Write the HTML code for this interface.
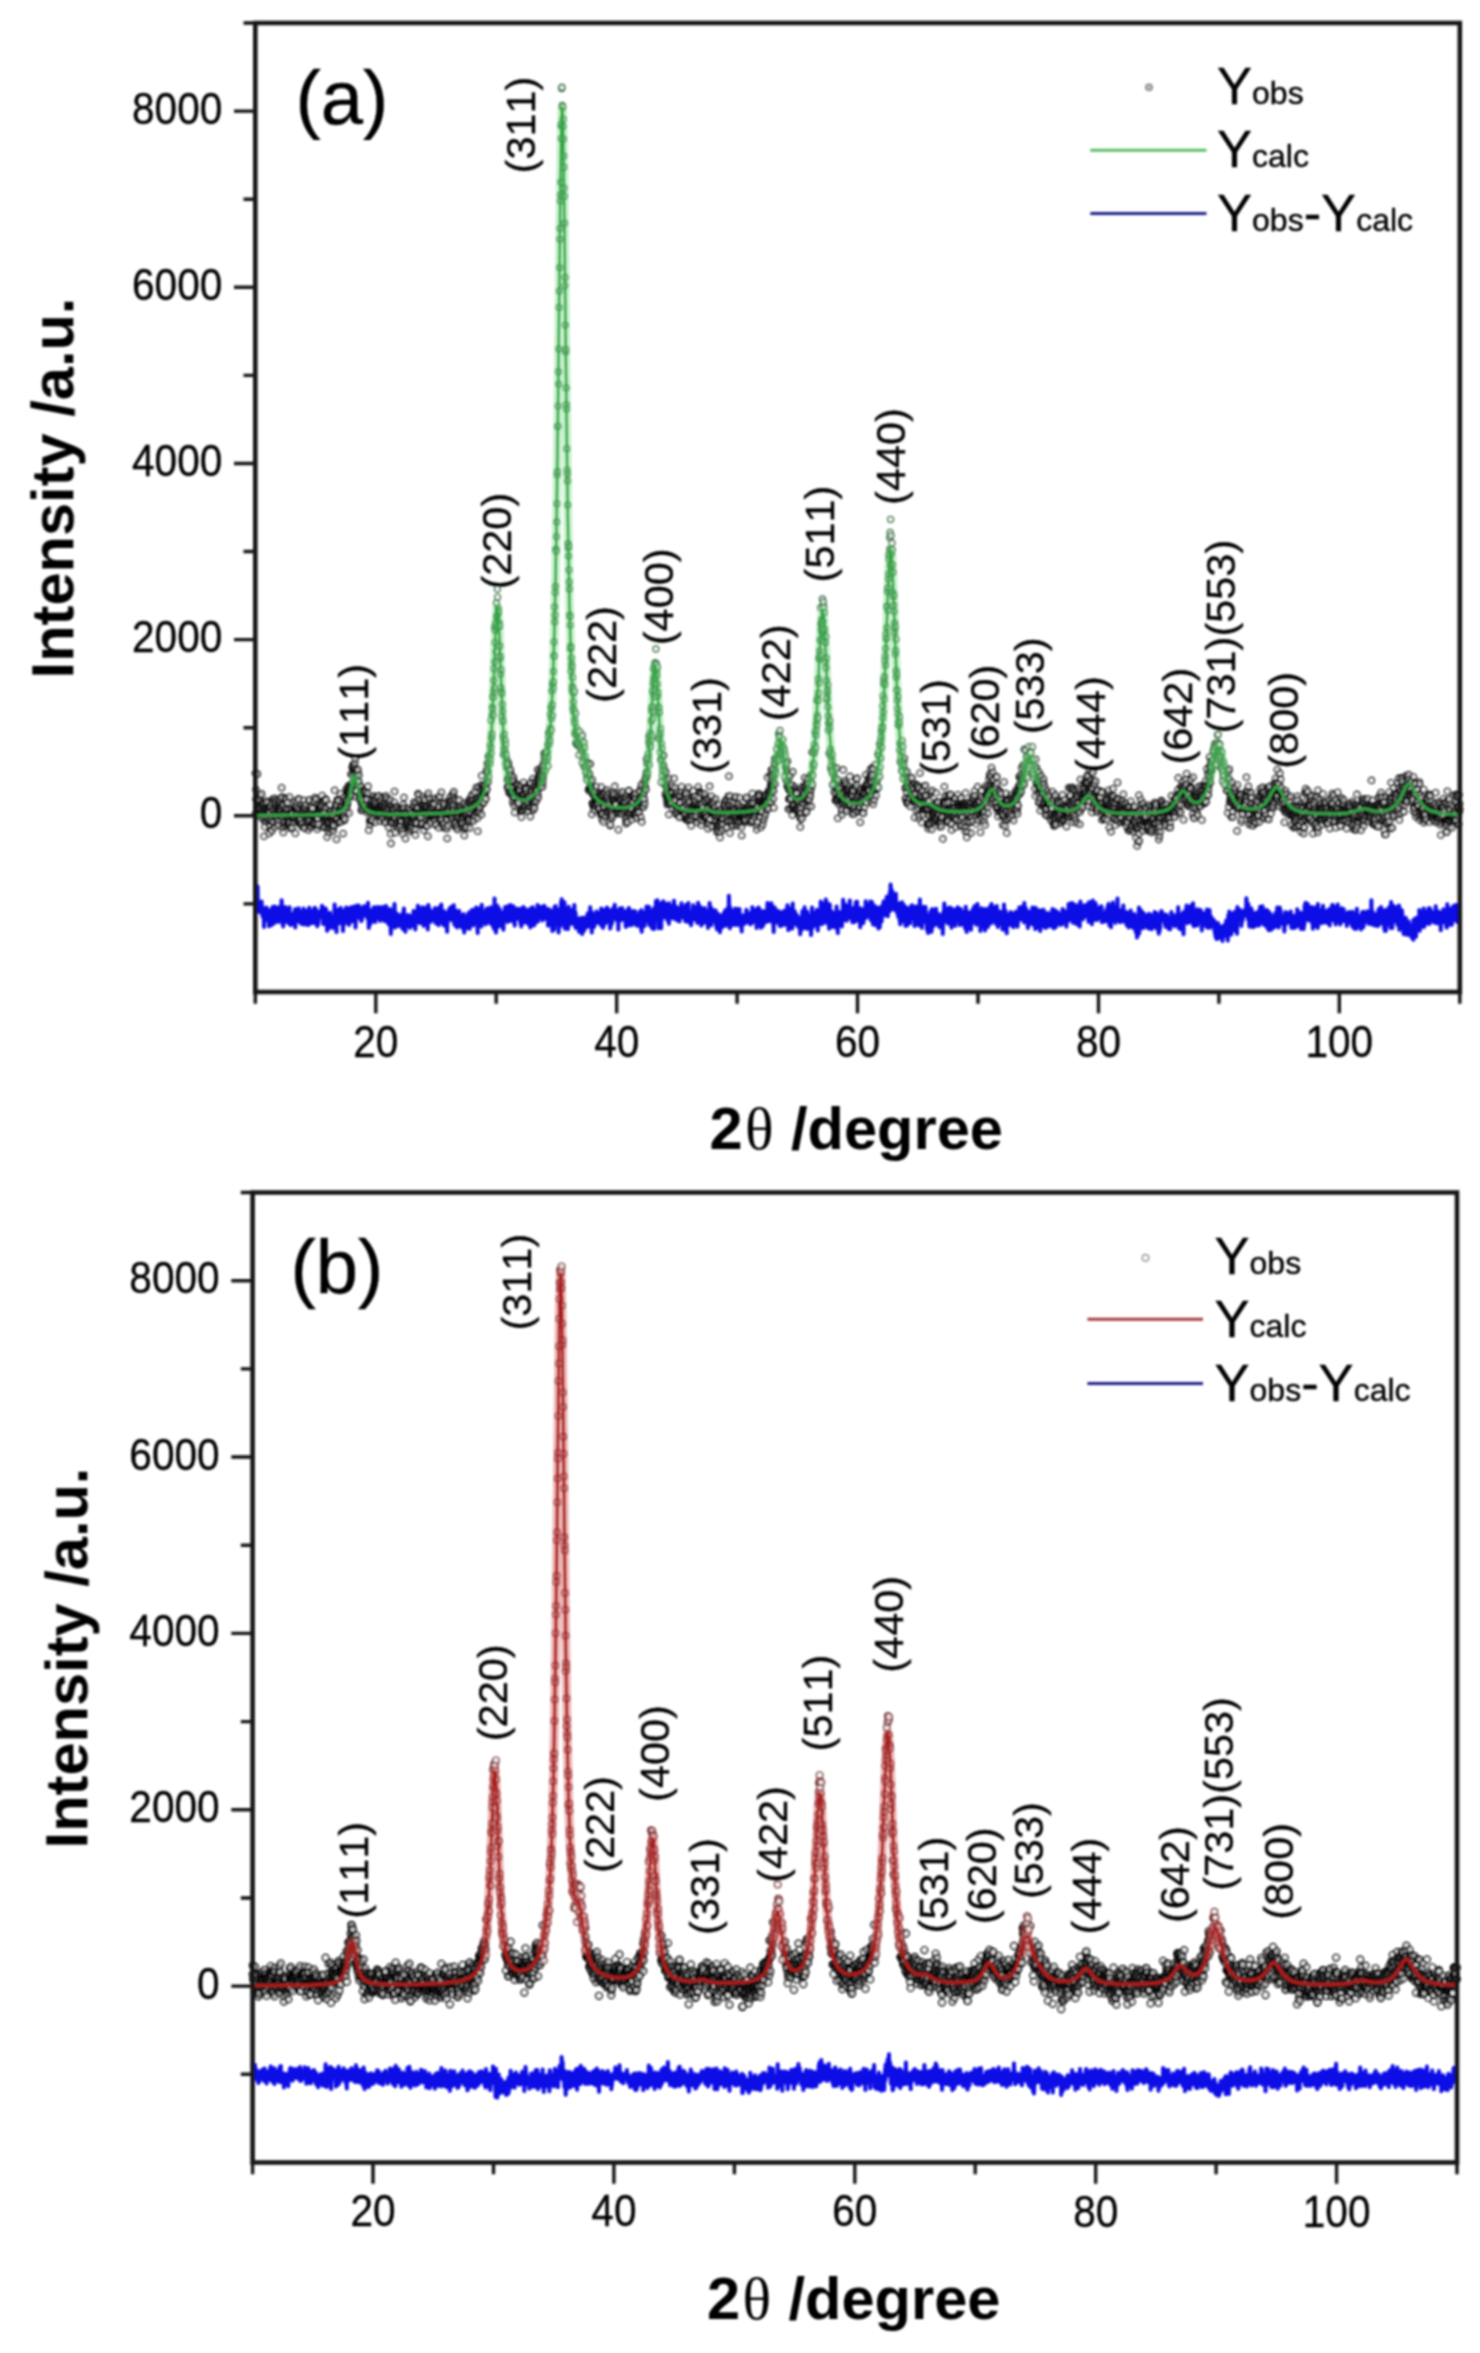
<!DOCTYPE html>
<html><head><meta charset="utf-8"><title>XRD Rietveld refinement</title>
<style>
html,body{margin:0;padding:0;background:#fff}
svg{display:block}
text{font-family:"Liberation Sans",Arial,sans-serif;fill:#000;font-kerning:none}
.tk text{font-size:40.6px;stroke:#000;stroke-width:.3px}
.ti{font-size:59.6px;font-weight:bold;fill:#000}
.th{font-family:"Liberation Serif","DejaVu Serif",serif;font-weight:normal}
.pl{font-size:76px;stroke:#000;stroke-width:.4px}
.pk text{font-size:41px;stroke:#000;stroke-width:.3px}
.lg text{font-size:52.5px;stroke:#000;stroke-width:.35px}
.sb{font-size:32px}
.ob{fill:none;stroke:none}
.oa{marker-start:url(#mk);marker-mid:url(#mk);marker-end:url(#mk)}
.obb{marker-start:url(#mk2);marker-mid:url(#mk2);marker-end:url(#mk2)}
.oap{marker-start:url(#mkp);marker-mid:url(#mkp);marker-end:url(#mkp)}
.obbp{marker-start:url(#mk2p);marker-mid:url(#mk2p);marker-end:url(#mk2p)}
</style></head><body>
<svg width="1480" height="2353" viewBox="0 0 1480 2353">
<defs><filter id="bl" x="0" y="0" width="1480" height="2353" filterUnits="userSpaceOnUse"><feGaussianBlur stdDeviation="0.85"/></filter><marker id="mk" markerUnits="userSpaceOnUse" markerWidth="8" markerHeight="8" refX="4" refY="4" overflow="visible"><circle cx="4" cy="4" r="2.9" fill="#fff" fill-opacity="0.58" stroke="#000" stroke-opacity="0.76" stroke-width="1.8"/></marker><marker id="mk2" markerUnits="userSpaceOnUse" markerWidth="9" markerHeight="9" refX="4.5" refY="4.5" overflow="visible"><circle cx="4.5" cy="4.5" r="3.2" fill="#fff" fill-opacity="0.55" stroke="#000" stroke-opacity="0.8" stroke-width="1.9"/></marker><marker id="mkp" markerUnits="userSpaceOnUse" markerWidth="8" markerHeight="8" refX="4" refY="4" overflow="visible"><circle cx="4" cy="4" r="2.9" fill="#fff" fill-opacity="0.75" stroke="#2c6a36" stroke-opacity="0.85" stroke-width="1.6"/></marker><marker id="mk2p" markerUnits="userSpaceOnUse" markerWidth="9" markerHeight="9" refX="4.5" refY="4.5" overflow="visible"><circle cx="4.5" cy="4.5" r="3.2" fill="#fff" fill-opacity="0.75" stroke="#782828" stroke-opacity="0.85" stroke-width="1.6"/></marker></defs>
<rect width="1480" height="2353" fill="#fff"/>
<g filter="url(#bl)">
<g>
<polyline class="ob oa" points="255.3,773.3 255.5,813.5 255.8,789.5 256,799.2 256.3,799.6 256.5,798.9 256.7,815.5 257,801.7 257.2,808.4 257.5,774.1 257.7,801.4 257.9,807.3 258.2,807.6 258.4,811.6 258.7,815.5 258.9,810.3 259.2,803.4 259.4,809.8 259.6,799.9 259.9,810 260.1,808.4 260.4,795.7 260.6,804.5 260.8,813.7 261.1,811.2 261.3,805.4 261.6,793.9 261.8,812.9 262,812.9 262.3,802.6 262.5,818.9 262.8,814 263,804.3 263.2,807 263.5,811.3 263.7,806.5 264,836.3 264.2,803.8 264.5,820.7 264.7,826.8 264.9,810.5 265.2,807 265.4,816.8 265.7,822.1 265.9,812.8 266.1,813.4 266.4,801 266.6,806.5 266.9,811 267.1,803.1 267.3,814.2 267.6,820.2 267.8,807.3 268.1,807.2 268.3,814 268.5,818.8 268.8,810.3 269,833.4 269.3,806.5 269.5,808.3 269.8,826.4 270,812 270.2,820.8 270.5,806.2 270.7,829.9 271,820.4 271.2,806.6 271.4,802.9 271.7,831 271.9,816.9 272.2,809.9 272.4,817.9 272.6,799.3 272.9,822.9 273.1,809.8 273.4,821.6 273.6,800.8 273.8,812.9 274.1,815.8 274.3,827.2 274.6,798.3 274.8,806.1 275.1,806 275.3,802.6 275.5,809.3 275.8,817.6 276,818.8 276.3,818.8 276.5,800.2 276.7,824.2 277,816.7 277.2,814.3 277.5,809.5 277.7,806.3 277.9,821.6 278.2,825.4 278.4,810.5 278.7,799.8 278.9,803.4 279.1,807.7 279.4,811.9 279.6,806.4 279.9,810.8 280.1,801.6 280.4,815.2 280.6,807.3 280.8,809.5 281.1,804.1 281.3,807.1 281.6,787.7 281.8,797 282,797.6 282.3,828.1 282.5,814.3 282.8,817.1 283,808 283.2,832.5 283.5,803.7 283.7,805.1 284,825.6 284.2,823.2 284.4,821.9 284.7,814.8 284.9,809.7 285.2,797.8 285.4,816.7 285.7,808.4 285.9,813.5 286.1,799.8 286.4,808.4 286.6,803 286.9,823.9 287.1,816.5 287.3,822.1 287.6,802.7 287.8,810.2 288.1,818.8 288.3,820.5 288.5,813 288.8,823.4 289,825.6 289.3,813.8 289.5,797.1 289.7,820.1 290,822.5 290.2,827.5 290.5,828.5 290.7,812.3 291,809.1 291.2,815.8 291.4,812.7 291.7,814.2 291.9,813.8 292.2,827.8 292.4,818.7 292.6,813.8 292.9,821.5 293.1,819.1 293.4,822.1 293.6,818.1 293.8,808.2 294.1,819 294.3,816.9 294.6,808.7 294.8,810.1 295,801.2 295.3,833.3 295.5,808.2 295.8,819.5 296,814.2 296.3,808.2 296.5,806.2 296.7,806.6 297,814.3 297.2,802.1 297.5,818.4 297.7,817.5 297.9,809.8 298.2,821.7 298.4,798.9 298.7,809 298.9,799.5 299.1,818.5 299.4,821.7 299.6,817.2 299.9,812.6 300.1,823.9 300.3,815.7 300.6,819.1 300.8,805.1 301.1,824.4 301.3,809.6 301.6,823.7 301.8,826 302,823.5 302.3,827 302.5,815.1 302.8,807 303,813.9 303.2,809.4 303.5,800.4 303.7,811.6 304,812 304.2,815.8 304.4,827.1 304.7,807 304.9,828.5 305.2,808.1 305.4,813.9 305.6,804.3 305.9,814.5 306.1,821 306.4,810.9 306.6,818.6 306.9,815.2 307.1,813.1 307.3,814.3 307.6,814.5 307.8,819.6 308.1,813.7 308.3,830 308.5,812.7 308.8,821.3 309,801.3 309.3,799.8 309.5,827.1 309.7,809.2 310,811.6 310.2,819.7 310.5,806.5 310.7,815.3 310.9,826.8 311.2,814.5 311.4,814 311.7,812.3 311.9,824.1 312.2,808.8 312.4,808.2 312.6,824.5 312.9,820.7 313.1,816 313.4,820.4 313.6,800.9 313.8,814.2 314.1,824.9 314.3,823.2 314.6,817.3 314.8,797.5 315,819 315.3,816.7 315.5,813.8 315.8,818.9 316,799.4 316.2,823.6 316.5,812.9 316.7,818 317,814 317.2,829.3 317.5,803.9 317.7,819.8 317.9,818.1 318.2,826 318.4,823.8 318.7,812.3 318.9,808.2 319.1,809.8 319.4,805.5 319.6,809.3 319.9,814.8 320.1,807.5 320.3,809.2 320.6,814.7 320.8,807.2 321.1,802.1 321.3,810.7 321.5,815.4 321.8,805.9 322,795.6 322.3,813.5 322.5,812.4 322.8,812.8 323,801.2 323.2,827.4 323.5,808.7 323.7,801.8 324,819.1 324.2,799.6 324.4,808 324.7,817.6 324.9,811.5 325.2,826.8 325.4,819 325.6,799.1 325.9,823 326.1,800.1 326.4,817.2 326.6,808.5 326.8,817.1 327.1,837.1 327.3,823 327.6,816.7 327.8,828.3 328.1,830 328.3,815.3 328.5,823.9 328.8,832.8 329,824 329.3,810.7 329.5,822.2 329.7,810.1 330,805 330.2,817.9 330.5,828 330.7,829.6 330.9,818.7 331.2,810.9 331.4,816.2 331.7,813.8 331.9,822.3 332.1,815.8 332.4,822.4 332.6,821 332.9,829.1 333.1,831.3 333.4,821.6 333.6,826.7 333.8,825 334.1,810.6 334.3,816.8 334.6,790.3 334.8,807 335,820 335.3,807.4 335.5,810.7 335.8,819.4 336,803.6 336.2,819.7 336.5,839.2 336.7,805.8 337,818 337.2,799.8 337.4,818.3 337.7,823 337.9,799.5 338.2,822.4 338.4,811.5 338.7,800.9 338.9,812.7 339.1,814.7 339.4,813.3 339.6,807 339.9,821.5 340.1,809.2 340.3,809.4 340.6,794 340.8,817 341.1,821.8 341.3,807.1 341.5,816.6 341.8,810.3 342,811.3 342.3,801.9 342.5,817.5 342.7,812.3 343,833.6 343.2,818.8 343.5,797.2 343.7,816.4 344,816.3 344.2,820.5 344.4,804.3 344.7,807.3 344.9,818.8 345.2,801.8 345.4,804.8 345.6,799.7 345.9,811.3 346.1,789.4 346.4,800.3 346.6,804.2 346.8,807 347.1,803.8 347.3,793.2 347.6,802.6 347.8,789.8 348,793.5 348.3,785.9 348.5,790 348.8,797.1 349,813 349.3,792.1 349.5,786.7 349.7,791.3 350,786.6 350.2,794.8 350.5,792.7 350.7,796.6 350.9,774.2 351.2,784 351.4,788.8 351.7,795.4 351.9,783.4 352.1,767.6 352.4,775.8 352.6,786.1 352.9,765.3 353.1,764.8 353.3,768.5 353.6,770 353.8,766.4 354.1,772 354.3,769.8 354.6,784.4 354.8,763.1 355,775.2 355.3,758.6 355.5,796.8 355.8,771.4 356,769 356.2,781.6 356.5,774.5 356.7,772.1 357,774.1 357.2,784.8 357.4,781.5 357.7,771.3 357.9,769.6 358.2,781.1 358.4,782 358.6,781.7 358.9,775 359.1,795.1 359.4,798.6 359.6,786.5 359.9,798.8 360.1,795.2 360.3,790.2 360.6,787.6 360.8,802.6 361.1,786.5 361.3,810.4 361.5,790.2 361.8,809.7 362,807.5 362.3,790.8 362.5,800.5 362.7,804.3 363,801.6 363.2,794 363.5,799 363.7,799.4 363.9,790.4 364.2,806.7 364.4,805.1 364.7,806.2 364.9,791.9 365.2,794.1 365.4,792 365.6,804.2 365.9,805.7 366.1,797.3 366.4,808.7 366.6,798.5 366.8,799.9 367.1,812.8 367.3,808 367.6,808.9 367.8,793.3 368,786.4 368.3,810.4 368.5,809.9 368.8,830.3 369,809 369.2,811.1 369.5,820.5 369.7,804.4 370,824.7 370.2,812.8 370.5,809.5 370.7,821.2 370.9,802.6 371.2,800.6 371.4,821.6 371.7,821.6 371.9,804.1 372.1,809.7 372.4,820 372.6,812.3 372.9,811 373.1,811.6 373.3,803.6 373.6,807.7 373.8,796 374.1,799.6 374.3,805.8 374.5,802.4 374.8,800.3 375,805.6 375.3,822.1 375.5,804 375.7,810.7 376,797.2 376.2,810.3 376.5,806.6 376.7,808.3 377,796.8 377.2,810 377.4,814.1 377.7,809.3 377.9,816 378.2,811 378.4,812.6 378.6,810.2 378.9,795.9 379.1,815.8 379.4,811.7 379.6,813.4 379.8,805.5 380.1,821.1 380.3,816.5 380.6,810.6 380.8,805.3 381,810.2 381.3,814.1 381.5,817.2 381.8,805.5 382,797.6 382.3,807.5 382.5,808.8 382.7,806.9 383,819 383.2,813.7 383.5,813.5 383.7,808.7 383.9,811.5 384.2,821.7 384.4,801.5 384.7,796.5 384.9,813.1 385.1,807.2 385.4,808.1 385.6,803.5 385.9,822.7 386.1,796 386.3,813.8 386.6,798.9 386.8,809.1 387.1,813.3 387.3,811.4 387.6,802.9 387.8,818.4 388,814.7 388.3,816.1 388.5,827.2 388.8,801.8 389,808.5 389.2,814 389.5,804.2 389.7,822.6 390,815.2 390.2,799.9 390.4,806.4 390.7,833.9 390.9,843.4 391.2,823.6 391.4,805.5 391.6,818.6 391.9,816.3 392.1,809 392.4,821.7 392.6,812.1 392.9,807 393.1,809.6 393.3,810.1 393.6,818.6 393.8,808.9 394.1,817 394.3,802.2 394.5,791.5 394.8,820.1 395,832.7 395.3,818.1 395.5,811.7 395.7,806.5 396,806.7 396.2,823.2 396.5,823.8 396.7,806.7 396.9,827.3 397.2,809 397.4,820.7 397.7,812.5 397.9,813.2 398.2,812.8 398.4,812.6 398.6,828.3 398.9,817.3 399.1,819.8 399.4,817.2 399.6,809.3 399.8,822.1 400.1,825.7 400.3,825.8 400.6,822.1 400.8,812.8 401,826.1 401.3,809.1 401.5,816.4 401.8,820.8 402,830.2 402.2,816.6 402.5,812.8 402.7,833.8 403,808.4 403.2,804.4 403.5,815.6 403.7,814.2 403.9,797.6 404.2,807.7 404.4,825.9 404.7,818.3 404.9,819.5 405.1,819.5 405.4,838.6 405.6,812 405.9,824.2 406.1,817.6 406.3,820.5 406.6,812.2 406.8,822.5 407.1,827.1 407.3,816 407.5,808.8 407.8,823.9 408,809.6 408.3,819.2 408.5,826.1 408.8,808.5 409,828.5 409.2,812.7 409.5,825.5 409.7,817.1 410,831.2 410.2,827.4 410.4,810.6 410.7,817.6 410.9,818.3 411.2,821.9 411.4,813.8 411.6,829.2 411.9,826.4 412.1,817.9 412.4,823.6 412.6,822.4 412.8,817 413.1,817.6 413.3,818.5 413.6,802.4 413.8,808.2 414.1,806.4 414.3,817.3 414.5,821.5 414.8,829.6 415,820.1 415.3,834.9 415.5,822 415.7,810.3 416,802.8 416.2,808.3 416.5,823.9 416.7,812.2 416.9,823.1 417.2,809.1 417.4,817 417.7,808.5 417.9,793.6 418.1,807.5 418.4,795.2 418.6,813.4 418.9,817.4 419.1,802.7 419.4,799 419.6,818.2 419.8,812.5 420.1,825.1 420.3,814.3 420.6,804.8 420.8,813 421,817.1 421.3,824.2 421.5,809 421.8,805.4 422,807.1 422.2,810.1 422.5,823.2 422.7,797.1 423,812.6 423.2,813.3 423.4,805.6 423.7,830.3 423.9,812.1 424.2,812.5 424.4,807.9 424.7,799.4 424.9,806.7 425.1,826.4 425.4,813.5 425.6,808.8 425.9,809.3 426.1,821.6 426.3,825 426.6,806.1 426.8,808 427.1,811.2 427.3,826 427.5,796 427.8,836.2 428,814.4 428.3,793.2 428.5,812.4 428.7,809 429,821 429.2,799 429.5,821.7 429.7,808.3 430,809.3 430.2,819.5 430.4,802.9 430.7,822.9 430.9,816.8 431.2,811.4 431.4,815 431.6,807.7 431.9,804 432.1,814.7 432.4,817 432.6,816.9 432.8,815.6 433.1,805.4 433.3,814.1 433.6,808.5 433.8,812.6 434,818.9 434.3,804 434.5,820.2 434.8,811 435,798.2 435.3,820.5 435.5,811.6 435.7,825 436,816 436.2,824.7 436.5,815.3 436.7,817.1 436.9,811.6 437.2,799.3 437.4,810.6 437.7,807.4 437.9,813.4 438.1,815 438.4,819.8 438.6,827.8 438.9,811.4 439.1,797.6 439.3,807.1 439.6,815.4 439.8,796.3 440.1,813.9 440.3,815.3 440.6,820.2 440.8,817.9 441,811.7 441.3,792.3 441.5,811.4 441.8,818.7 442,815.2 442.2,812.2 442.5,825.4 442.7,809.9 443,805.3 443.2,809 443.4,807.1 443.7,823.8 443.9,827.8 444.2,802.5 444.4,804.5 444.6,827.5 444.9,812.6 445.1,814.3 445.4,809.9 445.6,812.7 445.9,818.7 446.1,812.4 446.3,812.5 446.6,813.8 446.8,829 447.1,838.5 447.3,819 447.5,825.9 447.8,809.2 448,804.9 448.3,808.6 448.5,813.8 448.7,809.8 449,800.2 449.2,816.4 449.5,801.9 449.7,803.6 449.9,807.2 450.2,796.8 450.4,815.4 450.7,800.9 450.9,817 451.2,815.5 451.4,818 451.6,805 451.9,817.1 452.1,808.6 452.4,819 452.6,800 452.8,793.6 453.1,807.8 453.3,795.7 453.6,805.4 453.8,791.8 454,810.1 454.3,825 454.5,798.8 454.8,813.2 455,821.4 455.2,818.4 455.5,827.1 455.7,814.6 456,822.6 456.2,800.4 456.5,807.5 456.7,827.6 456.9,826.2 457.2,817.9 457.4,829.6 457.7,813.7 457.9,813 458.1,819.4 458.4,817.4 458.6,808.4 458.9,800.5 459.1,800 459.3,812.9 459.6,806.1 459.8,820.2 460.1,810.4 460.3,822.7 460.5,808.2 460.8,825.6 461,823.4 461.3,815.2 461.5,810.3 461.8,827.8 462,820 462.2,814.2 462.5,813.4 462.7,822.8 463,814.6 463.2,817.9 463.4,803.4 463.7,810.9 463.9,827.5 464.2,835.4 464.4,815.4 464.6,806.1 464.9,815 465.1,808.9 465.4,820.8 465.6,828.3 465.8,809.6 466.1,815 466.3,809.5 466.6,827.1 466.8,813 467.1,819.6 467.3,806.7 467.5,818.5 467.8,818.4 468,818 468.3,801.5 468.5,812.2 468.7,819.1 469,821.3 469.2,821.4 469.5,799.3 469.7,828 469.9,819.3 470.2,806 470.4,801 470.7,812.4 470.9,803.9 471.1,803.8 471.4,801.4 471.6,809.4 471.9,794.9 472.1,807.2 472.4,795.2 472.6,818.2 472.8,799.9 473.1,819 473.3,821 473.6,803.1 473.8,814.6 474,803.1 474.3,816.4 474.5,792.5 474.8,806.5 475,816.5 475.2,804.7 475.5,798.3 475.7,812.9 476,801.3 476.2,787.5 476.4,797.9 476.7,805.5 476.9,810.2 477.2,799.7 477.4,818 477.7,831.3 477.9,809.7 478.1,813.1 478.4,787.4 478.6,801.4 478.9,811.2 479.1,812.5 479.3,797.3 479.6,809 479.8,806.6 480.1,802.1 480.3,800.3 480.5,800 480.8,799.6 481,788.6 481.3,784.7 481.5,814.6 481.7,775.8 482,797.4 482.2,786.7 482.5,804 482.7,793.7 483,794 483.2,794.2 483.4,786.7 483.7,788 483.9,802.2 484.2,793.4 484.4,785 484.6,784.6 484.9,793.3 485.1,792.1 485.4,790.1 485.6,798.1 485.8,798.9 486.1,771.5 486.3,788.7 486.6,783 486.8,789.6 487,769.2 487.3,763.5 487.5,780.3 487.8,771.8 488,782 488.3,756.4 488.5,762.4 506.6,759.2 506.8,767.6 507,765.3 507.3,780.1 507.5,786.8 507.8,788.5 508,778 508.2,762.8 508.5,765.3 508.7,786.6 509,792.7 509.2,771.7 509.4,775.5 509.7,793.1 509.9,771.2 510.2,779.9 510.4,769.8 510.7,779.4 510.9,774.9 511.1,780.6 511.4,793 511.6,787.1 511.9,791.9 512.1,778.9 512.3,796.4 512.6,802.1 512.8,782.7 513.1,779.2 513.3,777.1 513.5,781 513.8,805.2 514,798.2 514.3,797.3 514.5,792.9 514.7,812.5 515,793.4 515.2,791.2 515.5,802.6 515.7,793.3 516,783.9 516.2,794.6 516.4,785.8 516.7,786.4 516.9,792.1 517.2,792.5 517.4,799.5 517.6,785 517.9,800.6 518.1,802.7 518.4,790.2 518.6,803.2 518.8,792.9 519.1,787.3 519.3,796.2 519.6,796.1 519.8,788.9 520,790.6 520.3,811.4 520.5,809.5 520.8,785.9 521,794.6 521.3,817.1 521.5,810.7 521.7,798.6 522,807.9 522.2,795.1 522.5,798.8 522.7,795.3 522.9,810.5 523.2,794.4 523.4,782.5 523.7,807.2 523.9,788.1 524.1,790.9 524.4,793.8 524.6,799.9 524.9,809.4 525.1,806.6 525.3,791.4 525.6,789.2 525.8,786.7 526.1,788.9 526.3,789.3 526.6,801.2 526.8,808.1 527,795.4 527.3,792.8 527.5,796.6 527.8,811.2 528,802.3 528.2,811.1 528.5,796.6 528.7,807.4 529,799.4 529.2,794.9 529.4,796.4 529.7,785.1 529.9,807.2 530.2,816.6 530.4,787.9 530.6,783.4 530.9,782.8 531.1,793 531.4,790.5 531.6,794.3 531.9,807.2 532.1,800.7 532.3,791.2 532.6,801.2 532.8,778.8 533.1,810.3 533.3,800.3 533.5,786.3 533.8,801.8 534,806.4 534.3,808.3 534.5,802.2 534.7,781.5 535,791.1 535.2,789.8 535.5,798.8 535.7,785.9 535.9,792.1 536.2,801 536.4,796.2 536.7,789.5 536.9,780 537.2,790.5 537.4,784.5 537.6,769.7 537.9,794.6 538.1,797.7 538.4,776.2 538.6,780.1 538.8,784 539.1,779.5 539.3,783.9 539.6,775 539.8,781.9 540,770.3 540.3,787.6 540.5,783.5 540.8,774.1 541,778.8 541.2,767.4 541.5,773.8 541.7,778 542,770.7 542.2,777.4 542.5,786.8 542.7,782.8 542.9,779.5 543.2,776.3 543.4,770.7 543.7,762.8 543.9,765.7 544.1,753.6 544.4,757.7 544.6,770.7 587,777 587.3,769.5 587.5,762.5 587.7,775.9 588,763.6 588.2,778.1 588.5,789.5 588.7,774.6 588.9,790.6 589.2,779 589.4,773.9 589.7,787.8 589.9,786.7 590.2,764 590.4,785.5 590.6,786.1 590.9,782.2 591.1,791.1 591.4,791.7 591.6,788.1 591.8,814.2 592.1,779.9 592.3,803.2 592.6,803.8 592.8,789.5 593,794.7 593.3,806.7 593.5,793.8 593.8,806.5 594,802.8 594.2,810.6 594.5,804.9 594.7,794.3 595,797.4 595.2,796.3 595.5,791.3 595.7,800.6 595.9,806.7 596.2,803.8 596.4,786.8 596.7,801.6 596.9,799.2 597.1,803.1 597.4,800 597.6,798.3 597.9,802.2 598.1,803.3 598.3,808.8 598.6,809.2 598.8,797.8 599.1,794.6 599.3,792.9 599.5,800.7 599.8,808.6 600,795.6 600.3,795.7 600.5,814.8 600.8,794.4 601,796.5 601.2,787.1 601.5,812.4 601.7,814.1 602,796 602.2,819.5 602.4,810.4 602.7,814 602.9,813.6 603.2,821.9 603.4,807.2 603.6,796.5 603.9,801.2 604.1,800.9 604.4,807.8 604.6,791.3 604.8,799 605.1,793.8 605.3,816.4 605.6,799 605.8,811.7 606.1,798 606.3,798.9 606.5,810.4 606.8,798.7 607,790 607.3,796 607.5,795.5 607.7,808.8 608,807.7 608.2,812.2 608.5,801.9 608.7,793.4 608.9,801 609.2,805.7 609.4,816.5 609.7,803.5 609.9,810.3 610.1,825.6 610.4,824.5 610.6,812.6 610.9,817.7 611.1,795.2 611.4,809.3 611.6,818.4 611.8,813.1 612.1,794.1 612.3,815.8 612.6,800 612.8,802.2 613,792.4 613.3,800.1 613.5,807.9 613.8,799.3 614,803.2 614.2,795.1 614.5,804.3 614.7,786.4 615,805 615.2,800.5 615.4,810.4 615.7,803.9 615.9,805.1 616.2,804.2 616.4,798 616.6,810.9 616.9,813.8 617.1,796.7 617.4,809.1 617.6,812.5 617.9,796.5 618.1,799.8 618.3,829.8 618.6,809.9 618.8,799.7 619.1,799.3 619.3,811.1 619.5,793 619.8,813.7 620,808.9 620.3,805.8 620.5,807 620.7,800 621,798.1 621.2,807.5 621.5,794.8 621.7,813.1 621.9,808.9 622.2,791.9 622.4,806.1 622.7,797.6 622.9,810.8 623.2,809.4 623.4,808.1 623.6,805.8 623.9,810.5 624.1,807.7 624.4,802.2 624.6,797.8 624.8,807.8 625.1,803.4 625.3,801.4 625.6,819.1 625.8,823.7 626,795.8 626.3,798.5 626.5,809.6 626.8,806.9 627,818.1 627.2,821.7 627.5,806.4 627.7,821.9 628,800.5 628.2,814.2 628.5,805.3 628.7,790.6 628.9,790.9 629.2,809.8 629.4,797.9 629.7,816.5 629.9,812.7 630.1,804.5 630.4,795.7 630.6,813.2 630.9,803.6 631.1,807.7 631.3,819.8 631.6,810 631.8,795.6 632.1,809.6 632.3,804.3 632.5,801.3 632.8,815 633,797.5 633.3,795 633.5,794 633.8,796.4 634,812.1 634.2,813.1 634.5,814.7 634.7,815.7 635,814.5 635.2,798.4 635.4,793.9 635.7,812.2 635.9,798.8 636.2,816.8 636.4,807.9 636.6,813.3 636.9,818.4 637.1,802.9 637.4,802.3 637.6,806.3 637.8,807 638.1,811 638.3,803.2 638.6,807.3 638.8,799.7 639.1,812.6 639.3,799.7 639.5,797.1 639.8,790.4 640,792 640.3,799.5 640.5,807.1 640.7,817.2 641,800.4 641.2,787.1 641.5,784.4 641.7,821.9 641.9,805.1 642.2,800.8 642.4,806.3 642.7,794.4 642.9,794.9 643.1,799.1 643.4,793.8 643.6,807.1 643.9,800.5 644.1,798.9 644.4,781.4 644.6,803.7 644.8,789.7 645.1,779.5 645.3,786.1 645.6,777 645.8,789.5 646,778.3 646.3,772.7 646.5,759 646.8,771.7 647,763.6 647.2,775.3 662.9,771.3 663.1,755.6 663.4,755.6 663.6,765.6 663.9,783.7 664.1,772.9 664.3,769.9 664.6,778.3 664.8,779.1 665.1,780.6 665.3,794 665.6,784 665.8,772 666,796.4 666.3,786.9 666.5,780.4 666.8,800.9 667,790.1 667.2,804.8 667.5,795.3 667.7,803.1 668,798.9 668.2,795.7 668.4,794.3 668.7,794.1 668.9,814.5 669.2,778.8 669.4,795.9 669.6,803.7 669.9,799.8 670.1,791.6 670.4,803.7 670.6,798.7 670.9,799.5 671.1,790.8 671.3,802.6 671.6,792.3 671.8,793.6 672.1,798.5 672.3,786.6 672.5,797.9 672.8,809 673,796.2 673.3,798 673.5,799.7 673.7,797.4 674,778.6 674.2,797.5 674.5,795.5 674.7,801.7 674.9,787.8 675.2,799.9 675.4,806.5 675.7,810.3 675.9,795 676.2,793.3 676.4,814.3 676.6,807 676.9,795.4 677.1,792.5 677.4,813.8 677.6,806.3 677.8,795.8 678.1,808.4 678.3,808.1 678.6,809.2 678.8,816.3 679,804.5 679.3,802.4 679.5,817.4 679.8,804.1 680,795.1 680.2,802.8 680.5,796 680.7,808.9 681,791.8 681.2,810.5 681.5,786.8 681.7,807.2 681.9,809.5 682.2,811 682.4,806.9 682.7,807.7 682.9,809.6 683.1,806.7 683.4,798.2 683.6,796.6 683.9,807.6 684.1,794 684.3,813.8 684.6,814.2 684.8,815.2 685.1,800.2 685.3,819 685.5,817.7 685.8,794.3 686,790.5 686.3,793.7 686.5,818.5 686.8,805.3 687,798.2 687.2,804.7 687.5,819.8 687.7,808.8 688,820.8 688.2,816.8 688.4,787.5 688.7,800.5 688.9,819.5 689.2,820 689.4,803.1 689.6,812.7 689.9,802.6 690.1,813.6 690.4,810 690.6,806.5 690.8,817.8 691.1,825.8 691.3,819.6 691.6,815.4 691.8,811.1 692.1,809.8 692.3,809.8 692.5,804.6 692.8,816.7 693,796.5 693.3,791 693.5,805 693.7,806.3 694,796.8 694.2,801.8 694.5,805.6 694.7,808.5 694.9,813.3 695.2,816.9 695.4,800.7 695.7,795.9 695.9,815.3 696.1,806.6 696.4,803.9 696.6,809.4 696.9,812.2 697.1,808.9 697.4,822.6 697.6,805.9 697.8,808 698.1,787 698.3,797.5 698.6,808.8 698.8,806.1 699,791.3 699.3,792.5 699.5,805.3 699.8,808.3 700,820.2 700.2,810.7 700.5,809.6 700.7,814.7 701,793.3 701.2,825 701.4,809.9 701.7,805.2 701.9,804.9 702.2,794 702.4,821.1 702.7,815.4 702.9,807.9 703.1,807.6 703.4,812.2 703.6,815.5 703.9,799.3 704.1,818 704.3,813.9 704.6,796.2 704.8,793.7 705.1,801.3 705.3,816.6 705.5,816.6 705.8,817.2 706,819.4 706.3,813.3 706.5,798.6 706.7,808 707,816.9 707.2,817.3 707.5,821 707.7,800.3 708,828.7 708.2,808.7 708.4,823.7 708.7,820.3 708.9,823.9 709.2,802.2 709.4,811.1 709.6,786.2 709.9,818.9 710.1,819.1 710.4,804.1 710.6,804.1 710.8,811.3 711.1,826.4 711.3,796.2 711.6,803.9 711.8,805.5 712,814.3 712.3,803.8 712.5,814.6 712.8,809.7 713,812.2 713.3,800.1 713.5,815.6 713.7,815.1 714,803.1 714.2,811.3 714.5,814.1 714.7,816.6 714.9,806.8 715.2,821.3 715.4,812.1 715.7,799 715.9,813.6 716.1,824.3 716.4,828.3 716.6,816.9 716.9,829 717.1,832.4 717.3,825.3 717.6,828.3 717.8,811.3 718.1,831.4 718.3,805.1 718.6,825.2 718.8,817.6 719,812.6 719.3,816.4 719.5,811.9 719.8,826.5 720,837.5 720.2,819.4 720.5,832.1 720.7,822.4 721,809 721.2,818.7 721.4,821.9 721.7,826.3 721.9,818.8 722.2,817.5 722.4,829.4 722.6,812.8 722.9,824.4 723.1,813 723.4,818.5 723.6,805.8 723.9,806.8 724.1,814.1 724.3,815 724.6,810.2 724.8,802 725.1,804.6 725.3,812.4 725.5,811 725.8,799.9 726,827.6 726.3,808.6 726.5,820.8 726.7,801 727,816.8 727.2,813.1 727.5,821.2 727.7,811.3 727.9,804.3 728.2,796.3 728.4,821.5 728.7,814.1 728.9,776.2 729.2,801.7 729.4,809.9 729.6,805.3 729.9,833 730.1,796.1 730.4,808.9 730.6,823 730.8,800.8 731.1,816.8 731.3,820.6 731.6,807.6 731.8,809 732,816.8 732.3,813.7 732.5,824.9 732.8,825.9 733,805.7 733.2,802.1 733.5,809.8 733.7,810.2 734,816.9 734.2,814.6 734.5,821.5 734.7,798.2 734.9,818.4 735.2,809.9 735.4,813.5 735.7,825.7 735.9,796.8 736.1,816.9 736.4,820.3 736.6,812.7 736.9,821.5 737.1,813.4 737.3,822 737.6,808.8 737.8,813.2 738.1,825.5 738.3,804.7 738.5,812 738.8,823.2 739,810.6 739.3,810 739.5,797.7 739.7,821.6 740,806.9 740.2,815.5 740.5,809.8 740.7,817.8 741,816.5 741.2,812.2 741.4,827.2 741.7,835.5 741.9,817.6 742.2,821.6 742.4,817.1 742.6,812.2 742.9,819.6 743.1,807.2 743.4,817.7 743.6,816 743.8,809.5 744.1,811.3 744.3,816.9 744.6,814.8 744.8,822.3 745,820.9 745.3,814.6 745.5,808.4 745.8,819.3 746,808.3 746.3,798.9 746.5,797.2 746.7,815.9 747,807.1 747.2,811.1 747.5,809.6 747.7,809.2 747.9,812 748.2,809.3 748.4,814.8 748.7,818.6 748.9,814 749.1,811.8 749.4,805.2 749.6,812.5 749.9,808.9 750.1,802.6 750.3,822.8 750.6,816.5 750.8,809 751.1,812.9 751.3,821.4 751.6,803.2 751.8,811.8 752,819.4 752.3,793.5 752.5,820.8 752.8,809.4 753,814.8 753.2,807.8 753.5,803.7 753.7,815.8 754,809.6 754.2,809.9 754.4,817.6 754.7,798.6 754.9,807.3 755.2,811.3 755.4,814.6 755.6,811.5 755.9,807.1 756.1,812.1 756.4,796.7 756.6,829.6 756.9,825.7 757.1,808.7 757.3,822.3 757.6,806.3 757.8,811.2 758.1,800.2 758.3,801.5 758.5,793.7 758.8,797.2 759,794.4 759.3,801 759.5,796.5 759.7,801.7 760,811.5 760.2,817.4 760.5,817.1 760.7,802.1 760.9,827.3 761.2,804.5 761.4,812.5 761.7,799 761.9,803.4 762.2,811.5 762.4,804.5 762.6,824.5 762.9,801.7 763.1,799.8 763.4,820.2 763.6,796.3 763.8,805.1 764.1,802.6 764.3,817 764.6,799.2 764.8,799.6 765,805.1 765.3,813.9 765.5,798.5 765.8,794.2 766,801.7 766.2,796.1 766.5,810 766.7,803 767,800.6 767.2,802 767.5,777.4 767.7,798.1 767.9,806 768.2,792.6 768.4,808.7 768.7,794.6 768.9,789.8 769.1,800.1 769.4,797.5 769.6,802.1 769.9,791.4 770.1,797.8 770.3,775.2 770.6,784.3 770.8,791.6 771.1,802 771.3,770 771.5,776.3 771.8,783.6 772,785.7 772.3,785.7 772.5,791.2 772.8,769.1 773,784.1 773.2,798.7 773.5,790.7 773.7,807.7 774,776.4 774.2,774.2 774.4,763.3 774.7,758.6 774.9,783.9 775.2,770.4 775.4,763.2 785.8,766.5 786,767.6 786.2,780.4 786.5,773.1 786.7,771.2 787,781.4 787.2,786.2 787.4,761.3 787.7,774.5 787.9,784.5 788.2,787.6 788.4,809 788.7,799.2 788.9,789.8 789.1,777.1 789.4,809.3 789.6,798.1 789.9,775.4 790.1,787.9 790.3,791.3 790.6,785 790.8,797.7 791.1,798.9 791.3,791.3 791.5,790.5 791.8,808.3 792,785 792.3,815.1 792.5,805.8 792.7,771.9 793,804.7 793.2,794.4 793.5,809.8 793.7,804 794,808 794.2,805.5 794.4,796.4 794.7,787 794.9,795.3 795.2,789.6 795.4,808.7 795.6,791.3 795.9,799.9 796.1,792.9 796.4,809.4 796.6,807.9 796.8,793.7 797.1,800.8 797.3,805.4 797.6,812.7 797.8,807.5 798,802.3 798.3,800.2 798.5,811.7 798.8,809.7 799,802.6 799.3,816.3 799.5,797.7 799.7,805.9 800,806.7 800.2,826.9 800.5,819.1 800.7,813.5 800.9,808.9 801.2,812.8 801.4,798.8 801.7,800.3 801.9,803.1 802.1,818.3 802.4,786.5 802.6,801 802.9,792.5 803.1,803.4 803.3,796.9 803.6,790.3 803.8,794.2 804.1,787.4 804.3,797.7 804.6,777.8 804.8,813.1 805,800.8 805.3,786.7 805.5,797.8 805.8,799.4 806,811.3 806.2,783.8 806.5,811.9 806.7,789.5 807,792 807.2,785.3 807.4,779.5 807.7,798.9 807.9,799.4 808.2,794.4 808.4,806.8 808.6,782.9 808.9,793.6 809.1,787.8 809.4,799.2 809.6,788 809.9,793.1 810.1,787.3 810.3,795.9 810.6,775.1 810.8,789.7 811.1,806.4 811.3,775 811.5,782.3 811.8,786.2 812,752.3 833.2,770.4 833.5,766.5 833.7,785.2 833.9,773.6 834.2,791.8 834.4,782.1 834.7,778.2 834.9,786.8 835.1,784.6 835.4,800.4 835.6,794.3 835.9,787.6 836.1,800.7 836.4,798 836.6,768.1 836.8,788.7 837.1,799.1 837.3,801.4 837.6,779.5 837.8,818.3 838,796.3 838.3,787.9 838.5,799.2 838.8,789.7 839,804.5 839.2,795.4 839.5,795.3 839.7,796 840,795.2 840.2,796.5 840.4,787 840.7,799.8 840.9,802.9 841.2,800.2 841.4,800.3 841.7,811.3 841.9,814.7 842.1,809.4 842.4,794.3 842.6,802.6 842.9,799.9 843.1,769.9 843.3,785.3 843.6,797 843.8,800.4 844.1,781.9 844.3,801 844.5,782.4 844.8,788 845,780.7 845.3,799.6 845.5,784.9 845.7,809.5 846,794.9 846.2,784 846.5,787.8 846.7,810.9 847,788.6 847.2,791 847.4,796 847.7,802.1 847.9,798.3 848.2,801 848.4,787.4 848.6,791.6 848.9,786.1 849.1,789.4 849.4,807 849.6,794.3 849.8,776.4 850.1,805.7 850.3,793.4 850.6,803.3 850.8,804.6 851,795.2 851.3,789.4 851.5,791.2 851.8,794.5 852,790.5 852.3,814.1 852.5,792.5 852.7,796.5 853,802.1 853.2,800.7 853.5,808.4 853.7,790.4 853.9,807.5 854.2,813.9 854.4,800.6 854.7,805.6 854.9,800.8 855.1,786.4 855.4,800.9 855.6,798.3 855.9,778.9 856.1,811.5 856.3,795.5 856.6,788.2 856.8,785 857.1,778.4 857.3,804.3 857.5,792.9 857.8,799.2 858,802.3 858.3,804.7 858.5,811.3 858.8,795.2 859,791.4 859.2,807.7 859.5,791.4 859.7,803.3 860,807.6 860.2,822.2 860.4,788.9 860.7,792.6 860.9,802.1 861.2,802.9 861.4,811.3 861.6,795 861.9,800.3 862.1,794.8 862.4,797.9 862.6,812 862.8,813.1 863.1,794.8 863.3,813.3 863.6,794.9 863.8,788.5 864.1,807.6 864.3,789.1 864.5,794 864.8,788.9 865,798.8 865.3,792.6 865.5,788.1 865.7,774.9 866,784.5 866.2,786.5 866.5,802.7 866.7,787.8 866.9,796.9 867.2,791.3 867.4,788.2 867.7,781.7 867.9,785.1 868.1,788.6 868.4,790.7 868.6,777.7 868.9,797.9 869.1,789.2 869.4,776.7 869.6,790.7 869.8,781 870.1,780 870.3,769.6 870.6,777 870.8,802.1 871,786.5 871.3,783.4 871.5,778.1 871.8,781.9 872,767.8 872.2,774.9 872.5,796 872.7,791 873,804.3 873.2,769.2 873.4,786.5 873.7,786.6 873.9,800 874.2,789.2 874.4,780.9 874.7,788.4 874.9,787.9 875.1,789.5 875.4,764.6 875.6,787.7 875.9,795.6 876.1,786.1 876.3,783.9 876.6,780.7 876.8,781.3 877.1,788.7 877.3,778.9 877.5,772.2 877.8,788 903.3,761.8 903.6,761.7 903.8,766.9 904,774.9 904.3,758.2 904.5,778.4 904.8,771.2 905,772.4 905.2,788.3 905.5,798.5 905.7,798.4 906,786.7 906.2,780.5 906.5,801.3 906.7,792.1 906.9,771.7 907.2,803.5 907.4,783 907.7,784.7 907.9,781.2 908.1,802.8 908.4,786.5 908.6,803 908.9,778.1 909.1,798.9 909.3,787.7 909.6,798.8 909.8,790.4 910.1,806.2 910.3,789.6 910.5,787 910.8,793 911,778.4 911.3,790.3 911.5,786.9 911.8,789.9 912,777.7 912.2,801.4 912.5,798.2 912.7,798 913,790.6 913.2,794.1 913.4,788.9 913.7,793.9 913.9,801.4 914.2,797.3 914.4,792.7 914.6,817.6 914.9,784 915.1,802 915.4,800.1 915.6,794.6 915.8,799.4 916.1,810.6 916.3,799.6 916.6,785.1 916.8,788.4 917.1,786.9 917.3,803.5 917.5,800.7 917.8,789.5 918,785.9 918.3,799.6 918.5,809.1 918.7,818.4 919,788.3 919.2,815.5 919.5,798.2 919.7,794.4 919.9,773.1 920.2,801.4 920.4,804.4 920.7,799.3 920.9,799 921.1,791.4 921.4,797.4 921.6,810.6 921.9,822.8 922.1,800.6 922.4,809.3 922.6,789.9 922.8,814.6 923.1,800.4 923.3,808.7 923.6,809.9 923.8,786.4 924,800.2 924.3,803.5 924.5,795.2 924.8,809.5 925,806.1 925.2,809.1 925.5,785.6 925.7,801.5 926,799.5 926.2,795.9 926.4,808.7 926.7,809.3 926.9,823.8 927.2,805.1 927.4,807.9 927.7,814.9 927.9,800.6 928.1,828.8 928.4,808.8 928.6,825.8 928.9,823.8 929.1,815.3 929.3,801 929.6,824.2 929.8,822.2 930.1,823.8 930.3,793.7 930.5,807 930.8,807.6 931,791.9 931.3,808.2 931.5,829.4 931.7,814.4 932,820.5 932.2,790.6 932.5,822.2 932.7,806.3 933,813.8 933.2,813.2 933.4,809 933.7,810.6 933.9,815.8 934.2,820.9 934.4,815.7 934.6,819.4 934.9,818.2 935.1,808.9 935.4,811.5 935.6,805.9 935.8,812.6 936.1,793 936.3,817.5 936.6,820.1 936.8,801.8 937,817.8 937.3,810.4 937.5,802.7 937.8,812.5 938,814.9 938.3,802.8 938.5,808.6 938.7,816.4 939,822.5 939.2,815.1 939.5,826.8 939.7,819.8 939.9,822.1 940.2,809.7 940.4,805.8 940.7,819 940.9,817.4 941.1,823.8 941.4,826.6 941.6,818.2 941.9,809.3 942.1,810.3 942.3,809.1 942.6,816.8 942.8,838.9 943.1,805.4 943.3,801.4 943.6,804.6 943.8,804.1 944,801.7 944.3,786.7 944.5,807.5 944.8,795.7 945,802 945.2,802.8 945.5,809.9 945.7,811.6 946,818.7 946.2,803.3 946.4,811.6 946.7,820 946.9,816.3 947.2,820.6 947.4,795.8 947.6,813 947.9,810.2 948.1,822.5 948.4,821.3 948.6,802.8 948.9,814.7 949.1,810.8 949.3,796.4 949.6,794.3 949.8,807 950.1,808.8 950.3,811.1 950.5,815.7 950.8,794.7 951,823.8 951.3,813.5 951.5,829.9 951.7,823.8 952,808.6 952.2,808 952.5,809 952.7,815 952.9,818.4 953.2,816.9 953.4,815.4 953.7,802 953.9,798.6 954.2,807.7 954.4,816.4 954.6,819.8 954.9,808.5 955.1,813.1 955.4,827.3 955.6,798.3 955.8,810.7 956.1,813.5 956.3,818.5 956.6,818.6 956.8,802.7 957,819.5 957.3,810.2 957.5,805.5 957.8,794.7 958,806.1 958.2,811.9 958.5,815.6 958.7,804 959,802.6 959.2,815.5 959.5,806.3 959.7,812.8 959.9,826.1 960.2,820.4 960.4,803.8 960.7,798 960.9,804.7 961.1,812.5 961.4,817.1 961.6,805.7 961.9,807.5 962.1,825.2 962.3,804.8 962.6,817.3 962.8,805.1 963.1,806.7 963.3,805.3 963.5,802.5 963.8,806.2 964,822.3 964.3,822.3 964.5,803.8 964.8,809 965,827.5 965.2,831.4 965.5,805.1 965.7,793 966,805.5 966.2,815 966.4,810.4 966.7,837.4 966.9,821.7 967.2,803.6 967.4,805 967.6,832.1 967.9,802.2 968.1,808.2 968.4,804.7 968.6,815.1 968.8,813.3 969.1,823.1 969.3,810.4 969.6,805.1 969.8,821.6 970.1,809.6 970.3,817.5 970.5,802.9 970.8,803.2 971,833.1 971.3,807.4 971.5,802 971.7,816.1 972,812.8 972.2,812.1 972.5,821.1 972.7,811.8 972.9,796.6 973.2,806.4 973.4,796.9 973.7,801.6 973.9,799.5 974.1,809 974.4,802.8 974.6,791.1 974.9,795.6 975.1,805.6 975.4,814.4 975.6,816.1 975.8,805.3 976.1,803.3 976.3,824 976.6,805.3 976.8,804.3 977,804.9 977.3,812.8 977.5,786.9 977.8,800 978,820.5 978.2,814.4 978.5,800.4 978.7,802.8 979,806.1 979.2,807.3 979.4,808.8 979.7,810.8 979.9,816 980.2,801.4 980.4,832.3 980.6,813.7 980.9,795.8 981.1,814.6 981.4,818.6 981.6,790.4 981.9,798.3 982.1,809.3 982.3,813.2 982.6,809.8 982.8,810.6 983.1,809.3 983.3,813.5 983.5,801.1 983.8,810.7 984,821.7 984.3,816.2 984.5,803.5 984.7,812.2 985,825 985.2,787.3 985.5,796 985.7,804.4 985.9,804.2 986.2,794 986.4,785.5 986.7,803.8 986.9,793.7 987.2,803.1 987.4,793.8 987.6,807.1 987.9,813.1 988.1,794.5 988.4,795.2 988.6,787 988.8,799.3 989.1,779 989.3,790.1 989.6,775.4 989.8,792.3 990,773.9 990.3,788 990.5,785.4 990.8,777 991,802.6 991.2,795.6 991.5,767.8 991.7,799.6 992,790.1 992.2,780.4 992.5,772.1 992.7,791.2 992.9,785.7 993.2,798.3 993.4,791.8 993.7,779.1 993.9,786.5 994.1,790.6 994.4,787 994.6,790.4 994.9,790.9 995.1,796.7 995.3,803.4 995.6,788.6 995.8,806.6 996.1,787 996.3,777.3 996.5,783.8 996.8,776.9 997,808.9 997.3,797.3 997.5,807.7 997.8,807.1 998,816.5 998.2,812 998.5,793 998.7,794.7 999,790.4 999.2,791.5 999.4,795.3 999.7,810.6 999.9,805 1000.2,797.9 1000.4,793.9 1000.6,809.7 1000.9,811.5 1001.1,811.7 1001.4,793.5 1001.6,803.5 1001.8,812 1002.1,816.4 1002.3,805.5 1002.6,825 1002.8,811.7 1003.1,814.9 1003.3,815 1003.5,807.9 1003.8,806 1004,782.1 1004.3,809.2 1004.5,804 1004.7,818 1005,825.9 1005.2,800.6 1005.5,793.2 1005.7,820.4 1005.9,812 1006.2,801.1 1006.4,810.3 1006.7,832.9 1006.9,801.6 1007.1,812 1007.4,803.8 1007.6,819 1007.9,801.9 1008.1,800.3 1008.4,816.1 1008.6,804.9 1008.8,815 1009.1,813.6 1009.3,817.1 1009.6,812.6 1009.8,814.7 1010,797.6 1010.3,810.1 1010.5,818.1 1010.8,795.1 1011,802.5 1011.2,798.2 1011.5,807.6 1011.7,800.4 1012,807.4 1012.2,815 1012.4,804.9 1012.7,804.3 1012.9,804 1013.2,797.1 1013.4,820.4 1013.7,801.4 1013.9,811.1 1014.1,806 1014.4,799.1 1014.6,802.3 1014.9,808.9 1015.1,795.5 1015.3,802.8 1015.6,793.5 1015.8,790.4 1016.1,804.8 1016.3,811.3 1016.5,799.9 1016.8,792.6 1017,796.6 1017.3,809.7 1017.5,813.8 1017.7,806 1018,805.3 1018.2,789.8 1018.5,794.2 1018.7,785.8 1019,793.9 1019.2,776.7 1019.4,791.5 1019.7,785.6 1019.9,793.8 1020.2,785 1020.4,778.1 1020.6,780.2 1020.9,774.7 1021.1,791.5 1021.4,780.6 1021.6,767.9 1021.8,780.8 1022.1,783.8 1022.3,783.5 1022.6,785.4 1022.8,778 1023,765.1 1023.3,772.8 1023.5,776.2 1023.8,782.3 1024,784.4 1024.3,749.4 1024.5,775.5 1024.7,768.8 1025,773.2 1034.1,773.6 1034.4,772 1034.6,768.2 1034.9,788.6 1035.1,768.6 1035.3,795.9 1035.6,759.2 1035.8,767.3 1036.1,782.5 1036.3,767.9 1036.5,779.7 1036.8,775 1037,772.8 1037.3,777.5 1037.5,781.6 1037.7,776.7 1038,785.2 1038.2,787.8 1038.5,794 1038.7,802.9 1038.9,772.1 1039.2,780.4 1039.4,801.4 1039.7,785.3 1039.9,787.7 1040.2,810.6 1040.4,798.5 1040.6,792.3 1040.9,775.9 1041.1,782.2 1041.4,781.2 1041.6,790.4 1041.8,784.6 1042.1,805.1 1042.3,789.1 1042.6,788.5 1042.8,807.3 1043,793.8 1043.3,782.6 1043.5,779.3 1043.8,784.4 1044,804.2 1044.2,798.9 1044.5,803.2 1044.7,787.6 1045,806.9 1045.2,809.1 1045.5,814.7 1045.7,798.6 1045.9,796.9 1046.2,806.7 1046.4,808.7 1046.7,804.1 1046.9,790.8 1047.1,815.7 1047.4,804.6 1047.6,802.9 1047.9,802.1 1048.1,794.6 1048.3,798.9 1048.6,804.3 1048.8,793.8 1049.1,796.8 1049.3,804.4 1049.5,804.7 1049.8,817.2 1050,805.1 1050.3,812.9 1050.5,815.8 1050.8,807.8 1051,820.5 1051.2,813 1051.5,809.6 1051.7,802.1 1052,808.1 1052.2,802.1 1052.4,791.8 1052.7,799 1052.9,817 1053.2,823 1053.4,815.8 1053.6,816.1 1053.9,826.1 1054.1,824.2 1054.4,824.5 1054.6,814.9 1054.8,797.2 1055.1,794.9 1055.3,819.2 1055.6,814.3 1055.8,822.4 1056.1,824.8 1056.3,811 1056.5,809.9 1056.8,815.8 1057,804.5 1057.3,812.8 1057.5,800.1 1057.7,813.9 1058,801.7 1058.2,810.8 1058.5,807.8 1058.7,803.4 1058.9,820.6 1059.2,815.6 1059.4,810 1059.7,812.3 1059.9,808.1 1060.1,818 1060.4,823.1 1060.6,813 1060.9,810 1061.1,820.1 1061.4,802.7 1061.6,807.5 1061.8,806.3 1062.1,806.9 1062.3,821.2 1062.6,794.9 1062.8,819.5 1063,809.7 1063.3,806.3 1063.5,809.5 1063.8,810.4 1064,818.9 1064.2,815.1 1064.5,811.1 1064.7,799.9 1065,817 1065.2,805.2 1065.4,807.4 1065.7,810.5 1065.9,816.2 1066.2,812.7 1066.4,826.6 1066.7,810.6 1066.9,808.6 1067.1,815.8 1067.4,806.5 1067.6,808 1067.9,816.7 1068.1,802.5 1068.3,814 1068.6,787.7 1068.8,817.1 1069.1,814.6 1069.3,812.6 1069.5,804.4 1069.8,795.9 1070,804.7 1070.3,808.6 1070.5,788 1070.7,795.3 1071,806.3 1071.2,804.4 1071.5,816.4 1071.7,802.3 1072,787.2 1072.2,812.1 1072.4,814 1072.7,800.2 1072.9,822.1 1073.2,788.8 1073.4,814.2 1073.6,807.3 1073.9,802.4 1074.1,790.6 1074.4,797.7 1074.6,817.9 1074.8,816.1 1075.1,799.5 1075.3,819.7 1075.6,803.8 1075.8,808.4 1076,794 1076.3,790.3 1076.5,823 1076.8,797 1077,795.1 1077.3,807.6 1077.5,806.1 1077.7,811.4 1078,803.9 1078.2,797.2 1078.5,788.9 1078.7,787.8 1078.9,802.9 1079.2,807.6 1079.4,791.1 1079.7,824.3 1079.9,812.1 1080.1,793.8 1080.4,779.5 1080.6,806.2 1080.9,798.2 1081.1,808.9 1081.3,799.5 1081.6,799.3 1081.8,805.2 1082.1,794.6 1082.3,799.3 1082.6,792.8 1082.8,798.6 1083,807.1 1083.3,794.4 1083.5,787.4 1083.8,801.6 1084,781.9 1084.2,789.4 1084.5,796.3 1084.7,792.3 1085,796 1085.2,800 1085.4,783.2 1085.7,783 1085.9,794.9 1086.2,792.2 1086.4,792.1 1086.6,783.6 1086.9,776.3 1087.1,795.3 1087.4,786.2 1087.6,788.8 1087.9,783.2 1088.1,774.9 1088.3,795.6 1088.6,806.2 1088.8,788.7 1089.1,801.6 1089.3,771.7 1089.5,793.3 1089.8,789.6 1090,785.1 1090.3,785.7 1090.5,791.8 1090.7,788.5 1091,780.4 1091.2,792.3 1091.5,773.3 1091.7,787.4 1091.9,812.4 1092.2,783.5 1092.4,807.9 1092.7,789.4 1092.9,772.4 1093.2,783.3 1093.4,803.5 1093.6,800.8 1093.9,793.5 1094.1,780.8 1094.4,800.7 1094.6,784.5 1094.8,792 1095.1,796.1 1095.3,797.2 1095.6,781.3 1095.8,810.5 1096,807.9 1096.3,790.5 1096.5,790.5 1096.8,811.7 1097,809 1097.2,811.8 1097.5,797.2 1097.7,808.4 1098,790.4 1098.2,796.5 1098.4,801.3 1098.7,802.1 1098.9,799.4 1099.2,797 1099.4,804.6 1099.7,802.7 1099.9,798.3 1100.1,806 1100.4,796.8 1100.6,806.9 1100.9,812.6 1101.1,804.2 1101.3,791.3 1101.6,792.7 1101.8,819.9 1102.1,803.2 1102.3,810.3 1102.5,808.9 1102.8,809.3 1103,808.5 1103.3,811.4 1103.5,809.6 1103.7,805.7 1104,818.6 1104.2,819.2 1104.5,818.6 1104.7,818.9 1105,804 1105.2,819 1105.4,810 1105.7,808.7 1105.9,802.8 1106.2,808.6 1106.4,799.4 1106.6,808.8 1106.9,805.8 1107.1,801 1107.4,820 1107.6,803.7 1107.8,793.8 1108.1,805.9 1108.3,808.9 1108.6,790.3 1108.8,806 1109,796.3 1109.3,827.8 1109.5,806.4 1109.8,811.8 1110,804.2 1110.3,797.3 1110.5,808.8 1110.7,809.4 1111,831.8 1111.2,800.4 1111.5,795.5 1111.7,805.6 1111.9,811 1112.2,803.6 1112.4,797.8 1112.7,801.2 1112.9,788.8 1113.1,811.8 1113.4,818.8 1113.6,802.9 1113.9,796.2 1114.1,811.2 1114.3,807.2 1114.6,812.8 1114.8,818.1 1115.1,813.5 1115.3,825 1115.6,804.7 1115.8,802.9 1116,799.2 1116.3,813.9 1116.5,812.2 1116.8,821.1 1117,819.2 1117.2,799.1 1117.5,782.5 1117.7,816.3 1118,810.9 1118.2,799.9 1118.4,814.4 1118.7,803.9 1118.9,812.2 1119.2,812.8 1119.4,802.9 1119.6,813.5 1119.9,822.6 1120.1,804.8 1120.4,811.9 1120.6,816.9 1120.9,818.9 1121.1,806.8 1121.3,817.7 1121.6,810.1 1121.8,802.1 1122.1,811.4 1122.3,800.8 1122.5,821.9 1122.8,804.7 1123,805.5 1123.3,794.2 1123.5,810.5 1123.7,803.5 1124,813.1 1124.2,821.5 1124.5,820.6 1124.7,819.7 1124.9,807.6 1125.2,821.6 1125.4,815 1125.7,808 1125.9,805.4 1126.2,808.2 1126.4,803.6 1126.6,826.4 1126.9,820.8 1127.1,813.8 1127.4,806.9 1127.6,812 1127.8,822.8 1128.1,817.6 1128.3,830 1128.6,808.7 1128.8,830.9 1129,813.5 1129.3,806 1129.5,807.5 1129.8,829.1 1130,813.4 1130.2,818.3 1130.5,817.9 1130.7,801.2 1131,812.9 1131.2,827.8 1131.5,824.8 1131.7,809.5 1131.9,813.7 1132.2,825.5 1132.4,830.3 1132.7,820.8 1132.9,820.1 1133.1,809.5 1133.4,822.2 1133.6,811.6 1133.9,807.4 1134.1,832.2 1134.3,824 1134.6,806.3 1134.8,824.2 1135.1,821.1 1135.3,813.3 1135.5,828.8 1135.8,826.4 1136,837.6 1136.3,818.9 1136.5,828.1 1136.8,827 1137,845.9 1137.2,815 1137.5,816.9 1137.7,829.1 1138,810.9 1138.2,841.9 1138.4,820.6 1138.7,833.8 1138.9,795.2 1139.2,840.8 1139.4,828.4 1139.6,824.3 1139.9,810.7 1140.1,810.5 1140.4,814.5 1140.6,820.1 1140.8,799.7 1141.1,824.5 1141.3,815.8 1141.6,803.6 1141.8,829.5 1142.1,826 1142.3,809.7 1142.5,815.5 1142.8,831 1143,819.7 1143.3,803.6 1143.5,822.7 1143.7,813.7 1144,819.7 1144.2,826.9 1144.5,806.9 1144.7,812.4 1144.9,810.3 1145.2,821.8 1145.4,819.4 1145.7,818.1 1145.9,816 1146.1,822.7 1146.4,823.9 1146.6,808.1 1146.9,829 1147.1,823.3 1147.4,822.8 1147.6,824 1147.8,830.1 1148.1,826.4 1148.3,812.9 1148.6,823 1148.8,826.3 1149,805.4 1149.3,831.3 1149.5,810.6 1149.8,816.4 1150,831 1150.2,822.5 1150.5,822.2 1150.7,807.4 1151,810.5 1151.2,820.7 1151.4,828.3 1151.7,832.6 1151.9,819.3 1152.2,829.9 1152.4,819.1 1152.7,819.2 1152.9,814 1153.1,808.5 1153.4,816.1 1153.6,812.8 1153.9,818.2 1154.1,807.6 1154.3,809.5 1154.6,802.6 1154.8,804.5 1155.1,822.9 1155.3,829.3 1155.5,811.1 1155.8,806.8 1156,822.8 1156.3,804 1156.5,816.4 1156.7,818.2 1157,814.5 1157.2,830 1157.5,832.1 1157.7,820.9 1158,828 1158.2,817.8 1158.4,817.5 1158.7,839.6 1158.9,823.9 1159.2,811.9 1159.4,836.3 1159.6,818.5 1159.9,826.9 1160.1,831.7 1160.4,804.4 1160.6,804.3 1160.8,817 1161.1,817.3 1161.3,800.5 1161.6,801.9 1161.8,812.2 1162,804.3 1162.3,810.8 1162.5,814.3 1162.8,806.1 1163,815.3 1163.3,806.5 1163.5,814 1163.7,816.2 1164,817.6 1164.2,809.1 1164.5,805.4 1164.7,810.4 1164.9,822.3 1165.2,809.8 1165.4,823.5 1165.7,825.8 1165.9,818 1166.1,809.4 1166.4,810.5 1166.6,811.6 1166.9,804.4 1167.1,808.8 1167.3,819.3 1167.6,809.1 1167.8,818.1 1168.1,812 1168.3,810 1168.6,815.5 1168.8,827.6 1169,815.5 1169.3,816.7 1169.5,814.7 1169.8,817.2 1170,823.3 1170.2,827.4 1170.5,807.4 1170.7,806.2 1171,809.9 1171.2,813.5 1171.4,795.9 1171.7,807.2 1171.9,812.8 1172.2,805.4 1172.4,813.1 1172.6,805.9 1172.9,809.3 1173.1,806.5 1173.4,810.2 1173.6,814.2 1173.9,805 1174.1,799 1174.3,816.5 1174.6,812.5 1174.8,816.9 1175.1,798.9 1175.3,808.1 1175.5,797.7 1175.8,812.2 1176,797.2 1176.3,809.3 1176.5,807.8 1176.7,798.4 1177,806.2 1177.2,807.6 1177.5,793.8 1177.7,802 1177.9,789.9 1178.2,777.9 1178.4,805.3 1178.7,803 1178.9,813.3 1179.2,810 1179.4,793.5 1179.6,795.9 1179.9,795.7 1180.1,793.7 1180.4,805.1 1180.6,812.4 1180.8,786.9 1181.1,794.1 1181.3,785.7 1181.6,795.9 1181.8,788.4 1182,799.8 1182.3,794.7 1182.5,795.9 1182.8,790.8 1183,781.3 1183.2,787.9 1183.5,819.8 1183.7,794.3 1184,793.1 1184.2,785.6 1184.5,791.5 1184.7,799 1184.9,799.6 1185.2,795.4 1185.4,798.7 1185.7,779.5 1185.9,787 1186.1,792.1 1186.4,784.1 1186.6,773.8 1186.9,795.4 1187.1,794.2 1187.3,797.1 1187.6,805.9 1187.8,801 1188.1,804.2 1188.3,792 1188.5,792.6 1188.8,789.2 1189,804.2 1189.3,788.7 1189.5,806.5 1189.8,799.5 1190,786.5 1190.2,787.1 1190.5,788.5 1190.7,779.5 1191,789 1191.2,800.6 1191.4,800.5 1191.7,805.5 1191.9,796.7 1192.2,805.6 1192.4,804.5 1192.6,807.8 1192.9,814.2 1193.1,777.2 1193.4,791.3 1193.6,817.6 1193.8,795.3 1194.1,804.2 1194.3,818.2 1194.6,801.2 1194.8,797.5 1195.1,794.4 1195.3,790 1195.5,807.5 1195.8,800.8 1196,794.7 1196.3,796.1 1196.5,797.8 1196.7,800.7 1197,790.9 1197.2,813.2 1197.5,815.5 1197.7,787 1197.9,798.8 1198.2,792.7 1198.4,800.5 1198.7,805.7 1198.9,806.4 1199.1,800.9 1199.4,806 1199.6,802.2 1199.9,801.9 1200.1,793.5 1200.4,793.4 1200.6,785.8 1200.8,805.9 1201.1,799.6 1201.3,790.3 1201.6,795.5 1201.8,820 1202,794.9 1202.3,798 1202.5,801.9 1202.8,801.1 1203,803.5 1203.2,786.3 1203.5,790.2 1203.7,794 1204,785.4 1204.2,786.5 1204.4,801.7 1204.7,803.3 1204.9,802.4 1205.2,786.1 1205.4,792.5 1205.7,780.9 1205.9,786.6 1206.1,792.6 1206.4,801.6 1206.6,792 1206.9,768.9 1207.1,794.7 1207.3,795.2 1207.6,789 1207.8,774 1208.1,785.9 1208.3,794.7 1208.5,789.4 1208.8,784.2 1209,781.3 1209.3,771.7 1209.5,757.1 1209.7,766.3 1210,771.8 1210.2,776.7 1210.5,782.6 1210.7,768.6 1211,760.8 1211.2,763.7 1211.4,771.1 1211.7,762.4 1211.9,769.3 1224.7,773.1 1224.9,767.6 1225.2,780.2 1225.4,773.1 1225.6,784.2 1225.9,782 1226.1,768.7 1226.4,781.2 1226.6,790.6 1226.8,778.2 1227.1,783.7 1227.3,789.8 1227.6,779.8 1227.8,812.9 1228.1,782.6 1228.3,771.5 1228.5,786.7 1228.8,807 1229,778.8 1229.3,769.3 1229.5,787.3 1229.7,802.6 1230,799.8 1230.2,795.7 1230.5,793.6 1230.7,785.6 1230.9,791.7 1231.2,817.1 1231.4,800.5 1231.7,799.7 1231.9,782.6 1232.1,804.4 1232.4,811.9 1232.6,802.8 1232.9,798.1 1233.1,816.9 1233.4,791.6 1233.6,802.5 1233.8,794.3 1234.1,795.7 1234.3,797.2 1234.6,789.8 1234.8,787.5 1235,805.5 1235.3,802.6 1235.5,792.9 1235.8,800.5 1236,806.9 1236.2,800.7 1236.5,808.8 1236.7,805.7 1237,830.9 1237.2,799.9 1237.4,785.1 1237.7,794.7 1237.9,795 1238.2,799.5 1238.4,807.7 1238.7,797 1238.9,800.9 1239.1,802.7 1239.4,799.6 1239.6,806.8 1239.9,800.9 1240.1,796.6 1240.3,793.7 1240.6,801.1 1240.8,795.4 1241.1,800.9 1241.3,822.1 1241.5,819.4 1241.8,804.6 1242,812.5 1242.3,798.1 1242.5,814.4 1242.7,806.6 1243,807.8 1243.2,809.3 1243.5,807.8 1243.7,802.8 1244,801.5 1244.2,806.5 1244.4,800.1 1244.7,796.7 1244.9,802.6 1245.2,806.5 1245.4,806.2 1245.6,804.4 1245.9,804.7 1246.1,799.5 1246.4,777.3 1246.6,791 1246.8,800.7 1247.1,796.4 1247.3,797.1 1247.6,792 1247.8,791.5 1248,812.8 1248.3,786.4 1248.5,813.7 1248.8,806.5 1249,815.2 1249.3,823.4 1249.5,824.7 1249.7,793 1250,797.5 1250.2,818.8 1250.5,820.1 1250.7,797.8 1250.9,818.8 1251.2,806.5 1251.4,792.9 1251.7,803.7 1251.9,797.4 1252.1,808.3 1252.4,824.8 1252.6,817.3 1252.9,825.8 1253.1,807.8 1253.3,822 1253.6,809.9 1253.8,815.4 1254.1,817.2 1254.3,806.8 1254.6,815.3 1254.8,818.3 1255,802.4 1255.3,811.2 1255.5,823.3 1255.8,800.1 1256,822.3 1256.2,807.9 1256.5,805.1 1256.7,811.7 1257,816.5 1257.2,812 1257.4,812.2 1257.7,818.7 1257.9,801.7 1258.2,814.3 1258.4,815.3 1258.6,797 1258.9,815.2 1259.1,821.9 1259.4,808.9 1259.6,807.8 1259.9,807.2 1260.1,788.9 1260.3,811.2 1260.6,794.1 1260.8,797.5 1261.1,791.9 1261.3,804.7 1261.5,806.1 1261.8,804.6 1262,799.7 1262.3,793.7 1262.5,787.4 1262.7,817.2 1263,792.4 1263.2,798.5 1263.5,801.5 1263.7,811.2 1263.9,799.3 1264.2,818.5 1264.4,791.8 1264.7,811.1 1264.9,804.1 1265.2,804.6 1265.4,798 1265.6,814.7 1265.9,795.5 1266.1,799 1266.4,788.7 1266.6,799.6 1266.8,803.3 1267.1,818.9 1267.3,805.4 1267.6,787.6 1267.8,806.5 1268,807.1 1268.3,804.3 1268.5,795.8 1268.8,819.4 1269,787.7 1269.2,798.8 1269.5,797.6 1269.7,804.1 1270,786.2 1270.2,807.5 1270.5,795.9 1270.7,801.8 1270.9,813.6 1271.2,803 1271.4,794.7 1271.7,803.1 1271.9,803.7 1272.1,799.7 1272.4,806.8 1272.6,808.5 1272.9,797.2 1273.1,805.8 1273.3,791.5 1273.6,789.6 1273.8,783.8 1274.1,786 1274.3,796.6 1274.5,789.7 1274.8,803.2 1275,788.2 1275.3,795.9 1275.5,778.4 1275.8,796.4 1276,787.9 1276.2,795.9 1276.5,782.8 1276.7,782.3 1277,796.9 1277.2,769.7 1277.4,782.9 1277.7,800.2 1277.9,795.5 1278.2,803.8 1278.4,805.5 1278.6,788.6 1278.9,806.4 1279.1,784.2 1279.4,802.7 1279.6,791.7 1279.8,773.2 1280.1,792.5 1280.3,790.2 1280.6,779.4 1280.8,794.3 1281.1,787.5 1281.3,800.6 1281.5,797.7 1281.8,794.1 1282,796.1 1282.3,804 1282.5,796 1282.7,793.3 1283,793.7 1283.2,799.7 1283.5,809 1283.7,794.8 1283.9,793.7 1284.2,810.4 1284.4,822.3 1284.7,803.6 1284.9,793 1285.1,794.5 1285.4,812.8 1285.6,790.7 1285.9,810.6 1286.1,794.6 1286.4,806.8 1286.6,794.7 1286.8,799.2 1287.1,806 1287.3,798.1 1287.6,810.5 1287.8,808.4 1288,808.2 1288.3,813.2 1288.5,797.7 1288.8,797.9 1289,806.3 1289.2,815 1289.5,802.6 1289.7,804.5 1290,801.7 1290.2,807.7 1290.4,809.9 1290.7,796.3 1290.9,814.2 1291.2,811 1291.4,825.4 1291.7,813.5 1291.9,814.8 1292.1,813.9 1292.4,806 1292.6,816.6 1292.9,807.7 1293.1,814.7 1293.3,815.3 1293.6,827.6 1293.8,808 1294.1,806.2 1294.3,820.2 1294.5,816.9 1294.8,827.5 1295,815.1 1295.3,821.6 1295.5,808.8 1295.7,813.2 1296,807 1296.2,819.4 1296.5,826.8 1296.7,812.9 1297,817.3 1297.2,796.4 1297.4,810.2 1297.7,799.9 1297.9,807.8 1298.2,815.2 1298.4,825.7 1298.6,814.8 1298.9,807.7 1299.1,812.5 1299.4,810.6 1299.6,811.1 1299.8,825.4 1300.1,811.6 1300.3,821.4 1300.6,815.1 1300.8,803.3 1301,832 1301.3,817.4 1301.5,812.2 1301.8,805.8 1302,814.2 1302.3,821.5 1302.5,807.4 1302.7,808.6 1303,828.1 1303.2,811.8 1303.5,826.4 1303.7,833.6 1303.9,819 1304.2,817.9 1304.4,827.5 1304.7,792.8 1304.9,819.6 1305.1,804.8 1305.4,801.6 1305.6,788.9 1305.9,810.4 1306.1,793.7 1306.3,817.4 1306.6,808.1 1306.8,811.5 1307.1,816.8 1307.3,805.7 1307.6,792.5 1307.8,791 1308,803.7 1308.3,819.5 1308.5,817 1308.8,805.2 1309,805.7 1309.2,806.1 1309.5,813.5 1309.7,819.1 1310,807.7 1310.2,811.9 1310.4,799.7 1310.7,818 1310.9,804.9 1311.2,800.7 1311.4,795.6 1311.6,795.9 1311.9,821.7 1312.1,823.1 1312.4,811.8 1312.6,820.6 1312.9,833.6 1313.1,800.6 1313.3,808.9 1313.6,804.3 1313.8,811.5 1314.1,803 1314.3,810.7 1314.5,811.7 1314.8,796.5 1315,823 1315.3,808.6 1315.5,827 1315.7,800.7 1316,815.7 1316.2,824.4 1316.5,829.8 1316.7,816.3 1316.9,797.6 1317.2,810.4 1317.4,828.1 1317.7,832.2 1317.9,790.2 1318.2,819.4 1318.4,826.9 1318.6,812.8 1318.9,808.7 1319.1,799.8 1319.4,814.8 1319.6,819 1319.8,806.6 1320.1,819.1 1320.3,808.8 1320.6,810.1 1320.8,803 1321,817.5 1321.3,817.3 1321.5,809.1 1321.8,807.8 1322,824.8 1322.2,819.5 1322.5,811.4 1322.7,816.6 1323,794 1323.2,807.9 1323.5,803.6 1323.7,815.4 1323.9,814.3 1324.2,814.2 1324.4,806.2 1324.7,818.4 1324.9,802 1325.1,822.1 1325.4,807.2 1325.6,813.6 1325.9,819.2 1326.1,802.3 1326.3,807.6 1326.6,817.7 1326.8,822.8 1327.1,808.9 1327.3,823 1327.5,811.2 1327.8,823.7 1328,814.9 1328.3,823.1 1328.5,817.1 1328.8,800.9 1329,800 1329.2,818.9 1329.5,816.8 1329.7,828.6 1330,811.1 1330.2,803.5 1330.4,820.2 1330.7,820.3 1330.9,808.9 1331.2,816.4 1331.4,809.4 1331.6,797.3 1331.9,806.3 1332.1,804.2 1332.4,793.5 1332.6,807.5 1332.8,803.5 1333.1,808.8 1333.3,815.9 1333.6,795.6 1333.8,821.6 1334.1,809 1334.3,819.9 1334.5,817.3 1334.8,821.5 1335,812.9 1335.3,806.9 1335.5,799.9 1335.7,827.6 1336,809.5 1336.2,814.9 1336.5,816.8 1336.7,812.4 1336.9,809.6 1337.2,812.2 1337.4,811.1 1337.7,792.2 1337.9,810.1 1338.1,808.2 1338.4,821.2 1338.6,802.1 1338.9,816.3 1339.1,813 1339.3,819.3 1339.6,813.9 1339.8,821.5 1340.1,825 1340.3,826.2 1340.6,817.6 1340.8,814.3 1341,808.2 1341.3,800 1341.5,798 1341.8,819.2 1342,819.6 1342.2,806.7 1342.5,820.5 1342.7,803 1343,803.5 1343.2,820.6 1343.4,805.8 1343.7,799.9 1343.9,808.4 1344.2,814.9 1344.4,814 1344.6,808.6 1344.9,819.1 1345.1,809.9 1345.4,814.9 1345.6,819.2 1345.9,821.2 1346.1,808 1346.3,820.6 1346.6,810.9 1346.8,828.6 1347.1,814.4 1347.3,811.8 1347.5,809.7 1347.8,804.6 1348,808.2 1348.3,807.8 1348.5,814.9 1348.7,821.4 1349,822.4 1349.2,818.9 1349.5,810.2 1349.7,803.6 1349.9,809.3 1350.2,810.7 1350.4,806.1 1350.7,815.7 1350.9,811.7 1351.2,814.6 1351.4,812.2 1351.6,816.4 1351.9,826.1 1352.1,818.7 1352.4,822.8 1352.6,801.2 1352.8,804 1353.1,821.9 1353.3,824 1353.6,816.4 1353.8,829.5 1354,805.8 1354.3,816.9 1354.5,820.4 1354.8,807.2 1355,805 1355.2,814.6 1355.5,807.1 1355.7,830 1356,822.1 1356.2,822.7 1356.5,829.3 1356.7,807.7 1356.9,794.4 1357.2,826.5 1357.4,820 1357.7,805.8 1357.9,817.5 1358.1,814.9 1358.4,821.6 1358.6,811.6 1358.9,822.6 1359.1,807.3 1359.3,808.9 1359.6,809.7 1359.8,819.1 1360.1,813.8 1360.3,807.4 1360.5,818.8 1360.8,819.2 1361,830.1 1361.3,814.9 1361.5,811.4 1361.8,801.8 1362,820.5 1362.2,822.6 1362.5,799.5 1362.7,800.5 1363,819.9 1363.2,814.4 1363.4,825.9 1363.7,810.6 1363.9,798.8 1364.2,803.2 1364.4,819.4 1364.6,807.9 1364.9,816.8 1365.1,808 1365.4,815.7 1365.6,805.6 1365.8,800.3 1366.1,808.5 1366.3,808.2 1366.6,807.9 1366.8,803.6 1367.1,814.6 1367.3,812.2 1367.5,811.8 1367.8,798.8 1368,808.6 1368.3,804.8 1368.5,812.8 1368.7,821.3 1369,812.2 1369.2,805.5 1369.5,812.5 1369.7,814.9 1369.9,813.5 1370.2,806 1370.4,807 1370.7,811 1370.9,819.4 1371.1,817.3 1371.4,780.4 1371.6,813.1 1371.9,806.4 1372.1,809.1 1372.4,823.7 1372.6,800.4 1372.8,811.1 1373.1,819.6 1373.3,805.4 1373.6,816.9 1373.8,809.4 1374,823.6 1374.3,813.9 1374.5,806.7 1374.8,816.7 1375,824.6 1375.2,819.5 1375.5,806.6 1375.7,825.9 1376,824 1376.2,805.3 1376.4,810.9 1376.7,812.1 1376.9,815.4 1377.2,808.1 1377.4,804.3 1377.7,807.6 1377.9,826.6 1378.1,806.3 1378.4,826 1378.6,797.3 1378.9,816.1 1379.1,807.3 1379.3,810 1379.6,818.5 1379.8,803 1380.1,811.6 1380.3,795.5 1380.5,808.2 1380.8,811.1 1381,792.5 1381.3,802.2 1381.5,814 1381.7,820.9 1382,797.4 1382.2,803.2 1382.5,803 1382.7,816.1 1383,818.3 1383.2,820.4 1383.4,802.6 1383.7,813.4 1383.9,806.1 1384.2,830.3 1384.4,802.5 1384.6,817.4 1384.9,834.5 1385.1,822 1385.4,807.2 1385.6,797.4 1385.8,834.3 1386.1,822.1 1386.3,808.9 1386.6,823.4 1386.8,813.4 1387,818.4 1387.3,808.4 1387.5,821.9 1387.8,811.9 1388,816 1388.3,807.3 1388.5,808.9 1388.7,799.3 1389,805.8 1389.2,792.1 1389.5,821.2 1389.7,809.1 1389.9,799.7 1390.2,805.1 1390.4,828.7 1390.7,802.3 1390.9,809.1 1391.1,782.8 1391.4,805 1391.6,797.9 1391.9,812 1392.1,797.3 1392.3,827.8 1392.6,812.1 1392.8,806.3 1393.1,817 1393.3,794 1393.6,802.5 1393.8,787.8 1394,815 1394.3,809.9 1394.5,796.7 1394.8,807.1 1395,795.3 1395.2,797.1 1395.5,809.6 1395.7,802 1396,798.3 1396.2,801 1396.4,805 1396.7,807.4 1396.9,804.9 1397.2,793.9 1397.4,783.8 1397.6,814.8 1397.9,810.7 1398.1,802.7 1398.4,787.5 1398.6,807.8 1398.9,778.4 1399.1,778.2 1399.3,819.9 1399.6,791.6 1399.8,791.7 1400.1,800.7 1400.3,813.4 1400.5,793.7 1400.8,799.7 1401,785.2 1401.3,790.7 1401.5,804.4 1401.7,777.8 1402,778.9 1402.2,781.8 1402.5,794.9 1402.7,786.7 1402.9,794 1403.2,799.7 1403.4,811.6 1403.7,791.3 1403.9,811.8 1404.2,786.5 1404.4,805.2 1404.6,790.1 1404.9,794.3 1405.1,801.8 1405.4,800.3 1405.6,795.5 1405.8,775.7 1406.1,785.6 1406.3,791.2 1406.6,780.5 1406.8,798.7 1407,801.6 1407.3,795.4 1407.5,777 1407.8,789.2 1408,785.2 1408.2,785 1408.5,790.1 1408.7,774.5 1409,779.6 1409.2,794.7 1409.5,796.7 1409.7,787.9 1409.9,796.7 1410.2,788.7 1410.4,782.4 1410.7,789.4 1410.9,788.9 1411.1,796 1411.4,799.6 1411.6,802.3 1411.9,781.1 1412.1,801.1 1412.3,793.6 1412.6,793.9 1412.8,791.2 1413.1,799 1413.3,811.3 1413.5,777.1 1413.8,807 1414,791.7 1414.3,807.7 1414.5,791.7 1414.8,808.2 1415,782.7 1415.2,794.4 1415.5,813.8 1415.7,783.6 1416,817.1 1416.2,803 1416.4,789.8 1416.7,804 1416.9,788.7 1417.2,800.5 1417.4,806.8 1417.6,790 1417.9,801.6 1418.1,806.8 1418.4,794.1 1418.6,805.7 1418.8,816.5 1419.1,811.1 1419.3,782 1419.6,784.2 1419.8,820.1 1420.1,798.7 1420.3,795 1420.5,809.2 1420.8,800.6 1421,816.3 1421.3,810.2 1421.5,797.5 1421.7,807.7 1422,808.6 1422.2,809.4 1422.5,819.3 1422.7,816.2 1422.9,811.7 1423.2,808 1423.4,814.6 1423.7,789.5 1423.9,822.7 1424.1,816.5 1424.4,812.6 1424.6,802 1424.9,820.1 1425.1,804.8 1425.4,815.1 1425.6,814.7 1425.8,803.8 1426.1,800.4 1426.3,798.8 1426.6,819 1426.8,799.2 1427,799.3 1427.3,805.9 1427.5,804.9 1427.8,808.8 1428,810.6 1428.2,801.5 1428.5,794.3 1428.7,811.7 1429,806.2 1429.2,801 1429.4,821.9 1429.7,794.6 1429.9,806.1 1430.2,796.3 1430.4,812 1430.7,817.3 1430.9,810.7 1431.1,806.7 1431.4,817.8 1431.6,801.3 1431.9,807 1432.1,818.9 1432.3,805.1 1432.6,810.7 1432.8,809 1433.1,812.8 1433.3,815.7 1433.5,820.3 1433.8,808.5 1434,809.3 1434.3,805.7 1434.5,816.7 1434.7,806.8 1435,803.6 1435.2,822 1435.5,810.3 1435.7,792.8 1436,817.5 1436.2,816.2 1436.4,814.3 1436.7,818.9 1436.9,806.9 1437.2,815.6 1437.4,816.1 1437.6,822.3 1437.9,810.7 1438.1,816.5 1438.4,819.4 1438.6,818.7 1438.8,801.8 1439.1,816 1439.3,813.6 1439.6,804 1439.8,816.9 1440,807.5 1440.3,825 1440.5,810.3 1440.8,835 1441,815 1441.3,820.3 1441.5,822.9 1441.7,807.1 1442,810.2 1442.2,809.1 1442.5,803.3 1442.7,811.7 1442.9,811.1 1443.2,816.3 1443.4,798.8 1443.7,807.2 1443.9,821.5 1444.1,821.9 1444.4,820.5 1444.6,820.2 1444.9,802.1 1445.1,810.7 1445.3,803.9 1445.6,819.9 1445.8,820 1446.1,802.6 1446.3,831 1446.6,824 1446.8,832.2 1447,819.7 1447.3,791.3 1447.5,820.7 1447.8,804.9 1448,799.7 1448.2,819.9 1448.5,820.2 1448.7,811 1449,807.9 1449.2,827.4 1449.4,820.6 1449.7,799 1449.9,820.4 1450.2,810 1450.4,804.3 1450.6,816.2 1450.9,814.9 1451.1,818.3 1451.4,819.2 1451.6,818.9 1451.9,827.8 1452.1,817.8 1452.3,815.2 1452.6,806.8 1452.8,816.4 1453.1,818.1 1453.3,795.4 1453.5,811.6 1453.8,813 1454,815.2 1454.3,810.3 1454.5,817.4 1454.7,814.1 1455,817 1455.2,820 1455.5,813.4 1455.7,821.5 1455.9,794.6 1456.2,819.8 1456.4,794.6 1456.7,807.2 1456.9,802.5 1457.2,797.5 1457.4,824.5 1457.6,796 1457.9,805.9 1458.1,814.4 1458.4,816.7 1458.6,807.1 1458.8,824.1 1459.1,794.8 1459.3,811.8 1459.6,803.8 1459.8,809.6"/>
<polyline class="ob oap" points="488.7,777 489,755.1 489.2,761.3 489.5,758.3 489.7,756.3 489.9,763.4 490.2,759.2 490.4,744.9 490.7,748 490.9,753.2 491.1,720.2 491.4,738 491.6,737.1 491.9,733.9 492.1,715.2 492.3,707.1 492.6,709 492.8,697 493.1,714.9 493.3,697.3 493.6,691.9 493.8,680.5 494,668.7 494.3,687.9 494.5,627.5 494.8,662 495,642.4 495.2,630.6 495.5,623.8 495.7,624 496,651.6 496.2,627.2 496.4,603.1 496.7,617.3 496.9,615.9 497.2,628 497.4,589.1 497.6,597.1 497.9,613.6 498.1,608.1 498.4,611.3 498.6,626.6 498.8,622.9 499.1,623.3 499.3,626.6 499.6,625.9 499.8,646 500.1,658.3 500.3,656.5 500.5,674.3 500.8,687.6 501,669.7 501.3,691.8 501.5,692.8 501.7,693.4 502,716.7 502.2,704.4 502.5,711.3 502.7,721.5 502.9,721 503.2,736.5 503.4,754.5 503.7,739.2 503.9,748.6 504.1,734.3 504.4,743 504.6,753.4 504.9,750.3 505.1,740.1 505.4,744.4 505.6,753.8 505.8,755.2 506.1,763.9 506.3,764.3 544.9,752.5 545.1,756 545.3,770.4 545.6,762.1 545.8,753.6 546.1,760.5 546.3,751.9 546.5,756.4 546.8,752.1 547,760.3 547.3,752 547.5,757.3 547.8,745.3 548,766.1 548.2,744.3 548.5,733 548.7,737.1 549,740.5 549.2,732.4 549.4,743.3 549.7,740.5 549.9,733.1 550.2,728.2 550.4,714.3 550.6,729.7 550.9,707.6 551.1,729.9 551.4,718.5 551.6,707.2 551.8,691.1 552.1,704.5 552.3,715.4 552.6,684.3 552.8,683.4 553.1,688.4 553.3,681.7 553.5,671.4 553.8,655.8 554,642 554.3,656 554.5,607 554.7,621.8 555,614.9 555.2,592.4 555.5,586.5 555.7,549.6 555.9,549.5 556.2,551.3 556.4,536.6 556.7,522 556.9,503.7 557.1,474.8 557.4,471.5 557.6,426.5 557.9,426.1 558.1,406.1 558.4,371.8 558.6,384.1 558.8,349 559.1,307.5 559.3,290.9 559.6,267.6 559.8,239.2 560,228.5 560.3,201.1 560.5,195 560.8,182.3 561,125.8 561.2,138.6 561.5,124 561.7,88.5 562,87.3 562.2,105.4 562.4,107.2 562.7,106.8 562.9,126.4 563.2,119.3 563.4,138.9 563.7,156 563.9,167.2 564.1,188.3 564.4,196.3 564.6,223.1 564.9,285.6 565.1,277.5 565.3,325.1 565.6,351.9 565.8,349.2 566.1,387.9 566.3,404.6 566.5,409.1 566.8,448.7 567,470.1 567.3,474 567.5,480.9 567.7,504.9 568,543.4 568.2,547.8 568.5,556.1 568.7,546.3 569,569.9 569.2,581.9 569.4,589 569.7,615.3 569.9,616.4 570.2,625.1 570.4,648.8 570.6,646.4 570.9,647.5 571.1,671.2 571.4,657.9 571.6,664.3 571.8,667 572.1,690.6 572.3,686.5 572.6,677.4 572.8,688.4 573,708.3 573.3,701.9 573.5,693.4 573.8,711.7 574,710.1 574.3,691.2 574.5,719.8 574.7,722.9 575,734 575.2,732.7 575.5,713.5 575.7,731.3 575.9,743.3 576.2,742.3 576.4,734.5 576.7,728.4 576.9,744.4 577.1,731.2 577.4,743.9 577.6,736.5 577.9,735.7 578.1,735.4 578.3,746 578.6,743.7 578.8,737.3 579.1,754.9 579.3,740.6 579.6,737.1 579.8,731.7 580,742 580.3,743.1 580.5,739.6 580.8,747.9 581,742.7 581.2,736.7 581.5,738 581.7,751.2 582,744.7 582.2,762.8 582.4,735.3 582.7,749.3 582.9,743.1 583.2,757.4 583.4,749.2 583.6,745.7 583.9,742.4 584.1,766.8 584.4,747.5 584.6,759 584.9,766.7 585.1,756.5 585.3,765.6 585.6,767.2 585.8,772.5 586.1,765.1 586.3,768.2 586.5,771.4 586.8,780 647.5,772.8 647.7,756.9 648,764.2 648.2,754 648.4,758.3 648.7,742.1 648.9,736.7 649.2,764.8 649.4,735.6 649.7,746.2 649.9,742.4 650.1,744.7 650.4,732.9 650.6,747.1 650.9,739.4 651.1,735.7 651.3,721 651.6,710.2 651.8,707.5 652.1,706.6 652.3,711.6 652.5,718.8 652.8,692.2 653,690.3 653.3,683.8 653.5,668.7 653.7,681.4 654,678.1 654.2,696.9 654.5,664.8 654.7,669.1 655,675 655.2,662.8 655.4,677.7 655.7,673.3 655.9,649 656.2,663.8 656.4,664.8 656.6,670.1 656.9,675.1 657.1,683.9 657.4,667.2 657.6,695.9 657.8,692.5 658.1,707 658.3,713.1 658.6,738.6 658.8,737.9 659,707.7 659.3,712.5 659.5,735.6 659.8,735.5 660,732.9 660.3,752.2 660.5,728.7 660.7,759.4 661,759.5 661.2,782.3 661.5,744 661.7,760.8 661.9,748.5 662.2,776.1 662.4,765.7 662.7,770.4 775.6,763.1 775.9,773.3 776.1,758.7 776.4,759.5 776.6,749.1 776.8,760.3 777.1,760.4 777.3,761.1 777.6,758 777.8,760 778.1,754.2 778.3,744.5 778.5,743.4 778.8,733.7 779,734.6 779.3,738.1 779.5,754.5 779.7,736.9 780,730.5 780.2,754.2 780.5,752.3 780.7,750.8 780.9,752 781.2,745.2 781.4,752.2 781.7,740.1 781.9,756.7 782.1,747.3 782.4,752 782.6,757.8 782.9,739.6 783.1,750.7 783.4,747.1 783.6,756.8 783.8,748.3 784.1,750.6 784.3,759.4 784.6,776.5 784.8,753.3 785,756.2 785.3,762.7 785.5,763.8 812.3,774.5 812.5,784.6 812.7,775.5 813,763.7 813.2,767 813.5,750.3 813.7,749.2 813.9,764.2 814.2,753.3 814.4,744.4 814.7,751.5 814.9,748.8 815.2,732.3 815.4,733 815.6,747.6 815.9,735.6 816.1,730.5 816.4,723.6 816.6,725.4 816.8,700.6 817.1,719.3 817.3,715.8 817.6,698 817.8,718.1 818,700.6 818.3,678.6 818.5,693.3 818.8,683.1 819,657.8 819.2,658.9 819.5,657.8 819.7,650.6 820,655.2 820.2,639.9 820.5,640.6 820.7,607.7 820.9,624.3 821.2,629.8 821.4,623.5 821.7,619.6 821.9,632.6 822.1,625.1 822.4,599 822.6,630 822.9,621.5 823.1,605.5 823.3,601.9 823.6,631.2 823.8,607.6 824.1,630.3 824.3,612.7 824.5,629.1 824.8,641.9 825,636 825.3,642.7 825.5,661.8 825.8,636.7 826,668 826.2,657.9 826.5,680.4 826.7,699.7 827,697.9 827.2,693 827.4,690.5 827.7,684.9 827.9,707.1 828.2,715.9 828.4,730.2 828.6,723.1 828.9,724.1 829.1,753.3 829.4,722.6 829.6,728.1 829.8,720.5 830.1,755.2 830.3,749.1 830.6,752.4 830.8,768.2 831.1,766.3 831.3,770.1 831.5,758 831.8,761.1 832,754.6 832.3,773.4 832.5,784.8 832.7,769.1 833,771.6 878,754.2 878.3,755.2 878.5,787.3 878.7,771.4 879,756.1 879.2,750.6 879.5,744 879.7,776.8 880,767.1 880.2,758.6 880.4,745.3 880.7,758.4 880.9,740.4 881.2,737 881.4,731 881.6,747.5 881.9,729.1 882.1,726.5 882.4,727.6 882.6,706.1 882.8,718 883.1,695.9 883.3,712.1 883.6,683.8 883.8,679.3 884,699.5 884.3,682.1 884.5,676.8 884.8,684.5 885,660.2 885.3,656.1 885.5,665.3 885.7,648.8 886,634 886.2,638.7 886.5,638.1 886.7,606.2 886.9,627.7 887.2,606.7 887.4,591.5 887.7,588.4 887.9,610.5 888.1,587.5 888.4,579.1 888.6,574 888.9,559.1 889.1,554.9 889.3,554.8 889.6,549.3 889.8,537.7 890.1,532.5 890.3,565.8 890.6,519.4 890.8,549.8 891,535.6 891.3,564.1 891.5,554 891.8,565.3 892,543 892.2,549.8 892.5,564.6 892.7,572.2 893,572.2 893.2,593.2 893.4,596.4 893.7,605.3 893.9,595.4 894.2,611.4 894.4,632.9 894.6,622.9 894.9,628.3 895.1,626.3 895.4,653.9 895.6,650.4 895.9,639.2 896.1,670.8 896.3,677.2 896.6,673.9 896.8,690 897.1,690.2 897.3,700.6 897.5,708.6 897.8,696.5 898,714.1 898.3,725 898.5,722.1 898.7,724.9 899,724.4 899.2,721.8 899.5,717 899.7,750.2 899.9,743.4 900.2,761.7 900.4,744.1 900.7,743.4 900.9,757 901.2,761.5 901.4,764 901.6,770.5 901.9,751.4 902.1,740.6 902.4,771.6 902.6,746.5 902.8,764.9 903.1,778.8 1025.2,765.8 1025.5,770.5 1025.7,764.4 1025.9,750.5 1026.2,770.9 1026.4,757.9 1026.7,763 1026.9,754.7 1027.1,767.8 1027.4,756.6 1027.6,769.6 1027.9,777.3 1028.1,771.9 1028.3,767.9 1028.6,769.2 1028.8,761 1029.1,746.7 1029.3,768.2 1029.6,752.5 1029.8,755.2 1030,763.5 1030.3,765.8 1030.5,752.8 1030.8,752.7 1031,761.3 1031.2,760.1 1031.5,759.5 1031.7,773.1 1032,760.4 1032.2,759.6 1032.4,746.7 1032.7,777.1 1032.9,774.3 1033.2,766.2 1033.4,773.6 1033.6,772.9 1033.9,769.9 1212.2,767.4 1212.4,766.7 1212.6,762.7 1212.9,763 1213.1,751.7 1213.4,760.1 1213.6,760.2 1213.8,748.7 1214.1,751.2 1214.3,746.5 1214.6,763.6 1214.8,743.6 1215,755.5 1215.3,764.9 1215.5,756 1215.8,765.6 1216,762.9 1216.3,756.8 1216.5,743.3 1216.7,764.4 1217,748.3 1217.2,752.8 1217.5,734.9 1217.7,747.1 1217.9,742.6 1218.2,734.5 1218.4,757.7 1218.7,750.3 1218.9,761.1 1219.1,755 1219.4,744.3 1219.6,749.3 1219.9,744.5 1220.1,752.8 1220.3,756.3 1220.6,752 1220.8,759.9 1221.1,763 1221.3,768.5 1221.5,755.9 1221.8,751.8 1222,768.6 1222.3,762.8 1222.5,781.2 1222.8,772.3 1223,762.1 1223.2,776.3 1223.5,761.8 1223.7,771 1224,765.4 1224.2,775.3 1224.4,784.6"/>
<polyline fill="none" stroke="#7fdc8a" stroke-width="9" stroke-opacity="0.42" stroke-linejoin="round" stroke-linecap="round" points="353.3,779.6 354.1,777.8 354.6,777.3 355,777.5 355.8,778.8"/>
<polyline fill="none" stroke="#7fdc8a" stroke-width="9" stroke-opacity="0.42" stroke-linejoin="round" stroke-linecap="round" points="487,780.7 487.8,776.1 488.5,770.5 489.2,763.8 489.7,758.5 490.2,752.6 490.7,745.8 491.1,738.2 491.6,729.7 492.1,720.3 492.6,709.9 493.1,698.5 493.6,686.3 494.3,666.7 495,646.8 495.5,634.3 495.7,628.5 496,623.2 496.2,618.5 496.4,614.5 496.7,611.2 496.9,608.8 497.2,607.3 497.4,606.8 497.6,607.3 497.9,608.7 498.1,611 498.4,614.3 498.6,618.2 498.8,622.9 499.1,628.2 499.3,633.9 499.8,646.3 501,679.1 501.5,691.6 502,703.3 502.5,714.1 502.9,724 503.4,732.8 503.9,740.7 504.4,747.8 504.9,754 505.4,759.5 505.8,764.3 506.6,770.5 507.3,775.5 508,779.6"/>
<polyline fill="none" stroke="#7fdc8a" stroke-width="9" stroke-opacity="0.42" stroke-linejoin="round" stroke-linecap="round" points="542.2,779.9 543.7,775 544.9,770 546.1,763.9 547,758 547.8,752.8 548.5,746.9 549.2,740 549.9,731.9 550.4,725.8 550.9,718.8 551.4,711 551.8,702.1 552.1,697.2 552.3,692 552.6,686.5 552.8,680.6 553.1,674.3 553.3,667.6 553.5,660.4 553.8,652.8 554,644.6 554.3,635.9 554.5,626.7 554.7,616.8 555,606.3 555.2,595.1 555.5,583.3 555.7,570.7 555.9,557.3 556.2,543.2 556.4,528.3 556.7,512.5 556.9,496 557.1,478.6 557.4,460.3 557.6,441.2 557.9,421.4 558.1,400.8 558.4,379.5 558.6,357.6 558.8,335.2 559.6,266.9 559.8,244.3 560,222.4 560.3,201.4 560.5,181.6 560.8,163.4 561,147.3 561.2,133.4 561.5,122.3 561.7,114.1 562,109.1 562.2,107.4 562.4,109 562.7,113.9 562.9,122 563.2,133.1 563.4,146.8 563.7,162.9 563.9,181 564.1,200.7 564.4,221.6 564.6,243.4 565.1,288.6 565.6,334 565.8,356.2 566.1,378 566.3,399.2 566.5,419.7 566.8,439.4 567,458.4 567.3,476.5 567.5,493.8 567.7,510.3 568,525.9 568.2,540.6 568.5,554.6 568.7,567.8 569,580.2 569.2,591.9 569.4,602.9 569.7,613.3 569.9,622.9 570.2,632 570.4,640.5 570.6,648.4 570.9,655.8 571.1,662.8 571.4,669.2 571.6,675.3 571.8,680.9 572.1,686.1 572.3,691 572.6,695.5 573,703.6 573.5,710.6 574,716.7 574.5,721.8 575,726.2 575.5,729.9 576.2,734.3 576.9,737.5 577.6,739.7 578.3,741 579.3,741.8 581,742.4 581.7,743.3 582.4,745.2 583.2,748.1 583.9,751.9 585.3,760.9 586.8,769.9 588,776.4 589.2,781.9"/>
<polyline fill="none" stroke="#7fdc8a" stroke-width="9" stroke-opacity="0.42" stroke-linejoin="round" stroke-linecap="round" points="646,780.5 646.8,775.7 647.5,769.9 648.2,763 648.9,754.8 649.4,748.6 649.9,741.8 650.6,730.5 651.3,717.9 652.8,691.2 653.3,682.9 653.5,679.2 653.7,675.7 654,672.7 654.2,670.1 654.5,668 654.7,666.5 655,665.6 655.2,665.3 655.4,665.6 655.7,666.5 655.9,668.1 656.2,670.2 656.4,672.8 656.6,675.8 656.9,679.3 657.4,687.1 658.1,700.2 659,718.1 659.8,730.8 660.5,742.2 661,749 661.5,755.2 662.2,763.4 662.9,770.4 663.6,776.2 664.3,781.1"/>
<polyline fill="none" stroke="#7fdc8a" stroke-width="9" stroke-opacity="0.42" stroke-linejoin="round" stroke-linecap="round" points="774.2,779.4 775.2,773 776.4,763.6 778.1,749.9 778.8,744.9 779.3,742.2 779.7,740.3 780.2,739.2 780.7,739.2 781.2,740 781.7,741.8 782.1,744.3 782.9,749.2 785.3,767.9 786.2,774.5 787.2,780.2"/>
<polyline fill="none" stroke="#7fdc8a" stroke-width="9" stroke-opacity="0.42" stroke-linejoin="round" stroke-linecap="round" points="809.9,782 810.8,777.5 811.5,773.4 812.3,768.6 813,762.9 813.7,756.2 814.4,748.3 814.9,742.4 815.4,735.8 815.9,728.6 816.4,720.7 816.8,712.1 817.3,702.8 818,687.8 818.8,671.7 819.7,649.7 820.2,639.2 820.7,629.6 820.9,625.3 821.2,621.4 821.4,618 821.7,615.1 821.9,612.8 822.1,611.1 822.4,610.1 822.6,609.8 822.9,610.1 823.1,611.1 823.3,612.8 823.6,615.1 823.8,618 824.1,621.4 824.3,625.3 824.5,629.6 825,639.2 825.8,655.2 827,682.6 827.7,698 828.2,707.6 828.6,716.5 829.1,724.8 829.6,732.3 830.1,739.2 830.6,745.5 831.3,753.8 832,760.9 832.7,766.9 833.5,772 834.2,776.4 835.1,781.2"/>
<polyline fill="none" stroke="#7fdc8a" stroke-width="9" stroke-opacity="0.42" stroke-linejoin="round" stroke-linecap="round" points="875.6,781.5 876.6,777.5 877.5,772.6 878.3,768.3 879,763.2 879.7,757.2 880.4,750.2 881.2,742.1 881.6,735.9 882.1,729.1 882.6,721.7 883.1,713.5 883.6,704.5 884,694.7 884.5,684.2 885,672.8 885.5,660.7 886.2,641.3 887.7,600.6 888.1,587.6 888.4,581.5 888.6,575.7 888.9,570.4 889.1,565.5 889.3,561.1 889.6,557.4 889.8,554.3 890.1,551.9 890.3,550.4 890.6,549.6 890.8,549.6 891,550.4 891.3,552 891.5,554.3 891.8,557.4 892,561.2 892.2,565.5 892.5,570.5 892.7,575.8 893,581.6 893.4,594.2 894.2,614.3 895.1,641.6 895.9,661 896.3,673.1 896.8,684.5 897.3,695.1 897.8,704.9 898.3,713.9 898.7,722.1 899.2,729.6 899.7,736.5 900.2,742.6 900.9,750.8 901.6,757.8 902.4,763.8 903.1,769 904,774.7 905,779.4"/>
<polyline fill="none" stroke="#7fdc8a" stroke-width="9" stroke-opacity="0.42" stroke-linejoin="round" stroke-linecap="round" points="1022.1,783.5 1023.8,776.1 1026.2,764.7 1027.1,760.8 1027.9,758.6 1028.6,757.2 1029.3,756.6 1030,757 1030.8,758.2 1031.7,760.9 1033.2,766.4 1035.3,774.8 1036.8,779.6"/>
<polyline fill="none" stroke="#7fdc8a" stroke-width="9" stroke-opacity="0.42" stroke-linejoin="round" stroke-linecap="round" points="1210,779.6 1211.7,772 1214.8,756.4 1215.8,752.3 1216.7,749.1 1217.5,747.7 1218.2,747.1 1218.9,747.4 1219.6,748.6 1220.3,750.7 1221.3,754.4 1222.8,761.3 1225.4,774.7 1227.1,782.1"/>
<polyline fill="none" stroke="#30a544" stroke-width="2.4" stroke-linejoin="round" points="255.3,815.4 314.3,814.8 330,814 337.2,812.7 341.1,811.2 343.5,809.5 345.4,807.1 346.8,804.4 348,801.4 349.3,797.4 350.5,792.4 352.6,782.3 353.3,779.6 354.1,777.8 354.6,777.3 355,777.5 355.8,778.8 356.5,781.3 357.9,787.9 359.4,794.5 360.6,799 361.8,802.6 363.2,805.8 364.9,808.3 367.1,810.3 370.5,812 376.2,813.3 387.6,814.1 414.3,814.2 441.8,813.2 456.7,811.8 465.6,810 471.4,808 475.5,805.5 478.6,802.7 481,799.4 482.7,796.2 484.2,792.6 485.4,788.6 486.3,784.5 487,780.7 487.8,776.1 488.5,770.5 489.2,763.8 489.7,758.5 490.2,752.6 490.7,745.8 491.1,738.2 491.6,729.7 492.1,720.3 492.6,709.9 493.1,698.5 493.6,686.3 494.3,666.7 495,646.8 495.5,634.3 495.7,628.5 496,623.2 496.2,618.5 496.4,614.5 496.7,611.2 496.9,608.8 497.2,607.3 497.4,606.8 497.6,607.3 497.9,608.7 498.1,611 498.4,614.3 498.6,618.2 498.8,622.9 499.1,628.2 499.3,633.9 499.8,646.3 501,679.1 501.5,691.6 502,703.3 502.5,714.1 502.9,724 503.4,732.8 503.9,740.7 504.4,747.8 504.9,754 505.4,759.5 505.8,764.3 506.6,770.5 507.3,775.5 508,779.6 509,784 509.9,787.5 511.1,790.7 512.6,793.7 514.5,796.4 516.9,798.5 519.8,799.8 523.2,800.3 527,799.6 530.6,797.8 533.8,795.2 536.4,792.1 538.6,788.6 540.5,784.5 542.2,779.9 543.7,775 544.9,770 546.1,763.9 547,758 547.8,752.8 548.5,746.9 549.2,740 549.9,731.9 550.4,725.8 550.9,718.8 551.4,711 551.8,702.1 552.1,697.2 552.3,692 552.6,686.5 552.8,680.6 553.1,674.3 553.3,667.6 553.5,660.4 553.8,652.8 554,644.6 554.3,635.9 554.5,626.7 554.7,616.8 555,606.3 555.2,595.1 555.5,583.3 555.7,570.7 555.9,557.3 556.2,543.2 556.4,528.3 556.7,512.5 556.9,496 557.1,478.6 557.4,460.3 557.6,441.2 557.9,421.4 558.1,400.8 558.4,379.5 558.6,357.6 558.8,335.2 559.6,266.9 559.8,244.3 560,222.4 560.3,201.4 560.5,181.6 560.8,163.4 561,147.3 561.2,133.4 561.5,122.3 561.7,114.1 562,109.1 562.2,107.4 562.4,109 562.7,113.9 562.9,122 563.2,133.1 563.4,146.8 563.7,162.9 563.9,181 564.1,200.7 564.4,221.6 564.6,243.4 565.1,288.6 565.6,334 565.8,356.2 566.1,378 566.3,399.2 566.5,419.7 566.8,439.4 567,458.4 567.3,476.5 567.5,493.8 567.7,510.3 568,525.9 568.2,540.6 568.5,554.6 568.7,567.8 569,580.2 569.2,591.9 569.4,602.9 569.7,613.3 569.9,622.9 570.2,632 570.4,640.5 570.6,648.4 570.9,655.8 571.1,662.8 571.4,669.2 571.6,675.3 571.8,680.9 572.1,686.1 572.3,691 572.6,695.5 573,703.6 573.5,710.6 574,716.7 574.5,721.8 575,726.2 575.5,729.9 576.2,734.3 576.9,737.5 577.6,739.7 578.3,741 579.3,741.8 581,742.4 581.7,743.3 582.4,745.2 583.2,748.1 583.9,751.9 585.3,760.9 586.8,769.9 588,776.4 589.2,781.9 590.4,786.3 591.8,790.4 593.5,794.1 595.7,797.5 598.3,800.4 602,803 606.8,805.3 613,807 620.3,807.8 627,807.4 632.1,806.1 635.7,804.1 638.3,801.8 640.5,798.9 642.2,795.6 643.4,792.3 644.4,788.9 645.3,784.6 646,780.5 646.8,775.7 647.5,769.9 648.2,763 648.9,754.8 649.4,748.6 649.9,741.8 650.6,730.5 651.3,717.9 652.8,691.2 653.3,682.9 653.5,679.2 653.7,675.7 654,672.7 654.2,670.1 654.5,668 654.7,666.5 655,665.6 655.2,665.3 655.4,665.6 655.7,666.5 655.9,668.1 656.2,670.2 656.4,672.8 656.6,675.8 656.9,679.3 657.4,687.1 658.1,700.2 659,718.1 659.8,730.8 660.5,742.2 661,749 661.5,755.2 662.2,763.4 662.9,770.4 663.6,776.2 664.3,781.1 665.1,785.2 666,789.6 667.2,793.9 668.7,797.6 670.4,800.7 672.5,803.6 675.4,806.1 679.5,808.4 685.3,810.1 692.3,811 697.6,810.6 704.1,809 706.7,809.5 712.8,811.6 719.5,812.5 734.5,812.5 747.7,811.5 755.6,810.1 760.7,808.2 764.1,806.1 766.5,803.7 768.4,800.8 769.9,797.6 771.1,794.1 772.3,789.5 773.2,784.9 774.2,779.4 775.2,773 776.4,763.6 778.1,749.9 778.8,744.9 779.3,742.2 779.7,740.3 780.2,739.2 780.7,739.2 781.2,740 781.7,741.8 782.1,744.3 782.9,749.2 785.3,767.9 786.2,774.5 787.2,780.2 788.2,784.8 789.1,788.6 790.3,792.3 791.5,794.9 793,797.1 794.9,798.8 797.1,799.5 799.5,799.2 801.9,797.9 804.1,795.7 806,792.8 807.4,789.7 808.6,786.4 809.9,782 810.8,777.5 811.5,773.4 812.3,768.6 813,762.9 813.7,756.2 814.4,748.3 814.9,742.4 815.4,735.8 815.9,728.6 816.4,720.7 816.8,712.1 817.3,702.8 818,687.8 818.8,671.7 819.7,649.7 820.2,639.2 820.7,629.6 820.9,625.3 821.2,621.4 821.4,618 821.7,615.1 821.9,612.8 822.1,611.1 822.4,610.1 822.6,609.8 822.9,610.1 823.1,611.1 823.3,612.8 823.6,615.1 823.8,618 824.1,621.4 824.3,625.3 824.5,629.6 825,639.2 825.8,655.2 827,682.6 827.7,698 828.2,707.6 828.6,716.5 829.1,724.8 829.6,732.3 830.1,739.2 830.6,745.5 831.3,753.8 832,760.9 832.7,766.9 833.5,772 834.2,776.4 835.1,781.2 836.4,785.9 837.6,789.5 839,792.8 840.9,796.1 843.3,799 846.2,801.2 849.8,802.8 854.2,803.5 858.8,803 862.8,801.5 866.2,799.2 868.9,796.5 871,793.3 873,789.4 874.4,785.6 875.6,781.5 876.6,777.5 877.5,772.6 878.3,768.3 879,763.2 879.7,757.2 880.4,750.2 881.2,742.1 881.6,735.9 882.1,729.1 882.6,721.7 883.1,713.5 883.6,704.5 884,694.7 884.5,684.2 885,672.8 885.5,660.7 886.2,641.3 887.7,600.6 888.1,587.6 888.4,581.5 888.6,575.7 888.9,570.4 889.1,565.5 889.3,561.1 889.6,557.4 889.8,554.3 890.1,551.9 890.3,550.4 890.6,549.6 890.8,549.6 891,550.4 891.3,552 891.5,554.3 891.8,557.4 892,561.2 892.2,565.5 892.5,570.5 892.7,575.8 893,581.6 893.4,594.2 894.2,614.3 895.1,641.6 895.9,661 896.3,673.1 896.8,684.5 897.3,695.1 897.8,704.9 898.3,713.9 898.7,722.1 899.2,729.6 899.7,736.5 900.2,742.6 900.9,750.8 901.6,757.8 902.4,763.8 903.1,769 904,774.7 905,779.4 906.2,784.2 907.7,788.6 909.3,792.6 911.3,796 913.7,799.2 916.6,801.7 919.7,803.3 923.1,803.8 927.9,803.4 930.3,804.3 936.3,808.3 940.9,810 948.1,811.3 959.9,811.8 969.8,811.3 975.6,810.1 979.2,808.4 981.9,806.2 984,803.4 986.2,799.4 989.6,791.9 990.8,790.1 991.7,789.4 992.7,789.7 993.9,791.1 996.3,795.9 998.5,800.1 1000.4,802.8 1002.6,804.8 1005.2,805.9 1008.1,806 1011,805 1013.7,803.1 1015.8,800.4 1017.5,797.4 1019.2,793.4 1020.6,788.9 1022.1,783.5 1023.8,776.1 1026.2,764.7 1027.1,760.8 1027.9,758.6 1028.6,757.2 1029.3,756.6 1030,757 1030.8,758.2 1031.7,760.9 1033.2,766.4 1035.3,774.8 1036.8,779.6 1038.5,783.9 1040.9,788.6 1047.1,799.7 1049.8,803.4 1052.7,806.2 1056.1,808.3 1060.6,809.8 1066.4,810.5 1071.7,810.1 1075.6,808.8 1078.7,806.7 1081.3,803.9 1086.4,796.9 1087.9,795.6 1089.3,795.5 1090.7,796.5 1092.9,799.4 1096.5,804.7 1099.4,807.8 1102.5,810 1106.9,811.7 1114.1,812.9 1128.3,813.6 1147.1,813.2 1158.7,812.1 1164.9,810.6 1168.8,808.8 1171.7,806.5 1174.3,803.3 1177,799 1180.4,793 1181.8,791.3 1183,790.9 1184.2,791.3 1185.9,793.1 1190,799 1192.4,801.3 1194.8,802.5 1197.2,802.7 1199.6,801.7 1201.8,799.9 1203.7,797.2 1205.4,794 1207.1,789.8 1208.5,785.1 1210,779.6 1211.7,772 1214.8,756.4 1215.8,752.3 1216.7,749.1 1217.5,747.7 1218.2,747.1 1218.9,747.4 1219.6,748.6 1220.3,750.7 1221.3,754.4 1222.8,761.3 1225.4,774.7 1227.1,782.1 1228.5,787.5 1230.2,792.6 1231.9,796.6 1233.8,800.1 1236.2,803.2 1239.1,805.7 1243,807.6 1248,808.8 1253.6,809 1258.2,808.1 1261.5,806.5 1264.4,804.1 1267.1,800.9 1269.7,796.5 1273.6,789.5 1275,787.6 1276.2,786.9 1277.4,787 1278.9,788.3 1280.8,791.4 1285.1,799.7 1287.8,803.7 1290.7,806.9 1294.1,809.3 1298.6,811.2 1305.9,812.6 1318.9,813.7 1337.2,813.8 1347.5,813 1354.3,811.5 1362,808.9 1365.4,808.9 1375,811.2 1380.8,811.4 1386.3,810.5 1390.7,808.8 1394,806.4 1396.9,803.3 1399.6,799.3 1402.5,793.7 1405.8,786.8 1407.3,784.7 1408.5,783.7 1409.7,783.6 1410.9,784.5 1412.3,786.5 1415,791.8 1418.4,798.6 1421,802.9 1423.9,806.3 1427.3,809 1431.6,811.1 1438.1,812.8 1449.7,814.1 1459.8,814.6"/>
<polyline fill="none" stroke="#30a544" stroke-width="2.7" stroke-linejoin="round" stroke-linecap="round" points="255.3,815.4 314.3,814.8 330,814 337.2,812.7 341.1,811.2 343.5,809.5 345.4,807.1 346.8,804.4 348,801.4 349.3,797.4 350.5,792.4 352.6,782.3 353.3,779.6 354.1,777.8"/>
<polyline fill="none" stroke="#30a544" stroke-width="2.7" stroke-linejoin="round" stroke-linecap="round" points="355,777.5 355.8,778.8 356.5,781.3 357.9,787.9 359.4,794.5 360.6,799 361.8,802.6 363.2,805.8 364.9,808.3 367.1,810.3 370.5,812 376.2,813.3 387.6,814.1 414.3,814.2 441.8,813.2 456.7,811.8 465.6,810 471.4,808 475.5,805.5 478.6,802.7 481,799.4 482.7,796.2 484.2,792.6 485.4,788.6 486.3,784.5 487,780.7 487.8,776.1"/>
<polyline fill="none" stroke="#30a544" stroke-width="2.7" stroke-linejoin="round" stroke-linecap="round" points="507.3,775.5 508,779.6 509,784 509.9,787.5 511.1,790.7 512.6,793.7 514.5,796.4 516.9,798.5 519.8,799.8 523.2,800.3 527,799.6 530.6,797.8 533.8,795.2 536.4,792.1 538.6,788.6 540.5,784.5 542.2,779.9 543.7,775"/>
<polyline fill="none" stroke="#30a544" stroke-width="2.7" stroke-linejoin="round" stroke-linecap="round" points="588,776.4 589.2,781.9 590.4,786.3 591.8,790.4 593.5,794.1 595.7,797.5 598.3,800.4 602,803 606.8,805.3 613,807 620.3,807.8 627,807.4 632.1,806.1 635.7,804.1 638.3,801.8 640.5,798.9 642.2,795.6 643.4,792.3 644.4,788.9 645.3,784.6 646,780.5 646.8,775.7"/>
<polyline fill="none" stroke="#30a544" stroke-width="2.7" stroke-linejoin="round" stroke-linecap="round" points="663.6,776.2 664.3,781.1 665.1,785.2 666,789.6 667.2,793.9 668.7,797.6 670.4,800.7 672.5,803.6 675.4,806.1 679.5,808.4 685.3,810.1 692.3,811 697.6,810.6 704.1,809 706.7,809.5 712.8,811.6 719.5,812.5 734.5,812.5 747.7,811.5 755.6,810.1 760.7,808.2 764.1,806.1 766.5,803.7 768.4,800.8 769.9,797.6 771.1,794.1 772.3,789.5 773.2,784.9 774.2,779.4 775.2,773"/>
<polyline fill="none" stroke="#30a544" stroke-width="2.7" stroke-linejoin="round" stroke-linecap="round" points="786.2,774.5 787.2,780.2 788.2,784.8 789.1,788.6 790.3,792.3 791.5,794.9 793,797.1 794.9,798.8 797.1,799.5 799.5,799.2 801.9,797.9 804.1,795.7 806,792.8 807.4,789.7 808.6,786.4 809.9,782 810.8,777.5"/>
<polyline fill="none" stroke="#30a544" stroke-width="2.7" stroke-linejoin="round" stroke-linecap="round" points="834.2,776.4 835.1,781.2 836.4,785.9 837.6,789.5 839,792.8 840.9,796.1 843.3,799 846.2,801.2 849.8,802.8 854.2,803.5 858.8,803 862.8,801.5 866.2,799.2 868.9,796.5 871,793.3 873,789.4 874.4,785.6 875.6,781.5 876.6,777.5"/>
<polyline fill="none" stroke="#30a544" stroke-width="2.7" stroke-linejoin="round" stroke-linecap="round" points="904,774.7 905,779.4 906.2,784.2 907.7,788.6 909.3,792.6 911.3,796 913.7,799.2 916.6,801.7 919.7,803.3 923.1,803.8 927.9,803.4 930.3,804.3 936.3,808.3 940.9,810 948.1,811.3 959.9,811.8 969.8,811.3 975.6,810.1 979.2,808.4 981.9,806.2 984,803.4 986.2,799.4 989.6,791.9 990.8,790.1 991.7,789.4 992.7,789.7 993.9,791.1 996.3,795.9 998.5,800.1 1000.4,802.8 1002.6,804.8 1005.2,805.9 1008.1,806 1011,805 1013.7,803.1 1015.8,800.4 1017.5,797.4 1019.2,793.4 1020.6,788.9 1022.1,783.5 1023.8,776.1"/>
<polyline fill="none" stroke="#30a544" stroke-width="2.7" stroke-linejoin="round" stroke-linecap="round" points="1035.3,774.8 1036.8,779.6 1038.5,783.9 1040.9,788.6 1047.1,799.7 1049.8,803.4 1052.7,806.2 1056.1,808.3 1060.6,809.8 1066.4,810.5 1071.7,810.1 1075.6,808.8 1078.7,806.7 1081.3,803.9 1086.4,796.9 1087.9,795.6 1089.3,795.5 1090.7,796.5 1092.9,799.4 1096.5,804.7 1099.4,807.8 1102.5,810 1106.9,811.7 1114.1,812.9 1128.3,813.6 1147.1,813.2 1158.7,812.1 1164.9,810.6 1168.8,808.8 1171.7,806.5 1174.3,803.3 1177,799 1180.4,793 1181.8,791.3 1183,790.9 1184.2,791.3 1185.9,793.1 1190,799 1192.4,801.3 1194.8,802.5 1197.2,802.7 1199.6,801.7 1201.8,799.9 1203.7,797.2 1205.4,794 1207.1,789.8 1208.5,785.1 1210,779.6 1211.7,772"/>
<polyline fill="none" stroke="#30a544" stroke-width="2.7" stroke-linejoin="round" stroke-linecap="round" points="1225.4,774.7 1227.1,782.1 1228.5,787.5 1230.2,792.6 1231.9,796.6 1233.8,800.1 1236.2,803.2 1239.1,805.7 1243,807.6 1248,808.8 1253.6,809 1258.2,808.1 1261.5,806.5 1264.4,804.1 1267.1,800.9 1269.7,796.5 1273.6,789.5 1275,787.6 1276.2,786.9 1277.4,787 1278.9,788.3 1280.8,791.4 1285.1,799.7 1287.8,803.7 1290.7,806.9 1294.1,809.3 1298.6,811.2 1305.9,812.6 1318.9,813.7 1337.2,813.8 1347.5,813 1354.3,811.5 1362,808.9 1365.4,808.9 1375,811.2 1380.8,811.4 1386.3,810.5 1390.7,808.8 1394,806.4 1396.9,803.3 1399.6,799.3 1402.5,793.7 1405.8,786.8 1407.3,784.7 1408.5,783.7 1409.7,783.6 1410.9,784.5 1412.3,786.5 1415,791.8 1418.4,798.6 1421,802.9 1423.9,806.3 1427.3,809 1431.6,811.1 1438.1,812.8 1449.7,814.1 1459.8,814.6"/>
<polyline fill="none" stroke="#0a0ae6" stroke-width="4.0" stroke-linejoin="round" points="255.3,882.1 255.5,905.4 255.8,892.3 256,898.2 256.3,898.9 256.5,899 256.7,908.9 257,901.5 257.2,905.7 257.5,886.6 257.7,902.6 257.9,906.3 258.2,906.7 258.4,909.3 258.7,911.8 258.9,909.1 259.2,905.3 259.4,909.2 259.6,903.8 259.9,909.7 260.1,908.9 260.4,901.9 260.6,907 260.8,912.4 261.1,911.2 261.3,908 261.6,901.6 261.8,912.6 262,912.8 262.3,907 262.5,916.4 262.8,913.8 263,908.3 263.2,910 263.5,912.5 263.7,909.9 264,926.9 264.2,908.5 264.5,918.2 264.7,921.8 264.9,912.5 265.2,910.6 265.4,916.2 265.7,919.4 265.9,914.1 266.1,914.5 266.4,907.4 266.6,910.6 266.9,913.2 267.1,908.7 267.3,915 267.6,918.4 267.8,911.1 268.1,911.1 268.3,915 268.5,917.8 268.8,912.9 269,926.2 269.3,910.9 269.5,911.9 269.8,922.3 270,914.1 270.2,919.2 270.5,910.9 270.7,924.4 271,919 271.2,911.2 271.4,909.1 271.7,925.1 271.9,917.1 272.2,913.2 272.4,917.7 272.6,907.1 272.9,920.6 273.1,913.1 273.4,919.9 273.6,908.1 273.8,914.9 274.1,916.6 274.3,923.1 274.6,906.6 274.8,911.1 275.1,911 275.3,909.1 275.5,912.9 275.8,917.6 276,918.3 276.3,918.3 276.5,907.7 276.7,921.3 277,917.1 277.2,915.7 277.5,912.9 277.7,911.1 277.9,919.8 278.2,921.9 278.4,913.4 278.7,907.2 278.9,909.2 279.1,911.6 279.4,913.9 279.6,910.8 279.9,913.2 280.1,908 280.4,915.7 280.6,911.3 280.8,912.5 281.1,909.5 281.3,911.2 281.6,900.3 281.8,905.6 282,906 282.3,923.5 282.5,915.8 282.8,917.5 283,912.4 283.2,926.5 283.5,910.2 283.7,911.1 284,922.8 284.2,921.5 284.4,920.8 284.7,916.8 284.9,913.9 285.2,907.1 285.4,917.9 285.7,913.1 285.9,916 286.1,908.1 286.4,913 286.6,910 286.9,921.9 287.1,917.8 287.3,921 287.6,910 287.8,914.3 288.1,919.3 288.3,920.3 288.5,916.1 288.8,922.1 289,923.5 289.3,916.8 289.5,907.3 289.7,920.3 290,921.7 290.2,924.5 290.5,925 290.7,915.7 291,913.8 291.2,917.6 291.4,915.7 291.7,916.6 291.9,916.3 292.2,924.2 292.4,919 292.6,916.3 292.9,920.7 293.1,919.3 293.4,921 293.6,918.8 293.8,913.2 294.1,919.3 294.3,918.2 294.6,913.5 294.8,914.3 295,909.2 295.3,927.5 295.5,913.2 295.8,919.6 296,916.6 296.3,913.2 296.5,912 296.7,912.3 297,916.7 297.2,909.8 297.5,919.2 297.7,918.7 297.9,914.4 298.2,921.2 298.4,908.3 298.7,914 298.9,908.7 299.1,919.6 299.4,921.5 299.6,919 299.9,916.3 300.1,922.8 300.3,918.2 300.6,920.1 300.8,912.1 301.1,923.1 301.3,914.6 301.6,922.6 301.8,923.8 302,922.3 302.3,924.3 302.5,917.4 302.8,912.7 303,916.5 303.2,913.8 303.5,908.6 303.7,915 304,915.1 304.2,917.3 304.4,923.7 304.7,912.2 304.9,924.5 305.2,912.9 305.4,916.2 305.6,910.8 305.9,916.6 306.1,920.3 306.4,914.6 306.6,918.9 306.9,917 307.1,915.7 307.3,916.4 307.6,916.4 307.8,919.3 308.1,915.9 308.3,925.1 308.5,915.2 308.8,920 309,908.6 309.3,907.7 309.5,923.2 309.7,913.1 310,914.4 310.2,919 310.5,911.6 310.7,916.7 310.9,923.3 311.2,916.4 311.4,916.2 311.7,915.3 311.9,922.2 312.2,913.5 312.4,913.2 312.6,922.6 312.9,920.4 313.1,917.8 313.4,920.4 313.6,909.3 313.8,917 314.1,923.1 314.3,922.2 314.6,918.9 314.8,907.7 315,920 315.3,918.8 315.5,917.1 315.8,920.1 316,909.1 316.2,922.9 316.5,916.9 316.7,919.8 317,917.5 317.2,926.2 317.5,911.7 317.7,920.7 317.9,919.7 318.2,924.1 318.4,922.8 318.7,916.2 318.9,913.8 319.1,914.6 319.4,912.1 319.6,914.2 319.9,917.3 320.1,913.1 320.3,913.9 320.6,917 320.8,912.7 321.1,909.7 321.3,914.6 321.5,917.2 321.8,911.7 322,905.8 322.3,916 322.5,915.4 322.8,915.6 323,909 323.2,924 323.5,913.4 323.7,909.4 324,919.4 324.2,908.3 324.4,913.2 324.7,918.7 324.9,915.3 325.2,924.1 325.4,919.8 325.6,908.5 325.9,922.2 326.1,909.3 326.4,919.2 326.6,914.3 326.8,919.3 327.1,930.8 327.3,922.9 327.6,919.3 327.8,925.9 328.1,926.9 328.3,918.5 328.5,923.5 328.8,928.5 329,923.5 329.3,916 329.5,922.5 329.7,915.6 330,912.8 330.2,920.2 330.5,925.9 330.7,926.9 330.9,920.7 331.2,916.3 331.4,919.3 331.7,918 331.9,922.9 332.1,919.2 332.4,922.9 332.6,922.1 332.9,926.8 333.1,928 333.4,922.5 333.6,925.3 333.8,924.3 334.1,916 334.3,919.6 334.6,904.4 334.8,913.9 335,921.2 335.3,914 335.5,915.9 335.8,920.8 336,911.8 336.2,921 336.5,932.1 336.7,913.1 337,920.1 337.2,909.7 337.4,920.4 337.7,923.1 337.9,909.8 338.2,922.9 338.4,916.8 338.7,910.9 338.9,917.7 339.1,918.9 339.4,918.2 339.6,914.8 339.9,923.1 340.1,916.2 340.3,916.4 340.6,907.7 340.8,920.9 341.1,923.6 341.3,915.3 341.5,920.8 341.8,917.2 342,917.8 342.3,912.5 342.5,921.5 342.7,918.6 343,930.9 343.2,922.5 343.5,910.4 343.7,921.4 344,921.5 344.2,924 344.4,914.9 344.7,916.8 344.9,923.5 345.2,914 345.4,915.8 345.6,913 345.9,919.8 346.1,907.5 346.4,914 346.6,916.4 346.8,918.2 347.1,916.7 347.3,910.9 347.6,916.6 347.8,909.6 348,912.2 348.3,908.2 348.5,911 348.8,915.5 349,925 349.3,913.6 349.5,911.1 349.7,914.2 350,912.1 350.2,917.3 350.5,916.7 350.7,919.5 350.9,907.4 351.2,913.6 351.4,917 351.7,921.4 351.9,915.2 352.1,906.9 352.4,912.2 352.6,918.7 352.9,907.5 353.1,907.8 353.3,910.5 353.6,911.8 353.8,910.2 354.1,913.7 354.3,912.7 354.6,921.1 354.8,909 355,915.8 355.3,906.1 355.5,927.6 355.8,912.7 356,910.9 356.2,917.5 356.5,912.8 356.7,910.7 357,911.1 357.2,916.5 357.4,913.9 357.7,907.3 357.9,905.5 358.2,911.3 358.4,911.1 358.6,910.3 358.9,905.8 359.1,916.6 359.4,918.1 359.6,910.6 359.9,917.1 360.1,914.6 360.3,911.2 360.6,909.3 360.8,917.4 361.1,907.9 361.3,921.1 361.5,909.2 361.8,919.9 362,918.3 362.3,908.4 362.5,913.6 362.7,915.4 363,913.6 363.2,909 363.5,911.7 363.7,911.6 363.9,906.3 364.2,915.5 364.4,914.5 364.7,915 364.9,906.7 365.2,907.8 365.4,906.6 365.6,913.4 365.9,914.2 366.1,909.3 366.4,915.8 366.6,909.8 366.8,910.6 367.1,917.9 367.3,915.2 367.6,915.6 367.8,906.8 368,902.8 368.3,916.5 368.5,916.2 368.8,927.9 369,915.7 369.2,916.8 369.5,922.1 369.7,912.9 370,924.4 370.2,917.5 370.5,915.5 370.7,922 370.9,911.3 371.2,910.1 371.4,922 371.7,921.9 371.9,911.9 372.1,915 372.4,920.9 372.6,916.5 372.9,915.7 373.1,916.1 373.3,911.5 373.6,913.9 373.8,907.2 374.1,909.3 374.3,912.8 374.5,910.9 374.8,909.6 375,912.6 375.3,922 375.5,911.6 375.7,915.3 376,907.6 376.2,915 376.5,912.9 376.7,913.9 377,907.3 377.2,914.8 377.4,917.2 377.7,914.5 377.9,918.3 378.2,915.5 378.4,916.4 378.6,915 378.9,906.9 379.1,918.1 379.4,915.8 379.6,916.7 379.8,912.1 380.1,920.9 380.3,918.2 380.6,914.7 380.8,911.6 381,914.4 381.3,916.6 381.5,918.4 381.8,911.7 382,907.2 382.3,912.8 382.5,913.7 382.7,912.6 383,919.5 383.2,916.5 383.5,916.4 383.7,913.7 383.9,915.3 384.2,921 384.4,909.5 384.7,906.6 384.9,916 385.1,912.6 385.4,913.1 385.6,910.4 385.9,921.3 386.1,906.1 386.3,916.2 386.6,907.7 386.8,913.5 387.1,915.9 387.3,914.9 387.6,910.1 387.8,919 388,917 388.3,917.9 388.5,924.3 388.8,909.9 389,913.8 389.2,917 389.5,911.4 389.7,922 390,917.8 390.2,909.1 390.4,912.8 390.7,928.5 390.9,933.9 391.2,922.6 391.4,912.3 391.6,919.7 391.9,918.3 392.1,914.2 392.4,921.4 392.6,915.9 392.9,912.9 393.1,914.4 393.3,914.6 393.6,919.4 393.8,913.9 394.1,918.6 394.3,910.1 394.5,904.1 394.8,920.4 395,927.6 395.3,919.4 395.5,915.8 395.7,912.9 396,913.1 396.2,922.7 396.5,923.1 396.7,913.4 396.9,925.3 397.2,914.9 397.4,921.6 397.7,917 397.9,917.4 398.2,917.2 398.4,917.2 398.6,926.1 398.9,919.8 399.1,921.3 399.4,919.8 399.6,915.3 399.8,922.6 400.1,924.6 400.3,924.6 400.6,922.5 400.8,917.2 401,924.7 401.3,915 401.5,919.2 401.8,921.7 402,927 402.2,919.3 402.5,917.1 402.7,929 403,914.5 403.2,912.3 403.5,918.6 403.7,917.8 403.9,908.4 404.2,914.1 404.4,924.4 404.7,920.1 404.9,920.8 405.1,920.8 405.4,931.7 405.6,916.6 405.9,923.6 406.1,919.9 406.3,921.6 406.6,916.9 406.8,922.9 407.1,925.5 407.3,919.3 407.5,915.2 407.8,923.8 408,915.8 408.3,921.3 408.5,925.2 408.8,915.2 409,926.6 409.2,917.6 409.5,924.8 409.7,920 410,927.9 410.2,925.7 410.4,916 410.7,919.9 410.9,920.3 411.2,922.2 411.4,917.5 411.6,926.2 411.9,924.6 412.1,919.7 412.4,922.9 412.6,922.2 412.8,919.1 413.1,919.5 413.3,920 413.6,910.9 413.8,914.2 414.1,913.2 414.3,919.4 414.5,921.8 414.8,926.5 415,921 415.3,929.5 415.5,922.1 415.7,915.4 416,911.2 416.2,914.3 416.5,923.1 416.7,916.4 416.9,922.6 417.2,914.6 417.4,919.1 417.7,914.2 417.9,905.7 418.1,913.6 418.4,906.5 418.6,916.9 418.9,919.1 419.1,910.7 419.4,908.5 419.6,919.4 419.8,916 420.1,923.2 420.3,917 420.6,911.5 420.8,916.2 421,918.5 421.3,922.6 421.5,913.9 421.8,911.9 422,912.9 422.2,914.6 422.5,922.1 422.7,907.2 423,916 423.2,916.4 423.4,912 423.7,926 423.9,915.6 424.2,915.8 424.4,913.2 424.7,908.3 424.9,912.4 425.1,923.7 425.4,916.3 425.6,913.6 425.9,913.9 426.1,920.9 426.3,922.9 426.6,912.1 426.8,913.2 427.1,915.1 427.3,923.5 427.5,906.5 427.8,929.4 428,917 428.3,904.9 428.5,915.9 428.7,913.9 429,920.7 429.2,908.2 429.5,921.1 429.7,913.4 430,914 430.2,919.8 430.4,910.4 430.7,921.8 430.9,918.3 431.2,915.3 431.4,917.4 431.6,913.3 431.9,911.3 432.1,917.4 432.4,918.8 432.6,918.7 432.8,918 433.1,912.2 433.3,917.1 433.6,914 433.8,916.2 434,919.8 434.3,911.2 434.5,920.4 434.8,915.2 435,907.9 435.3,920.6 435.5,915.6 435.7,923.3 436,918.2 436.2,923.2 436.5,917.9 436.7,919 436.9,915.9 437.2,908.9 437.4,915.4 437.7,913.6 437.9,917.1 438.1,917.9 438.4,920.6 438.6,925.2 438.9,915.7 439.1,907.8 439.3,913.2 439.6,917.9 439.8,906.9 440.1,916.9 440.3,917.7 440.6,920.5 440.8,919.1 441,915.6 441.3,904.6 441.5,915.5 441.8,919.6 442,917.7 442.2,916.1 442.5,923.6 442.7,914.9 443,912.4 443.2,914.6 443.4,913.5 443.7,923.2 443.9,925.5 444.2,911.2 444.4,912.4 444.6,925.6 444.9,917.2 445.1,918.2 445.4,915.7 445.6,917.3 445.9,920.7 446.1,917.1 446.3,917 446.6,917.8 446.8,926.4 447.1,931.7 447.3,920.5 447.5,924.4 447.8,914.9 448,912.4 448.3,914.4 448.5,917.4 448.7,915.1 449,909.6 449.2,918.8 449.5,910.5 449.7,911.5 449.9,913.5 450.2,907.5 450.4,918.1 450.7,909.9 450.9,919 451.2,918.2 451.4,919.7 451.6,912.3 451.9,919.2 452.1,914.4 452.4,920.3 452.6,909.6 452.8,906 453.1,914.1 453.3,907.3 453.6,912.9 453.8,905.2 454,915.8 454.3,924.3 454.5,909.5 454.8,917.8 455,922.6 455.2,920.9 455.5,925.9 455.7,918.9 456,923.4 456.2,910.8 456.5,914.9 456.7,926.4 456.9,925.6 457.2,920.9 457.4,927.5 457.7,918.5 457.9,918.1 458.1,921.7 458.4,920.7 458.6,915.6 458.9,911.1 459.1,910.9 459.3,918.3 459.6,914.5 459.8,922.6 460.1,917.2 460.3,924.2 460.5,916 460.8,926 461,924.8 461.3,920.2 461.5,917.5 461.8,927.5 462,923.1 462.2,919.8 462.5,919.4 462.7,924.8 463,920.2 463.2,922.1 463.4,913.9 463.7,918.3 463.9,927.8 464.2,932.4 464.4,921.1 464.6,915.8 464.9,921 465.1,917.5 465.4,924.4 465.6,928.7 465.8,918 466.1,921.1 466.3,917.9 466.6,928 466.8,919.9 467.1,923.6 467.3,916.2 467.5,922.9 467.8,922.9 468,922.7 468.3,913.3 468.5,919.5 468.7,923.4 469,924.8 469.2,924.9 469.5,912.3 469.7,928.7 469.9,923.8 470.2,916.3 470.4,913.4 470.7,920 470.9,915.1 471.1,915.1 471.4,913.8 471.6,918.3 471.9,910.1 472.1,917.2 472.4,910.3 472.6,923.5 472.8,913.1 473.1,924.1 473.3,925.3 473.6,915.1 473.8,921.8 474,915.3 474.3,923 474.5,909.4 474.8,917.5 475,923.3 475.2,916.7 475.5,913.2 475.7,921.6 476,915.1 476.2,907.4 476.4,913.4 476.7,917.8 476.9,920.7 477.2,914.8 477.4,925.3 477.7,933 477.9,920.9 478.1,922.9 478.4,908.4 478.6,916.5 478.9,922.2 479.1,923.1 479.3,914.7 479.6,921.5 479.8,920.4 480.1,918 480.3,917.2 480.5,917.3 480.8,917.3 481,911.3 481.3,909.3 481.5,926.5 481.7,904.7 482,917.2 482.2,911.4 482.5,921.5 482.7,915.9 483,916.3 483.2,916.7 483.4,912.8 483.7,913.8 483.9,922.3 484.2,917.7 484.4,913.3 484.6,913.5 484.9,918.9 485.1,918.7 485.4,918.2 485.6,923.2 485.8,924.3 486.1,909.3 486.3,919.7 486.6,917.2 486.8,921.7 487,910.8 487.3,908.4 487.5,918.8 487.8,914.9 488,921.7 488.3,908.2 488.5,912.7 488.7,922.3 489,911.1 489.2,916 489.5,915.8 489.7,916.2 489.9,921.9 490.2,921.3 490.4,915 490.7,918.8 490.9,923.8 491.1,907.3 491.4,919.8 491.6,921.7 491.9,922.5 492.1,914.6 492.3,912.9 492.6,916.9 492.8,913.2 493.1,926.7 493.3,920 493.6,920.4 493.8,917.5 494,914.5 494.3,929.1 494.5,898.4 494.8,921.8 495,914.3 495.2,911.1 495.5,910.6 495.7,913.9 496,932.5 496.2,921.1 496.4,909.6 496.7,919.4 496.9,919.9 497.2,927.6 497.4,905.7 497.6,910 497.9,918.6 498.1,914.2 498.4,914.3 498.6,920.9 498.8,916.3 499.1,913.7 499.3,912.5 499.6,908.9 499.8,916.9 500.1,920.4 500.3,915.7 500.5,922.2 500.8,926.2 501,912.4 501.3,921.4 501.5,918.5 501.7,915.5 502,925.5 502.2,915.3 502.5,916.1 502.7,919 502.9,915.9 503.2,922 503.4,929.7 503.7,918.6 503.9,921.6 504.1,911.3 504.4,914.2 504.6,918.2 504.9,914.6 505.1,907.1 505.4,907.9 505.6,911.8 505.8,911.2 506.1,914.8 506.3,913.8 506.6,909.8 506.8,913.5 507,911.2 507.3,918.8 507.5,921.8 507.8,921.9 508,915.2 508.2,905.9 508.5,906.6 508.7,918.2 509,921.1 509.2,908.6 509.4,910.2 509.7,919.7 509.9,906.8 510.2,911.2 510.4,905.1 510.7,910.1 510.9,907.2 511.1,910.1 511.4,916.9 511.6,913.2 511.9,915.7 512.1,908.1 512.3,917.9 512.6,921 512.8,909.8 513.1,907.6 513.3,906.3 513.5,908.3 513.8,922 514,917.9 514.3,917.2 514.5,914.5 514.7,925.6 515,914.6 515.2,913.2 515.5,919.6 515.7,914.2 516,908.7 516.2,914.7 516.4,909.6 516.7,909.9 516.9,913 517.2,913.2 517.4,917.1 517.6,908.8 517.9,917.6 518.1,918.7 518.4,911.5 518.6,918.8 518.8,912.9 519.1,909.6 519.3,914.7 519.6,914.6 519.8,910.5 520,911.4 520.3,923.3 520.5,922.2 520.8,908.7 521,913.7 521.3,926.5 521.5,922.9 521.7,916 522,921.3 522.2,914.1 522.5,916.2 522.7,914.3 522.9,922.9 523.2,913.8 523.4,907 523.7,921.1 523.9,910.2 524.1,911.8 524.4,913.4 524.6,916.9 524.9,922.3 525.1,920.6 525.3,912 525.6,910.7 525.8,909.3 526.1,910.5 526.3,910.8 526.6,917.6 526.8,921.6 527,914.4 527.3,913 527.5,915.3 527.8,923.7 528,918.7 528.2,923.8 528.5,915.6 528.7,921.9 529,917.4 529.2,914.9 529.4,915.9 529.7,909.5 529.9,922.1 530.2,927.5 530.4,911.2 530.6,908.7 530.9,908.4 531.1,914.3 531.4,913 531.6,915.3 531.9,922.8 532.1,919.3 532.3,914 532.6,919.9 532.8,907.3 533.1,925.5 533.3,919.9 533.5,912.1 533.8,921.1 534,923.9 534.3,925.1 534.5,921.8 534.7,910.1 535,915.8 535.2,915.1 535.5,920.4 535.7,913.2 535.9,916.9 536.2,922.2 536.4,919.5 536.7,915.9 536.9,910.6 537.2,916.7 537.4,913.5 537.6,905.1 537.9,919.5 538.1,921.4 538.4,909.3 538.6,911.6 538.8,914 539.1,911.6 539.3,914.3 539.6,909.4 539.8,913.5 540,907.1 540.3,917.2 540.5,915.2 540.8,910.1 541,913.1 541.2,907 541.5,911 541.7,913.9 542,910.2 542.2,914.5 542.5,920.4 542.7,918.6 542.9,917.4 543.2,916.1 543.4,913.5 543.7,909.6 543.9,911.9 544.1,905.7 544.4,908.6 544.6,916.7 544.9,907 545.1,909.6 545.3,918.6 545.6,914.6 545.8,910.4 546.1,915.1 546.3,911 546.5,914.5 546.8,912.9 547,918.5 547.3,914.6 547.5,918.6 547.8,912.8 548,925.6 548.2,914.3 548.5,909 548.7,912.5 549,915.7 549.2,912.5 549.4,920.1 549.7,920.1 549.9,917.5 550.2,916.4 550.4,910.4 550.6,921.1 550.9,910.7 551.1,925.6 551.4,921.5 551.6,917.6 551.8,911.1 552.1,921.6 552.3,930.9 552.6,916.4 552.8,919.3 553.1,925.8 553.3,925.9 553.5,924.1 553.8,919.7 554,916.5 554.3,929.4 554.5,906.9 554.7,920.9 555,922.9 555.2,916.5 555.5,919.9 555.7,905.9 555.9,913.5 556.2,922.5 556.4,922.6 556.7,923.2 556.9,922.2 557.1,915.6 557.4,924.1 557.6,909.3 557.9,920.3 558.1,920.6 558.4,913.1 558.6,932.4 558.8,925 559.1,914.1 559.3,917.5 559.6,917 559.8,913.3 560,919.4 560.3,915.5 560.5,923 560.8,925.7 561,902.4 561.2,917.3 561.5,915.1 561.7,899.3 562,901.4 562.2,912.7 562.4,912.9 562.7,910 562.9,916.9 563.2,906.8 563.4,910.5 563.7,911.5 563.9,908 564.1,909.2 564.4,902.3 564.6,905.5 564.9,928.8 565.1,911.5 565.3,926 565.6,928.6 565.8,914.7 566.1,924.5 566.3,922.1 566.5,913.1 566.8,924.5 567,925.9 567.3,917.8 567.5,911.9 567.7,916.2 568,929.1 568.2,923.2 568.5,919.9 568.7,906.8 569,913.2 569.2,913.3 569.4,911.1 569.7,920.2 569.9,915.3 570.2,915.2 570.4,923.8 570.6,918 570.9,914.4 571.1,924 571.4,912.8 571.6,913.1 571.8,911.5 572.1,922.1 572.3,917.1 572.6,909.5 572.8,913.5 573,922.8 573.3,917.2 573.5,910.6 573.8,919.4 574,917 574.3,904.9 574.5,919.9 574.7,920.6 575,925.9 575.2,924.2 575.5,912.4 575.7,921.9 575.9,928.1 576.2,926.9 576.4,922 576.7,918.1 576.9,926.8 577.1,919 577.4,926 577.6,921.7 577.9,921 578.1,920.7 578.3,926.7 578.6,925.4 578.8,921.7 579.1,931.7 579.3,923.5 579.6,921.4 579.8,918.3 580,924.1 580.3,924.7 580.5,922.6 580.8,927.2 581,924 581.2,920.4 581.5,920.9 581.7,928.1 582,924 582.2,933.9 582.4,917.8 582.7,925.2 582.9,921 583.2,928.6 583.4,923.1 583.6,920.4 583.9,917.7 584.1,930.7 584.4,918.8 584.6,924.4 584.9,927.9 585.1,921 585.3,925.2 585.6,925.1 585.8,927.1 586.1,921.8 586.3,922.5 586.5,923.3 586.8,927.2 587,924.5 587.3,919.3 587.5,914.3 587.7,921.1 588,913.2 588.2,920.7 588.5,926.4 588.7,917.2 588.9,925.6 589.2,918.3 589.4,914.8 589.7,922 589.9,920.8 590.2,907.3 590.4,919 590.6,918.8 590.9,916 591.1,920.6 591.4,920.5 591.6,918 591.8,932.5 592.1,912.5 592.3,925.4 592.6,925.4 592.8,916.8 593,919.4 593.3,925.9 593.5,918.2 593.8,925.1 594,922.8 594.2,926.9 594.5,923.4 594.7,917.1 595,918.7 595.2,917.9 595.5,914.8 595.7,920 595.9,923.3 596.2,921.4 596.4,911.6 596.7,919.9 596.9,918.3 597.1,920.3 597.4,918.4 597.6,917.2 597.9,919.2 598.1,919.6 598.3,922.5 598.6,922.5 598.8,915.8 599.1,913.8 599.3,912.7 599.5,917 599.8,921.3 600,913.7 600.3,913.7 600.5,924.5 600.8,912.7 601,913.8 601.2,908.4 601.5,922.7 601.7,923.6 602,913.3 602.2,926.6 602.4,921.4 602.7,923.4 602.9,923.2 603.2,927.8 603.4,919.4 603.6,913.2 603.9,915.8 604.1,915.5 604.4,919.3 604.6,909.7 604.8,913.9 605.1,910.8 605.3,923.5 605.6,913.4 605.8,920.4 606.1,912.5 606.3,912.9 606.5,919.3 606.8,912.6 607,907.5 607.3,910.9 607.5,910.6 607.7,918.2 608,917.6 608.2,920.2 608.5,914.5 608.7,909.7 608.9,914.1 609.2,916.9 609.4,923.2 609.7,915.9 609.9,919.8 610.1,928.6 610.4,928 610.6,921.3 610.9,924.1 611.1,911.3 611.4,919.2 611.6,924.3 611.8,921.1 612.1,910.2 612.3,922.4 612.6,913.2 612.8,914.3 613,908.6 613.3,912.8 613.5,917.1 613.8,912.2 614,914.3 614.2,909.6 614.5,914.8 614.7,904.7 615,915.3 615.2,912.7 615.4,918.4 615.7,914.7 615.9,915.4 616.2,915 616.4,911.5 616.6,918.8 616.9,920.5 617.1,910.8 617.4,917.8 617.6,919.7 617.9,910.6 618.1,912.5 618.3,929.6 618.6,918.2 618.8,912.4 619.1,912.2 619.3,918.9 619.5,908.6 619.8,920.4 620,917.7 620.3,915.9 620.5,916.6 620.7,912.6 621,911.5 621.2,916.9 621.5,909.6 621.7,920 621.9,917.7 622.2,908 622.4,916.1 622.7,911.2 622.9,918.8 623.2,918 623.4,917.3 623.6,916 623.9,918.7 624.1,917.2 624.4,914.1 624.6,911.7 624.8,917.4 625.1,915 625.3,913.9 625.6,924.1 625.8,926.8 626,910.9 626.3,912.5 626.5,918.8 626.8,917.3 627,923.7 627.2,925.7 627.5,917 627.7,925.8 628,913.6 628.2,921.3 628.5,916.3 628.7,907.9 628.9,908 629.2,918.8 629.4,912.1 629.7,922.7 629.9,920.6 630.1,916 630.4,911.1 630.6,921.2 630.9,915.8 631.1,918.2 631.3,925.3 631.6,919.7 631.8,911.6 632.1,919.6 632.3,916.6 632.5,915 632.8,922.9 633,912.9 633.3,911.6 633.5,911.1 633.8,912.5 634,921.5 634.2,922.2 634.5,923.2 634.7,923.8 635,923.2 635.2,914.1 635.4,911.6 635.7,922.1 635.9,914.5 636.2,924.8 636.4,919.7 636.6,922.9 636.9,925.8 637.1,917.1 637.4,916.8 637.6,919.1 637.8,919.7 638.1,922.1 638.3,917.8 638.6,920.4 638.8,916.2 639.1,923.8 639.3,916.6 639.5,915.4 639.8,911.8 640,912.9 640.3,917.4 640.5,922 640.7,928 641,918.7 641.2,911.4 641.5,910.1 641.7,931.7 641.9,922.4 642.2,920.2 642.4,923.7 642.7,917.2 642.9,917.8 643.1,920.6 643.4,917.9 643.6,926 643.9,922.6 644.1,922.2 644.4,912.7 644.6,926 644.8,918.5 645.1,913.4 645.3,917.8 645.6,913.4 645.8,921.3 646,915.7 646.3,913.4 646.5,906.6 646.8,914.8 647,911.3 647.2,919.1 647.5,918.8 647.7,911 648,916.5 648.2,912 648.4,915.9 648.7,908.2 648.9,906.7 649.2,924.4 649.4,909.5 649.7,917.4 649.9,917.1 650.1,920.4 650.4,915.8 650.6,926.1 650.9,923.9 651.1,924.1 651.3,918 651.6,914.3 651.8,915.1 652.1,917 652.3,922.2 652.5,928.7 652.8,915.8 653,916.9 653.3,915.2 653.5,908.5 653.7,917.4 654,917 654.2,928.9 654.5,911.5 654.7,914.5 655,918.2 655.2,911.1 655.4,919.2 655.7,916 655.9,901.1 656.2,908.2 656.4,907.2 656.6,908.4 656.9,909.3 657.1,912.1 657.4,900.2 657.6,914.2 657.8,909.7 658.1,915.4 658.3,916.2 658.6,928.2 658.8,925.2 659,905.3 659.3,905.5 659.5,916.2 659.8,913.8 660,910 660.3,918.8 660.5,903.3 660.7,918.9 661,917 661.2,928.3 661.5,904.8 661.7,912.8 661.9,904.3 662.2,918.7 662.4,911.5 662.7,913 662.9,912.3 663.1,902.3 663.4,901.4 663.6,906.1 663.9,915.6 664.1,908.7 664.3,906.2 664.6,910.2 664.8,910 665.1,910.3 665.3,917.3 665.6,911 665.8,903.7 666,917 666.3,911.2 666.5,907 666.8,918.4 667,911.9 667.2,919.9 667.5,914.2 667.7,918.4 668,915.7 668.2,913.7 668.4,912.7 668.7,912.4 668.9,923.7 669.2,903.2 669.4,912.8 669.6,917.1 669.9,914.7 670.1,909.8 670.4,916.6 670.6,913.6 670.9,913.9 671.1,908.8 671.3,915.4 671.6,909.4 671.8,910.1 672.1,912.8 672.3,905.9 672.5,912.3 672.8,918.5 673,911.1 673.3,912.1 673.5,912.9 673.7,911.5 674,900.7 674.2,911.3 674.5,910 674.7,913.4 674.9,905.4 675.2,912.2 675.4,915.8 675.7,917.9 675.9,909.1 676.2,908 676.4,920 676.6,915.8 676.9,909.2 677.1,907.5 677.4,919.7 677.6,915.4 677.8,909.4 678.1,916.6 678.3,916.4 678.6,917 678.8,921 679,914.3 679.3,913 679.5,921.5 679.8,913.8 680,908.6 680.2,912.9 680.5,908.9 680.7,916.1 681,906.3 681.2,916.9 681.5,903.3 681.7,914.8 681.9,916.1 682.2,916.9 682.4,914.5 682.7,914.9 682.9,916 683.1,914.3 683.4,909.5 683.6,908.6 683.9,914.8 684.1,907.1 684.3,918.4 684.6,918.6 684.8,919.2 685.1,910.5 685.3,921.3 685.5,920.5 685.8,907.1 686,904.9 686.3,906.7 686.5,920.8 686.8,913.2 687,909.2 687.2,912.9 687.5,921.4 687.7,915.2 688,922 688.2,919.8 688.4,903 688.7,910.5 688.9,921.3 689.2,921.6 689.4,912 689.6,917.5 689.9,911.8 690.1,918.1 690.4,916.1 690.6,914.1 690.8,920.6 691.1,925.2 691.3,921.7 691.6,919.3 691.8,916.9 692.1,916.1 692.3,916.1 692.5,913.1 692.8,919.9 693,908.4 693.3,905.2 693.5,913.1 693.7,913.8 694,908.4 694.2,911.2 694.5,913.3 694.7,914.9 694.9,917.6 695.2,919.6 695.4,910.4 695.7,907.7 695.9,918.7 696.1,913.7 696.4,912.2 696.6,915.3 696.9,916.9 697.1,915.1 697.4,922.9 697.6,913.4 697.8,914.6 698.1,902.7 698.3,908.8 698.6,915.3 698.8,913.8 699,905.5 699.3,906.3 699.5,913.7 699.8,915.5 700,922.4 700.2,917.1 700.5,916.5 700.7,919.6 701,907.4 701.2,925.6 701.4,917 701.7,914.4 701.9,914.4 702.2,908.2 702.4,923.7 702.7,920.5 702.9,916.3 703.1,916.1 703.4,918.7 703.6,920.6 703.9,911.5 704.1,922.1 704.3,919.8 704.6,909.7 704.8,908.2 705.1,912.6 705.3,921.3 705.5,921.3 705.8,921.6 706,922.8 706.3,919.3 706.5,911 706.7,916.3 707,921.3 707.2,921.5 707.5,923.6 707.7,911.8 708,927.9 708.2,916.4 708.4,924.9 708.7,922.9 708.9,924.8 709.2,912.4 709.4,917.3 709.6,903 709.9,921.5 710.1,921.5 710.4,912.9 710.6,912.8 710.8,916.8 711.1,925.3 711.3,908 711.6,912.3 711.8,913.2 712,918.3 712.3,912.3 712.5,918.4 712.8,915.7 713,917.1 713.3,910.2 713.5,919.2 713.7,918.9 714,912.1 714.2,916.9 714.5,918.6 714.7,920.1 714.9,914.6 715.2,922.9 715.4,917.7 715.7,910.4 715.9,918.7 716.1,924.9 716.4,927.2 716.6,920.7 716.9,927.7 717.1,929.6 717.3,925.6 717.6,927.3 717.8,917.6 718.1,929 718.3,914 718.6,925.4 718.8,921 719,918.2 719.3,920.3 719.5,917.7 719.8,926 720,932.2 720.2,921.9 720.5,929 720.7,923.5 721,915.8 721.2,921.3 721.4,923.1 721.7,925.5 721.9,921.2 722.2,920.4 722.4,927.1 722.6,917.6 722.9,924.2 723.1,917.6 723.4,920.7 723.6,913.4 723.9,914 724.1,918.1 724.3,918.6 724.6,915.8 724.8,911.1 725.1,912.7 725.3,917.1 725.5,916.2 725.8,909.9 726,925.7 726.3,914.8 726.5,921.8 726.7,910.4 727,919.4 727.2,917.2 727.5,921.8 727.7,916.1 727.9,912 728.2,907.4 728.4,921.7 728.7,917.5 728.9,895.8 729.2,910.4 729.4,915 729.6,912.4 729.9,928.2 730.1,907.2 730.4,914.6 730.6,922.7 730.8,910.1 731.1,919.3 731.3,921.5 731.6,914.1 731.8,915 732,919.5 732.3,917.8 732.5,924.2 732.8,924.9 733,913.3 733.2,911.3 733.5,915.7 733.7,916 734,919.8 734.2,918.4 734.5,922.4 734.7,909.1 734.9,920.6 735.2,915.8 735.4,917.9 735.7,924.9 735.9,908.4 736.1,919.9 736.4,921.8 736.6,917.5 736.9,922.5 737.1,917.9 737.3,922.8 737.6,915.3 737.8,917.8 738.1,924.9 738.3,913 738.5,917.1 738.8,923.6 739,916.4 739.3,916.1 739.5,909.1 739.7,922.7 740,914.5 740.2,919.4 740.5,916.2 740.7,920.9 741,920.3 741.2,917.9 741.4,926.6 741.7,931.4 741.9,921.2 742.2,923.6 742.4,921 742.6,918.3 742.9,922.5 743.1,915.4 743.4,921.3 743.6,920.3 743.8,916.6 744.1,917.6 744.3,920.7 744.6,919.5 744.8,923.8 745,923 745.3,919.4 745.5,915.9 745.8,922.1 746,915.9 746.3,910.6 746.5,909.7 746.7,920.4 747,915.4 747.2,917.7 747.5,916.9 747.7,916.8 747.9,918.4 748.2,916.8 748.4,920 748.7,922.2 748.9,919.6 749.1,918.3 749.4,914.5 749.6,918.6 749.9,916.6 750.1,913 750.3,924.4 750.6,920.8 750.8,916.4 751.1,918.6 751.3,923.4 751.6,912.9 751.8,917.8 752,922 752.3,907.2 752.5,922.7 752.8,916.1 753,919.2 753.2,915.3 753.5,912.9 753.7,919.8 754,916.3 754.2,916.6 754.4,921 754.7,910.2 754.9,915.3 755.2,917.6 755.4,919.4 755.6,917.7 755.9,915.2 756.1,918 756.4,909.3 756.6,928 756.9,925.8 757.1,916.1 757.3,923.8 757.6,914.7 757.8,917.5 758.1,911.2 758.3,912 758.5,907.6 758.8,909.7 759,908.2 759.3,912.1 759.5,909.6 759.7,912.7 760,918.4 760.2,921.9 760.5,921.8 760.7,913.4 760.9,927.8 761.2,914.9 761.4,919.4 761.7,911.8 761.9,914.4 762.2,919 762.4,915.1 762.6,926.5 762.9,913.6 763.1,912.7 763.4,924.4 763.6,910.9 763.8,916 764.1,914.8 764.3,923.2 764.6,913.2 764.8,913.7 765,917 765.3,922.3 765.5,913.7 765.8,911.4 766,915.9 766.2,912.9 766.5,921 766.7,917.2 767,915.9 767.2,916.9 767.5,903 767.7,915 767.9,919.6 768.2,912.1 768.4,921.4 768.7,913.5 768.9,911 769.1,917 769.4,915.8 769.6,918.6 769.9,912.8 770.1,916.8 770.3,904.2 770.6,909.8 770.8,914.5 771.1,920.9 771.3,903.2 771.5,907.4 771.8,912.1 772,914 772.3,914.7 772.5,918.5 772.8,906.7 773,916.1 773.2,925.2 773.5,921.5 773.7,932 774,915 774.2,914.6 774.4,909.3 774.7,907.5 774.9,922.8 775.2,916.1 775.4,913 775.6,913.9 775.9,920.8 776.1,913.5 776.4,915 776.6,910.2 776.8,917.7 777.1,918.9 777.3,920.4 777.6,919.8 777.8,922.1 778.1,919.9 778.3,915.4 778.5,915.8 778.8,911.2 779,912.5 779.3,915.3 779.5,925.2 779.7,915.7 780,912.4 780.2,926.2 780.5,925.2 780.7,924.3 780.9,924.7 781.2,920.5 781.4,924.1 781.7,916.6 781.9,925.4 782.1,919.2 782.4,921 782.6,923.3 782.9,911.8 783.1,917 783.4,913.8 783.6,918.2 783.8,912.1 784.1,912.2 784.3,916.1 784.6,924.7 784.8,910.4 785,910.9 785.3,913.6 785.5,913.2 785.8,913.8 786,913.5 786.2,919.9 786.5,914.9 786.7,913 787,918.1 787.2,920.1 787.4,905.2 787.7,912.1 787.9,917.2 788.2,918.4 788.4,930.1 788.7,924.1 788.9,918.3 789.1,910.7 789.4,928.6 789.6,921.9 789.9,908.6 790.1,915.5 790.3,917.1 790.6,913.2 790.8,920.2 791.1,920.5 791.3,915.9 791.5,915.2 791.8,925.1 792,911.6 792.3,928.5 792.5,923 792.7,903.5 793,922 793.2,916 793.5,924.6 793.7,921.2 794,923.4 794.2,921.9 794.4,916.7 794.7,911.2 794.9,916 795.2,912.7 795.4,923.6 795.6,913.7 795.9,918.5 796.1,914.6 796.4,924 796.6,923.2 796.8,915.1 797.1,919.1 797.3,921.8 797.6,925.9 797.8,923 798,920 798.3,918.8 798.5,925.4 798.8,924.3 799,920.3 799.3,928.1 799.5,917.5 799.7,922.2 800,922.7 800.2,934.2 800.5,929.7 800.7,926.5 800.9,923.8 801.2,926.1 801.4,918.1 801.7,918.9 801.9,920.5 802.1,929.2 802.4,911.1 802.6,919.4 802.9,914.6 803.1,920.9 803.3,917.3 803.6,913.6 803.8,916 804.1,912.3 804.3,918.4 804.6,907.3 804.8,927.6 805,920.9 805.3,913.1 805.5,919.7 805.8,920.8 806,927.9 806.2,912.5 806.5,928.8 806.7,916.4 807,918.1 807.2,914.6 807.4,911.7 807.7,923.1 807.9,923.8 808.2,921.3 808.4,928.8 808.6,915.6 808.9,922.2 809.1,919.5 809.4,926.5 809.6,920.6 809.9,924.2 810.1,921.5 810.3,927 810.6,915.9 810.8,924.9 811.1,935.1 811.3,918 811.5,923 811.8,926 812,907.5 812.3,921.1 812.5,927.8 812.7,923.6 813,917.9 813.2,920.9 813.5,912.6 813.7,913.3 813.9,923.1 814.2,918.3 814.4,914.7 814.7,920.3 814.9,920.5 815.2,912.9 815.4,915.1 815.6,925.4 815.9,920.6 816.1,919.8 816.4,918.1 816.6,921.5 816.8,909.8 817.1,923 817.3,923.6 817.6,916.2 817.8,930.4 818,923.2 818.3,913.5 818.5,924.9 818.8,922 819,910.6 819.2,914.3 819.5,916.6 819.7,915.5 820,920.9 820.2,915 820.5,918 820.7,901.6 820.9,913.3 821.2,918.5 821.4,916.6 821.7,915.7 821.9,924.2 822.1,920.6 822.4,906 822.6,923.6 822.9,918.4 823.1,908.4 823.3,905.2 823.6,920.4 823.8,905.1 824.1,915.9 824.3,903.5 824.5,910.2 824.8,914.6 825,908.3 825.3,909.1 825.5,916.9 825.8,899.4 826,914 826.2,905.2 826.5,914.9 826.7,922.9 827,918.9 827.2,913.3 827.4,909.1 827.7,903.3 827.9,913.4 828.2,916 828.4,921.8 828.6,915.6 828.9,914 829.1,928.7 829.4,909.2 829.6,910.5 829.8,904.5 830.1,922.5 830.3,917.5 830.6,917.9 830.8,925.5 831.1,923 831.3,923.9 831.5,915.9 831.8,916.5 832,911.7 832.3,921.4 832.5,926.9 832.7,917.1 833,917.6 833.2,916.1 833.5,913.1 833.7,923.1 833.9,915.7 834.2,925.4 834.4,919.3 834.7,916.4 834.9,920.7 835.1,918.9 835.4,927.4 835.6,923.4 835.9,919.1 836.1,926.1 836.4,924.1 836.6,906.6 836.8,917.8 837.1,923.3 837.3,924.2 837.6,911.3 837.8,933.1 838,920.2 838.3,915 838.5,921.2 838.8,915.4 839,923.6 839.2,918.1 839.5,917.8 839.7,918 840,917.3 840.2,917.8 840.4,912.1 840.7,919.2 840.9,920.7 841.2,918.9 841.4,918.8 841.7,924.8 841.9,926.5 842.1,923.2 842.4,914.4 842.6,918.9 842.9,917.1 843.1,899.7 843.3,908.2 843.6,914.7 843.8,916.4 844.1,905.6 844.3,916.3 844.5,905.5 844.8,908.5 845,904.2 845.3,914.8 845.5,906.3 845.7,920.2 846,911.8 846.2,905.5 846.5,907.7 846.7,920.8 847,908.1 847.2,909.4 847.4,912.2 847.7,915.7 847.9,913.4 848.2,914.9 848.4,907.1 848.6,909.4 848.9,906.2 849.1,908 849.4,917.9 849.6,910.6 849.8,900.4 850.1,917.1 850.3,910.1 850.6,915.7 850.8,916.5 851,911.2 851.3,907.9 851.5,909 851.8,910.9 852,908.7 852.3,922.2 852.5,910 852.7,912.3 853,915.5 853.2,914.7 853.5,919.1 853.7,908.8 853.9,918.6 854.2,922.2 854.4,914.6 854.7,917.4 854.9,914.6 855.1,906.4 855.4,914.6 855.6,913.1 855.9,902 856.1,920.6 856.3,911.4 856.6,907.3 856.8,905.4 857.1,901.7 857.3,916.5 857.5,910 857.8,913.6 858,915.4 858.3,916.8 858.5,920.6 858.8,911.4 859,909.3 859.2,918.7 859.5,909.4 859.7,916.3 860,918.8 860.2,927.2 860.4,908.3 860.7,910.5 860.9,916 861.2,916.6 861.4,921.5 861.6,912.3 861.9,915.4 862.1,912.3 862.4,914.2 862.6,922.3 862.8,922.9 863.1,912.5 863.3,923.1 863.6,912.6 863.8,908.9 864.1,919.8 864.3,909.2 864.5,912 864.8,909 865,914.7 865.3,911.2 865.5,908.7 865.7,901.2 866,906.8 866.2,908.1 866.5,917.4 866.7,909.1 866.9,914.5 867.2,911.4 867.4,909.8 867.7,906.3 867.9,908.4 868.1,910.6 868.4,912 868.6,904.7 868.9,916.4 869.1,911.6 869.4,904.7 869.6,912.9 869.8,907.5 870.1,907.2 870.3,901.4 870.6,905.8 870.8,920.3 871,911.7 871.3,910.1 871.5,907.4 871.8,909.8 872,902.1 872.2,906.5 872.5,918.8 872.7,916.4 873,924.4 873.2,904.8 873.4,915.1 873.7,915.6 873.9,923.7 874.2,918 874.4,913.8 874.7,918.5 874.9,918.7 875.1,920.1 875.4,906.4 875.6,920.2 875.9,925.2 876.1,920.4 876.3,919.7 876.6,918.5 876.8,919.5 877.1,924.5 877.3,919.6 877.5,916.5 877.8,926.3 878,907.9 878.3,909.3 878.5,928.4 878.7,920.3 879,912.4 879.2,910.3 879.5,907.5 879.7,927.3 880,922.9 880.2,919.2 880.4,912.9 880.7,921.7 880.9,912.9 881.2,912.4 881.4,910.5 881.6,921.5 881.9,912.8 882.1,913.1 882.4,915.6 882.6,905.4 882.8,914.2 883.1,903.8 883.3,915.3 883.6,901.5 883.8,901.5 884,915.5 884.3,908.3 884.5,908 884.8,915.3 885,904.4 885.3,905.1 885.5,913.5 885.7,907.4 886,902.3 886.2,908.3 886.5,911.4 886.7,896.7 886.9,912.5 887.2,904 887.4,898.8 887.7,900.4 887.9,916.2 888.1,906.3 888.4,904.5 888.6,904.3 888.9,898.4 889.1,898.2 889.3,900.2 889.6,898.7 889.8,893.4 890.1,891.3 890.3,910.8 890.6,884.4 890.8,901.4 891,892.7 891.3,907.7 891.5,900.5 891.8,905.1 892,890.2 892.2,891.6 892.5,897.4 892.7,898.7 893,895.6 893.2,904.4 893.4,902.9 893.7,904.5 893.9,895.5 894.2,901.2 894.4,909.9 894.6,900.8 894.9,900.5 895.1,896 895.4,908.4 895.6,903.2 895.9,893.7 896.1,908.7 896.3,909.3 896.6,904.6 896.8,911 897.1,908.5 897.3,911.9 897.5,914.1 897.8,904.9 898,912.7 898.3,916.9 898.5,913.3 898.7,913 899,910.9 899.2,907.7 899.5,903.3 899.7,920.6 899.9,915.2 900.2,924.2 900.4,912.7 900.7,910.9 900.9,917.4 901.2,918.6 901.4,918.8 901.6,921.4 901.9,909.4 902.1,902.2 902.4,918.8 902.6,903.6 902.8,913.2 903.1,920.4 903.3,909.9 903.6,909.2 903.8,911.5 904,915.4 904.3,905.4 904.5,916.3 904.8,911.7 905,911.9 905.2,920.5 905.5,925.8 905.7,925.2 906,918.1 906.2,914.1 906.5,925.5 906.7,919.8 906.9,907.8 907.2,925.5 907.4,913.5 907.7,914.1 907.9,911.7 908.1,923.7 908.4,914.1 908.6,923.2 908.9,908.7 909.1,920.2 909.3,913.5 909.6,919.5 909.8,914.4 910.1,923.1 910.3,913.4 910.5,911.7 910.8,914.9 911,906.3 911.3,912.9 911.5,910.8 911.8,912.3 912,905.2 912.2,918.6 912.5,916.6 912.7,916.3 913,911.9 913.2,913.7 913.4,910.6 913.7,913.3 913.9,917.3 914.2,914.8 914.4,912 914.6,926.1 914.9,906.8 915.1,916.9 915.4,915.7 915.6,912.4 915.8,915 916.1,921.3 916.3,914.9 916.6,906.6 916.8,908.4 917.1,907.5 917.3,916.9 917.5,915.3 917.8,908.8 918,906.8 918.3,914.6 918.5,920 918.7,925.3 919,908.1 919.2,923.7 919.5,913.8 919.7,911.7 919.9,899.6 920.2,915.7 920.4,917.4 920.7,914.5 920.9,914.3 921.1,910 921.4,913.4 921.6,920.9 921.9,927.8 922.1,915.1 922.4,920 922.6,908.9 922.8,922.9 923.1,914.8 923.3,919.5 923.6,920.1 923.8,906.8 924,914.6 924.3,916.5 924.5,911.9 924.8,920.1 925,918.3 925.2,920.1 925.5,906.9 925.7,916.1 926,915.1 926.2,913.2 926.4,920.7 926.7,921.2 926.9,929.6 927.2,919.1 927.4,920.8 927.7,924.9 927.9,916.9 928.1,933 928.4,921.7 928.6,931.4 928.9,930.2 929.1,925.3 929.3,917.1 929.6,930.2 929.8,928.9 930.1,929.7 930.3,912.4 930.5,919.8 930.8,919.9 931,910.7 931.3,919.8 931.5,931.8 931.7,923 932,926.3 932.2,909.1 932.5,926.9 932.7,917.7 933,921.9 933.2,921.4 933.4,919 933.7,919.7 933.9,922.6 934.2,925.4 934.4,922.3 934.6,924.4 934.9,923.6 935.1,918.2 935.4,919.6 935.6,916.3 935.8,920.1 936.1,908.8 936.3,922.7 936.6,924.2 936.8,913.7 937,922.7 937.3,918.4 937.5,914 937.8,919.5 938,920.8 938.3,913.9 938.5,917.1 938.7,921.5 939,924.9 939.2,920.6 939.5,927.2 939.7,923.2 939.9,924.5 940.2,917.4 940.4,915.2 940.7,922.7 940.9,921.9 941.1,925.5 941.4,927.1 941.6,922.3 941.9,917.2 942.1,917.7 942.3,917.1 942.6,921.4 942.8,933.9 943.1,914.7 943.3,912.3 943.6,914 943.8,913.6 944,912.1 944.3,903.4 944.5,915.1 944.8,908.3 945,911.7 945.2,912.1 945.5,916 945.7,917 946,921 946.2,912.2 946.4,917 946.7,921.8 946.9,919.7 947.2,922.2 947.4,908.2 947.6,918 947.9,916.5 948.1,923.6 948.4,922.9 948.6,912.4 948.9,919.2 949.1,917 949.3,908.8 949.6,907.6 949.8,914.9 950.1,915.9 950.3,917.2 950.5,919.8 950.8,907.8 951,924.3 951.3,918.4 951.5,927.7 951.7,924.2 952,915.5 952.2,915.2 952.5,915.7 952.7,919.1 952.9,921 953.2,920.1 953.4,919.3 953.7,911.6 953.9,909.7 954.2,914.8 954.4,919.7 954.6,921.7 954.9,915.1 955.1,917.7 955.4,925.8 955.6,909.3 955.8,916.3 956.1,917.9 956.3,920.7 956.6,920.8 956.8,911.7 957,921.3 957.3,916.1 957.5,913.4 957.8,907.3 958,913.8 958.2,917.1 958.5,919.2 958.7,912.6 959,911.8 959.2,919.2 959.5,913.9 959.7,917.6 959.9,925.1 960.2,921.9 960.4,912.4 960.7,909.1 960.9,912.9 961.1,917.3 961.4,919.9 961.6,913.4 961.9,914.4 962.1,924.5 962.3,912.9 962.6,920.1 962.8,913.2 963.1,914.1 963.3,913.4 963.5,911.9 963.8,914.1 964,923.3 964.3,923.3 964.5,912.9 964.8,915.8 965,926.4 965.2,928.6 965.5,913.7 965.7,906.7 966,913.8 966.2,919.3 966.4,916.6 966.7,932 966.9,923.1 967.2,912.8 967.4,913.6 967.6,929.1 967.9,912.1 968.1,915.5 968.4,913.6 968.6,919.5 968.8,918.5 969.1,924.1 969.3,916.9 969.6,913.9 969.8,923.3 970.1,916.4 970.3,920.9 970.5,912.6 970.8,912.7 971,929.8 971.3,915 971.5,912 971.7,920 972,918.1 972.2,917.8 972.5,922.9 972.7,917.6 972.9,909 973.2,914.6 973.4,909.2 973.7,911.9 973.9,910.8 974.1,916.2 974.4,912.6 974.6,905.9 974.9,908.4 975.1,914.1 975.4,919.1 975.6,920.1 975.8,913.9 976.1,912.9 976.3,924.7 976.6,914.1 976.8,913.6 977,914.1 977.3,918.7 977.5,904 977.8,911.6 978,923.4 978.2,920 978.5,912 978.7,913.5 979,915.4 979.2,916.2 979.4,917.1 979.7,918.4 979.9,921.5 980.2,913.3 980.4,931 980.6,920.6 980.9,910.6 981.1,921.6 981.4,924 981.6,908.2 981.9,912.9 982.1,919.3 982.3,921.8 982.6,920 982.8,920.7 983.1,920.1 983.3,922.6 983.5,915.7 983.8,921.3 984,927.8 984.3,924.8 984.5,917.7 984.7,922.9 985,930.4 985.2,909.1 985.5,914.2 985.7,919.2 985.9,919.4 986.2,913.9 986.4,909.3 986.7,920 986.9,914.6 987.2,920.3 987.4,915.3 987.6,923.3 987.9,927 988.1,916.7 988.4,917.4 988.6,913 988.8,920.2 989.1,908.9 989.3,915.4 989.6,907.2 989.8,917 990,906.7 990.3,914.9 990.5,913.5 990.8,908.8 991,923.5 991.2,919.6 991.5,903.9 991.7,922 992,916.7 992.2,911.2 992.5,906.4 992.7,917.3 992.9,914.1 993.2,921.2 993.4,917.4 993.7,910 993.9,914.1 994.1,916.2 994.4,914 994.6,915.7 994.9,915.8 995.1,918.8 995.3,922.4 995.6,913.8 995.8,923.8 996.1,912.4 996.3,906.6 996.5,910.1 996.8,905.9 997,923.9 997.3,917 997.5,922.6 997.8,922 998,927.1 998.2,924.3 998.5,913.1 998.7,913.9 999,911.2 999.2,911.7 999.4,913.7 999.7,922.3 999.9,918.9 1000.2,914.8 1000.4,912.5 1000.6,921.4 1000.9,922.4 1001.1,922.4 1001.4,912 1001.6,917.6 1001.8,922.4 1002.1,924.8 1002.3,918.5 1002.6,929.5 1002.8,921.8 1003.1,923.5 1003.3,923.5 1003.5,919.4 1003.8,918.2 1004,904.6 1004.3,920 1004.5,917 1004.7,924.9 1005,929.5 1005.2,915 1005.5,910.8 1005.7,926.3 1005.9,921.5 1006.2,915.3 1006.4,920.5 1006.7,933.3 1006.9,915.5 1007.1,921.3 1007.4,916.6 1007.6,925.3 1007.9,915.5 1008.1,914.6 1008.4,923.6 1008.6,917.2 1008.8,923 1009.1,922.2 1009.3,924.2 1009.6,921.7 1009.8,922.9 1010,913.2 1010.3,920.4 1010.5,925 1010.8,911.9 1011,916.1 1011.2,913.7 1011.5,919.2 1011.7,915.1 1012,919.2 1012.2,923.6 1012.4,918 1012.7,917.7 1012.9,917.6 1013.2,913.8 1013.4,927.2 1013.7,916.4 1013.9,922.1 1014.1,919.3 1014.4,915.5 1014.6,917.5 1014.9,921.5 1015.1,914 1015.3,918.4 1015.6,913.3 1015.8,911.8 1016.1,920.2 1016.3,924.1 1016.5,917.9 1016.8,913.9 1017,916.4 1017.3,924.1 1017.5,926.7 1017.7,922.5 1018,922.3 1018.2,913.8 1018.5,916.5 1018.7,912.1 1019,917 1019.2,907.5 1019.4,916.3 1019.7,913.3 1019.9,918.4 1020.2,913.8 1020.4,910.4 1020.6,912 1020.9,909.3 1021.1,919.4 1021.4,913.7 1021.6,907 1021.8,914.9 1022.1,917.2 1022.3,917.6 1022.6,919.2 1022.8,915.6 1023,908.9 1023.3,913.9 1023.5,916.5 1023.8,920.6 1024,922.4 1024.3,903 1024.5,918.6 1024.7,915.4 1025,918.6 1025.2,915 1025.5,918.4 1025.7,915.6 1025.9,908.3 1026.2,920.6 1026.4,913.8 1026.7,917.4 1026.9,913.3 1027.1,921.2 1027.4,915.4 1027.6,923.2 1027.9,928 1028.1,925.3 1028.3,923.3 1028.6,924.2 1028.8,919.7 1029.1,911.6 1029.3,923.8 1029.6,914.8 1029.8,916.2 1030,920.8 1030.3,921.9 1030.5,914.2 1030.8,913.8 1031,918.4 1031.2,917.3 1031.5,916.6 1031.7,923.9 1032,916.3 1032.2,915.4 1032.4,907.6 1032.7,924.4 1032.9,922.3 1033.2,917.1 1033.4,920.9 1033.6,919.9 1033.9,917.6 1034.1,919.2 1034.4,917.7 1034.6,915 1034.9,926 1035.1,914.1 1035.3,929.1 1035.6,907.7 1035.8,911.8 1036.1,920 1036.3,911.2 1036.5,917.5 1036.8,914.5 1037,912.8 1037.3,915.2 1037.5,917.2 1037.7,914.1 1038,918.6 1038.2,919.9 1038.5,923.1 1038.7,928 1038.9,910.2 1039.2,914.6 1039.4,926.4 1039.7,917 1039.9,918.1 1040.2,931 1040.4,923.8 1040.6,920 1040.9,910.5 1041.1,913.8 1041.4,913 1041.6,918 1041.8,914.5 1042.1,926 1042.3,916.6 1042.6,916.1 1042.8,926.5 1043,918.6 1043.3,911.9 1043.5,909.8 1043.8,912.4 1044,923.4 1044.2,920.2 1044.5,922.4 1044.7,913.2 1045,924 1045.2,925 1045.5,927.9 1045.7,918.5 1045.9,917.3 1046.2,922.7 1046.4,923.5 1046.7,920.7 1046.9,913 1047.1,927 1047.4,920.5 1047.6,919.4 1047.9,918.7 1048.1,914.3 1048.3,916.6 1048.6,919.4 1048.8,913.3 1049.1,914.8 1049.3,918.9 1049.5,918.8 1049.8,925.6 1050,918.5 1050.3,922.7 1050.5,924.1 1050.8,919.3 1051,926.3 1051.2,921.8 1051.5,919.7 1051.7,915.3 1052,918.6 1052.2,915 1052.4,909.1 1052.7,913.1 1052.9,923.3 1053.2,926.7 1053.4,922.5 1053.6,922.6 1053.9,928.3 1054.1,927.1 1054.4,927.2 1054.6,921.7 1054.8,911.6 1055.1,910.2 1055.3,923.9 1055.6,921 1055.8,925.6 1056.1,926.8 1056.3,918.9 1056.5,918.2 1056.8,921.4 1057,914.9 1057.3,919.5 1057.5,912.1 1057.7,919.9 1058,912.8 1058.2,917.9 1058.5,916.1 1058.7,913.5 1058.9,923.3 1059.2,920.4 1059.4,917.2 1059.7,918.6 1059.9,916.2 1060.1,921.9 1060.4,924.9 1060.6,919.2 1060.9,917.6 1061.1,923.3 1061.4,913.4 1061.6,916.2 1061.8,915.5 1062.1,915.8 1062.3,923.9 1062.6,908.9 1062.8,922.9 1063,917.2 1063.3,915.3 1063.5,917 1063.8,917.5 1064,922.3 1064.2,920 1064.5,917.7 1064.7,911.3 1065,921 1065.2,914.3 1065.4,915.6 1065.7,917.4 1065.9,920.6 1066.2,918.6 1066.4,926.6 1066.7,917.5 1066.9,916.3 1067.1,920.4 1067.4,915.1 1067.6,915.9 1067.9,920.8 1068.1,912.6 1068.3,919.1 1068.6,904 1068.8,920.7 1069.1,919.2 1069.3,917.9 1069.5,913.2 1069.8,908.2 1070,913.2 1070.3,915.4 1070.5,903.6 1070.7,907.7 1071,913.9 1071.2,912.8 1071.5,919.6 1071.7,911.5 1072,902.9 1072.2,917 1072.4,918.1 1072.7,910.2 1072.9,922.7 1073.2,903.8 1073.4,918.3 1073.6,914.4 1073.9,911.7 1074.1,905 1074.4,909.2 1074.6,920.7 1074.8,919.8 1075.1,910.4 1075.3,922 1075.6,913 1075.8,915.6 1076,907.5 1076.3,905.5 1076.5,924.2 1076.8,909.5 1077,908.5 1077.3,915.7 1077.5,915 1077.7,918.2 1078,914 1078.2,910.3 1078.5,905.7 1078.7,905.2 1078.9,914 1079.2,916.8 1079.4,907.5 1079.7,926.6 1079.9,919.7 1080.1,909.5 1080.4,901.5 1080.6,916.9 1080.9,912.5 1081.1,918.9 1081.3,913.7 1081.6,913.8 1081.8,917.3 1082.1,911.5 1082.3,914.3 1082.6,910.8 1082.8,914.3 1083,919.2 1083.3,912.2 1083.5,908.3 1083.8,916.6 1084,905.6 1084.2,910 1084.5,914.1 1084.7,912 1085,914.3 1085.2,916.8 1085.4,907.4 1085.7,907.5 1085.9,914.5 1086.2,913.1 1086.4,913.2 1086.6,908.5 1086.9,904.5 1087.1,915.4 1087.4,910.3 1087.6,911.9 1087.9,908.7 1088.1,904 1088.3,915.8 1088.6,921.8 1088.8,911.9 1089.1,919.1 1089.3,902.1 1089.5,914.3 1089.8,912.1 1090,909.5 1090.3,909.8 1090.5,913.2 1090.7,911.2 1091,906.4 1091.2,913.1 1091.5,902.2 1091.7,910.1 1091.9,924.2 1092.2,907.6 1092.4,921.3 1092.7,910.5 1092.9,900.6 1093.2,906.6 1093.4,917.8 1093.6,916.1 1093.9,911.7 1094.1,904.2 1094.4,915.3 1094.6,905.8 1094.8,909.9 1095.1,912.1 1095.3,912.5 1095.6,903.3 1095.8,919.8 1096,918.2 1096.3,908.2 1096.5,908.1 1096.8,920.1 1097,918.5 1097.2,920 1097.5,911.6 1097.7,917.8 1098,907.4 1098.2,910.8 1098.4,913.4 1098.7,913.8 1098.9,912.1 1099.2,910.6 1099.4,914.8 1099.7,913.6 1099.9,911 1100.1,915.3 1100.4,909.9 1100.6,915.6 1100.9,918.7 1101.1,913.8 1101.3,906.3 1101.6,907 1101.8,922.3 1102.1,912.7 1102.3,916.7 1102.5,915.8 1102.8,916 1103,915.5 1103.3,917.1 1103.5,916.1 1103.7,913.8 1104,921.2 1104.2,921.5 1104.5,921.1 1104.7,921.3 1105,912.8 1105.2,921.3 1105.4,916.1 1105.7,915.3 1105.9,911.9 1106.2,915 1106.4,909.7 1106.6,914.9 1106.9,913.1 1107.1,910.3 1107.4,921 1107.6,911.7 1107.8,905.9 1108.1,912.7 1108.3,914.4 1108.6,903.8 1108.8,912.7 1109,907.2 1109.3,925.1 1109.5,912.9 1109.8,916 1110,911.6 1110.3,907.7 1110.5,914.2 1110.7,914.5 1111,927.2 1111.2,909.3 1111.5,906.5 1111.7,912.2 1111.9,915.2 1112.2,910.9 1112.4,907.6 1112.7,909.5 1112.9,902.5 1113.1,915.5 1113.4,919.5 1113.6,910.4 1113.9,906.6 1114.1,915.2 1114.3,912.9 1114.6,916.1 1114.8,919.1 1115.1,916.4 1115.3,922.9 1115.6,911.3 1115.8,910.3 1116,908.1 1116.3,916.5 1116.5,915.5 1116.8,920.6 1117,919.5 1117.2,908 1117.5,898.6 1117.7,917.8 1118,914.8 1118.2,908.6 1118.4,917 1118.7,911.1 1118.9,915.9 1119.2,916.3 1119.4,910.8 1119.6,916.9 1119.9,922.2 1120.1,912.1 1120.4,916.1 1120.6,919 1120.9,920.1 1121.1,913.1 1121.3,919.3 1121.6,914.9 1121.8,910.3 1122.1,915.5 1122.3,909.4 1122.5,921.4 1122.8,911.6 1123,912 1123.3,905.6 1123.5,915 1123.7,911 1124,916.6 1124.2,921.5 1124.5,921.1 1124.7,920.8 1124.9,913.9 1125.2,922 1125.4,918.3 1125.7,914.4 1125.9,913 1126.2,914.7 1126.4,912.1 1126.6,925 1126.9,921.9 1127.1,917.9 1127.4,913.9 1127.6,916.8 1127.8,922.9 1128.1,919.9 1128.3,927 1128.6,914.8 1128.8,927.4 1129,917.5 1129.3,913.2 1129.5,914 1129.8,926.3 1130,917.4 1130.2,920.1 1130.5,919.9 1130.7,910.4 1131,917.1 1131.2,925.6 1131.5,923.9 1131.7,915.2 1131.9,917.6 1132.2,924.4 1132.4,927.1 1132.7,921.7 1132.9,921.3 1133.1,915.4 1133.4,922.7 1133.6,916.7 1133.9,914.4 1134.1,928.6 1134.3,924.1 1134.6,914.1 1134.8,924.4 1135.1,922.8 1135.3,918.5 1135.5,927.4 1135.8,926.2 1136,932.6 1136.3,922 1136.5,927.3 1136.8,926.7 1137,937.4 1137.2,919.7 1137.5,920.7 1137.7,927.5 1138,917.1 1138.2,934.6 1138.4,922.3 1138.7,929.7 1138.9,907.6 1139.2,933.5 1139.4,926.4 1139.6,924 1139.9,916.3 1140.1,916.2 1140.4,918.4 1140.6,921.7 1140.8,910.1 1141.1,924.3 1141.3,919.3 1141.6,912.4 1141.8,927.2 1142.1,925.3 1142.3,916 1142.5,919.4 1142.8,928.3 1143,921.8 1143.3,912.7 1143.5,923.7 1143.7,918.6 1144,922 1144.2,926.1 1144.5,914.8 1144.7,917.9 1144.9,916.6 1145.2,923.2 1145.4,921.8 1145.7,921 1145.9,919.8 1146.1,923.6 1146.4,924.2 1146.6,915.2 1146.9,927.1 1147.1,923.9 1147.4,923.6 1147.6,924.4 1147.8,927.9 1148.1,925.8 1148.3,918.1 1148.6,923.9 1148.8,925.8 1149,913.8 1149.3,928.6 1149.5,916.8 1149.8,920.1 1150,928.4 1150.2,923.5 1150.5,923.3 1150.7,914.9 1151,916.6 1151.2,922.4 1151.4,926.8 1151.7,929.2 1151.9,921.6 1152.2,927.6 1152.4,921.5 1152.7,921.5 1152.9,918.5 1153.1,915.4 1153.4,919.7 1153.6,917.8 1153.9,920.9 1154.1,914.9 1154.3,915.9 1154.6,912.1 1154.8,913.1 1155.1,923.6 1155.3,927.3 1155.5,917 1155.8,914.6 1156,923.7 1156.3,913.1 1156.5,920.2 1156.7,921.3 1157,919.2 1157.2,928.1 1157.5,929.4 1157.7,923 1158,927.1 1158.2,921.3 1158.4,921.1 1158.7,933.6 1158.9,924.7 1159.2,917.8 1159.4,931.6 1159.6,921.4 1159.9,926.2 1160.1,928.8 1160.4,913.2 1160.6,913.1 1160.8,920.3 1161.1,920.5 1161.3,910.9 1161.6,911.6 1161.8,917.5 1162,913 1162.3,916.7 1162.5,918.7 1162.8,914.1 1163,919.4 1163.3,914.5 1163.5,918.8 1163.7,920.2 1164,921.1 1164.2,916.4 1164.5,914.5 1164.7,917.5 1164.9,924.4 1165.2,917.4 1165.4,925.4 1165.7,926.9 1165.9,922.5 1166.1,917.7 1166.4,918.5 1166.6,919.2 1166.9,915.1 1167.1,917.7 1167.3,923.8 1167.6,918 1167.8,923.2 1168.1,919.8 1168.3,918.7 1168.6,921.9 1168.8,928.9 1169,922.1 1169.3,922.8 1169.5,921.7 1169.8,923.3 1170,926.8 1170.2,929.3 1170.5,918 1170.7,917.6 1171,919.8 1171.2,922 1171.4,912.1 1171.7,918.7 1171.9,922.1 1172.2,918.1 1172.4,922.6 1172.6,918.7 1172.9,920.7 1173.1,919.3 1173.4,921.5 1173.6,923.9 1173.9,918.8 1174.1,915.5 1174.3,925.6 1174.6,923.5 1174.8,926.2 1175.1,916.1 1175.3,921.6 1175.5,915.8 1175.8,924.3 1176,916 1176.3,923.1 1176.5,922.5 1176.7,917.3 1177,922 1177.2,923.1 1177.5,915.5 1177.7,920.4 1177.9,913.8 1178.2,907.2 1178.4,923.1 1178.7,922.1 1178.9,928.2 1179.2,926.6 1179.4,917.5 1179.6,919.1 1179.9,919.2 1180.1,918.3 1180.4,925 1180.6,929.3 1180.8,915 1181.1,919.3 1181.3,914.6 1181.6,920.5 1181.8,916.3 1182,922.9 1182.3,920.1 1182.5,920.8 1182.8,917.9 1183,912.5 1183.2,916.2 1183.5,934.3 1183.7,919.7 1184,918.8 1184.2,914.4 1184.5,917.6 1184.7,921.7 1184.9,921.8 1185.2,919.2 1185.4,920.9 1185.7,909.7 1185.9,913.8 1186.1,916.5 1186.4,911.7 1186.6,905.6 1186.9,917.8 1187.1,916.9 1187.3,918.3 1187.6,923.2 1187.8,920.2 1188.1,921.9 1188.3,914.7 1188.5,914.9 1188.8,912.7 1189,921.1 1189.3,912.1 1189.5,922 1189.8,917.9 1190,910.2 1190.2,910.4 1190.5,911 1190.7,905.7 1191,910.9 1191.2,917.4 1191.4,917.2 1191.7,919.9 1191.9,914.8 1192.2,919.7 1192.4,919 1192.6,920.8 1192.9,924.3 1193.1,903.2 1193.4,911.1 1193.6,926 1193.8,913.2 1194.1,918.2 1194.3,926.2 1194.6,916.5 1194.8,914.4 1195.1,912.6 1195.3,910.1 1195.5,920.1 1195.8,916.3 1196,912.9 1196.3,913.8 1196.5,914.9 1196.7,916.6 1197,911.1 1197.2,924 1197.5,925.4 1197.7,909.2 1197.9,916 1198.2,912.7 1198.4,917.2 1198.7,920.3 1198.9,920.8 1199.1,917.8 1199.4,920.8 1199.6,918.7 1199.9,918.7 1200.1,914 1200.4,914.1 1200.6,909.9 1200.8,921.5 1201.1,918.1 1201.3,913 1201.6,916.2 1201.8,930.4 1202,916.3 1202.3,918.3 1202.5,920.9 1202.8,920.7 1203,922.4 1203.2,912.9 1203.5,915.4 1203.7,917.9 1204,913.4 1204.2,914.3 1204.4,923.4 1204.7,924.7 1204.9,924.6 1205.2,915.7 1205.4,919.8 1205.7,913.7 1205.9,917.4 1206.1,921.3 1206.4,927 1206.6,922.1 1206.9,909.4 1207.1,924.7 1207.3,925.6 1207.6,922.7 1207.8,914.7 1208.1,922.1 1208.3,927.8 1208.5,925.5 1208.8,923.2 1209,922.2 1209.3,917.5 1209.5,909.9 1209.7,915.9 1210,919.8 1210.2,923.3 1210.5,927.5 1210.7,920.3 1211,916.6 1211.2,919.1 1211.4,924.1 1211.7,920 1211.9,924.8 1212.2,924.6 1212.4,925.1 1212.6,923.7 1212.9,924.8 1213.1,919.3 1213.4,925.1 1213.6,926.1 1213.8,920.5 1214.1,922.9 1214.3,921.2 1214.6,931.9 1214.8,921.4 1215,929.1 1215.3,935.3 1215.5,931.1 1215.8,937.4 1216,936.5 1216.3,933.7 1216.5,926.6 1216.7,939.1 1217,930.3 1217.2,933.2 1217.5,923.3 1217.7,930.4 1217.9,927.9 1218.2,923.3 1218.4,936.5 1218.7,932.2 1218.9,938.1 1219.1,934.5 1219.4,928 1219.6,930.6 1219.9,927.4 1220.1,931.7 1220.3,933.2 1220.6,930.2 1220.8,934.1 1221.1,935.2 1221.3,937.6 1221.5,929.7 1221.8,926.6 1222,935.4 1222.3,931.3 1222.5,940.9 1222.8,935 1223,928.4 1223.2,935.6 1223.5,926.5 1223.7,930.8 1224,926.8 1224.2,931.6 1224.4,936 1224.7,928.5 1224.9,924.5 1225.2,930.8 1225.4,925.9 1225.6,931.4 1225.9,929.3 1226.1,920.8 1226.4,927.2 1226.6,931.7 1226.8,923.8 1227.1,926.2 1227.3,928.9 1227.6,922.4 1227.8,940.6 1228.1,922.6 1228.3,915.6 1228.5,923.5 1228.8,934.4 1229,917.7 1229.3,911.6 1229.5,921.3 1229.7,929.4 1230,927.3 1230.2,924.4 1230.5,922.7 1230.7,917.6 1230.9,920.5 1231.2,934.6 1231.4,924.6 1231.7,923.7 1231.9,913.5 1232.1,925.5 1232.4,929.3 1232.6,923.7 1232.9,920.6 1233.1,930.9 1233.4,916.1 1233.6,922 1233.8,916.9 1234.1,917.4 1234.3,917.9 1234.6,913.3 1234.8,911.7 1235,921.6 1235.3,919.6 1235.5,913.7 1235.8,917.8 1236,921.1 1236.2,917.3 1236.5,921.6 1236.7,919.5 1237,933.7 1237.2,915.8 1237.4,907.1 1237.7,912.3 1237.9,912.3 1238.2,914.6 1238.4,919.2 1238.7,912.9 1238.9,915 1239.1,915.9 1239.4,914 1239.6,917.9 1239.9,914.5 1240.1,911.9 1240.3,910.1 1240.6,914.2 1240.8,910.8 1241.1,913.9 1241.3,925.9 1241.5,924.2 1241.8,915.7 1242,920.1 1242.3,911.8 1242.5,921 1242.7,916.5 1243,917.1 1243.2,917.8 1243.5,916.9 1243.7,913.9 1244,913 1244.2,915.7 1244.4,912 1244.7,909.9 1244.9,913.2 1245.2,915.3 1245.4,915 1245.6,913.9 1245.9,914 1246.1,911 1246.4,898.3 1246.6,906.1 1246.8,911.7 1247.1,909.3 1247.3,909.7 1247.6,907 1247.8,906.8 1248,919.1 1248.3,904.1 1248.5,919.9 1248.8,915.9 1249,920.9 1249.3,925.7 1249.5,926.6 1249.7,908.5 1250,911.2 1250.2,923.4 1250.5,924.1 1250.7,911.3 1250.9,923.3 1251.2,916.3 1251.4,908.5 1251.7,914.7 1251.9,911 1252.1,917.2 1252.4,926.7 1252.6,922.4 1252.9,927.2 1253.1,917.1 1253.3,925.2 1253.6,918.3 1253.8,921.5 1254.1,922.5 1254.3,916.7 1254.6,921.5 1254.8,923.2 1255,914.2 1255.3,919.1 1255.5,926 1255.8,912.8 1256,925.4 1256.2,917.2 1256.5,915.6 1256.7,919.4 1257,922.1 1257.2,919.6 1257.4,919.7 1257.7,923.4 1257.9,913.8 1258.2,921.1 1258.4,921.7 1258.6,911.3 1258.9,921.7 1259.1,925.5 1259.4,918.1 1259.6,917.6 1259.9,917.2 1260.1,906.7 1260.3,919.5 1260.6,909.7 1260.8,911.6 1261.1,908.4 1261.3,915.7 1261.5,916.5 1261.8,915.7 1262,913 1262.3,909.6 1262.5,906.2 1262.7,923.2 1263,909.2 1263.2,912.9 1263.5,914.8 1263.7,920.5 1263.9,913.9 1264.2,925.1 1264.4,910.1 1264.7,921.3 1264.9,917.5 1265.2,918 1265.4,914.4 1265.6,924.2 1265.9,913.4 1266.1,915.6 1266.4,909.9 1266.6,916.4 1266.8,918.7 1267.1,927.8 1267.3,920.4 1267.6,910.5 1267.8,921.6 1268,922.3 1268.3,921 1268.5,916.5 1268.8,930.3 1269,912.6 1269.2,919.3 1269.5,919 1269.7,923 1270,913.1 1270.2,925.5 1270.5,919.1 1270.7,922.8 1270.9,929.8 1271.2,923.9 1271.4,919.5 1271.7,924.5 1271.9,925.1 1272.1,923 1272.4,927.3 1272.6,928.5 1272.9,922.3 1273.1,927.4 1273.3,919.5 1273.6,918.6 1273.8,915.4 1274.1,916.8 1274.3,923 1274.5,919.1 1274.8,926.9 1275,918.4 1275.3,922.9 1275.5,912.9 1275.8,923.2 1276,918.3 1276.2,922.8 1276.5,915.3 1276.7,915 1277,923.2 1277.2,907.6 1277.4,915 1277.7,924.8 1277.9,921.9 1278.2,926.5 1278.4,927.3 1278.6,917.5 1278.9,927.4 1279.1,914.6 1279.4,924.9 1279.6,918.4 1279.8,907.6 1280.1,918.4 1280.3,916.9 1280.6,910.6 1280.8,918.9 1281.1,914.8 1281.3,922.1 1281.5,920.3 1281.8,918.1 1282,919 1282.3,923.3 1282.5,918.5 1282.7,916.8 1283,916.8 1283.2,919.9 1283.5,925 1283.7,916.6 1283.9,915.7 1284.2,924.9 1284.4,931.4 1284.7,920.5 1284.9,914.1 1285.1,914.7 1285.4,924.8 1285.6,911.9 1285.9,923 1286.1,913.7 1286.4,920.4 1286.6,913.3 1286.8,915.6 1287.1,919.3 1287.3,914.6 1287.6,921.5 1287.8,920.1 1288,919.8 1288.3,922.5 1288.5,913.5 1288.8,913.4 1289,918 1289.2,922.8 1289.5,915.6 1289.7,916.5 1290,914.8 1290.2,918.1 1290.4,919.3 1290.7,911.4 1290.9,921.5 1291.2,919.7 1291.4,927.8 1291.7,920.9 1291.9,921.6 1292.1,921 1292.4,916.4 1292.6,922.3 1292.9,917.2 1293.1,921 1293.3,921.3 1293.6,928.1 1293.8,916.9 1294.1,915.7 1294.3,923.6 1294.5,921.7 1294.8,927.6 1295,920.5 1295.3,924.1 1295.5,916.8 1295.7,919.2 1296,915.6 1296.2,922.6 1296.5,926.7 1296.7,918.7 1297,921.1 1297.2,909.2 1297.4,916.9 1297.7,911 1297.9,915.5 1298.2,919.7 1298.4,925.6 1298.6,919.4 1298.9,915.3 1299.1,918 1299.4,916.9 1299.6,917.2 1299.8,925.4 1300.1,917.5 1300.3,923.1 1300.6,919.5 1300.8,912.8 1301,929.1 1301.3,920.8 1301.5,917.8 1301.8,914.1 1302,918.8 1302.3,922.9 1302.5,914.7 1302.7,915.3 1303,926.2 1303.2,916.8 1303.5,925 1303.7,929 1303.9,920.5 1304.2,919.7 1304.4,925.1 1304.7,905.2 1304.9,920.4 1305.1,911.9 1305.4,909.9 1305.6,902.7 1305.9,914.9 1306.1,905.4 1306.3,918.8 1306.6,913.6 1306.8,915.5 1307.1,918.6 1307.3,912.3 1307.6,904.8 1307.8,904 1308,911.3 1308.3,920.3 1308.5,919 1308.8,912.2 1309,912.6 1309.2,912.8 1309.5,917.1 1309.7,920.3 1310,913.8 1310.2,916.2 1310.4,909.3 1310.7,919.7 1310.9,912.3 1311.2,909.9 1311.4,907 1311.6,907.2 1311.9,921.9 1312.1,922.7 1312.4,916.3 1312.6,921.3 1312.9,928.7 1313.1,909.9 1313.3,914.6 1313.6,912 1313.8,916 1314.1,911.1 1314.3,915.5 1314.5,916.1 1314.8,907.4 1315,922.5 1315.3,914.3 1315.5,924.8 1315.7,909.9 1316,918.5 1316.2,923.4 1316.5,926.6 1316.7,918.9 1316.9,908.2 1317.2,915.5 1317.4,925.6 1317.7,928 1317.9,904 1318.2,920.6 1318.4,924.9 1318.6,916.7 1318.9,914.4 1319.1,909.2 1319.4,917.7 1319.6,920 1319.8,912.9 1320.1,920 1320.3,914 1320.6,914.7 1320.8,910.6 1321,918.9 1321.3,918.8 1321.5,914.1 1321.8,913.4 1322,923.1 1322.2,920.1 1322.5,915.6 1322.7,918.6 1323,905.8 1323.2,913.8 1323.5,911.5 1323.7,918.2 1323.9,917.6 1324.2,917.6 1324.4,913.1 1324.7,920 1324.9,910.7 1325.1,922.2 1325.4,913.7 1325.6,917.4 1325.9,920.5 1326.1,911 1326.3,914 1326.6,919.7 1326.8,922.6 1327.1,914.7 1327.3,922.7 1327.5,916 1327.8,923.1 1328,918 1328.3,922.7 1328.5,919.3 1328.8,910 1329,909.4 1329.2,920.1 1329.5,918.9 1329.7,925.5 1330,915.5 1330.2,911.1 1330.4,920.5 1330.7,920.5 1330.9,913.9 1331.2,918.2 1331.4,914.1 1331.6,907.1 1331.9,912.2 1332.1,910.9 1332.4,904.8 1332.6,912.7 1332.8,910.4 1333.1,913.5 1333.3,917.5 1333.6,905.9 1333.8,920.8 1334.1,913.6 1334.3,919.9 1334.5,918.4 1334.8,920.9 1335,916 1335.3,912.7 1335.5,908.7 1335.7,924.5 1336,914.2 1336.2,917.4 1336.5,918.5 1336.7,915.9 1336.9,914.3 1337.2,915.8 1337.4,915.2 1337.7,904.4 1337.9,914.6 1338.1,913.5 1338.4,920.9 1338.6,910.1 1338.9,918.3 1339.1,916.5 1339.3,920.2 1339.6,917.2 1339.8,921.6 1340.1,923.6 1340.3,924.4 1340.6,919.5 1340.8,917.7 1341,914.2 1341.3,909.5 1341.5,908.3 1341.8,920.4 1342,920.6 1342.2,913.2 1342.5,921 1342.7,911 1343,911.3 1343.2,921 1343.4,912.6 1343.7,909.3 1343.9,914.2 1344.2,917.9 1344.4,917.4 1344.6,914.3 1344.9,920.4 1345.1,915.2 1345.4,918 1345.6,920.5 1345.9,921.7 1346.1,914.2 1346.3,921.4 1346.6,915.8 1346.8,926 1347.1,917.9 1347.3,916.4 1347.5,915.3 1347.8,912.4 1348,914.5 1348.3,914.3 1348.5,918.3 1348.7,922.1 1349,922.6 1349.2,920.7 1349.5,915.7 1349.7,912 1349.9,915.3 1350.2,916.1 1350.4,913.6 1350.7,919.2 1350.9,917 1351.2,918.7 1351.4,917.5 1351.6,920 1351.9,925.7 1352.1,921.6 1352.4,924 1352.6,911.8 1352.8,913.5 1353.1,923.8 1353.3,925.1 1353.6,920.8 1353.8,928.3 1354,914.8 1354.3,921.2 1354.5,923.2 1354.8,915.7 1355,914.5 1355.2,920 1355.5,915.8 1355.7,928.9 1356,924.4 1356.2,924.8 1356.5,928.6 1356.7,916.4 1356.9,908.8 1357.2,927.2 1357.4,923.5 1357.7,915.5 1357.9,922.2 1358.1,920.8 1358.4,924.6 1358.6,918.9 1358.9,925.2 1359.1,916.5 1359.3,917.4 1359.6,917.8 1359.8,923.2 1360.1,920.1 1360.3,916.5 1360.5,922.9 1360.8,923.1 1361,929.4 1361.3,920.7 1361.5,918.7 1361.8,913.2 1362,923.9 1362.2,925.2 1362.5,912.1 1362.7,912.6 1363,923.7 1363.2,920.6 1363.4,927.2 1363.7,918.5 1363.9,911.7 1364.2,914.3 1364.4,923.5 1364.6,916.9 1364.9,922 1365.1,917 1365.4,921.4 1365.6,915.7 1365.8,912.7 1366.1,917.3 1366.3,917.1 1366.6,916.9 1366.8,914.4 1367.1,920.6 1367.3,919.1 1367.5,918.8 1367.8,911.3 1368,916.8 1368.3,914.6 1368.5,919 1368.7,923.8 1369,918.6 1369.2,914.7 1369.5,918.7 1369.7,920 1369.9,919.2 1370.2,914.9 1370.4,915.5 1370.7,917.8 1370.9,922.5 1371.1,921.3 1371.4,900.3 1371.6,918.9 1371.9,915.1 1372.1,916.6 1372.4,924.8 1372.6,911.5 1372.8,917.6 1373.1,922.4 1373.3,914.3 1373.6,920.8 1373.8,916.5 1374,924.6 1374.3,919.1 1374.5,915 1374.8,920.6 1375,925.1 1375.2,922.2 1375.5,914.8 1375.7,925.8 1376,924.6 1376.2,913.9 1376.4,917 1376.7,917.7 1376.9,919.5 1377.2,915.4 1377.4,913.2 1377.7,915.1 1377.9,925.9 1378.1,914.3 1378.4,925.6 1378.6,909.3 1378.9,920 1379.1,915.1 1379.3,916.6 1379.6,921.5 1379.8,912.8 1380.1,917.7 1380.3,908.6 1380.5,915.9 1380.8,917.6 1381,907 1381.3,912.6 1381.5,919.3 1381.7,923.3 1382,909.9 1382.2,913.2 1382.5,913.1 1382.7,920.5 1383,921.7 1383.2,922.9 1383.4,912.7 1383.7,918.9 1383.9,914.7 1384.2,928.5 1384.4,912.6 1384.6,921.1 1384.9,930.9 1385.1,923.7 1385.4,915.3 1385.6,909.8 1385.8,930.8 1386.1,923.9 1386.3,916.3 1386.6,924.6 1386.8,918.9 1387,921.8 1387.3,916.1 1387.5,923.8 1387.8,918.1 1388,920.5 1388.3,915.6 1388.5,916.5 1388.7,911.1 1389,914.8 1389.2,907.1 1389.5,923.7 1389.7,916.8 1389.9,911.4 1390.2,914.5 1390.4,928 1390.7,913 1390.9,916.9 1391.1,902 1391.4,914.7 1391.6,910.7 1391.9,918.9 1392.1,910.6 1392.3,928.1 1392.6,919.2 1392.8,916 1393.1,922.2 1393.3,909.3 1393.6,914.2 1393.8,906.1 1394,921.7 1394.3,919 1394.5,911.7 1394.8,917.8 1395,911.3 1395.2,912.5 1395.5,919.9 1395.7,915.8 1396,914 1396.2,915.7 1396.4,918.3 1396.7,919.9 1396.9,918.7 1397.2,912.7 1397.4,907.2 1397.6,925.1 1397.9,923 1398.1,918.6 1398.4,910.2 1398.6,922.1 1398.9,905.6 1399.1,905.7 1399.3,929.7 1399.6,913.9 1399.8,914.3 1400.1,919.8 1400.3,927.4 1400.5,916.6 1400.8,920.5 1401,912.7 1401.3,916.3 1401.5,924.6 1401.7,910 1402,911.1 1402.2,913.3 1402.5,921.3 1402.7,917.2 1402.9,921.9 1403.2,925.7 1403.4,933 1403.7,922 1403.9,934.2 1404.2,920.3 1404.4,931.5 1404.6,923.4 1404.9,926.3 1405.1,931.1 1405.4,930.8 1405.6,928.6 1405.8,917.8 1406.1,923.9 1406.3,927.6 1406.6,921.9 1406.8,932.7 1407,934.8 1407.3,931.6 1407.5,921.5 1407.8,928.8 1408,926.8 1408.2,927 1408.5,930.2 1408.7,921.6 1409,924.7 1409.2,933.5 1409.5,934.8 1409.7,929.9 1409.9,934.9 1410.2,930.4 1410.4,926.8 1410.7,930.8 1410.9,930.4 1411.1,934.3 1411.4,936.2 1411.6,937.5 1411.9,925.1 1412.1,936.2 1412.3,931.6 1412.6,931.3 1412.8,929.4 1413.1,933.3 1413.3,939.8 1413.5,919.8 1413.8,936.3 1414,927 1414.3,935.6 1414.5,925.8 1414.8,934.6 1415,919.5 1415.2,925.6 1415.5,936 1415.7,918.2 1416,936.8 1416.2,928.1 1416.4,920 1416.7,927.5 1416.9,918.3 1417.2,924.5 1417.4,927.5 1417.6,917.4 1417.9,923.6 1418.1,926.1 1418.4,918.4 1418.6,924.6 1418.8,930.3 1419.1,926.8 1419.3,909.9 1419.6,910.8 1419.8,930.8 1420.1,918.3 1420.3,915.8 1420.5,923.6 1420.8,918.3 1421,927 1421.3,923.1 1421.5,915.6 1421.7,921.1 1422,921.3 1422.2,921.4 1422.5,926.8 1422.7,924.7 1422.9,921.9 1423.2,919.5 1423.4,923 1423.7,908.4 1423.9,927.1 1424.1,923.4 1424.4,921 1424.6,914.8 1424.9,924.9 1425.1,916 1425.4,921.7 1425.6,921.4 1425.8,915.1 1426.1,913 1426.3,912 1426.6,923.4 1426.8,912 1427,911.9 1427.3,915.6 1427.5,915 1427.8,917.1 1428,918 1428.2,912.8 1428.5,908.5 1428.7,918.4 1429,915.1 1429.2,912.1 1429.4,923.9 1429.7,908.3 1429.9,914.7 1430.2,909.1 1430.4,917.9 1430.7,920.9 1430.9,917.1 1431.1,914.7 1431.4,921 1431.6,911.5 1431.9,914.7 1432.1,921.4 1432.3,913.4 1432.6,916.6 1432.8,915.5 1433.1,917.7 1433.3,919.3 1433.5,921.8 1433.8,915.1 1434,915.6 1434.3,913.4 1434.5,919.8 1434.7,914.1 1435,912.4 1435.2,922.9 1435.5,916.2 1435.7,906.3 1436,920.4 1436.2,919.7 1436.4,918.6 1436.7,921.3 1436.9,914.4 1437.2,919.4 1437.4,919.7 1437.6,923.3 1437.9,916.6 1438.1,920 1438.4,921.6 1438.6,921.1 1438.8,911.5 1439.1,919.6 1439.3,918.2 1439.6,912.7 1439.8,920 1440,914.6 1440.3,924.6 1440.5,916.2 1440.8,930.2 1441,918.9 1441.3,921.8 1441.5,923.3 1441.7,914.3 1442,916.1 1442.2,915.4 1442.5,912.1 1442.7,916.8 1442.9,916.4 1443.2,919.3 1443.4,909.2 1443.7,913.9 1443.9,922 1444.1,922.1 1444.4,921.2 1444.6,921 1444.9,910.6 1445.1,915.4 1445.3,911.6 1445.6,920.6 1445.8,920.7 1446.1,910.8 1446.3,927 1446.6,923 1446.8,927.6 1447,920.5 1447.3,904.3 1447.5,921.1 1447.8,912.1 1448,909.1 1448.2,920.6 1448.5,920.8 1448.7,915.5 1449,913.7 1449.2,924.7 1449.4,920.8 1449.7,908.5 1449.9,920.7 1450.2,914.7 1450.4,911.4 1450.6,918.2 1450.9,917.5 1451.1,919.4 1451.4,919.9 1451.6,919.7 1451.9,924.8 1452.1,919.1 1452.3,917.6 1452.6,912.7 1452.8,918.1 1453.1,919 1453.3,906 1453.5,915.1 1453.8,915.8 1454,917 1454.3,914.1 1454.5,918.1 1454.7,916.2 1455,917.8 1455.2,919.5 1455.5,915.7 1455.7,920.3 1455.9,905 1456.2,919.4 1456.4,905 1456.7,912.2 1456.9,909.5 1457.2,906.7 1457.4,922.1 1457.6,905.8 1457.9,911.5 1458.1,916.3 1458.4,917.6 1458.6,912.2 1458.8,921.9 1459.1,905.2 1459.3,914.9 1459.6,910.3 1459.8,913.7"/>
<g stroke="#161616" stroke-width="4.6" fill="none" stroke-linecap="butt">
<rect x="255.3" y="23" width="1204.5" height="969"/>
<path stroke-width="3.4" d="M255.3 903.9H243.5M255.3 815.8H234M255.3 727.7H243.5M255.3 639.6H234M255.3 551.5H243.5M255.3 463.5H234M255.3 375.4H243.5M255.3 287.3H234M255.3 199.2H243.5M255.3 111.1H234M255.3 23H243.5M255.3 992V1003.8M375.8 992V1013.3M496.2 992V1003.8M616.7 992V1013.3M737.1 992V1003.8M857.5 992V1013.3M978 992V1003.8M1098.5 992V1013.3M1218.9 992V1003.8M1339.3 992V1013.3M1459.8 992V1003.8"/>
</g>
<g class="tk">
<text transform="translate(222.3 828.4) scale(1 1.11)" text-anchor="end">0</text>
<text transform="translate(222.3 652.2) scale(1 1.11)" text-anchor="end">2000</text>
<text transform="translate(222.3 476.1) scale(1 1.11)" text-anchor="end">4000</text>
<text transform="translate(222.3 299.9) scale(1 1.11)" text-anchor="end">6000</text>
<text transform="translate(222.3 123.7) scale(1 1.11)" text-anchor="end">8000</text>
<text transform="translate(375.8 1056.5) scale(1 1.11)" text-anchor="middle">20</text>
<text transform="translate(616.7 1056.5) scale(1 1.11)" text-anchor="middle">40</text>
<text transform="translate(857.5 1056.5) scale(1 1.11)" text-anchor="middle">60</text>
<text transform="translate(1098.5 1056.5) scale(1 1.11)" text-anchor="middle">80</text>
<text transform="translate(1339.3 1056.5) scale(1 1.11)" text-anchor="middle">100</text>
</g>
<text class="ti" y="1148.5"><tspan x="709.5">2</tspan><tspan class="th" x="745">θ </tspan><tspan x="791">/degree</tspan></text>
<text class="ti" transform="translate(73.3 488) rotate(-90)" text-anchor="middle">Intensity /a.u.</text>
<text class="pl" x="295.5" y="123.5">(a)</text>
<g class="pk">
<text transform="translate(368.4 712.4) rotate(-90) scale(1.012 1)" text-anchor="middle">(111)</text>
<text transform="translate(510.7 541.2) rotate(-90) scale(1.012 1)" text-anchor="middle">(220)</text>
<text transform="translate(535.1 125) rotate(-90) scale(1.012 1)" text-anchor="middle">(311)</text>
<text transform="translate(615.7 654.5) rotate(-90) scale(1.012 1)" text-anchor="middle">(222)</text>
<text transform="translate(672.5 596.8) rotate(-90) scale(1.012 1)" text-anchor="middle">(400)</text>
<text transform="translate(721.1 725.5) rotate(-90) scale(1.012 1)" text-anchor="middle">(331)</text>
<text transform="translate(790 672.8) rotate(-90) scale(1.012 1)" text-anchor="middle">(422)</text>
<text transform="translate(833.6 534) rotate(-90) scale(1.012 1)" text-anchor="middle">(511)</text>
<text transform="translate(905.3 456.5) rotate(-90) scale(1.012 1)" text-anchor="middle">(440)</text>
<text transform="translate(950.3 727.7) rotate(-90) scale(1.012 1)" text-anchor="middle">(531)</text>
<text transform="translate(998.5 713) rotate(-90) scale(1.012 1)" text-anchor="middle">(620)</text>
<text transform="translate(1043.6 685.9) rotate(-90) scale(1.012 1)" text-anchor="middle">(533)</text>
<text transform="translate(1105.3 724.6) rotate(-90) scale(1.012 1)" text-anchor="middle">(444)</text>
<text transform="translate(1192.2 716.2) rotate(-90) scale(1.012 1)" text-anchor="middle">(642)</text>
<text transform="translate(1235.2 636.6) rotate(-90) scale(1.012 1)" text-anchor="middle">(731)(553)</text>
<text transform="translate(1298 720.3) rotate(-90) scale(1.012 1)" text-anchor="middle">(800)</text>
</g>
<circle cx="1149" cy="87.3" r="3.2" fill="#bbb" stroke="#777" stroke-width="1.3"/>
<path d="M1090.3 150.3H1206.5" stroke="#5cbc66" stroke-width="2.9"/>
<path d="M1090.3 213.5H1206.5" stroke="#22228c" stroke-width="2.9"/>
<g class="lg">
<text x="1217" y="104">Y<tspan class="sb">obs</tspan></text>
<text x="1217" y="167">Y<tspan class="sb">calc</tspan></text>
<text x="1217" y="231.4">Y<tspan class="sb">obs</tspan>-Y<tspan class="sb">calc</tspan></text>
</g>
</g>
<g>
<polyline class="ob obb" points="252.6,1974.5 252.8,1965.1 253.1,1966.5 253.3,1979.7 253.6,1978.5 253.8,1980.6 254,1972.8 254.3,1977.8 254.5,1972.2 254.8,1991.7 255,1966.8 255.2,1979.4 255.5,1974 255.7,1980.3 256,1982.5 256.2,1976.5 256.5,1974.2 256.7,1982.1 256.9,1982.1 257.2,1976.1 257.4,1988 257.7,1993 257.9,1979.1 258.1,1987.1 258.4,1996.5 258.6,1988.4 258.9,1985.9 259.1,1991.3 259.3,1993.5 259.6,1982.1 259.8,1975.6 260.1,1983.9 260.3,1987.5 260.5,1979 260.8,1976.4 261,1983.7 261.3,1977.3 261.5,1973.4 261.8,1982.4 262,1986.7 262.2,1977.8 262.5,1978.3 262.7,1971.8 263,1989.3 263.2,1984.5 263.4,1985.7 263.7,1992.3 263.9,1978.6 264.2,1975.7 264.4,1985.3 264.6,1969.8 264.9,1974.3 265.1,1976.1 265.4,1978.1 265.6,1974.3 265.8,1991.7 266.1,1977.5 266.3,1977.9 266.6,1995.7 266.8,1980.2 267.1,1984.7 267.3,1977 267.5,1986 267.8,1982.7 268,1979.8 268.3,1988.6 268.5,1977.3 268.7,1982.2 269,1977.3 269.2,1984.5 269.5,1972.2 269.7,1975.4 269.9,1981 270.2,1974.8 270.4,1970 270.7,1966.1 270.9,1991.1 271.1,1973 271.4,1976.3 271.6,1980.6 271.9,1987.7 272.1,1971.1 272.4,1990.1 272.6,1976.8 272.8,1971.6 273.1,1993.5 273.3,1984.1 273.6,1991.8 273.8,1980.6 274,1971.4 274.3,1967.8 274.5,1996.2 274.8,1987.4 275,1978 275.2,1971.6 275.5,1980.2 275.7,1988.8 276,1980.9 276.2,1983.1 276.4,1984.3 276.7,1988 276.9,1979.4 277.2,1979.8 277.4,1982.5 277.7,1983.3 277.9,1991 278.1,1985 278.4,1972.4 278.6,1982.8 278.9,1992.2 279.1,1971.7 279.3,1977.8 279.6,1966.3 279.8,1981.6 280.1,1985.6 280.3,1993.1 280.5,1972.6 280.8,1963.4 281,1988.7 281.3,1987.5 281.5,1978.4 281.7,1989.2 282,1985.3 282.2,1986.2 282.5,1982.5 282.7,1976.1 283,1984.4 283.2,1978.1 283.4,1988.3 283.7,1983 283.9,2001.5 284.2,1996.6 284.4,1980 284.6,1990.4 284.9,1981.7 285.1,1982.1 285.4,1976.3 285.6,1980.1 285.8,1978.6 286.1,1987.1 286.3,1991.4 286.6,1991.7 286.8,1989.8 287,1994.5 287.3,1990 287.5,1986.5 287.8,1983.7 288,1987.8 288.3,1999.2 288.5,1985.2 288.7,1982.7 289,1976 289.2,1979.5 289.5,1988.4 289.7,1988.8 289.9,1968.3 290.2,1977.5 290.4,1969.3 290.7,1966.9 290.9,1988.6 291.1,1979.3 291.4,1978.5 291.6,1977.4 291.9,1977.1 292.1,1979.2 292.3,1978.9 292.6,1990.9 292.8,1980.4 293.1,1984.2 293.3,1977.3 293.5,1981.2 293.8,1972.8 294,1971 294.3,1974.5 294.5,1974.3 294.8,1975.8 295,1979.8 295.2,1977.7 295.5,1980.3 295.7,1973.9 296,1976.8 296.2,1972.8 296.4,1987.2 296.7,1970.9 296.9,1983.4 297.2,1983.4 297.4,1979.6 297.6,1982.5 297.9,1976.3 298.1,1982.9 298.4,1986.7 298.6,1985.1 298.8,1969.2 299.1,1978.7 299.3,1987.8 299.6,1979.2 299.8,1990.9 300.1,1966.2 300.3,1991 300.5,1976.3 300.8,1975.9 301,1990.9 301.3,1978.1 301.5,1973 301.7,1977 302,1978.5 302.2,1973.4 302.5,1979.1 302.7,1977.7 302.9,1981 303.2,1975.3 303.4,1986.8 303.7,1973.8 303.9,1983.3 304.1,1987.5 304.4,1976.5 304.6,1966.6 304.9,1971.9 305.1,1982.9 305.4,1973.8 305.6,1982.3 305.8,1979.9 306.1,1978.3 306.3,1996.4 306.6,1977.8 306.8,1987 307,1984.6 307.3,1990.5 307.5,1990.9 307.8,1986.8 308,1973.6 308.2,1967.4 308.5,1980.2 308.7,1972 309,1982.2 309.2,1994.7 309.4,1979.6 309.7,1977.7 309.9,1984.6 310.2,1979.5 310.4,1977.9 310.7,1989 310.9,1994 311.1,1985 311.4,1985.2 311.6,1986.5 311.9,1976.7 312.1,1971.3 312.3,1987.4 312.6,1979.2 312.8,1977.4 313.1,1979.1 313.3,1976.7 313.5,1987.4 313.8,1979 314,1969.4 314.3,1978.6 314.5,1989.2 314.7,1980.1 315,1975.3 315.2,1982.1 315.5,1989.1 315.7,1973.5 316,1994.5 316.2,1981.5 316.4,1985.6 316.7,1994.5 316.9,1976.5 317.2,1983.1 317.4,1994.5 317.6,1981.3 317.9,1989 318.1,2000 318.4,1990.9 318.6,1983.8 318.8,1981 319.1,1984.6 319.3,1985.5 319.6,1982.4 319.8,1987.7 320,1977.3 320.3,1985.1 320.5,1984.1 320.8,1982.3 321,1994.3 321.3,1991.7 321.5,1974.9 321.7,1983.7 322,1988.2 322.2,1983.4 322.5,1989.4 322.7,1983.6 322.9,1990.5 323.2,1983.3 323.4,1997.1 323.7,1975.1 323.9,1988.8 324.1,1996.8 324.4,1986.5 324.6,1987.6 324.9,1983.6 325.1,1993.4 325.3,1981.8 325.6,1957.7 325.8,1994.6 326.1,1982.5 326.3,1987.5 326.6,1983.8 326.8,1999 327,1994.1 327.3,1982.1 327.5,1985.9 327.8,1973.4 328,1991 328.2,1984.4 328.5,1963.7 328.7,1991.2 329,1992.1 329.2,1985.3 329.4,1985 329.7,1978 329.9,1982.9 330.2,1989.2 330.4,1981.4 330.6,1962.7 330.9,1972.5 331.1,2002.7 331.4,1982.4 331.6,1987.6 331.8,1976 332.1,1981.7 332.3,1965.5 332.6,1972.9 332.8,1973 333.1,1978 333.3,1979.5 333.5,1976.4 333.8,1968.9 334,1974.4 334.3,1980.9 334.5,1968.3 334.7,1976.3 335,1978.1 335.2,1983.3 335.5,1981.4 335.7,1981.8 335.9,1998.1 336.2,1969 336.4,1972.3 336.7,1978.2 336.9,1968.5 337.1,1973 337.4,1973.3 337.6,1994.8 337.9,1977.5 338.1,1971.4 338.4,1962.9 338.6,1960.9 338.8,1963.7 339.1,1983.3 339.3,1991 339.6,1969.5 339.8,1973.5 340,1966.1 340.3,1974.3 340.5,1971.6 340.8,1984.7 341,1969.5 341.2,1976.3 341.5,1969.9 341.7,1968.9 342,1973.2 342.2,1969.6 342.4,1971.9 342.7,1965.6 342.9,1967.3 343.2,1975.2 343.4,1975.2 343.7,1956.7 343.9,1970.7 344.1,1961.8 344.4,1966.1 344.6,1973.3 344.9,1974.3 345.1,1967.1 345.3,1965.5 345.6,1962.1 345.8,1976.4 346.1,1970.4 346.3,1965.6 346.5,1951.2 346.8,1981.8 347,1958.4 347.3,1965 347.5,1955.9 347.7,1962 348,1953.6 348.2,1942.4 348.5,1950.6 348.7,1948.4 349,1947.2 349.2,1954.7 349.4,1942.6 349.7,1947.1 349.9,1950.5 350.2,1942.6 350.4,1942.8 350.6,1933.4 350.9,1938.9 351.1,1941.9 351.4,1924.8 351.6,1928.1 351.8,1925.4 352.1,1930.7 352.3,1936.6 352.6,1939.4 352.8,1938.7 353,1929.2 353.3,1936.9 353.5,1950.9 353.8,1940.1 354,1952.5 354.3,1940.9 354.5,1953.5 354.7,1955.4 355,1945.6 355.2,1948.8 355.5,1963.1 355.7,1945.1 355.9,1935.2 356.2,1966 356.4,1940.7 356.7,1962.1 356.9,1961.6 357.1,1960.1 357.4,1971.2 357.6,1950.3 357.9,1957.6 358.1,1968.3 358.3,1965.4 358.6,1976.1 358.8,1967.7 359.1,1958.5 359.3,1980.3 359.6,1971.1 359.8,1967.5 360,1961.3 360.3,1959.9 360.5,1974.8 360.8,1977.8 361,1969.3 361.2,1976.3 361.5,1976.5 361.7,1966.3 362,1962.1 362.2,1973.6 362.4,1977.5 362.7,1972 362.9,1991.3 363.2,1977.2 363.4,1985.6 363.6,1959.4 363.9,1972.7 364.1,1977.6 364.4,1980.7 364.6,1999 364.9,1974.8 365.1,1968.3 365.3,1986.9 365.6,1976.5 365.8,1976.6 366.1,1994.3 366.3,1975.5 366.5,1972.5 366.8,1981.1 367,1983.3 367.3,1976.7 367.5,1994.3 367.7,1981.7 368,1974.2 368.2,1991.5 368.5,1974.4 368.7,1985 368.9,1997.5 369.2,1982.4 369.4,1989 369.7,1979.2 369.9,1990.6 370.1,1973.9 370.4,1987.6 370.6,1979.4 370.9,1986.8 371.1,1984.9 371.4,1973.7 371.6,1981.3 371.8,1986.1 372.1,1992.7 372.3,1974.6 372.6,1978 372.8,1986.1 373,1981.9 373.3,1991.6 373.5,1991.5 373.8,1990 374,1981.1 374.2,1981.4 374.5,1989.1 374.7,1977.7 375,1977.2 375.2,1981.5 375.4,1974.7 375.7,1984.4 375.9,1982.7 376.2,1978 376.4,1981.4 376.7,1974.8 376.9,1990 377.1,1969.5 377.4,1986 377.6,1981.3 377.9,1990.4 378.1,1975.6 378.3,1970.7 378.6,1972.5 378.8,1974.7 379.1,1993.1 379.3,1987.7 379.5,1985.8 379.8,1989.8 380,1974.8 380.3,1982.3 380.5,1984.3 380.7,1980.8 381,1992 381.2,1991.9 381.5,1991.8 381.7,1981.6 382,1982.8 382.2,1980.9 382.4,1977 382.7,1995 382.9,1988.6 383.2,1982.8 383.4,1993.5 383.6,1986.8 383.9,1974.6 384.1,1973.4 384.4,1973.2 384.6,1980.6 384.8,1982.3 385.1,1972.5 385.3,1983.4 385.6,1978.2 385.8,1971 386,1984 386.3,1986.2 386.5,1982 386.8,1977.6 387,1978.6 387.3,1981.1 387.5,1978 387.7,1994.1 388,1988.3 388.2,1980.3 388.5,1988.2 388.7,1990.9 388.9,1989.7 389.2,1987.2 389.4,1981.5 389.7,1987.6 389.9,1978.2 390.1,1967.2 390.4,1981.1 390.6,1970.5 390.9,1978 391.1,1988.6 391.3,1982.3 391.6,1987.8 391.8,1974.7 392.1,1989.1 392.3,1970.5 392.6,1976.1 392.8,1995.5 393,1974.4 393.3,1968.5 393.5,1986 393.8,1972.7 394,1993.5 394.2,1978.1 394.5,1992.4 394.7,1976.3 395,1993.4 395.2,1999.7 395.4,1977 395.7,1962.7 395.9,1984.3 396.2,1973.6 396.4,1979 396.6,1982.3 396.9,1975.3 397.1,1967.8 397.4,1989.5 397.6,1976.3 397.9,1978.3 398.1,1991.9 398.3,1969.6 398.6,1967.6 398.8,1989.9 399.1,1970.3 399.3,1983.5 399.5,1985.7 399.8,1973.7 400,1983.7 400.3,1983.3 400.5,1974.7 400.7,1976.6 401,1979.7 401.2,1996.9 401.5,1998.2 401.7,1977.8 401.9,1993.1 402.2,1984.8 402.4,1993.7 402.7,1986.8 402.9,1994.8 403.1,1972.8 403.4,1992.5 403.6,1985.6 403.9,1986 404.1,1975.5 404.4,1995.2 404.6,1984.7 404.8,1986.1 405.1,1980.5 405.3,1980.9 405.6,1987.9 405.8,1982.5 406,1987 406.3,1980.5 406.5,1984.5 406.8,1988.5 407,1983.5 407.2,1980.3 407.5,1965.7 407.7,1986.1 408,1979.9 408.2,1971 408.4,1997.4 408.7,1994.9 408.9,1990.7 409.2,1982.7 409.4,1963.7 409.7,1979.3 409.9,1973.4 410.1,1984.3 410.4,2001.4 410.6,2000.5 410.9,1975.8 411.1,1982.2 411.3,1993.5 411.6,1975.5 411.8,1995.4 412.1,1975.4 412.3,1972.9 412.5,1989.5 412.8,1991.9 413,1977.2 413.3,1991.6 413.5,1976.7 413.7,1992 414,1976.8 414.2,1982.1 414.5,1985.9 414.7,1989.4 415,1981 415.2,1997.1 415.4,1985.1 415.7,1986.3 415.9,1978.6 416.2,1993.5 416.4,1971.6 416.6,1987.3 416.9,1994 417.1,1975.5 417.4,1973.8 417.6,1988.1 417.8,1993.7 418.1,1987.1 418.3,1992.6 418.6,1989.9 418.8,1975.9 419,1984.6 419.3,1986.4 419.5,1984.7 419.8,1987.6 420,1980.6 420.3,1980 420.5,1989.1 420.7,1985.1 421,1967.3 421.2,1981.9 421.5,1985.9 421.7,1968.6 421.9,1983.5 422.2,1991.3 422.4,1977.6 422.7,1989.1 422.9,1985.9 423.1,1979.6 423.4,1983 423.6,1988 423.9,1986.7 424.1,1987.4 424.3,1974.7 424.6,1989.4 424.8,1988.9 425.1,1969.9 425.3,1990 425.6,1975.3 425.8,1977.1 426,1988.6 426.3,1998.5 426.5,1984.7 426.8,1983.2 427,1981.1 427.2,1988 427.5,1979.5 427.7,1978 428,1996.3 428.2,1977.5 428.4,1986.8 428.7,1992.1 428.9,1990 429.2,1973.2 429.4,1979.6 429.6,2000.2 429.9,1985.8 430.1,1987.2 430.4,1987.2 430.6,1989.5 430.9,1996.5 431.1,1978.9 431.3,1992.4 431.6,1988.1 431.8,1989.9 432.1,1990.9 432.3,1980 432.5,1982.9 432.8,1991 433,1993.2 433.3,1989.8 433.5,1979.1 433.7,1985.6 434,1984.9 434.2,1989.2 434.5,1988.7 434.7,1985.1 434.9,2000.5 435.2,1974.4 435.4,1992.3 435.7,1990.5 435.9,1975.8 436.2,1983.9 436.4,1984.9 436.6,1989.2 436.9,1996.2 437.1,1982.6 437.4,1974.6 437.6,1990 437.8,1972.7 438.1,1991.2 438.3,1988.1 438.6,1978.6 438.8,1982.4 439,1977.1 439.3,1987.9 439.5,1990 439.8,1996.3 440,1991.3 440.2,1990.4 440.5,1993 440.7,1980 441,1987.4 441.2,1997.5 441.4,1963.9 441.7,1989.2 441.9,1992.6 442.2,1974 442.4,1974.8 442.7,1992.5 442.9,1995.2 443.1,1991.8 443.4,1975.8 443.6,1986.8 443.9,1990.6 444.1,1984.7 444.3,1975.4 444.6,1994.9 444.8,1987.2 445.1,1994.6 445.3,1967.5 445.5,1969.9 445.8,1976.2 446,1984.1 446.3,1977.8 446.5,1998.4 446.7,1980.1 447,1992.1 447.2,1991.9 447.5,1987.1 447.7,1984.4 448,1977.4 448.2,1976.6 448.4,1980.1 448.7,1989.5 448.9,1977.4 449.2,1983.6 449.4,1974 449.6,1990.1 449.9,2004.3 450.1,1987.1 450.4,1967.4 450.6,1980.3 450.8,1985.5 451.1,1977.5 451.3,1980.6 451.6,1981.1 451.8,1988.7 452,1984.4 452.3,1983.6 452.5,1990.2 452.8,1994 453,1984.6 453.3,1978.5 453.5,1981.1 453.7,1982.3 454,1982.4 454.2,1966.7 454.5,1984.5 454.7,1978.5 454.9,1971.6 455.2,1986 455.4,1984.3 455.7,1978.2 455.9,1973.2 456.1,1983.4 456.4,1982.8 456.6,1984.6 456.9,1994.1 457.1,1976.1 457.3,1986.2 457.6,1997.1 457.8,1984.8 458.1,1996.5 458.3,1990.8 458.6,1982.7 458.8,1989.6 459,1974.2 459.3,1993.5 459.5,1980.1 459.8,1977.8 460,1970.8 460.2,1974.8 460.5,1980 460.7,1981.1 461,1982.1 461.2,1972.9 461.4,1986.5 461.7,1977.5 461.9,1982.1 462.2,1979.5 462.4,1983.3 462.6,1964.9 462.9,1986.2 463.1,1979.2 463.4,1978.8 463.6,1976.1 463.9,1977.1 464.1,1977.1 464.3,1972.6 464.6,1991.5 464.8,1979.7 465.1,1989.1 465.3,1977.7 465.5,1988.6 465.8,1987 466,1980.4 466.3,1969.4 466.5,1976.1 466.7,1978.6 467,1970.5 467.2,1989 467.5,1998.2 467.7,1985.7 467.9,1984.8 468.2,1973.2 468.4,1966.3 468.7,1993 468.9,1963.4 469.2,1970.2 469.4,1975.5 469.6,1978.8 469.9,1962.4 470.1,1980.1 470.4,1983.8 470.6,1978.5 470.8,1989.5 471.1,1974.6 471.3,1978.5 471.6,1974.4 471.8,1973.6 472,1984.1 472.3,1965.1 472.5,1982.8 472.8,1967.7 473,1986.7 473.2,1971.2 473.5,1980.3 473.7,1973.4 474,1978.7 474.2,1990.5 474.5,1982.1 474.7,1972.7 474.9,1968.2 475.2,1984.3 475.4,1989.3 475.7,1979.2 475.9,1973.8 476.1,1976.8 476.4,1978 476.6,1964.7 476.9,1963.6 477.1,1965.1 477.3,1978.1 477.6,1969.8 477.8,1971.6 478.1,1980.9 478.3,1962.2 478.5,1967.9 478.8,1971.8 479,1955.9 479.3,1960.3 479.5,1958.7 479.7,1955.1 480,1958.1 480.2,1973.1 480.5,1965.4 480.7,1953.7 481,1967.3 481.2,1960.4 481.4,1957 481.7,1948.2 481.9,1948.9 482.2,1951.6 482.4,1959.7 482.6,1950.2 482.9,1952.6 483.1,1957.3 483.4,1944 483.6,1949.8 483.8,1958.8 484.1,1941 484.3,1952 484.6,1943.6 484.8,1959.3 485,1945.2 485.3,1951 485.5,1949.3 504.1,1942.2 504.3,1945.4 504.6,1940.4 504.8,1945.8 505,1946.4 505.3,1955.3 505.5,1947.7 505.8,1953.2 506,1970.6 506.2,1950.7 506.5,1957.9 506.7,1949.3 507,1959.1 507.2,1959.5 507.5,1958 507.7,1960.6 507.9,1964.9 508.2,1976.4 508.4,1947.8 508.7,1975.8 508.9,1966.3 509.1,1958.6 509.4,1961.1 509.6,1959.8 509.9,1958.3 510.1,1954.5 510.3,1962.3 510.6,1941.7 510.8,1973 511.1,1963.4 511.3,1968.3 511.5,1970.1 511.8,1963.9 512,1955 512.3,1972.6 512.5,1973.1 512.8,1962.2 513,1964 513.2,1953.2 513.5,1960.8 513.7,1967.3 514,1971.8 514.2,1967.5 514.4,1970.5 514.7,1979.8 514.9,1968.7 515.2,1969.9 515.4,1970.1 515.6,1971.4 515.9,1954.4 516.1,1962.1 516.4,1960.1 516.6,1972.3 516.8,1975.6 517.1,1969.9 517.3,1966 517.6,1971 517.8,1970.1 518,1961.4 518.3,1967 518.5,1977.5 518.8,1973.4 519,1975.4 519.3,1968.9 519.5,1979.5 519.7,1971.7 520,1964.7 520.2,1969.8 520.5,1977 520.7,1974.4 520.9,1968.4 521.2,1965.4 521.4,1962.4 521.7,1970 521.9,1979.1 522.1,1957.4 522.4,1966.2 522.6,1965.3 522.9,1966.1 523.1,1976.6 523.3,1970.8 523.6,1966.2 523.8,1960.1 524.1,1967.6 524.3,1992.6 524.6,1969.8 524.8,1965.1 525,1957.6 525.3,1962.2 525.5,1948.3 525.8,1956.8 526,1957.6 526.2,1961.1 526.5,1979.7 526.7,1962.4 527,1964.7 527.2,1973.8 527.4,1965.3 527.7,1966.8 527.9,1973.9 528.2,1971.2 528.4,1972.2 528.6,1968.2 528.9,1973.3 529.1,1965.5 529.4,1984.9 529.6,1971.8 529.9,1982.7 530.1,1973.1 530.3,1965 530.6,1968.8 530.8,1969.7 531.1,1968 531.3,1955.8 531.5,1976.6 531.8,1960.4 532,1979 532.3,1970.2 532.5,1964.6 532.7,1972.1 533,1963.2 533.2,1958.5 533.5,1973.3 533.7,1964 533.9,1965.9 534.2,1978.1 534.4,1963.7 534.7,1968.3 534.9,1950.9 535.2,1968.3 535.4,1947.4 535.6,1964.9 535.9,1944.6 536.1,1955.4 536.4,1955.6 536.6,1952.2 536.8,1950.8 537.1,1946.1 537.3,1942.8 537.6,1958.8 537.8,1965.5 538,1976.3 538.3,1957.3 538.5,1947.4 538.8,1950 539,1951.6 539.2,1955 539.5,1956.9 539.7,1953.6 540,1947.8 540.2,1965 540.5,1944.3 540.7,1961.8 540.9,1950.9 541.2,1954.4 541.4,1951.8 541.7,1956.9 541.9,1957.2 542.1,1949 542.4,1955.3 542.6,1925.3 542.9,1948.1 543.1,1949.1 585.3,1928.1 585.5,1936.8 585.7,1941.9 586,1951.1 586.2,1956.6 586.5,1954 586.7,1946.5 586.9,1957.3 587.2,1955.8 587.4,1955.5 587.7,1946.5 587.9,1955.6 588.1,1955.6 588.4,1944.8 588.6,1959.1 588.9,1952.5 589.1,1966.7 589.4,1956.1 589.6,1958.4 589.8,1958.5 590.1,1964.1 590.3,1969 590.6,1963.4 590.8,1965.1 591,1953.3 591.3,1954.5 591.5,1971.6 591.8,1957.1 592,1966.1 592.2,1958.7 592.5,1966.3 592.7,1974.3 593,1954.6 593.2,1959.3 593.4,1972.9 593.7,1978.5 593.9,1968.1 594.2,1973.7 594.4,1967.7 594.6,1960.5 594.9,1954.3 595.1,1969.4 595.4,1956.3 595.6,1958.6 595.9,1971.9 596.1,1982.2 596.3,1962.8 596.6,1965.2 596.8,1951.9 597.1,1959.5 597.3,1964.9 597.5,1958 597.8,1979.6 598,1970 598.3,1973.7 598.5,1958 598.7,1967.3 599,1995.8 599.2,1961.2 599.5,1979.2 599.7,1966.3 599.9,1976.3 600.2,1971 600.4,1968.2 600.7,1972 600.9,1981.3 601.2,1963.1 601.4,1971.2 601.6,1974.7 601.9,1969.2 602.1,1979 602.4,1960.1 602.6,1973.1 602.8,1971.9 603.1,1972 603.3,1981.7 603.6,1983.7 603.8,1972.8 604,1971.7 604.3,1963.9 604.5,1971 604.8,1983 605,1970.5 605.2,1968.3 605.5,1967 605.7,1972.3 606,1984.5 606.2,1966 606.5,1980.8 606.7,1970.7 606.9,1987.5 607.2,1969.4 607.4,1981.6 607.7,1967.3 607.9,1962.4 608.1,1967.4 608.4,1986 608.6,1984.8 608.9,1984.9 609.1,1973.6 609.3,1976.7 609.6,1978.7 609.8,1978 610.1,1976.3 610.3,1976 610.5,1968.1 610.8,1981.6 611,1979.4 611.3,1995 611.5,1990.4 611.8,1984.9 612,1988.1 612.2,1976.5 612.5,1969.4 612.7,1980.1 613,1979.7 613.2,1979.2 613.4,1973.6 613.7,1978.3 613.9,1970.3 614.2,1970.9 614.4,1970.3 614.6,1966.8 614.9,1972.4 615.1,1971.4 615.4,1958.9 615.6,1972.9 615.8,1966.4 616.1,1972.3 616.3,1976.4 616.6,1976.5 616.8,1979.5 617.1,1973.3 617.3,1978.3 617.5,1977.2 617.8,1964.7 618,1975.4 618.3,1965.7 618.5,1972.6 618.7,1968.1 619,1979.5 619.2,1973.7 619.5,1954.5 619.7,1968.5 619.9,1967.1 620.2,1973.1 620.4,1968.3 620.7,1984 620.9,1981.7 621.1,1971.8 621.4,1968.9 621.6,1978.4 621.9,1976.7 622.1,1977.9 622.4,1976.4 622.6,1984.1 622.8,1985.6 623.1,1974.9 623.3,1987.4 623.6,1981.2 623.8,1978.5 624,1981.2 624.3,1971 624.5,1976.2 624.8,1973.3 625,1980.5 625.2,1978.6 625.5,1969 625.7,1970.4 626,1977 626.2,1970.9 626.4,1972.5 626.7,1973 626.9,1962.1 627.2,1977.8 627.4,1971.7 627.7,1971.8 627.9,1977.1 628.1,1984.4 628.4,1970.2 628.6,1973.7 628.9,1975.5 629.1,1975.9 629.3,1976.1 629.6,1983.4 629.8,1974.4 630.1,1990.9 630.3,1977.3 630.5,1989 630.8,1980.3 631,1972.2 631.3,1979.9 631.5,1981.8 631.7,1974.1 632,1980.3 632.2,1981.4 632.5,1981.2 632.7,1966.3 632.9,1972.8 633.2,1974.1 633.4,1987 633.7,1972.8 633.9,1987.6 634.2,1973.7 634.4,1986.2 634.6,1962.1 634.9,1990.6 635.1,1967.8 635.4,1971.1 635.6,1991.2 635.8,1979 636.1,1965.6 636.3,1967.7 636.6,1989.3 636.8,1979.8 637,1984.3 637.3,1982.5 637.5,1978.6 637.8,1958.2 638,1970.8 638.2,1972.8 638.5,1972.8 638.7,1964.1 639,1963.2 639.2,1975.4 639.5,1955.9 639.7,1975.9 639.9,1969.2 640.2,1963.1 640.4,1952.8 640.7,1968.9 640.9,1963.5 641.1,1955 641.4,1959.8 641.6,1955 641.9,1954.9 642.1,1960.1 642.3,1955.9 642.6,1952.2 642.8,1958.4 643.1,1943.5 643.3,1971 643.5,1960.5 643.8,1939.3 644,1945.6 644.3,1952.4 644.5,1941.9 644.8,1933.8 660.2,1937.4 660.4,1953.5 660.7,1934.9 660.9,1947.1 661.1,1960.5 661.4,1951.3 661.6,1936.1 661.9,1958.8 662.1,1963.5 662.3,1949.9 662.6,1944.7 662.8,1948.1 663.1,1960 663.3,1956.8 663.5,1956.6 663.8,1950.7 664,1943.7 664.3,1962.4 664.5,1951.7 664.7,1965.3 665,1958.3 665.2,1970.7 665.5,1969.7 665.7,1960.6 666,1971.2 666.2,1957.4 666.4,1969.1 666.7,1964.5 666.9,1966.1 667.2,1968.5 667.4,1965.4 667.6,1958.4 667.9,1943.1 668.1,1977.3 668.4,1966.1 668.6,1970.3 668.8,1976.6 669.1,1967.6 669.3,1977.1 669.6,1971.2 669.8,1961.3 670,1987.1 670.3,1969.9 670.5,1968.8 670.8,1980.3 671,1969.4 671.2,1971.4 671.5,1977.5 671.7,1966.1 672,1986.4 672.2,1972 672.5,1979.4 672.7,1986.3 672.9,1979.9 673.2,1981.5 673.4,1972.7 673.7,1990.7 673.9,1980.7 674.1,1982.7 674.4,1966.9 674.6,1987.6 674.9,1970.6 675.1,1992.2 675.3,1975.8 675.6,1979.3 675.8,1975.2 676.1,1983.3 676.3,1992.7 676.5,1989.3 676.8,1967.1 677,1975.3 677.3,1983.4 677.5,1969.6 677.8,1982.1 678,1981.8 678.2,1985.3 678.5,1966.9 678.7,1960.7 679,1983.2 679.2,1973.6 679.4,1968.3 679.7,1959.7 679.9,1994.5 680.2,1975.2 680.4,1971.6 680.6,1988.1 680.9,1973.9 681.1,1975.8 681.4,1972.1 681.6,1982.3 681.8,1974.9 682.1,1983 682.3,1973.9 682.6,1977.6 682.8,1981.9 683.1,1990.1 683.3,1966.9 683.5,1971.3 683.8,1973.3 684,1985.3 684.3,1983.2 684.5,1968 684.7,1975.3 685,1987.7 685.2,1981.1 685.5,1980.6 685.7,1983.4 685.9,1989.2 686.2,1972.6 686.4,1977.9 686.7,1984 686.9,1994.6 687.1,1987.2 687.4,1982.9 687.6,1976.3 687.9,1985.8 688.1,1974.5 688.4,1981.9 688.6,1988.6 688.8,2004.2 689.1,1991.8 689.3,1994.2 689.6,1983.9 689.8,1980.2 690,1972 690.3,1982.7 690.5,1991.4 690.8,1964.5 691,1980.1 691.2,1984.4 691.5,1984.4 691.7,1992.7 692,1977.6 692.2,1979.7 692.4,1970.5 692.7,1974.3 692.9,1976.2 693.2,1973.4 693.4,1985.3 693.7,1986.6 693.9,1983.7 694.1,1992.9 694.4,1984.6 694.6,1986 694.9,1978.4 695.1,1983.5 695.3,1997.9 695.6,1983 695.8,1972.3 696.1,1997 696.3,1988.7 696.5,1982.6 696.8,1992.7 697,1986.7 697.3,1981.9 697.5,1992.2 697.7,1979.7 698,1978.6 698.2,1991.2 698.5,1981.1 698.7,1972.7 699,1982 699.2,1977 699.4,1975.1 699.7,1981.5 699.9,1971.7 700.2,1976 700.4,1986.2 700.6,1974.2 700.9,1971.2 701.1,1971.4 701.4,1982.3 701.6,1973.6 701.8,1966.5 702.1,1975.2 702.3,1967.8 702.6,1967 702.8,1977.3 703,1972.1 703.3,1979.5 703.5,1969.4 703.8,1978.5 704,1982.4 704.2,1978.8 704.5,1979.6 704.7,1976.6 705,1976.5 705.2,1989.5 705.5,1986.1 705.7,1978.8 705.9,1978.3 706.2,1981.7 706.4,1962.5 706.7,1974.2 706.9,1983.4 707.1,1977.2 707.4,1972.3 707.6,1979.4 707.9,1995.1 708.1,1980.6 708.3,1980.4 708.6,1964 708.8,1993.7 709.1,1967.4 709.3,1979.8 709.5,1971.1 709.8,1980 710,1976.1 710.3,1968.6 710.5,1976.4 710.8,1968.9 711,1977.5 711.2,1980.1 711.5,1978.8 711.7,1981.2 712,1978.5 712.2,1967.6 712.4,1987.1 712.7,1991.2 712.9,1979.1 713.2,1966.6 713.4,1971.8 713.6,1970.1 713.9,1971.1 714.1,1986.4 714.4,1980.4 714.6,2001.8 714.8,1986.6 715.1,1977.7 715.3,1994.4 715.6,1998.5 715.8,1993 716.1,1981.7 716.3,1974.7 716.5,1964.1 716.8,1973 717,1995.3 717.3,2001.4 717.5,1982.7 717.7,1975.7 718,1996 718.2,1987.6 718.5,1987 718.7,1983.2 718.9,1984.8 719.2,1979.6 719.4,1975.5 719.7,1983.1 719.9,1978.1 720.1,1968.8 720.4,1991.8 720.6,1992.2 720.9,1980.6 721.1,1970.6 721.4,1983.5 721.6,1976.6 721.8,1987.3 722.1,1978.1 722.3,1989.8 722.6,1980 722.8,1982 723,1981.9 723.3,1974.4 723.5,1976.6 723.8,1989.1 724,1977.7 724.2,1997.2 724.5,1976.7 724.7,1963.3 725,1980 725.2,1980.1 725.4,1983.4 725.7,1977.6 725.9,1987.2 726.2,1978.6 726.4,1985.5 726.7,1986.5 726.9,1982.1 727.1,1983.3 727.4,1995.7 727.6,1966.7 727.9,1981.1 728.1,1994.9 728.3,1973.8 728.6,1982.2 728.8,1980.4 729.1,1976.7 729.3,1989 729.5,2004.7 729.8,1983.4 730,1981 730.3,1975.4 730.5,1988.8 730.7,1985.1 731,1980.1 731.2,1985.5 731.5,1985 731.7,1981.2 732,1990.6 732.2,1971.1 732.4,1990.1 732.7,1982.9 732.9,1985.8 733.2,1988.8 733.4,1979.5 733.6,1975.9 733.9,1972.6 734.1,1979.2 734.4,1986.9 734.6,1976.8 734.8,1994.1 735.1,1982.5 735.3,1978.7 735.6,1978.1 735.8,1991 736,1993.5 736.3,1969.5 736.5,1986.1 736.8,1994.8 737,1992 737.3,1982.8 737.5,1974.3 737.7,1983.7 738,1975 738.2,1982.7 738.5,1981.3 738.7,1977.7 738.9,1988.3 739.2,1983.4 739.4,1988.7 739.7,1990.6 739.9,1980.7 740.1,1991.7 740.4,1984.7 740.6,1991.1 740.9,1985.5 741.1,1988.6 741.3,1976.2 741.6,1983.9 741.8,1983.9 742.1,1972.2 742.3,2007 742.5,1993.8 742.8,2006.5 743,1986.2 743.3,1983.2 743.5,1982.1 743.8,1985.3 744,1994.3 744.2,1974.6 744.5,1985.8 744.7,1990.4 745,1997.1 745.2,1985.6 745.4,1992.7 745.7,1992.5 745.9,1987.7 746.2,1987.8 746.4,1995.9 746.6,1980.3 746.9,1997.6 747.1,1998.7 747.4,1988 747.6,1989.5 747.8,1990.1 748.1,1993.8 748.3,1990.4 748.6,1995.1 748.8,2003.3 749.1,1984.9 749.3,1998 749.5,1991.8 749.8,1984.1 750,1989 750.3,1967.7 750.5,1998.7 750.7,1993.1 751,1986.1 751.2,1975.7 751.5,1987.4 751.7,1996 751.9,1975.9 752.2,1991.3 752.4,1985.6 752.7,1977.2 752.9,1989 753.1,1987.4 753.4,1980.3 753.6,1985.7 753.9,1982.2 754.1,1991.8 754.4,1985.6 754.6,1993.2 754.8,1996.9 755.1,1971.6 755.3,1981.7 755.6,1978.2 755.8,1992.7 756,1985.4 756.3,1986.7 756.5,1995.9 756.8,1980.7 757,1990.3 757.2,1986.1 757.5,1996.1 757.7,1976.6 758,1978.2 758.2,1980.8 758.4,1990.7 758.7,1987.7 758.9,1973.9 759.2,1985.3 759.4,1980.8 759.7,1981.5 759.9,1991 760.1,1970.2 760.4,1996.9 760.6,1979.5 760.9,1981.5 761.1,1992.9 761.3,1977.4 761.6,1975.6 761.8,1978.8 762.1,1985.3 762.3,1975 762.5,1969.4 762.8,1976 763,1963.9 763.3,1970.3 763.5,1970.6 763.7,1965.3 764,1980.9 764.2,1979.4 764.5,1970.9 764.7,1970.4 765,1962.2 765.2,1964.6 765.4,1971.7 765.7,1970.9 765.9,1974.2 766.2,1974.2 766.4,1974.2 766.6,1962.8 766.9,1972.9 767.1,1971.2 767.4,1966.2 767.6,1970.7 767.8,1967.6 768.1,1982.2 768.3,1961 768.6,1965.6 768.8,1960.8 769,1958.5 769.3,1975.5 769.5,1940.5 769.8,1957.6 770,1956.5 770.3,1971.3 770.5,1950.9 770.7,1951.5 771,1956.6 771.2,1950.5 771.5,1940.7 771.7,1952.5 771.9,1955.7 772.2,1935.8 772.4,1942.8 772.7,1944.7 772.9,1922.3 782.8,1945.4 783,1943.6 783.3,1947.8 783.5,1948 783.7,1946.4 784,1949.9 784.2,1957.8 784.5,1943.1 784.7,1955.9 784.9,1941.5 785.2,1954.7 785.4,1960.3 785.7,1952.2 785.9,1949.7 786.1,1965.3 786.4,1961.2 786.6,1948.4 786.9,1968.7 787.1,1968.3 787.4,1960.9 787.6,1972.6 787.8,1983.2 788.1,1977.3 788.3,1961.4 788.6,1959.6 788.8,1960.4 789,1962.2 789.3,1975.2 789.5,1960.1 789.8,1956.4 790,1971.1 790.2,1958.1 790.5,1968.5 790.7,1964.1 791,1962.8 791.2,1977.5 791.4,1954.3 791.7,1972.7 791.9,1966.9 792.2,1970.1 792.4,1962.8 792.7,1963.1 792.9,1966.5 793.1,1955.6 793.4,1964.6 793.6,1970.1 793.9,1989.8 794.1,1969.4 794.3,1969.6 794.6,1974.4 794.8,1974.5 795.1,1963.2 795.3,1959.9 795.5,1953.4 795.8,1959.5 796,1974.3 796.3,1966.8 796.5,1979.6 796.7,1963.2 797,1966.1 797.2,1973.6 797.5,1969.5 797.7,1970.5 798,1973.4 798.2,1957.7 798.4,1943.4 798.7,1961.2 798.9,1959.1 799.2,1966 799.4,1969.9 799.6,1949.7 799.9,1969.9 800.1,1963.9 800.4,1968 800.6,1962.5 800.8,1967.6 801.1,1962.6 801.3,1977.4 801.6,1968.2 801.8,1956.6 802,1975.6 802.3,1972.6 802.5,1956.3 802.8,1963.7 803,1958.1 803.3,1984.1 803.5,1964.7 803.7,1975.6 804,1976.1 804.2,1961.2 804.5,1954.4 804.7,1975.4 804.9,1971.7 805.2,1967 805.4,1962.8 805.7,1972 805.9,1942.4 806.1,1955.3 806.4,1962.4 806.6,1963 806.9,1939.2 807.1,1939.1 807.3,1960.4 807.6,1952.6 807.8,1944.1 808.1,1962.9 808.3,1956.8 808.6,1939.5 808.8,1954.8 809,1951 809.3,1956.8 809.5,1950.1 830,1930.4 830.2,1933.7 830.5,1947.3 830.7,1931.7 831,1941 831.2,1952.9 831.4,1938.1 831.7,1949 831.9,1942.1 832.2,1954.1 832.4,1947.4 832.6,1964.4 832.9,1948.6 833.1,1964.6 833.4,1951.4 833.6,1973.9 833.8,1954.2 834.1,1948.3 834.3,1950.8 834.6,1945.6 834.8,1964.6 835,1943.9 835.3,1944.3 835.5,1967.7 835.8,1965 836,1963.8 836.3,1960 836.5,1958.9 836.7,1980.7 837,1956.6 837.2,1963.9 837.5,1970.5 837.7,1955.2 837.9,1966.1 838.2,1954.7 838.4,1960.1 838.7,1967.4 838.9,1956 839.1,1959.4 839.4,1970.4 839.6,1979.6 839.9,1971.5 840.1,1962.7 840.3,1969.9 840.6,1954.3 840.8,1966.6 841.1,1967.5 841.3,1966.2 841.6,1976.7 841.8,1971 842,1975.5 842.3,1989.1 842.5,1984.9 842.8,1965.1 843,1974.6 843.2,1972.2 843.5,1983 843.7,1976 844,1965.2 844.2,1970.7 844.4,1975.6 844.7,1959.5 844.9,1972.2 845.2,1974.6 845.4,1963 845.6,1985.9 845.9,1968.1 846.1,1981.5 846.4,1979.2 846.6,1978.7 846.9,1972.5 847.1,1972.9 847.3,1971.6 847.6,1972.5 847.8,1963.3 848.1,1961.1 848.3,1969 848.5,1968.7 848.8,1977.8 849,1983.7 849.3,1970.7 849.5,1975.3 849.7,1969.2 850,1990.6 850.2,1955.6 850.5,1987 850.7,1977 850.9,1969.8 851.2,1988.6 851.4,1982.2 851.7,1993.7 851.9,1989 852.2,1992.9 852.4,1976.7 852.6,1974.9 852.9,1979.5 853.1,1966.8 853.4,1965.6 853.6,1976.4 853.8,1977.9 854.1,1978.1 854.3,1979.4 854.6,1965.4 854.8,1973.7 855,1978 855.3,1977.1 855.5,1970.8 855.8,1978 856,1972.2 856.2,1974.8 856.5,1963.6 856.7,1964.9 857,1985 857.2,1974.9 857.4,1967.9 857.7,1976.9 857.9,1966.9 858.2,1970.6 858.4,1968.6 858.7,1973.8 858.9,1971 859.1,1969.3 859.4,1985 859.6,1980.7 859.9,1981.5 860.1,1960.2 860.3,1971 860.6,1970.4 860.8,1971.8 861.1,1977.1 861.3,1978.7 861.5,1965.9 861.8,1975.4 862,1959.7 862.3,1970.4 862.5,1971 862.7,1973.2 863,1971.8 863.2,1970.7 863.5,1958.7 863.7,1952 864,1979.5 864.2,1968.2 864.4,1964.4 864.7,1977.1 864.9,1974.8 865.2,1973.3 865.4,1988.7 865.6,1964.3 865.9,1969.7 866.1,1969.9 866.4,1968.3 866.6,1966.7 866.8,1949.9 867.1,1966.6 867.3,1961 867.6,1971.3 867.8,1963.8 868,1968.5 868.3,1966.5 868.5,1971.9 868.8,1970.4 869,1959.5 869.3,1956.4 869.5,1957.8 869.7,1966.1 870,1957.3 870.2,1979.4 870.5,1950.6 870.7,1957.7 870.9,1954.4 871.2,1946.4 871.4,1958.4 871.7,1946.5 871.9,1957.1 872.1,1948.4 872.4,1955.5 872.6,1949 872.9,1939 873.1,1955.4 873.3,1954.4 873.6,1951.4 873.8,1945.6 874.1,1924.7 874.3,1951.3 874.6,1962.5 874.8,1950.2 875,1957 875.3,1947.6 875.5,1941.8 900.3,1957.2 900.6,1948.1 900.8,1940.1 901,1946.7 901.3,1955.8 901.5,1932.2 901.8,1947.2 902,1956 902.3,1959.9 902.5,1958 902.7,1945.5 903,1963.5 903.2,1957.7 903.5,1965.3 903.7,1949.1 903.9,1961.2 904.2,1953.4 904.4,1956.2 904.7,1965.9 904.9,1955.8 905.1,1954.1 905.4,1971.1 905.6,1956.3 905.9,1933.5 906.1,1964.6 906.3,1957.2 906.6,1973.2 906.8,1959.1 907.1,1967.9 907.3,1957.5 907.6,1964.7 907.8,1974.4 908,1956.9 908.3,1968.3 908.5,1975.5 908.8,1967.8 909,1976.8 909.2,1966.7 909.5,1971.1 909.7,1974.1 910,1966.3 910.2,1982 910.4,1964.3 910.7,1987.9 910.9,1959.1 911.2,1970.1 911.4,1973.3 911.6,1976.6 911.9,1965.9 912.1,1970.9 912.4,1970.5 912.6,1960.5 912.9,1971.6 913.1,1969.7 913.3,1964.2 913.6,1958.9 913.8,1968.6 914.1,1966.3 914.3,1967.5 914.5,1962.4 914.8,1957 915,1976.8 915.3,1971.1 915.5,1971 915.7,1966.6 916,1960 916.2,1972.5 916.5,1971.2 916.7,1964.4 916.9,1983.5 917.2,1980.1 917.4,1977.8 917.7,1974.5 917.9,1972.8 918.2,1978.8 918.4,1960.9 918.6,1980.3 918.9,1976.3 919.1,1966 919.4,1968.3 919.6,1974.3 919.8,1970.9 920.1,1967.1 920.3,1973.3 920.6,1967.8 920.8,1979.9 921,1971.9 921.3,1985.2 921.5,1979.2 921.8,1981.1 922,1962.2 922.2,1975.7 922.5,1969.8 922.7,1979.5 923,1973.7 923.2,1974.3 923.5,1978.8 923.7,1965 923.9,1984.8 924.2,1966.4 924.4,1950.1 924.7,1977.3 924.9,1970.3 925.1,1982.7 925.4,1970.3 925.6,1983.6 925.9,1964.8 926.1,1973.6 926.3,1984.2 926.6,1979.9 926.8,1982.2 927.1,1972 927.3,1963.2 927.5,1973.3 927.8,1979.8 928,1977.4 928.3,1970.2 928.5,1990.7 928.8,1967.2 929,1969 929.2,1991.9 929.5,1963.3 929.7,1985.8 930,1974.7 930.2,1963.7 930.4,1985.9 930.7,1987.6 930.9,1981.8 931.2,1981.5 931.4,1974.1 931.6,1977.3 931.9,1977.2 932.1,1977.3 932.4,1975.2 932.6,1980.8 932.8,1971.9 933.1,1974.8 933.3,1983.1 933.6,1961 933.8,1985.5 934,1969.9 934.3,1981.7 934.5,1973.1 934.8,1971.9 935,1969.2 935.3,1964.8 935.5,1982.6 935.7,1953.6 936,1972.9 936.2,1982.4 936.5,1986.7 936.7,1957.8 936.9,1963.2 937.2,1976.2 937.4,1970.1 937.7,1965.7 937.9,1975.2 938.1,1979.2 938.4,1976.1 938.6,1969.3 938.9,1975.7 939.1,1985.6 939.3,1970.2 939.6,1989.7 939.8,1982.4 940.1,1967.1 940.3,1975.2 940.6,1975.5 940.8,1976.8 941,1969.9 941.3,1978.5 941.5,1993.5 941.8,1976.6 942,2002.5 942.2,1994.7 942.5,1966.6 942.7,1971.1 943,1983 943.2,1980.3 943.4,1979.4 943.7,1972.7 943.9,1986.9 944.2,1988.2 944.4,1986.6 944.6,1981 944.9,1980.3 945.1,1985.7 945.4,1977 945.6,1991 945.9,1983.7 946.1,1988.5 946.3,1991 946.6,1973.6 946.8,1985.5 947.1,1990.8 947.3,1982.6 947.5,1990.7 947.8,1978.2 948,1976.1 948.3,1974.7 948.5,1990.8 948.7,1983.7 949,1968.2 949.2,1984.2 949.5,1972.8 949.7,1970.9 949.9,1993.6 950.2,1973.7 950.4,1977.6 950.7,1976.9 950.9,1971 951.2,1980.9 951.4,1984.2 951.6,1980.4 951.9,1988.1 952.1,1981.9 952.4,2001.6 952.6,1972.7 952.8,1990.3 953.1,1981.9 953.3,1983.7 953.6,1985.1 953.8,1984.9 954,1985.1 954.3,1998.1 954.5,1989.4 954.8,1975.8 955,1992.8 955.2,1992.8 955.5,1968 955.7,1974.7 956,1971.6 956.2,1983.5 956.5,1980.8 956.7,1976.5 956.9,1977.5 957.2,1982 957.4,1992.1 957.7,1985.9 957.9,1991.4 958.1,1967.2 958.4,1982.2 958.6,1980.3 958.9,1976.7 959.1,1978.8 959.3,1975 959.6,1984.2 959.8,1991.5 960.1,1966.5 960.3,1985.9 960.5,1984.5 960.8,1987.4 961,1985.8 961.3,1981.8 961.5,1976.5 961.8,1990.7 962,1980.6 962.2,1988.3 962.5,1974.1 962.7,1993.2 963,1983.2 963.2,1978.7 963.4,1995 963.7,1983.9 963.9,1983.8 964.2,1991.2 964.4,1986.7 964.6,1977.4 964.9,1983 965.1,1987.9 965.4,1986.1 965.6,1980.8 965.8,1974.3 966.1,1977.7 966.3,1978 966.6,1971.4 966.8,1995.2 967.1,1994.3 967.3,2000.7 967.5,1976.9 967.8,2000.9 968,1983.6 968.3,1977.3 968.5,1993.7 968.7,1987.8 969,1984.5 969.2,1976.6 969.5,1993.6 969.7,1979.1 969.9,1975.9 970.2,1980 970.4,1979.6 970.7,1971 970.9,1978.8 971.1,1980.5 971.4,1982.8 971.6,1975.1 971.9,1982.2 972.1,1974.8 972.3,1978.9 972.6,1970.8 972.8,1985.4 973.1,1978.5 973.3,1976.3 973.6,1975.6 973.8,1970 974,1975.6 974.3,1971.6 974.5,1963.5 974.8,1972 975,1986.6 975.2,1989.5 975.5,1973.3 975.7,1981.4 976,1976.3 976.2,1979.9 976.4,1968.5 976.7,1969.4 976.9,1987.4 977.2,1976.7 977.4,1981.2 977.6,1989 977.9,1973.9 978.1,1980.1 978.4,1975.5 978.6,1959.6 978.9,1968.3 979.1,1969.8 979.3,1981.2 979.6,1986.9 979.8,1967.6 980.1,1979.2 980.3,1976 980.5,1978.8 980.8,1974.6 981,1956.1 981.3,1976.7 981.5,1976 981.7,1971.7 982,1970.5 982.2,1981.7 982.5,1985.7 982.7,1976 982.9,1972.6 983.2,1976.6 983.4,1977.8 983.7,1976.8 983.9,1972 984.2,1969.2 984.4,1980.4 984.6,1971.2 984.9,1963.3 985.1,1966.3 985.4,1975.2 985.6,1966.5 985.8,1963 986.1,1955.9 986.3,1974.2 986.6,1955.2 986.8,1963.7 987,1957.9 987.3,1953.7 987.5,1965.7 987.8,1965 988,1959.4 988.2,1952.7 988.5,1963 988.7,1970.1 989,1964.5 989.2,1956 989.5,1950 989.7,1963.4 989.9,1962.1 990.2,1961 990.4,1960.8 990.7,1967.4 990.9,1963.5 991.1,1958.5 991.4,1959.7 991.6,1960.6 991.9,1969.2 992.1,1966 992.3,1967.8 992.6,1954.4 992.8,1951.8 993.1,1961.2 993.3,1952 993.5,1967.5 993.8,1968.1 994,1976.6 994.3,1965.2 994.5,1971.2 994.8,1967.5 995,1965 995.2,1971.3 995.5,1978.6 995.7,1970.7 996,1971.3 996.2,1970.8 996.4,1966.1 996.7,1973.3 996.9,1974 997.2,1958.8 997.4,1964.1 997.6,1973.4 997.9,1980.2 998.1,1976.8 998.4,1970.7 998.6,1967.5 998.8,1955.8 999.1,1976.5 999.3,1973.8 999.6,1977.9 999.8,1974.7 1000.1,1978.4 1000.3,1983.7 1000.5,1967.7 1000.8,1974.6 1001,1965.7 1001.3,1979.4 1001.5,1973.4 1001.7,1970.3 1002,1989.7 1002.2,1985.3 1002.5,1969.4 1002.7,1974.4 1002.9,1989.2 1003.2,1980.9 1003.4,1983.3 1003.7,1979.2 1003.9,1963.9 1004.1,1980.4 1004.4,1960.9 1004.6,1978.7 1004.9,1982.7 1005.1,1965.6 1005.3,1970.7 1005.6,1967.7 1005.8,1963.6 1006.1,1970.4 1006.3,1969.2 1006.6,1991.5 1006.8,1984.4 1007,1974.4 1007.3,1975.8 1007.5,1971.3 1007.8,1980 1008,1967.4 1008.2,1960 1008.5,1970.6 1008.7,1968.4 1009,1970.8 1009.2,1967.4 1009.4,1972.9 1009.7,1978.4 1009.9,1973 1010.2,1973.7 1010.4,1986.3 1010.6,1972.6 1010.9,1974 1011.1,1972.4 1011.4,1977.8 1011.6,1969.4 1011.9,1967.7 1012.1,1977.2 1012.3,1968.5 1012.6,1964.1 1012.8,1963.6 1013.1,1975.6 1013.3,1975.5 1013.5,1966.6 1013.8,1974.2 1014,1946 1014.3,1971.2 1014.5,1970.6 1014.7,1959.1 1015,1967.5 1015.2,1982 1015.5,1964.7 1015.7,1971.1 1015.9,1967.4 1016.2,1975.8 1016.4,1970.1 1016.7,1964 1016.9,1963 1017.2,1970.8 1017.4,1967.2 1017.6,1967.8 1017.9,1959.4 1018.1,1961.1 1018.4,1969.1 1018.6,1953.5 1018.8,1963.4 1019.1,1954 1019.3,1963.6 1019.6,1953.1 1019.8,1955.6 1020,1953.3 1020.3,1948.7 1020.5,1948.2 1020.8,1949.2 1021,1948.1 1021.2,1958.4 1021.5,1947.4 1021.7,1963.3 1022,1962.4 1022.2,1945.5 1022.5,1943.5 1022.7,1928.3 1022.9,1933.8 1023.2,1929.1 1023.4,1939.5 1023.7,1932.3 1023.9,1925.5 1024.1,1929.8 1029.2,1944.2 1029.4,1943.8 1029.7,1946 1029.9,1953.6 1030.2,1926 1030.4,1949.8 1030.6,1944.4 1030.9,1948.2 1031.1,1962.3 1031.4,1954.6 1031.6,1949.2 1031.8,1944.1 1032.1,1955.2 1032.3,1950.2 1032.6,1956.7 1032.8,1950 1033.1,1975.4 1033.3,1951.5 1033.5,1962.1 1033.8,1962.5 1034,1981.4 1034.3,1967.7 1034.5,1954.8 1034.7,1941.7 1035,1966.2 1035.2,1966.2 1035.5,1957.2 1035.7,1959 1035.9,1966.1 1036.2,1962.8 1036.4,1964.6 1036.7,1956.7 1036.9,1955.3 1037.1,1947.7 1037.4,1954.4 1037.6,1956.5 1037.9,1960.7 1038.1,1954.7 1038.4,1970.1 1038.6,1945.4 1038.8,1960.5 1039.1,1951.9 1039.3,1969.8 1039.6,1955.8 1039.8,1961.3 1040,1966.6 1040.3,1971.2 1040.5,1973.7 1040.8,1953.4 1041,1958.8 1041.2,1968.4 1041.5,1968.7 1041.7,1976.7 1042,1986.2 1042.2,1986.5 1042.4,1977.7 1042.7,1974.7 1042.9,1983 1043.2,1967.9 1043.4,1970.4 1043.6,1973.4 1043.9,1988.6 1044.1,1976.7 1044.4,1975.3 1044.6,1985 1044.9,1992.2 1045.1,1960.2 1045.3,1970.4 1045.6,1978.3 1045.8,1962.9 1046.1,1966.9 1046.3,1972.2 1046.5,1974.2 1046.8,1970.2 1047,1965.4 1047.3,1976.7 1047.5,1979.5 1047.7,1973.8 1048,2000.7 1048.2,1978.7 1048.5,1983.1 1048.7,1980.5 1048.9,1982.1 1049.2,1978.4 1049.4,1980.4 1049.7,1980.8 1049.9,1982.3 1050.2,1977.7 1050.4,1985 1050.6,1973.3 1050.9,1993.6 1051.1,1978.9 1051.4,1976.8 1051.6,1989.9 1051.8,1983.4 1052.1,1970 1052.3,1981.3 1052.6,1987.4 1052.8,2003.8 1053,1978.7 1053.3,1981 1053.5,1977.6 1053.8,1967 1054,1983.1 1054.2,1982.5 1054.5,1989.1 1054.7,1984.6 1055,1984.5 1055.2,1978.7 1055.5,1980.3 1055.7,1990.4 1055.9,1988.2 1056.2,1974 1056.4,1991.9 1056.7,1978.8 1056.9,1972 1057.1,1979.3 1057.4,1982.3 1057.6,1973.8 1057.9,1981.4 1058.1,1984.2 1058.3,1985.7 1058.6,1975.5 1058.8,1979.1 1059.1,1972.8 1059.3,1987.3 1059.5,1987.4 1059.8,1988.6 1060,1983.4 1060.3,1991 1060.5,1978.9 1060.8,1983.6 1061,1993.8 1061.2,2009 1061.5,2000.4 1061.7,1975.5 1062,1986.9 1062.2,1985.2 1062.4,1989.4 1062.7,1983.1 1062.9,2000.7 1063.2,2001.2 1063.4,1998.5 1063.6,1985.5 1063.9,1980.7 1064.1,1982.5 1064.4,1987.2 1064.6,1996 1064.8,1980.2 1065.1,1988.3 1065.3,1986.2 1065.6,1986.4 1065.8,1989.1 1066.1,1990.7 1066.3,1989.4 1066.5,1994.4 1066.8,1982.3 1067,1985.2 1067.3,1975.9 1067.5,1997.3 1067.7,1974.4 1068,1983.8 1068.2,1984.4 1068.5,1989.3 1068.7,1989.3 1068.9,1994.3 1069.2,1976 1069.4,1984.3 1069.7,1977 1069.9,1975.9 1070.1,1985.8 1070.4,1983.6 1070.6,1984.2 1070.9,1973.5 1071.1,1980.2 1071.4,1979.8 1071.6,1975.4 1071.8,1981.3 1072.1,1965 1072.3,1987.7 1072.6,1970.8 1072.8,1969.6 1073,1989.1 1073.3,1973.6 1073.5,1978.1 1073.8,1973.5 1074,1989.5 1074.2,1978.4 1074.5,1987.9 1074.7,1983 1075,1969.6 1075.2,1981.7 1075.4,1998 1075.7,1991.5 1075.9,1989.6 1076.2,1972.9 1076.4,1986 1076.7,1992.5 1076.9,1971.6 1077.1,1977.9 1077.4,1976.8 1077.6,1985.2 1077.9,1967.4 1078.1,1978.9 1078.3,1992.7 1078.6,1985.6 1078.8,1982.8 1079.1,1976.9 1079.3,1969.2 1079.5,1980.4 1079.8,1979 1080,1956.8 1080.3,1973.1 1080.5,1977.6 1080.7,1973 1081,1982.8 1081.2,1968.6 1081.5,1964.9 1081.7,1976.8 1081.9,1964.1 1082.2,1973.9 1082.4,1969 1082.7,1976.7 1082.9,1976.7 1083.2,1981.8 1083.4,1967.7 1083.6,1971.2 1083.9,1970.5 1084.1,1977 1084.4,1977 1084.6,1972.4 1084.8,1963.5 1085.1,1964.6 1085.3,1972.3 1085.6,1964.6 1085.8,1953.1 1086,1966.3 1086.3,1951.3 1086.5,1964 1086.8,1957.1 1087,1972.1 1087.2,1958.8 1087.5,1977.7 1087.7,1966.6 1088,1971.3 1088.2,1984.6 1088.5,1979.7 1088.7,1960.1 1088.9,1965.1 1089.2,1958.8 1089.4,1967.5 1089.7,1991.8 1089.9,1967 1090.1,1973.5 1090.4,1973 1090.6,1972.7 1090.9,1975.3 1091.1,1977 1091.3,1960.1 1091.6,1966.7 1091.8,1975.7 1092.1,1974.4 1092.3,1964.1 1092.5,1969.4 1092.8,1971.4 1093,1983.2 1093.3,1977.7 1093.5,1983.7 1093.8,1990.4 1094,1969.1 1094.2,1979 1094.5,1979.9 1094.7,1984.4 1095,1971.3 1095.2,1961.1 1095.4,1972.8 1095.7,1970.2 1095.9,1987 1096.2,1976 1096.4,1975.7 1096.6,1966 1096.9,1977.4 1097.1,1984.9 1097.4,1978.2 1097.6,1981.2 1097.8,1966.9 1098.1,1973 1098.3,1975.5 1098.6,1976.9 1098.8,1971.9 1099.1,1982.2 1099.3,1985.6 1099.5,1993 1099.8,1969.6 1100,1974.9 1100.3,1973.9 1100.5,1978.4 1100.7,1966.1 1101,1986.2 1101.2,1969.5 1101.5,1985 1101.7,1981.9 1101.9,1987.7 1102.2,1977.8 1102.4,1980.8 1102.7,1975.4 1102.9,1983.3 1103.1,1989.7 1103.4,1975.1 1103.6,1969.9 1103.9,1974.3 1104.1,1980.6 1104.4,1977.3 1104.6,1993.4 1104.8,1983.2 1105.1,1971.9 1105.3,1977.1 1105.6,1987 1105.8,1974 1106,1981.4 1106.3,1974.8 1106.5,1990.9 1106.8,1984.2 1107,1977.8 1107.2,1978 1107.5,1976.1 1107.7,1980.4 1108,1981.9 1108.2,1976.9 1108.4,1974 1108.7,1992 1108.9,1983.1 1109.2,1982.3 1109.4,1979.8 1109.7,1973.5 1109.9,1991.5 1110.1,1977.8 1110.4,1995.3 1110.6,1988.4 1110.9,1987.2 1111.1,1985.8 1111.3,1989 1111.6,1988.9 1111.8,1988.3 1112.1,1988.4 1112.3,2000.8 1112.5,1998 1112.8,1991.3 1113,1984.5 1113.3,1981.3 1113.5,1967.7 1113.7,1988.5 1114,1995.3 1114.2,1988.1 1114.5,1984.2 1114.7,1988.2 1115,1997 1115.2,1989.6 1115.4,1989 1115.7,1999 1115.9,1997.3 1116.2,1979.1 1116.4,2004.6 1116.6,1986.6 1116.9,1989.7 1117.1,1977.3 1117.4,1983 1117.6,1994 1117.8,1977.9 1118.1,1991.4 1118.3,1972 1118.6,1974.3 1118.8,1987 1119,1980.3 1119.3,1984.4 1119.5,1992.3 1119.8,1977.3 1120,1981.8 1120.2,1978.4 1120.5,1976.5 1120.7,1973.8 1121,1976.4 1121.2,1984.7 1121.5,1983.2 1121.7,1980.6 1121.9,1984.4 1122.2,1985 1122.4,1969.3 1122.7,1979.4 1122.9,1968.8 1123.1,1988.7 1123.4,1983.3 1123.6,1986.4 1123.9,1986.3 1124.1,1985.9 1124.3,1985 1124.6,1987.8 1124.8,1971.6 1125.1,1980.4 1125.3,1991.4 1125.5,1990.3 1125.8,1981 1126,1982.6 1126.3,1991.2 1126.5,1979.7 1126.8,1997 1127,1989.4 1127.2,1972.6 1127.5,2004.3 1127.7,1985.9 1128,1976.5 1128.2,1984.5 1128.4,1988.8 1128.7,1989.3 1128.9,1998 1129.2,1992.3 1129.4,1981.9 1129.6,1986.8 1129.9,1982.8 1130.1,1984.1 1130.4,1981.2 1130.6,1996 1130.8,1986.3 1131.1,1986.9 1131.3,1987.1 1131.6,1991.7 1131.8,2001.7 1132.1,1980.9 1132.3,1979.7 1132.5,1968.2 1132.8,1980.4 1133,1973.5 1133.3,1981.2 1133.5,1988.2 1133.7,1981.5 1134,1993.6 1134.2,1982.9 1134.5,1985.2 1134.7,1992 1134.9,1974.9 1135.2,1975.5 1135.4,1980.2 1135.7,1977.4 1135.9,1971.1 1136.1,1984.2 1136.4,1993.1 1136.6,1990 1136.9,1977.5 1137.1,1980.7 1137.4,1993.2 1137.6,1972 1137.8,1980 1138.1,1969.3 1138.3,1972.8 1138.6,1984.3 1138.8,1980.2 1139,1986.4 1139.3,1987.2 1139.5,1983.3 1139.8,1977.5 1140,1971.2 1140.2,1988.2 1140.5,1976.4 1140.7,1981.4 1141,1983.3 1141.2,1973.2 1141.4,1984 1141.7,1970.8 1141.9,1983.3 1142.2,1987.4 1142.4,1974.4 1142.7,1990.7 1142.9,1988.4 1143.1,1980.7 1143.4,1979.1 1143.6,1981 1143.9,1993.6 1144.1,1988.8 1144.3,1975 1144.6,1974.8 1144.8,1986.4 1145.1,1976.9 1145.3,1977.4 1145.5,1971.3 1145.8,1984.4 1146,1968.1 1146.3,1981.3 1146.5,1968.4 1146.7,1972.4 1147,1987 1147.2,1982 1147.5,1977.8 1147.7,1972.6 1148,1990.9 1148.2,1984.6 1148.4,1976.6 1148.7,1978 1148.9,1989.9 1149.2,1989 1149.4,1979.3 1149.6,1990.5 1149.9,1981.2 1150.1,1976.2 1150.4,1983.1 1150.6,2003.4 1150.8,1974.5 1151.1,1974.8 1151.3,1972.9 1151.6,1977.2 1151.8,1996.5 1152,1973.4 1152.3,1981.7 1152.5,1977.4 1152.8,1985.9 1153,1986.7 1153.3,1986.8 1153.5,1973.2 1153.7,1983.2 1154,1986.8 1154.2,1995 1154.5,1981.8 1154.7,1985.2 1154.9,1984 1155.2,1977.6 1155.4,1979.4 1155.7,1984.7 1155.9,1982.9 1156.1,1983.8 1156.4,1978.9 1156.6,1979.1 1156.9,1983.3 1157.1,1990.9 1157.3,1978.2 1157.6,1978 1157.8,1993.2 1158.1,1982.5 1158.3,1988.8 1158.5,2002.7 1158.8,1986.9 1159,1979.6 1159.3,1992.5 1159.5,1992.4 1159.8,1979.3 1160,1995.2 1160.2,1993.7 1160.5,1988.7 1160.7,1981.1 1161,1980.6 1161.2,1988.9 1161.4,1986.7 1161.7,1983.3 1161.9,1986.5 1162.2,1989.9 1162.4,1991.4 1162.6,1977.5 1162.9,1984.5 1163.1,1961 1163.4,1978 1163.6,1988.4 1163.8,1982.7 1164.1,1980 1164.3,1979.4 1164.6,1978.9 1164.8,1978.6 1165.1,1982.8 1165.3,1976.4 1165.5,1964.3 1165.8,1983.9 1166,1982.9 1166.3,1974.1 1166.5,1969.5 1166.7,1972.3 1167,1968.7 1167.2,1978 1167.5,1979 1167.7,1971.9 1167.9,1971.5 1168.2,1963.6 1168.4,1964.3 1168.7,1990.1 1168.9,1970 1169.1,1981.1 1169.4,1992.2 1169.6,1972.9 1169.9,1977.2 1170.1,1978.5 1170.4,1985.6 1170.6,1983.4 1170.8,1977.1 1171.1,1986.8 1171.3,1975.8 1171.6,1973.8 1171.8,1975.5 1172,1971.6 1172.3,1974 1172.5,1982.1 1172.8,1980.7 1173,1971.2 1173.2,1964.3 1173.5,1970.2 1173.7,1974.9 1174,1969.3 1174.2,1984.4 1174.4,1977.8 1174.7,1972.6 1174.9,1969.8 1175.2,1971.6 1175.4,1970.8 1175.7,1977.7 1175.9,1972.5 1176.1,1965.6 1176.4,1981.7 1176.6,1976.3 1176.9,1969.1 1177.1,1954.3 1177.3,1960.3 1177.6,1952.9 1177.8,1954.3 1178.1,1968.2 1178.3,1965 1178.5,1973.5 1178.8,1954.7 1179,1958.1 1179.3,1959.1 1179.5,1958.4 1179.7,1959.9 1180,1961.8 1180.2,1961.1 1180.5,1953.6 1180.7,1969.3 1181,1971.2 1181.2,1962.8 1181.4,1953.6 1181.7,1960.9 1181.9,1964.5 1182.2,1956.4 1182.4,1962.4 1182.6,1978.6 1182.9,1971.9 1183.1,1981 1183.4,1966.8 1183.6,1969.1 1183.8,1962.7 1184.1,1950.2 1184.3,1972.2 1184.6,1968 1184.8,1971.7 1185,1991.5 1185.3,1976 1185.5,1976.3 1185.8,1969.2 1186,1978.5 1186.3,1982.7 1186.5,1968.7 1186.7,1974.4 1187,1981.6 1187.2,1981.1 1187.5,1978.1 1187.7,1969.9 1187.9,1965.8 1188.2,1987.6 1188.4,1968.8 1188.7,1977.9 1188.9,1975.9 1189.1,1971.5 1189.4,1986.9 1189.6,1972.9 1189.9,1989.9 1190.1,1983.4 1190.3,1986.4 1190.6,1966.6 1190.8,1966.8 1191.1,1973.4 1191.3,1975 1191.6,1982.8 1191.8,1964.8 1192,1967.1 1192.3,1970.6 1192.5,1978.1 1192.8,1979.6 1193,1977.3 1193.2,1966.1 1193.5,1983.5 1193.7,1975.1 1194,1963.3 1194.2,1969.1 1194.4,1962.4 1194.7,1972.8 1194.9,1972.7 1195.2,1965.5 1195.4,1971.3 1195.6,1973.9 1195.9,1980.7 1196.1,1988.4 1196.4,1965.5 1196.6,1980.4 1196.8,1983 1197.1,1970.6 1197.3,1984.1 1197.6,1987.6 1197.8,1981.4 1198.1,1977.3 1198.3,1974.4 1198.5,1972.1 1198.8,1968.2 1199,1976.2 1199.3,1971.9 1199.5,1975.1 1199.7,1978.6 1200,1969.9 1200.2,1969.7 1200.5,1957.3 1200.7,1966.3 1200.9,1975.7 1201.2,1964.9 1201.4,1970.7 1201.7,1955.6 1201.9,1980.4 1202.1,1971.4 1202.4,1970.6 1202.6,1963.6 1202.9,1964.7 1203.1,1975.3 1203.4,1976.7 1203.6,1959.8 1203.8,1948.9 1204.1,1948.2 1204.3,1962.1 1204.6,1954.6 1204.8,1964.4 1205,1968.4 1205.3,1946.7 1205.5,1950.4 1205.8,1957.8 1206,1957.5 1206.2,1946.7 1206.5,1950.8 1206.7,1955.3 1207,1949.6 1207.2,1951.2 1207.4,1953.5 1207.7,1955.1 1207.9,1941.1 1208.2,1951.3 1208.4,1956.1 1208.7,1931.1 1208.9,1934.6 1209.1,1939.4 1209.4,1943.2 1209.6,1940 1209.9,1952.2 1210.1,1939.5 1210.3,1936 1210.6,1938.7 1210.8,1932.3 1220.2,1948.7 1220.5,1945.8 1220.7,1930.6 1220.9,1948.1 1221.2,1938.3 1221.4,1942.8 1221.7,1942.3 1221.9,1943 1222.1,1941.3 1222.4,1956.8 1222.6,1947.8 1222.9,1946.3 1223.1,1954.7 1223.3,1948.1 1223.6,1960 1223.8,1947.1 1224.1,1959.3 1224.3,1956.8 1224.6,1949.2 1224.8,1947.7 1225,1961.5 1225.3,1962.9 1225.5,1950.9 1225.8,1982 1226,1949.8 1226.2,1951 1226.5,1970.3 1226.7,1953.6 1227,1960.9 1227.2,1961.1 1227.4,1983.5 1227.7,1970.2 1227.9,1968.6 1228.2,1971 1228.4,1971.5 1228.6,1971.2 1228.9,1991.6 1229.1,1971.4 1229.4,1975.4 1229.6,1971 1229.9,1974.3 1230.1,1970.7 1230.3,1968.6 1230.6,1957.4 1230.8,1977.5 1231.1,1958.5 1231.3,1973.6 1231.5,1978.9 1231.8,1983.4 1232,1966 1232.3,1984.4 1232.5,1966 1232.7,1970.5 1233,1977.5 1233.2,1978.3 1233.5,1969.5 1233.7,1972 1233.9,1967.5 1234.2,1973.1 1234.4,1976.9 1234.7,1969 1234.9,1982.2 1235.1,1966.9 1235.4,1973.1 1235.6,1982.3 1235.9,1981.9 1236.1,1977.2 1236.4,1989 1236.6,1965.3 1236.8,1969.2 1237.1,1985.4 1237.3,1978.6 1237.6,1965.4 1237.8,1975.6 1238,1986.7 1238.3,1995.5 1238.5,1991.6 1238.8,1970.1 1239,1976.6 1239.2,1988.8 1239.5,1973.3 1239.7,1981.2 1240,1983.4 1240.2,1982.2 1240.4,1981.7 1240.7,1965.6 1240.9,1985.4 1241.2,1981.4 1241.4,1968.3 1241.7,1967.1 1241.9,1986 1242.1,1962.9 1242.4,1970.2 1242.6,1989.9 1242.9,1964.9 1243.1,1989.8 1243.3,1973.5 1243.6,1987.5 1243.8,1992.4 1244.1,1972.7 1244.3,1976.2 1244.5,1980.3 1244.8,1978.5 1245,1981 1245.3,1982.6 1245.5,1989 1245.7,1976.8 1246,1981.3 1246.2,1983.5 1246.5,1986.1 1246.7,1984.1 1247,1993.5 1247.2,1984.3 1247.4,1989.3 1247.7,1972 1247.9,1988.7 1248.2,1984.7 1248.4,1981 1248.6,1974.8 1248.9,1977.2 1249.1,1980.4 1249.4,1964 1249.6,1980.4 1249.8,1977.8 1250.1,1959.5 1250.3,1987 1250.6,1973.1 1250.8,1977.1 1251,1990.6 1251.3,1985.5 1251.5,1974.6 1251.8,1992.1 1252,1982.6 1252.3,1974.2 1252.5,1983.2 1252.7,1979.5 1253,1986.7 1253.2,1986.4 1253.5,1986.4 1253.7,1984.5 1253.9,1977.1 1254.2,1981.4 1254.4,1967.1 1254.7,1978.1 1254.9,1980.3 1255.1,1965.4 1255.4,1983.4 1255.6,1988.8 1255.9,1981.6 1256.1,1991 1256.3,1978.8 1256.6,1972.2 1256.8,1977.7 1257.1,1985.5 1257.3,1983.2 1257.6,1978.1 1257.8,1972.5 1258,1984.2 1258.3,1984 1258.5,1972.1 1258.8,1978.5 1259,1977.2 1259.2,1975.9 1259.5,1985.3 1259.7,1980.3 1260,1970.8 1260.2,1980 1260.4,1980 1260.7,1975.9 1260.9,1974.9 1261.2,1958 1261.4,1983.3 1261.6,1975.6 1261.9,1960.8 1262.1,1975.6 1262.4,1972.6 1262.6,1986.4 1262.9,1967.3 1263.1,1967.9 1263.3,1968.1 1263.6,1975.8 1263.8,1971.4 1264.1,1974.8 1264.3,1967.5 1264.5,1974.1 1264.8,1967.7 1265,1984 1265.3,1975.8 1265.5,1995 1265.7,1973.5 1266,1965.8 1266.2,1973.3 1266.5,1952.4 1266.7,1977.9 1266.9,1972.2 1267.2,1976.3 1267.4,1972.5 1267.7,1971.9 1267.9,1979.4 1268.2,1975.2 1268.4,1951.2 1268.6,1968.9 1268.9,1959.4 1269.1,1976.2 1269.4,1966.8 1269.6,1961.3 1269.8,1966.5 1270.1,1968.8 1270.3,1965.8 1270.6,1963.7 1270.8,1957.1 1271,1953.8 1271.3,1973.6 1271.5,1979.4 1271.8,1964.5 1272,1962.9 1272.2,1957.3 1272.5,1954.6 1272.7,1968.4 1273,1946.9 1273.2,1961.4 1273.4,1977.6 1273.7,1956.1 1273.9,1961.6 1274.2,1961.6 1274.4,1976.6 1274.7,1966.4 1274.9,1962.8 1275.1,1965.3 1275.4,1958.6 1275.6,1954.1 1275.9,1952.1 1276.1,1954.4 1276.3,1965.7 1276.6,1951.1 1276.8,1962.9 1277.1,1958.5 1277.3,1967.4 1277.5,1976.8 1277.8,1984 1278,1964.9 1278.3,1972 1278.5,1967 1278.7,1960.3 1279,1979.7 1279.2,1981.9 1279.5,1966.4 1279.7,1966 1280,1971.4 1280.2,1973.9 1280.4,1982.7 1280.7,1971.4 1280.9,1977 1281.2,1968.3 1281.4,1964.7 1281.6,1976.7 1281.9,1969.5 1282.1,1971.5 1282.4,1967.8 1282.6,1961.5 1282.8,1968.5 1283.1,1968.3 1283.3,1967.8 1283.6,1977.4 1283.8,1974.4 1284,1971.9 1284.3,1965.2 1284.5,1965.1 1284.8,1957.8 1285,1984.1 1285.3,1976.3 1285.5,1989.6 1285.7,1980.8 1286,1989.6 1286.2,1968.3 1286.5,1971.8 1286.7,1986.1 1286.9,1975.5 1287.2,1972.6 1287.4,1965.1 1287.7,1972.1 1287.9,1977.6 1288.1,1979.2 1288.4,1973.7 1288.6,1976.1 1288.9,1982 1289.1,1987.5 1289.3,1970 1289.6,1983.4 1289.8,1979.8 1290.1,1971.5 1290.3,1978 1290.6,1968.9 1290.8,1986.1 1291,1971.8 1291.3,1987.9 1291.5,1989.4 1291.8,1986.2 1292,1977.6 1292.2,1984 1292.5,1989.6 1292.7,1970.3 1293,1987 1293.2,1980.8 1293.4,1978.1 1293.7,1983.8 1293.9,1977.5 1294.2,1975.6 1294.4,1981.1 1294.6,1972.4 1294.9,1984.8 1295.1,1988.4 1295.4,1978.9 1295.6,1987.9 1295.9,1977.9 1296.1,1981.7 1296.3,1984.7 1296.6,1977 1296.8,1977.6 1297.1,2004.2 1297.3,1984.5 1297.5,1981.3 1297.8,1978.8 1298,1986.8 1298.3,1991.4 1298.5,1981.7 1298.7,1977.5 1299,1998 1299.2,1993.6 1299.5,1986.4 1299.7,2001.1 1299.9,1985.8 1300.2,1974.8 1300.4,1988.7 1300.7,1979.4 1300.9,1987 1301.2,1977 1301.4,1975.2 1301.6,1970.3 1301.9,1979.7 1302.1,1972.5 1302.4,1977.6 1302.6,1984.5 1302.8,1970.1 1303.1,1986 1303.3,1980.5 1303.6,1963.7 1303.8,1975.9 1304,1988.9 1304.3,1980.7 1304.5,1987.3 1304.8,1984.5 1305,1994.9 1305.2,1982.1 1305.5,1995.5 1305.7,1981.1 1306,1981.1 1306.2,1977.6 1306.4,1967.3 1306.7,1996.5 1306.9,1993 1307.2,1991.6 1307.4,1988.4 1307.7,1977.7 1307.9,1986.9 1308.1,1988.9 1308.4,1993.2 1308.6,1989.7 1308.9,1988.4 1309.1,1986 1309.3,1996.1 1309.6,1986.1 1309.8,1981.3 1310.1,1983 1310.3,1994.9 1310.5,1979.3 1310.8,1979.3 1311,1983 1311.3,1994.3 1311.5,1996 1311.7,1984.6 1312,1992.5 1312.2,1994.8 1312.5,1978.1 1312.7,1978 1313,1980 1313.2,1975.1 1313.4,1978.3 1313.7,1993.9 1313.9,1976.8 1314.2,1984.6 1314.4,1982.3 1314.6,1974 1314.9,1982.5 1315.1,1974.1 1315.4,1985.5 1315.6,1988.8 1315.8,1991.3 1316.1,1987 1316.3,1998.6 1316.6,1986.4 1316.8,1986.9 1317,1989.9 1317.3,2002.6 1317.5,2002 1317.8,1980.5 1318,1993 1318.3,1975.5 1318.5,1991.1 1318.7,1983 1319,1996.6 1319.2,1990.5 1319.5,1987.4 1319.7,1981.4 1319.9,1973.2 1320.2,1978.5 1320.4,1996.6 1320.7,1985.5 1320.9,1986.7 1321.1,1990 1321.4,1980.5 1321.6,1972.8 1321.9,1987.8 1322.1,1975.8 1322.3,1973.4 1322.6,1991.6 1322.8,1970.2 1323.1,1970.7 1323.3,1981 1323.6,1970.4 1323.8,1981.3 1324,1974.5 1324.3,1978.3 1324.5,1989.6 1324.8,1981.1 1325,1984.1 1325.2,1986.4 1325.5,1991.1 1325.7,1988 1326,1991.1 1326.2,1973.1 1326.4,1996 1326.7,1980.5 1326.9,1985.5 1327.2,1990.2 1327.4,1975.4 1327.6,1986.8 1327.9,1971.9 1328.1,1982.4 1328.4,1978.7 1328.6,1982.3 1328.9,1976.7 1329.1,1974.7 1329.3,1985.3 1329.6,1982.2 1329.8,1969.1 1330.1,1986.7 1330.3,1969 1330.5,1985.7 1330.8,1987 1331,1995.6 1331.3,1989.4 1331.5,1996.1 1331.7,1987.3 1332,1977.8 1332.2,1983.3 1332.5,1987.3 1332.7,1990.3 1332.9,1987.7 1333.2,1993.3 1333.4,1991.9 1333.7,1967.7 1333.9,1980.6 1334.2,1989.3 1334.4,1977.5 1334.6,1971.4 1334.9,1987.6 1335.1,1983.7 1335.4,1992.5 1335.6,1995.1 1335.8,1972.9 1336.1,1957.6 1336.3,1988.9 1336.6,1995.6 1336.8,1972.9 1337,1975.7 1337.3,1980.2 1337.5,1973 1337.8,1986.9 1338,1982.6 1338.2,1979.2 1338.5,1987.9 1338.7,1982.4 1339,1988.1 1339.2,1983.3 1339.5,1985.8 1339.7,2002 1339.9,1986.5 1340.2,1997.8 1340.4,1993.2 1340.7,1998.9 1340.9,1979.8 1341.1,1987.8 1341.4,1987.6 1341.6,1974.7 1341.9,1978.2 1342.1,1984.6 1342.3,1998.2 1342.6,1977.3 1342.8,1984 1343.1,1984.6 1343.3,1976.3 1343.5,1986.7 1343.8,1982.7 1344,1975.7 1344.3,1978.4 1344.5,1987.7 1344.7,1972.5 1345,1975.2 1345.2,1970 1345.5,1985 1345.7,1983.2 1346,1977.2 1346.2,1982 1346.4,1984.5 1346.7,1986.4 1346.9,1988.1 1347.2,1990.8 1347.4,1990.8 1347.6,1982.9 1347.9,1988.3 1348.1,1996.7 1348.4,1985.7 1348.6,1973.6 1348.8,1975.8 1349.1,2001.3 1349.3,1992.4 1349.6,1980 1349.8,1985.1 1350,1985 1350.3,1986.3 1350.5,1984.7 1350.8,1992.6 1351,1975.7 1351.3,1992.3 1351.5,1985.3 1351.7,1972.4 1352,1975.7 1352.2,1983.9 1352.5,1983.9 1352.7,1988.3 1352.9,1987.6 1353.2,1985.6 1353.4,1973.6 1353.7,1987 1353.9,1979.4 1354.1,1980.3 1354.4,1980.3 1354.6,1985.3 1354.9,1977.4 1355.1,1981.5 1355.3,1981.7 1355.6,1985.7 1355.8,1998.2 1356.1,1976 1356.3,1975.5 1356.6,1984.9 1356.8,1982.1 1357,1978.4 1357.3,1987.7 1357.5,1974.8 1357.8,1974.6 1358,1973.4 1358.2,1972.8 1358.5,1994.2 1358.7,1975.8 1359,1983.2 1359.2,1971.5 1359.4,1972.1 1359.7,1974.1 1359.9,1981.1 1360.2,1959.4 1360.4,1981.4 1360.6,1989.1 1360.9,1974 1361.1,1992.6 1361.4,1967.2 1361.6,1974.3 1361.9,1972.1 1362.1,1974.3 1362.3,1979.3 1362.6,1992.4 1362.8,1986.9 1363.1,1978 1363.3,1983.7 1363.5,1979.2 1363.8,1987.1 1364,1987.7 1364.3,1979.3 1364.5,1975.7 1364.7,1981.2 1365,1988.5 1365.2,1993.7 1365.5,1965.7 1365.7,1989.7 1365.9,1987.7 1366.2,1986.6 1366.4,1974.4 1366.7,1987 1366.9,1977.1 1367.2,1979 1367.4,1989.9 1367.6,1980 1367.9,1990.4 1368.1,1982.3 1368.4,1975.4 1368.6,1982.6 1368.8,1987.6 1369.1,1983.7 1369.3,1981.9 1369.6,1977.9 1369.8,1997.8 1370,1994.4 1370.3,1976.9 1370.5,1981.7 1370.8,1980.9 1371,1979.6 1371.2,1982.6 1371.5,1985 1371.7,1981 1372,1977 1372.2,1979.6 1372.5,1982 1372.7,1990 1372.9,1980.4 1373.2,1990.8 1373.4,1987.1 1373.7,1980.7 1373.9,1980.9 1374.1,1973.4 1374.4,1974.9 1374.6,1977.7 1374.9,1983.7 1375.1,1981.3 1375.3,1983.1 1375.6,1968.3 1375.8,1978 1376.1,1986.5 1376.3,1988.2 1376.5,1972.8 1376.8,1989 1377,1980 1377.3,1981.7 1377.5,1975.3 1377.8,1990.1 1378,1980.3 1378.2,1982.4 1378.5,1978.1 1378.7,1974.1 1379,1983.7 1379.2,1986.3 1379.4,1978.2 1379.7,1995.5 1379.9,1983.7 1380.2,1992.6 1380.4,1994.4 1380.6,1997.3 1380.9,1998 1381.1,1979.4 1381.4,1979.1 1381.6,1984.8 1381.8,1977.7 1382.1,1985 1382.3,1988.7 1382.6,1992.8 1382.8,1978.5 1383,1977.6 1383.3,1973.7 1383.5,1988.7 1383.8,1984.2 1384,1991.7 1384.3,1972.4 1384.5,1975.3 1384.7,1976.4 1385,1980.2 1385.2,1981 1385.5,1982.6 1385.7,1971.6 1385.9,1984.7 1386.2,1973.3 1386.4,1977.9 1386.7,1987.6 1386.9,1990.9 1387.1,1985.8 1387.4,1980 1387.6,1989.2 1387.9,1974.4 1388.1,1970.2 1388.3,1974.3 1388.6,1990.9 1388.8,1995.6 1389.1,1970.9 1389.3,1965.9 1389.6,1980 1389.8,1972.8 1390,1978.6 1390.3,1981.3 1390.5,1968.7 1390.8,1980.3 1391,1969.5 1391.2,1962.6 1391.5,1976.5 1391.7,1961.1 1392,1985.2 1392.2,1968 1392.4,1974.7 1392.7,1954.9 1392.9,1974.1 1393.2,1980.3 1393.4,1961.5 1393.6,1985.6 1393.9,1970.3 1394.1,1979.4 1394.4,1962.7 1394.6,1974.1 1394.9,1966.5 1395.1,1973.3 1395.3,1981.3 1395.6,1989.3 1395.8,1958.5 1396.1,1970.2 1396.3,1980.6 1396.5,1973.7 1396.8,1963.1 1397,1981.9 1397.3,1952 1397.5,1971 1397.7,1971.4 1398,1957.8 1398.2,1965.6 1398.5,1974.5 1398.7,1958.9 1398.9,1962 1399.2,1956.2 1399.4,1971.9 1399.7,1973.1 1399.9,1958.8 1400.2,1966.9 1400.4,1980.1 1400.6,1967.4 1400.9,1957.4 1401.1,1967.8 1401.4,1951.6 1401.6,1965.6 1401.8,1962.1 1402.1,1974.1 1402.3,1967.5 1402.6,1962.5 1402.8,1956.4 1403,1959.5 1403.3,1952.5 1403.5,1978.4 1403.8,1960.8 1404,1962.1 1404.2,1969.2 1404.5,1961.1 1404.7,1966.7 1405,1957.1 1405.2,1963.2 1405.5,1956.2 1405.7,1967.5 1405.9,1949.9 1406.2,1956.9 1406.4,1945.7 1406.7,1961.2 1406.9,1964.2 1407.1,1959.3 1407.4,1964.3 1407.6,1969.1 1407.9,1960.8 1408.1,1961.8 1408.3,1966.8 1408.6,1965 1408.8,1970 1409.1,1961.4 1409.3,1973.7 1409.5,1949.6 1409.8,1963.3 1410,1956.2 1410.3,1973.7 1410.5,1961.5 1410.8,1965.5 1411,1956.8 1411.2,1957.9 1411.5,1978.1 1411.7,1956.1 1412,1977.4 1412.2,1955.2 1412.4,1966.6 1412.7,1976.1 1412.9,1961.4 1413.2,1967.2 1413.4,1975.9 1413.6,1974.5 1413.9,1965.4 1414.1,1980.6 1414.4,1977.1 1414.6,1956.2 1414.8,1977.4 1415.1,1968.8 1415.3,1968.5 1415.6,1964.8 1415.8,1965.7 1416.1,1992.7 1416.3,1976.8 1416.5,1963.9 1416.8,1979.6 1417,1959.3 1417.3,1971.8 1417.5,1983.5 1417.7,1969.8 1418,1959.3 1418.2,1980.1 1418.5,1970.9 1418.7,1982.6 1418.9,1980.7 1419.2,1975.8 1419.4,1973.2 1419.7,1975 1419.9,1976.6 1420.1,1960 1420.4,1987.6 1420.6,1994.1 1420.9,1975.7 1421.1,1978.9 1421.3,1991.7 1421.6,1967.4 1421.8,1986.4 1422.1,1992 1422.3,1978 1422.6,1976.4 1422.8,1963.3 1423,1993.5 1423.3,1991.7 1423.5,1984.1 1423.8,1985.4 1424,1982.7 1424.2,1987.6 1424.5,1994.1 1424.7,1985.5 1425,1976.5 1425.2,1975.7 1425.4,1986.6 1425.7,1977.3 1425.9,1978.1 1426.2,1984.9 1426.4,1983.7 1426.6,1980.6 1426.9,1959.5 1427.1,1979.7 1427.4,1987.9 1427.6,1982.3 1427.9,1985.5 1428.1,1972.5 1428.3,1997.9 1428.6,1989.7 1428.8,1975 1429.1,1978.3 1429.3,1981.3 1429.5,1976.2 1429.8,1992.1 1430,1979.4 1430.3,1991.2 1430.5,1992.6 1430.7,1979.3 1431,1989.5 1431.2,1986.4 1431.5,1979.2 1431.7,1992.2 1431.9,1979.7 1432.2,1967.3 1432.4,1986.1 1432.7,1977.3 1432.9,1978.8 1433.2,1994.5 1433.4,1995.3 1433.6,1985 1433.9,2001.4 1434.1,1985 1434.4,1983.5 1434.6,1982.1 1434.8,1982.4 1435.1,1975.8 1435.3,1988.6 1435.6,1975.9 1435.8,1982.1 1436,1982.2 1436.3,1987.3 1436.5,1978.8 1436.8,1991.7 1437,1980.2 1437.2,1977.1 1437.5,1990.5 1437.7,1992.4 1438,1990.7 1438.2,1985.1 1438.5,1981.8 1438.7,1977.8 1438.9,1969.9 1439.2,1972 1439.4,1982.2 1439.7,1987.4 1439.9,1993.7 1440.1,1978.5 1440.4,1981.1 1440.6,1987.5 1440.9,1987 1441.1,1987 1441.3,2006.2 1441.6,1987.5 1441.8,1985 1442.1,1988.9 1442.3,1996.5 1442.5,1988.5 1442.8,1985.6 1443,1976 1443.3,1981.9 1443.5,1985.6 1443.8,1990.7 1444,2000.6 1444.2,1994 1444.5,2000.8 1444.7,1991.1 1445,1982.1 1445.2,1982 1445.4,1982.9 1445.7,1989.3 1445.9,1981.6 1446.2,1990.8 1446.4,2003.1 1446.6,1986.8 1446.9,1987.1 1447.1,2000.1 1447.4,1990.6 1447.6,2004.7 1447.8,1989.5 1448.1,1976.5 1448.3,1990.4 1448.6,1975.5 1448.8,1983.8 1449.1,1991.2 1449.3,1999.2 1449.5,1980.2 1449.8,1981 1450,1997.4 1450.3,1989.4 1450.5,1977.8 1450.7,1991.7 1451,1982.8 1451.2,2000.2 1451.5,1991.9 1451.7,1978.9 1451.9,1992.7 1452.2,1994 1452.4,1993 1452.7,1984.7 1452.9,1993.1 1453.1,1981.5 1453.4,1976 1453.6,1968.3 1453.9,1982.6 1454.1,1967.2 1454.4,1975 1454.6,1980.9 1454.8,1975.3 1455.1,1967.9 1455.3,1968.2 1455.6,1973.9 1455.8,1980.6 1456,1973.8 1456.3,1978.7 1456.5,1979.4 1456.8,1979.1 1457,1967.7"/>
<polyline class="ob obbp" points="485.8,1955 486,1919.2 486.3,1935.9 486.5,1930.1 486.7,1920.1 487,1927.5 487.2,1919 487.5,1931.5 487.7,1914.8 487.9,1916.2 488.2,1904.4 488.4,1902.8 488.7,1911.8 488.9,1911.1 489.1,1898.9 489.4,1878.5 489.6,1875.7 489.9,1870.2 490.1,1885.6 490.3,1885.5 490.6,1860.9 490.8,1851.9 491.1,1847.7 491.3,1832.4 491.6,1830.4 491.8,1832.9 492,1823.4 492.3,1807.5 492.5,1801.7 492.8,1796.9 493,1769.4 493.2,1787.5 493.5,1779.2 493.7,1785.5 494,1776.3 494.2,1765.6 494.4,1763.7 494.7,1770.1 494.9,1765.6 495.2,1770.6 495.4,1791.4 495.6,1808.1 495.9,1760.5 496.1,1779.6 496.4,1793.7 496.6,1815.5 496.9,1817.9 497.1,1800.7 497.3,1845.8 497.6,1830.4 497.8,1826.8 498.1,1840.5 498.3,1842.1 498.5,1856.9 498.8,1841.1 499,1877.9 499.3,1887 499.5,1878.4 499.7,1873.8 500,1892 500.2,1887.3 500.5,1905.5 500.7,1915.2 500.9,1896.9 501.2,1899 501.4,1902.7 501.7,1922.6 501.9,1931.5 502.2,1934.4 502.4,1929 502.6,1924.7 502.9,1927.7 503.1,1946.1 503.4,1934.7 503.6,1938.2 503.8,1939.5 543.3,1947.1 543.6,1950.3 543.8,1960.6 544.1,1941 544.3,1934.9 544.5,1948.6 544.8,1934.5 545,1943 545.3,1931.5 545.5,1926.5 545.8,1923.6 546,1922.2 546.2,1929.9 546.5,1914.6 546.7,1923.8 547,1915 547.2,1909.9 547.4,1916.3 547.7,1922.4 547.9,1903.8 548.2,1916.1 548.4,1911.5 548.6,1910.4 548.9,1890.5 549.1,1895.8 549.4,1910.4 549.6,1880.4 549.8,1864.5 550.1,1862.4 550.3,1878.4 550.6,1867.5 550.8,1858.2 551.1,1848.9 551.3,1850.4 551.5,1854 551.8,1830.4 552,1824.3 552.3,1834.3 552.5,1817.3 552.7,1802.7 553,1796 553.2,1781.3 553.5,1768.3 553.7,1759.6 553.9,1754 554.2,1753.2 554.4,1721.1 554.7,1699.4 554.9,1678.7 555.1,1682.3 555.4,1665.6 555.6,1633.2 555.9,1614.6 556.1,1606.1 556.3,1582 556.6,1575.8 556.8,1540.2 557.1,1532.2 557.3,1502.2 557.6,1478.6 557.8,1458.7 558,1452.7 558.3,1415.9 558.5,1380.9 558.8,1363.4 559,1346.5 559.2,1318.7 559.5,1298.9 559.7,1282.6 560,1289 560.2,1271.1 560.4,1269.5 560.7,1273.5 560.9,1281.9 561.2,1271.4 561.4,1288.3 561.6,1266.5 561.9,1305.5 562.1,1323.7 562.4,1344.4 562.6,1340.3 562.9,1392.6 563.1,1407 563.3,1436.8 563.6,1453.7 563.8,1476.5 564.1,1488.2 564.3,1537.3 564.5,1545.4 564.8,1550.5 565,1593 565.3,1609.7 565.5,1635.8 565.7,1671.1 566,1663.3 566.2,1667 566.5,1698.4 566.7,1726.2 566.9,1719.5 567.2,1734.2 567.4,1737.5 567.7,1749.8 567.9,1771.7 568.2,1775.4 568.4,1805.3 568.6,1787.1 568.9,1804 569.1,1803.5 569.4,1810.9 569.6,1830 569.8,1835 570.1,1847.4 570.3,1863.5 570.6,1851.3 570.8,1853.4 571,1868.8 571.3,1856.8 571.5,1866 571.8,1866.2 572,1880.1 572.2,1891.6 572.5,1871.8 572.7,1875.6 573,1884 573.2,1888.7 573.5,1889.1 573.7,1889.4 573.9,1893.9 574.2,1908.1 574.4,1884.8 574.7,1905.3 574.9,1895.9 575.1,1896.2 575.4,1891.7 575.6,1908.2 575.9,1884.1 576.1,1889 576.3,1888.2 576.6,1884 576.8,1901.9 577.1,1922.1 577.3,1892.3 577.5,1884 577.8,1885.5 578,1900.3 578.3,1896.8 578.5,1894 578.8,1912.6 579,1903.4 579.2,1904 579.5,1885.8 579.7,1906.1 580,1888.3 580.2,1902.9 580.4,1918.8 580.7,1886.9 580.9,1915.6 581.2,1903.6 581.4,1895.9 581.6,1916.6 581.9,1924.2 582.1,1906.7 582.4,1916.8 582.6,1929.5 582.8,1930.2 583.1,1926.3 583.3,1916.8 583.6,1929.2 583.8,1923.2 584.1,1916.7 584.3,1921.6 584.5,1921.8 584.8,1925.1 585,1950.1 645,1945.2 645.2,1931.9 645.5,1936.9 645.7,1934.3 646,1931.4 646.2,1918.8 646.4,1934.7 646.7,1925.4 646.9,1913.5 647.2,1926.1 647.4,1925.7 647.6,1903.6 647.9,1904.5 648.1,1901.6 648.4,1894.7 648.6,1899.8 648.8,1861.3 649.1,1890.5 649.3,1880.9 649.6,1884.8 649.8,1871.2 650.1,1849.3 650.3,1858.1 650.5,1848.7 650.8,1854.4 651,1830.3 651.3,1841.9 651.5,1852 651.7,1831.8 652,1840.6 652.2,1831.1 652.5,1835.2 652.7,1834.6 652.9,1836.9 653.2,1848.2 653.4,1855.9 653.7,1836.4 653.9,1849.7 654.1,1849.6 654.4,1860.2 654.6,1878.2 654.9,1875.9 655.1,1856.7 655.4,1880.5 655.6,1881.5 655.8,1895.6 656.1,1891.9 656.3,1895.1 656.6,1898.3 656.8,1901.3 657,1910.4 657.3,1914 657.5,1913.1 657.8,1914 658,1921.5 658.2,1908.9 658.5,1925 658.7,1928.3 659,1937.8 659.2,1926.2 659.4,1945.5 659.7,1952.4 659.9,1948.9 773.1,1938.1 773.4,1938.9 773.6,1933.3 773.9,1936.9 774.1,1929.8 774.3,1928.5 774.6,1933.4 774.8,1928.3 775.1,1921.8 775.3,1919.5 775.6,1916.3 775.8,1913 776,1916.1 776.3,1912.4 776.5,1918.8 776.8,1916.6 777,1904.5 777.2,1929.4 777.5,1908.8 777.7,1884.6 778,1927.2 778.2,1898.7 778.4,1926.8 778.7,1909.3 778.9,1899.4 779.2,1901.6 779.4,1923.2 779.6,1927.9 779.9,1930.6 780.1,1914 780.4,1925.1 780.6,1923.5 780.8,1923.3 781.1,1923.9 781.3,1924.8 781.6,1930.2 781.8,1946.6 782.1,1923 782.3,1959.7 782.5,1928.5 809.8,1936.2 810,1946.7 810.2,1948.6 810.5,1940.8 810.7,1918.4 811,1929.4 811.2,1933.2 811.4,1924.7 811.7,1919.6 811.9,1919.6 812.2,1933.3 812.4,1912.4 812.6,1913.7 812.9,1901.3 813.1,1916.9 813.4,1892.5 813.6,1902.2 813.9,1908.9 814.1,1878.4 814.3,1890.4 814.6,1878.4 814.8,1878.7 815.1,1863 815.3,1858.2 815.5,1853.3 815.8,1851.9 816,1867.8 816.3,1863.3 816.5,1840.9 816.7,1846 817,1827.7 817.2,1825 817.5,1834.1 817.7,1825.5 817.9,1821.5 818.2,1814.6 818.4,1804 818.7,1792 818.9,1782.7 819.1,1801.7 819.4,1796.1 819.6,1775.2 819.9,1780.9 820.1,1787.4 820.4,1812.5 820.6,1801.7 820.8,1793.2 821.1,1803.1 821.3,1782.6 821.6,1804.3 821.8,1806.9 822,1824.4 822.3,1828.8 822.5,1830.4 822.8,1835.3 823,1837 823.2,1836.8 823.5,1843.4 823.7,1841.7 824,1868.1 824.2,1859 824.4,1863.6 824.7,1856.4 824.9,1877.2 825.2,1876.9 825.4,1891.5 825.7,1884.8 825.9,1889.2 826.1,1902.2 826.4,1904.4 826.6,1904.5 826.9,1902.6 827.1,1920.8 827.3,1906.3 827.6,1919.5 827.8,1903.1 828.1,1909.2 828.3,1927.4 828.5,1931.3 828.8,1907.2 829,1924.6 829.3,1927 829.5,1937.1 829.7,1936.4 875.8,1948.8 876,1945.3 876.2,1954 876.5,1935.5 876.7,1941.7 877,1924.7 877.2,1923.1 877.4,1937.3 877.7,1931 877.9,1925 878.2,1916.5 878.4,1934.5 878.6,1918 878.9,1898.4 879.1,1911.9 879.4,1905.9 879.6,1904.4 879.9,1911.2 880.1,1888.9 880.3,1891 880.6,1887.9 880.8,1878.8 881.1,1873.9 881.3,1893.1 881.5,1867.2 881.8,1871.7 882,1859.8 882.3,1862 882.5,1857.7 882.7,1835.2 883,1837.7 883.2,1833.9 883.5,1827.4 883.7,1817.5 883.9,1811.8 884.2,1826.9 884.4,1806.4 884.7,1794 884.9,1778.3 885.2,1766.1 885.4,1781.3 885.6,1748.2 885.9,1759.8 886.1,1750.5 886.4,1755.1 886.6,1751.2 886.8,1727.7 887.1,1740.1 887.3,1736.3 887.6,1722.4 887.8,1716 888,1746.7 888.3,1734.9 888.5,1734.8 888.8,1719.9 889,1716.9 889.2,1744.8 889.5,1745.3 889.7,1745.7 890,1748.6 890.2,1768.3 890.5,1763.4 890.7,1784.4 890.9,1809.3 891.2,1803.7 891.4,1795.5 891.7,1796.9 891.9,1831.5 892.1,1833.7 892.4,1823.8 892.6,1860.5 892.9,1830.7 893.1,1832.4 893.3,1874.3 893.6,1846.2 893.8,1860.2 894.1,1851.2 894.3,1866.4 894.5,1875.9 894.8,1877.5 895,1874.9 895.3,1885.9 895.5,1891.4 895.7,1908.4 896,1895.5 896.2,1903.2 896.5,1891.2 896.7,1910.5 897,1914.4 897.2,1922.1 897.4,1913.6 897.7,1924.4 897.9,1931.4 898.2,1914.5 898.4,1915.6 898.6,1936.8 898.9,1943.9 899.1,1928 899.4,1946.5 899.6,1917.9 899.8,1944.3 900.1,1936.9 1024.4,1930.5 1024.6,1931.8 1024.9,1939.6 1025.1,1938.9 1025.3,1943 1025.6,1927.6 1025.8,1933.1 1026.1,1936.3 1026.3,1928 1026.5,1935.9 1026.8,1922.9 1027,1916.3 1027.3,1928.8 1027.5,1938.9 1027.8,1946.2 1028,1918.4 1028.2,1932.2 1028.5,1946.6 1028.7,1929.4 1029,1953 1211.1,1940.9 1211.3,1932 1211.5,1945.1 1211.8,1931.4 1212,1935.1 1212.3,1939.9 1212.5,1931.3 1212.7,1927 1213,1931.3 1213.2,1918 1213.5,1930.8 1213.7,1916.8 1214,1918.1 1214.2,1928.7 1214.4,1911.8 1214.7,1934.7 1214.9,1919.1 1215.2,1923.1 1215.4,1917.6 1215.6,1937.2 1215.9,1934.5 1216.1,1932.2 1216.4,1925.8 1216.6,1926.1 1216.8,1927.5 1217.1,1930.7 1217.3,1935.4 1217.6,1941.9 1217.8,1935.3 1218,1928.5 1218.3,1925.7 1218.5,1939.2 1218.8,1927.3 1219,1948 1219.3,1931.5 1219.5,1947.5 1219.7,1937.5 1220,1947.9"/>
<polyline fill="none" stroke="#d05c5c" stroke-width="9" stroke-opacity="0.45" stroke-linejoin="round" stroke-linecap="round" points="348.2,1956.5 349.9,1947.3 350.6,1944 351.1,1942.5 351.6,1941.6 352.1,1941.4 352.6,1942 353,1943.2 353.8,1946.1 355,1952.4"/>
<polyline fill="none" stroke="#d05c5c" stroke-width="9" stroke-opacity="0.45" stroke-linejoin="round" stroke-linecap="round" points="484.1,1951.4 484.8,1947 485.5,1941.6 486.3,1935.1 486.7,1930 487.2,1924.2 487.7,1917.7 488.2,1910.3 488.7,1902 489.1,1892.8 489.6,1882.6 490.1,1871.3 490.6,1859.2 491.1,1846.2 492.3,1812.1 492.8,1799.2 493,1793.2 493.2,1787.7 493.5,1782.9 493.7,1778.7 494,1775.3 494.2,1772.9 494.4,1771.4 494.7,1770.8 494.9,1771.3 495.2,1772.8 495.4,1775.2 495.6,1778.5 495.9,1782.6 496.1,1787.4 496.4,1792.9 496.6,1798.8 497.1,1811.6 498.3,1845.4 498.8,1858.3 499.3,1870.4 499.7,1881.5 500.2,1891.7 500.7,1900.8 501.2,1909 501.7,1916.2 502.2,1922.7 502.6,1928.3 503.1,1933.3 503.8,1939.7 504.6,1944.9 505.3,1949.2"/>
<polyline fill="none" stroke="#d05c5c" stroke-width="9" stroke-opacity="0.45" stroke-linejoin="round" stroke-linecap="round" points="540.5,1950.7 541.9,1945.9 543.1,1941 544.3,1935.1 545.3,1929.5 546,1924.5 546.7,1918.8 547.4,1912.2 548.2,1904.5 548.6,1898.6 549.1,1892 549.6,1884.6 550.1,1876.2 550.6,1866.7 550.8,1861.5 551.1,1856 551.3,1850 551.5,1843.7 551.8,1836.9 552,1829.7 552.3,1822 552.5,1813.8 552.7,1805.1 553,1795.8 553.2,1785.8 553.5,1775.3 553.7,1764.1 553.9,1752.1 554.2,1739.5 554.4,1726.1 554.7,1711.9 554.9,1696.9 555.1,1681 555.4,1664.4 555.6,1646.9 555.9,1628.5 556.1,1609.4 556.3,1589.4 556.6,1568.7 556.8,1547.3 557.1,1525.3 557.3,1502.8 558,1434 558.3,1411.4 558.5,1389.3 558.8,1368.2 559,1348.3 559.2,1330.1 559.5,1313.8 559.7,1299.9 560,1288.7 560.2,1280.4 560.4,1275.3 560.7,1273.6 560.9,1275.2 561.2,1280.2 561.4,1288.3 561.6,1299.4 561.9,1313.2 562.1,1329.3 562.4,1347.4 562.6,1367.2 562.9,1388.2 563.1,1410.1 563.6,1455.4 564.1,1500.9 564.3,1523.3 564.5,1545.1 564.8,1566.3 565,1586.9 565.3,1606.7 565.5,1625.7 565.7,1643.8 566,1661.1 566.2,1677.6 566.5,1693.2 566.7,1708 566.9,1722 567.2,1735.2 567.4,1747.6 567.7,1759.3 567.9,1770.2 568.2,1780.5 568.4,1790.1 568.6,1799.1 568.9,1807.5 569.1,1815.4 569.4,1822.7 569.6,1829.5 569.8,1835.9 570.1,1841.8 570.3,1847.2 570.6,1852.3 570.8,1857 571,1861.4 571.3,1865.4 571.8,1872.6 572.2,1878.6 572.7,1883.7 573.2,1887.9 573.7,1891.3 574.2,1894.1 574.9,1897.1 575.6,1898.9 576.6,1900 578.3,1900.9 579,1902.1 579.7,1904.3 580.4,1907.8 581.2,1912.2 582.4,1921.1 583.8,1931.9 585,1939.9 586,1945.3 587.2,1951"/>
<polyline fill="none" stroke="#d05c5c" stroke-width="9" stroke-opacity="0.45" stroke-linejoin="round" stroke-linecap="round" points="643.3,1951.3 644,1946.5 644.8,1940.8 645.5,1934 646.2,1926 646.7,1919.9 647.2,1913.3 647.9,1902.1 648.6,1889.7 650.1,1863.5 650.5,1855.4 650.8,1851.7 651,1848.3 651.3,1845.3 651.5,1842.8 651.7,1840.7 652,1839.2 652.2,1838.3 652.5,1838 652.7,1838.4 652.9,1839.3 653.2,1840.8 653.4,1842.8 653.7,1845.4 653.9,1848.4 654.1,1851.8 654.6,1859.5 655.4,1872.4 656.3,1890 657,1902.4 657.8,1913.6 658.2,1920.4 658.7,1926.5 659.4,1934.6 660.2,1941.4 660.9,1947.2 661.6,1952"/>
<polyline fill="none" stroke="#d05c5c" stroke-width="9" stroke-opacity="0.45" stroke-linejoin="round" stroke-linecap="round" points="771.5,1950.7 772.4,1944.4 773.6,1935.3 775.3,1921.9 776,1917 776.5,1914.3 777,1912.5 777.5,1911.5 778,1911.4 778.4,1912.3 778.9,1914 779.4,1916.5 780.1,1921.2 782.5,1939.5 783.5,1946 784.5,1951.5"/>
<polyline fill="none" stroke="#d05c5c" stroke-width="9" stroke-opacity="0.45" stroke-linejoin="round" stroke-linecap="round" points="807.3,1953.4 808.3,1948.9 809,1944.9 809.8,1940.1 810.5,1934.5 811.2,1927.9 811.9,1920.1 812.6,1911.1 813.1,1904.4 813.6,1897 814.1,1889 814.6,1880.3 815.3,1866.2 816.3,1846 817.2,1825.6 817.7,1816.2 817.9,1811.8 818.2,1807.8 818.4,1804.1 818.7,1800.9 818.9,1798.2 819.1,1796.1 819.4,1794.5 819.6,1793.6 819.9,1793.2 820.1,1793.6 820.4,1794.5 820.6,1796.1 820.8,1798.2 821.1,1800.9 821.3,1804.1 821.6,1807.8 821.8,1811.8 822.3,1820.8 823,1835.7 824.2,1861.3 824.9,1875.8 825.4,1884.8 825.9,1893.1 826.4,1900.8 826.9,1907.9 827.3,1914.4 828.1,1923 828.8,1930.3 829.5,1936.6 830.2,1942 831,1946.5 831.9,1951.5"/>
<polyline fill="none" stroke="#d05c5c" stroke-width="9" stroke-opacity="0.45" stroke-linejoin="round" stroke-linecap="round" points="873.8,1949.7 874.8,1945.1 875.8,1939.4 876.5,1934.3 877.2,1928.3 877.9,1921.3 878.6,1913.2 879.1,1907 879.6,1900.3 880.1,1892.8 880.6,1884.6 881.1,1875.7 881.5,1866.1 882,1855.6 882.5,1844.5 883,1832.6 883.7,1813.8 884.9,1781.5 885.4,1769.2 885.6,1763.3 885.9,1757.8 886.1,1752.7 886.4,1748.1 886.6,1743.9 886.8,1740.4 887.1,1737.5 887.3,1735.2 887.6,1733.7 887.8,1733 888,1733 888.3,1733.7 888.5,1735.3 888.8,1737.5 889,1740.4 889.2,1744 889.5,1748.2 889.7,1752.8 890,1758 890.2,1763.5 890.7,1775.4 891.4,1794.6 892.4,1820.5 893.1,1838.9 893.6,1850.5 894.1,1861.3 894.5,1871.4 895,1880.7 895.5,1889.2 896,1897.1 896.5,1904.2 897,1910.7 897.7,1919.3 898.4,1926.7 899.1,1933 899.8,1938.4 900.6,1943.1 901.5,1948.3 902.5,1952.5"/>
<polyline fill="none" stroke="#d05c5c" stroke-width="9" stroke-opacity="0.45" stroke-linejoin="round" stroke-linecap="round" points="1021.2,1951.7 1023.7,1942.2 1024.6,1939.2 1025.6,1937.1 1026.3,1936.4 1027,1936.5 1027.8,1937.3 1028.7,1939.3 1030.2,1943.7 1032.6,1951.6"/>
<polyline fill="none" stroke="#d05c5c" stroke-width="9" stroke-opacity="0.45" stroke-linejoin="round" stroke-linecap="round" points="1207.2,1955.2 1208.9,1948.6 1212,1935.3 1213.2,1931 1214.2,1928.6 1214.9,1927.6 1215.6,1927.3 1216.4,1927.9 1217.1,1929.2 1218,1931.9 1219.3,1936.4 1222.6,1951"/>
<polyline fill="none" stroke="#a81c1c" stroke-width="2.5" stroke-linejoin="round" points="252.6,1985.7 309.9,1985.1 325.8,1984.2 333.3,1983 337.4,1981.4 340,1979.6 342,1977.3 343.4,1974.7 344.6,1971.7 345.8,1967.7 347,1962.6 348.2,1956.5 349.9,1947.3 350.6,1944 351.1,1942.5 351.6,1941.6 352.1,1941.4 352.6,1942 353,1943.2 353.8,1946.1 355,1952.4 356.4,1960.2 357.6,1965.7 358.8,1970.1 360,1973.5 361.5,1976.4 363.2,1978.7 365.6,1980.7 369.2,1982.3 375.4,1983.6 387.7,1984.4 415.2,1984.4 440.7,1983.4 454.9,1981.9 463.4,1980.1 468.9,1978 473,1975.5 475.9,1972.7 478.1,1969.7 479.7,1966.6 481.2,1963 482.4,1959.1 483.4,1955.1 484.1,1951.4 484.8,1947 485.5,1941.6 486.3,1935.1 486.7,1930 487.2,1924.2 487.7,1917.7 488.2,1910.3 488.7,1902 489.1,1892.8 489.6,1882.6 490.1,1871.3 490.6,1859.2 491.1,1846.2 492.3,1812.1 492.8,1799.2 493,1793.2 493.2,1787.7 493.5,1782.9 493.7,1778.7 494,1775.3 494.2,1772.9 494.4,1771.4 494.7,1770.8 494.9,1771.3 495.2,1772.8 495.4,1775.2 495.6,1778.5 495.9,1782.6 496.1,1787.4 496.4,1792.9 496.6,1798.8 497.1,1811.6 498.3,1845.4 498.8,1858.3 499.3,1870.4 499.7,1881.5 500.2,1891.7 500.7,1900.8 501.2,1909 501.7,1916.2 502.2,1922.7 502.6,1928.3 503.1,1933.3 503.8,1939.7 504.6,1944.9 505.3,1949.2 506.2,1953.7 507.2,1957.2 508.4,1960.7 509.9,1963.7 511.8,1966.5 514.2,1968.8 517.1,1970.3 520.7,1970.8 524.6,1970.3 528.2,1968.7 531.5,1966.2 534.4,1962.9 536.8,1959.2 538.8,1955.1 540.5,1950.7 541.9,1945.9 543.1,1941 544.3,1935.1 545.3,1929.5 546,1924.5 546.7,1918.8 547.4,1912.2 548.2,1904.5 548.6,1898.6 549.1,1892 549.6,1884.6 550.1,1876.2 550.6,1866.7 550.8,1861.5 551.1,1856 551.3,1850 551.5,1843.7 551.8,1836.9 552,1829.7 552.3,1822 552.5,1813.8 552.7,1805.1 553,1795.8 553.2,1785.8 553.5,1775.3 553.7,1764.1 553.9,1752.1 554.2,1739.5 554.4,1726.1 554.7,1711.9 554.9,1696.9 555.1,1681 555.4,1664.4 555.6,1646.9 555.9,1628.5 556.1,1609.4 556.3,1589.4 556.6,1568.7 556.8,1547.3 557.1,1525.3 557.3,1502.8 558,1434 558.3,1411.4 558.5,1389.3 558.8,1368.2 559,1348.3 559.2,1330.1 559.5,1313.8 559.7,1299.9 560,1288.7 560.2,1280.4 560.4,1275.3 560.7,1273.6 560.9,1275.2 561.2,1280.2 561.4,1288.3 561.6,1299.4 561.9,1313.2 562.1,1329.3 562.4,1347.4 562.6,1367.2 562.9,1388.2 563.1,1410.1 563.6,1455.4 564.1,1500.9 564.3,1523.3 564.5,1545.1 564.8,1566.3 565,1586.9 565.3,1606.7 565.5,1625.7 565.7,1643.8 566,1661.1 566.2,1677.6 566.5,1693.2 566.7,1708 566.9,1722 567.2,1735.2 567.4,1747.6 567.7,1759.3 567.9,1770.2 568.2,1780.5 568.4,1790.1 568.6,1799.1 568.9,1807.5 569.1,1815.4 569.4,1822.7 569.6,1829.5 569.8,1835.9 570.1,1841.8 570.3,1847.2 570.6,1852.3 570.8,1857 571,1861.4 571.3,1865.4 571.8,1872.6 572.2,1878.6 572.7,1883.7 573.2,1887.9 573.7,1891.3 574.2,1894.1 574.9,1897.1 575.6,1898.9 576.6,1900 578.3,1900.9 579,1902.1 579.7,1904.3 580.4,1907.8 581.2,1912.2 582.4,1921.1 583.8,1931.9 585,1939.9 586,1945.3 587.2,1951 588.4,1955.5 589.8,1959.8 591.5,1963.5 593.7,1967 596.3,1970 599.9,1972.9 604.8,1975.3 610.8,1977 617.8,1977.8 624.3,1977.5 629.3,1976.3 632.9,1974.5 635.6,1972.2 637.8,1969.3 639.5,1966.1 640.7,1962.9 641.6,1959.5 642.6,1955.3 643.3,1951.3 644,1946.5 644.8,1940.8 645.5,1934 646.2,1926 646.7,1919.9 647.2,1913.3 647.9,1902.1 648.6,1889.7 650.1,1863.5 650.5,1855.4 650.8,1851.7 651,1848.3 651.3,1845.3 651.5,1842.8 651.7,1840.7 652,1839.2 652.2,1838.3 652.5,1838 652.7,1838.4 652.9,1839.3 653.2,1840.8 653.4,1842.8 653.7,1845.4 653.9,1848.4 654.1,1851.8 654.6,1859.5 655.4,1872.4 656.3,1890 657,1902.4 657.8,1913.6 658.2,1920.4 658.7,1926.5 659.4,1934.6 660.2,1941.4 660.9,1947.2 661.6,1952 662.3,1956 663.3,1960.3 664.5,1964.5 666,1968.2 667.6,1971.2 669.8,1974 672.7,1976.5 676.8,1978.8 682.6,1980.5 689.6,1981.3 694.9,1981 701.4,1979.4 704,1979.9 710,1982 716.8,1982.8 731.7,1982.9 745.2,1982 753.1,1980.5 758.2,1978.7 761.6,1976.5 764,1974.1 765.7,1971.5 767.1,1968.4 768.3,1965 769.5,1960.5 770.5,1956.1 771.5,1950.7 772.4,1944.4 773.6,1935.3 775.3,1921.9 776,1917 776.5,1914.3 777,1912.5 777.5,1911.5 778,1911.4 778.4,1912.3 778.9,1914 779.4,1916.5 780.1,1921.2 782.5,1939.5 783.5,1946 784.5,1951.5 785.4,1956.1 786.4,1959.8 787.6,1963.4 788.8,1966 790.2,1968.2 792.2,1969.8 794.3,1970.5 797,1970.2 799.6,1968.8 801.8,1966.6 803.7,1963.6 805.2,1960.4 806.4,1956.9 807.3,1953.4 808.3,1948.9 809,1944.9 809.8,1940.1 810.5,1934.5 811.2,1927.9 811.9,1920.1 812.6,1911.1 813.1,1904.4 813.6,1897 814.1,1889 814.6,1880.3 815.3,1866.2 816.3,1846 817.2,1825.6 817.7,1816.2 817.9,1811.8 818.2,1807.8 818.4,1804.1 818.7,1800.9 818.9,1798.2 819.1,1796.1 819.4,1794.5 819.6,1793.6 819.9,1793.2 820.1,1793.6 820.4,1794.5 820.6,1796.1 820.8,1798.2 821.1,1800.9 821.3,1804.1 821.6,1807.8 821.8,1811.8 822.3,1820.8 823,1835.7 824.2,1861.3 824.9,1875.8 825.4,1884.8 825.9,1893.1 826.4,1900.8 826.9,1907.9 827.3,1914.4 828.1,1923 828.8,1930.3 829.5,1936.6 830.2,1942 831,1946.5 831.9,1951.5 832.9,1955.5 834.1,1959.5 835.5,1963.1 837.2,1966.2 839.4,1969.1 842.3,1971.6 845.9,1973.5 850.2,1974.4 854.8,1974.2 859.1,1973 862.7,1970.9 865.6,1968.3 868,1965.1 870,1961.6 871.4,1958.1 872.6,1954.4 873.8,1949.7 874.8,1945.1 875.8,1939.4 876.5,1934.3 877.2,1928.3 877.9,1921.3 878.6,1913.2 879.1,1907 879.6,1900.3 880.1,1892.8 880.6,1884.6 881.1,1875.7 881.5,1866.1 882,1855.6 882.5,1844.5 883,1832.6 883.7,1813.8 884.9,1781.5 885.4,1769.2 885.6,1763.3 885.9,1757.8 886.1,1752.7 886.4,1748.1 886.6,1743.9 886.8,1740.4 887.1,1737.5 887.3,1735.2 887.6,1733.7 887.8,1733 888,1733 888.3,1733.7 888.5,1735.3 888.8,1737.5 889,1740.4 889.2,1744 889.5,1748.2 889.7,1752.8 890,1758 890.2,1763.5 890.7,1775.4 891.4,1794.6 892.4,1820.5 893.1,1838.9 893.6,1850.5 894.1,1861.3 894.5,1871.4 895,1880.7 895.5,1889.2 896,1897.1 896.5,1904.2 897,1910.7 897.7,1919.3 898.4,1926.7 899.1,1933 899.8,1938.4 900.6,1943.1 901.5,1948.3 902.5,1952.5 903.7,1956.8 905.1,1960.9 906.8,1964.5 909,1968 911.6,1971 914.5,1973.2 917.7,1974.4 921,1974.5 925.1,1974.2 927.5,1975 933.6,1978.9 938.1,1980.7 945.6,1981.9 957.9,1982.5 968,1981.9 973.6,1980.8 977.2,1979.1 979.8,1976.8 982,1974 984.4,1969.7 987,1964.6 988.2,1963.1 989.2,1962.8 990.4,1963.4 991.9,1965.5 995.5,1971.9 997.6,1974.7 1000.1,1976.6 1002.9,1977.6 1006.1,1977.5 1009.2,1976.4 1011.9,1974.4 1014,1971.7 1015.9,1968.2 1017.6,1964.1 1019.3,1958.9 1021.2,1951.7 1023.7,1942.2 1024.6,1939.2 1025.6,1937.1 1026.3,1936.4 1027,1936.5 1027.8,1937.3 1028.7,1939.3 1030.2,1943.7 1032.6,1951.6 1034.3,1956.2 1035.9,1959.7 1039.8,1965.8 1044.6,1972.9 1047.5,1976.1 1050.9,1978.6 1055,1980.3 1060.8,1981.4 1067,1981.4 1071.6,1980.5 1075.2,1978.8 1078.1,1976.4 1083.9,1969.6 1085.6,1968.6 1087,1968.9 1088.7,1970.2 1094,1976.8 1097.1,1979.6 1100.7,1981.5 1106,1982.9 1116.2,1983.9 1135.7,1984.2 1152,1983.4 1160.5,1982.2 1165.3,1980.6 1168.7,1978.5 1171.6,1975.6 1174.7,1971.3 1177.6,1967 1179.3,1965.5 1180.7,1965.3 1182.4,1966.3 1187.7,1972.4 1190.3,1974.3 1193,1975 1195.6,1974.7 1198.1,1973.4 1200.2,1971.2 1202.1,1968.4 1203.8,1965 1205.5,1960.6 1207.2,1955.2 1208.9,1948.6 1212,1935.3 1213.2,1931 1214.2,1928.6 1214.9,1927.6 1215.6,1927.3 1216.4,1927.9 1217.1,1929.2 1218,1931.9 1219.3,1936.4 1222.6,1951 1224.3,1957.3 1226,1962.6 1227.7,1966.8 1229.6,1970.6 1231.8,1973.6 1234.4,1976.2 1238,1978.3 1242.9,1979.9 1248.9,1980.5 1254.2,1980 1258.3,1978.7 1261.6,1976.6 1264.5,1973.7 1267.9,1969 1271,1964.5 1272.7,1962.9 1274.2,1962.6 1275.6,1963.4 1277.5,1965.7 1282.6,1973.4 1285.5,1976.8 1288.6,1979.3 1292.7,1981.4 1298.7,1982.9 1309.8,1984.1 1329.6,1984.5 1343.1,1984 1350.5,1982.8 1359.4,1980.3 1363.1,1980.4 1372.5,1982.3 1379,1982.4 1384.7,1981.4 1389.1,1979.7 1392.4,1977.3 1395.3,1974.3 1398.2,1970.1 1403,1962 1404.7,1959.9 1406.2,1959.2 1407.6,1959.6 1409.3,1961.3 1412,1965.7 1415.6,1971.8 1418.5,1975.6 1421.6,1978.6 1425.4,1980.9 1430.7,1982.7 1439.7,1984.1 1457,1985.1"/>
<polyline fill="none" stroke="#a81c1c" stroke-width="3.8" stroke-linejoin="round" stroke-linecap="round" points="252.6,1985.7 309.9,1985.1 325.8,1984.2 333.3,1983 337.4,1981.4 340,1979.6 342,1977.3 343.4,1974.7 344.6,1971.7 345.8,1967.7 347,1962.6 348.2,1956.5 349.9,1947.3"/>
<polyline fill="none" stroke="#a81c1c" stroke-width="3.8" stroke-linejoin="round" stroke-linecap="round" points="353.8,1946.1 355,1952.4 356.4,1960.2 357.6,1965.7 358.8,1970.1 360,1973.5 361.5,1976.4 363.2,1978.7 365.6,1980.7 369.2,1982.3 375.4,1983.6 387.7,1984.4 415.2,1984.4 440.7,1983.4 454.9,1981.9 463.4,1980.1 468.9,1978 473,1975.5 475.9,1972.7 478.1,1969.7 479.7,1966.6 481.2,1963 482.4,1959.1 483.4,1955.1 484.1,1951.4 484.8,1947"/>
<polyline fill="none" stroke="#a81c1c" stroke-width="3.8" stroke-linejoin="round" stroke-linecap="round" points="504.6,1944.9 505.3,1949.2 506.2,1953.7 507.2,1957.2 508.4,1960.7 509.9,1963.7 511.8,1966.5 514.2,1968.8 517.1,1970.3 520.7,1970.8 524.6,1970.3 528.2,1968.7 531.5,1966.2 534.4,1962.9 536.8,1959.2 538.8,1955.1 540.5,1950.7 541.9,1945.9"/>
<polyline fill="none" stroke="#a81c1c" stroke-width="3.8" stroke-linejoin="round" stroke-linecap="round" points="586,1945.3 587.2,1951 588.4,1955.5 589.8,1959.8 591.5,1963.5 593.7,1967 596.3,1970 599.9,1972.9 604.8,1975.3 610.8,1977 617.8,1977.8 624.3,1977.5 629.3,1976.3 632.9,1974.5 635.6,1972.2 637.8,1969.3 639.5,1966.1 640.7,1962.9 641.6,1959.5 642.6,1955.3 643.3,1951.3 644,1946.5"/>
<polyline fill="none" stroke="#a81c1c" stroke-width="3.8" stroke-linejoin="round" stroke-linecap="round" points="660.9,1947.2 661.6,1952 662.3,1956 663.3,1960.3 664.5,1964.5 666,1968.2 667.6,1971.2 669.8,1974 672.7,1976.5 676.8,1978.8 682.6,1980.5 689.6,1981.3 694.9,1981 701.4,1979.4 704,1979.9 710,1982 716.8,1982.8 731.7,1982.9 745.2,1982 753.1,1980.5 758.2,1978.7 761.6,1976.5 764,1974.1 765.7,1971.5 767.1,1968.4 768.3,1965 769.5,1960.5 770.5,1956.1 771.5,1950.7 772.4,1944.4"/>
<polyline fill="none" stroke="#a81c1c" stroke-width="3.8" stroke-linejoin="round" stroke-linecap="round" points="783.5,1946 784.5,1951.5 785.4,1956.1 786.4,1959.8 787.6,1963.4 788.8,1966 790.2,1968.2 792.2,1969.8 794.3,1970.5 797,1970.2 799.6,1968.8 801.8,1966.6 803.7,1963.6 805.2,1960.4 806.4,1956.9 807.3,1953.4 808.3,1948.9"/>
<polyline fill="none" stroke="#a81c1c" stroke-width="3.8" stroke-linejoin="round" stroke-linecap="round" points="831,1946.5 831.9,1951.5 832.9,1955.5 834.1,1959.5 835.5,1963.1 837.2,1966.2 839.4,1969.1 842.3,1971.6 845.9,1973.5 850.2,1974.4 854.8,1974.2 859.1,1973 862.7,1970.9 865.6,1968.3 868,1965.1 870,1961.6 871.4,1958.1 872.6,1954.4 873.8,1949.7 874.8,1945.1"/>
<polyline fill="none" stroke="#a81c1c" stroke-width="3.8" stroke-linejoin="round" stroke-linecap="round" points="901.5,1948.3 902.5,1952.5 903.7,1956.8 905.1,1960.9 906.8,1964.5 909,1968 911.6,1971 914.5,1973.2 917.7,1974.4 921,1974.5 925.1,1974.2 927.5,1975 933.6,1978.9 938.1,1980.7 945.6,1981.9 957.9,1982.5 968,1981.9 973.6,1980.8 977.2,1979.1 979.8,1976.8 982,1974 984.4,1969.7 987,1964.6 988.2,1963.1 989.2,1962.8 990.4,1963.4 991.9,1965.5 995.5,1971.9 997.6,1974.7 1000.1,1976.6 1002.9,1977.6 1006.1,1977.5 1009.2,1976.4 1011.9,1974.4 1014,1971.7 1015.9,1968.2 1017.6,1964.1 1019.3,1958.9 1021.2,1951.7 1023.7,1942.2"/>
<polyline fill="none" stroke="#a81c1c" stroke-width="3.8" stroke-linejoin="round" stroke-linecap="round" points="1030.2,1943.7 1032.6,1951.6 1034.3,1956.2 1035.9,1959.7 1039.8,1965.8 1044.6,1972.9 1047.5,1976.1 1050.9,1978.6 1055,1980.3 1060.8,1981.4 1067,1981.4 1071.6,1980.5 1075.2,1978.8 1078.1,1976.4 1083.9,1969.6 1085.6,1968.6 1087,1968.9 1088.7,1970.2 1094,1976.8 1097.1,1979.6 1100.7,1981.5 1106,1982.9 1116.2,1983.9 1135.7,1984.2 1152,1983.4 1160.5,1982.2 1165.3,1980.6 1168.7,1978.5 1171.6,1975.6 1174.7,1971.3 1177.6,1967 1179.3,1965.5 1180.7,1965.3 1182.4,1966.3 1187.7,1972.4 1190.3,1974.3 1193,1975 1195.6,1974.7 1198.1,1973.4 1200.2,1971.2 1202.1,1968.4 1203.8,1965 1205.5,1960.6 1207.2,1955.2 1208.9,1948.6"/>
<polyline fill="none" stroke="#a81c1c" stroke-width="3.8" stroke-linejoin="round" stroke-linecap="round" points="1219.3,1936.4 1222.6,1951 1224.3,1957.3 1226,1962.6 1227.7,1966.8 1229.6,1970.6 1231.8,1973.6 1234.4,1976.2 1238,1978.3 1242.9,1979.9 1248.9,1980.5 1254.2,1980 1258.3,1978.7 1261.6,1976.6 1264.5,1973.7 1267.9,1969 1271,1964.5 1272.7,1962.9 1274.2,1962.6 1275.6,1963.4 1277.5,1965.7 1282.6,1973.4 1285.5,1976.8 1288.6,1979.3 1292.7,1981.4 1298.7,1982.9 1309.8,1984.1 1329.6,1984.5 1343.1,1984 1350.5,1982.8 1359.4,1980.3 1363.1,1980.4 1372.5,1982.3 1379,1982.4 1384.7,1981.4 1389.1,1979.7 1392.4,1977.3 1395.3,1974.3 1398.2,1970.1 1403,1962 1404.7,1959.9 1406.2,1959.2 1407.6,1959.6 1409.3,1961.3 1412,1965.7 1415.6,1971.8 1418.5,1975.6 1421.6,1978.6 1425.4,1980.9 1430.7,1982.7 1439.7,1984.1 1457,1985.1"/>
<polyline fill="none" stroke="#0a0ae6" stroke-width="4.0" stroke-linejoin="round" points="252.6,2067.7 252.8,2062.7 253.1,2063.6 253.3,2071.1 253.6,2070.6 253.8,2071.9 254,2067.8 254.3,2070.7 254.5,2067.8 254.8,2078.7 255,2065.1 255.2,2072.1 255.5,2069.3 255.7,2072.9 256,2074.2 256.2,2071.1 256.5,2069.9 256.7,2074.4 256.9,2074.5 257.2,2071.3 257.4,2077.9 257.7,2080.8 257.9,2073.2 258.1,2077.7 258.4,2083 258.6,2078.6 258.9,2077.3 259.1,2080.3 259.3,2081.5 259.6,2075.3 259.8,2071.7 260.1,2076.3 260.3,2078.3 260.5,2073.6 260.8,2072.1 261,2076.2 261.3,2072.6 261.5,2070.4 261.8,2075.4 262,2077.7 262.2,2072.8 262.5,2073.1 262.7,2069.5 263,2079.1 263.2,2076.4 263.4,2077.1 263.7,2080.7 263.9,2073.2 264.2,2071.7 264.4,2077 264.6,2068.5 264.9,2071.1 265.1,2072.1 265.4,2073.3 265.6,2071.3 265.8,2080.9 266.1,2073.3 266.3,2073.5 266.6,2083.4 266.8,2074.9 267.1,2077.4 267.3,2073.2 267.5,2078.1 267.8,2076.3 268,2074.7 268.3,2079.4 268.5,2073.2 268.7,2075.8 269,2073 269.2,2076.9 269.5,2070.1 269.7,2071.8 269.9,2074.8 270.2,2071.4 270.4,2068.8 270.7,2066.6 270.9,2080.4 271.1,2070.4 271.4,2072.3 271.6,2074.7 271.9,2078.6 272.1,2069.6 272.4,2080.1 272.6,2072.9 272.8,2070.1 273.1,2082.1 273.3,2077.1 273.6,2081.4 273.8,2075.2 274,2070.2 274.3,2068.3 274.5,2084 274.8,2079.2 275,2074 275.2,2070.5 275.5,2075.2 275.7,2079.9 276,2075.6 276.2,2076.8 276.4,2077.4 276.7,2079.4 276.9,2074.6 277.2,2074.8 277.4,2076.2 277.7,2076.6 277.9,2080.9 278.1,2077.6 278.4,2070.6 278.6,2076.4 278.9,2081.5 279.1,2070.3 279.3,2073.7 279.6,2067.3 279.8,2075.8 280.1,2078 280.3,2082.2 280.5,2070.9 280.8,2065.9 281,2079.8 281.3,2079.2 281.5,2074.2 281.7,2080.2 282,2078.1 282.2,2078.6 282.5,2076.7 282.7,2073.2 283,2077.9 283.2,2074.5 283.4,2080.2 283.7,2077.3 283.9,2087.5 284.2,2084.8 284.4,2075.8 284.6,2081.5 284.9,2076.7 285.1,2076.9 285.4,2073.8 285.6,2075.9 285.8,2075.1 286.1,2079.7 286.3,2082.1 286.6,2082.3 286.8,2081.2 287,2083.8 287.3,2081.3 287.5,2079.3 287.8,2077.7 288,2079.9 288.3,2086.2 288.5,2078.4 288.7,2076.9 289,2073.2 289.2,2075.1 289.5,2080 289.7,2080.1 289.9,2068.8 290.2,2073.8 290.4,2069.3 290.7,2067.9 290.9,2079.8 291.1,2074.7 291.4,2074.2 291.6,2073.5 291.9,2073.2 292.1,2074.3 292.3,2074.1 292.6,2080.6 292.8,2074.7 293.1,2076.7 293.3,2072.8 293.5,2074.9 293.8,2070.1 294,2069.1 294.3,2071 294.5,2070.8 294.8,2071.7 295,2073.8 295.2,2072.7 295.5,2074.1 295.7,2070.6 296,2072.3 296.2,2070.1 296.4,2078.1 296.7,2069.2 296.9,2076.1 297.2,2076.1 297.4,2074.1 297.6,2075.7 297.9,2072.3 298.1,2076 298.4,2078.1 298.6,2077.3 298.8,2068.5 299.1,2073.8 299.3,2078.8 299.6,2074.1 299.8,2080.6 300.1,2067 300.3,2080.7 300.5,2072.6 300.8,2072.5 301,2080.8 301.3,2073.7 301.5,2070.9 301.7,2073.2 302,2074 302.2,2071.2 302.5,2074.4 302.7,2073.5 302.9,2075.3 303.2,2072.1 303.4,2078.5 303.7,2071.3 303.9,2076.5 304.1,2078.8 304.4,2072.7 304.6,2067.2 304.9,2070.2 305.1,2076.2 305.4,2071.2 305.6,2075.9 305.8,2074.5 306.1,2073.7 306.3,2083.6 306.6,2073.4 306.8,2078.5 307,2077.2 307.3,2080.5 307.5,2080.8 307.8,2078.5 308,2071.3 308.2,2067.9 308.5,2074.9 308.7,2070.4 309,2076.1 309.2,2083 309.4,2074.8 309.7,2073.8 309.9,2077.7 310.2,2075 310.4,2074.2 310.7,2080.4 310.9,2083.2 311.1,2078.3 311.4,2078.5 311.6,2079.3 311.9,2073.9 312.1,2071 312.3,2079.9 312.6,2075.4 312.8,2074.4 313.1,2075.4 313.3,2074 313.5,2079.9 313.8,2075.3 314,2070.1 314.3,2075.1 314.5,2081 314.7,2076 315,2073.4 315.2,2077.1 315.5,2081 315.7,2072.5 316,2084.1 316.2,2077 316.4,2079.2 316.7,2084.1 316.9,2074.3 317.2,2077.9 317.4,2084.2 317.6,2077 317.9,2081.2 318.1,2087.3 318.4,2082.3 318.6,2078.4 318.8,2076.9 319.1,2078.8 319.3,2079.4 319.6,2077.7 319.8,2080.6 320,2075 320.3,2079.3 320.5,2078.8 320.8,2077.8 321,2084.4 321.3,2083 321.5,2073.7 321.7,2078.6 322,2081 322.2,2078.4 322.5,2081.7 322.7,2078.4 322.9,2082.2 323.2,2078.2 323.4,2085.8 323.7,2073.7 323.9,2081.3 324.1,2085.6 324.4,2080 324.6,2080.6 324.9,2078.5 325.1,2083.8 325.3,2077.5 325.6,2064.2 325.8,2084.6 326.1,2078 326.3,2080.7 326.6,2078.8 326.8,2087.1 327,2084.5 327.3,2077.9 327.5,2080.1 327.8,2073.2 328,2082.9 328.2,2079.3 328.5,2067.9 328.7,2083.1 329,2083.5 329.2,2079.8 329.4,2079.6 329.7,2075.7 329.9,2078.4 330.2,2081.7 330.4,2077.4 330.6,2067.1 330.9,2072.4 331.1,2089 331.4,2077.8 331.6,2080.6 331.8,2074.2 332.1,2077.3 332.3,2068.4 332.6,2072.5 332.8,2072.5 333.1,2075.3 333.3,2076.1 333.5,2074.4 333.8,2070.3 334,2073.3 334.3,2076.8 334.5,2069.9 334.7,2074.3 335,2075.3 335.2,2078.2 335.5,2077.2 335.7,2077.5 335.9,2086.5 336.2,2070.5 336.4,2072.4 336.7,2075.7 336.9,2070.4 337.1,2073 337.4,2073.2 337.6,2085.1 337.9,2075.7 338.1,2072.4 338.4,2067.7 338.6,2066.7 338.8,2068.3 339.1,2079.1 339.3,2083.4 339.6,2071.8 339.8,2074 340,2070.1 340.3,2074.8 340.5,2073.4 340.8,2080.8 341,2072.6 341.2,2076.5 341.5,2073.3 341.7,2072.9 342,2075.5 342.2,2073.7 342.4,2075.2 342.7,2072 342.9,2073.2 343.2,2077.9 343.4,2078.2 343.7,2068.3 343.9,2076.4 344.1,2071.9 344.4,2074.7 344.6,2079 344.9,2080.1 345.1,2076.5 345.3,2076.2 345.6,2074.8 345.8,2083.2 346.1,2080.5 346.3,2078.4 346.5,2071.1 346.8,2088.5 347,2076.2 347.3,2080.5 347.5,2076.2 347.7,2080.1 348,2076.2 348.2,2070.7 348.5,2075.9 348.7,2075.4 349,2075.4 349.2,2080.2 349.4,2074.2 349.7,2077.3 349.9,2079.8 350.2,2076.1 350.4,2076.7 350.6,2072 350.9,2075.4 351.1,2077.4 351.4,2068.2 351.6,2070.2 351.8,2068.8 352.1,2071.7 352.3,2074.8 352.6,2076.1 352.8,2075.4 353,2069.8 353.3,2073.5 353.5,2080.7 353.8,2074.2 354,2080.4 354.3,2073.3 354.5,2079.6 354.7,2079.9 355,2073.9 355.2,2074.9 355.5,2082.1 355.7,2071.5 355.9,2065.3 356.2,2081.6 356.4,2067 356.7,2078.1 356.9,2077.2 357.1,2075.8 357.4,2081.3 357.6,2069.2 357.9,2072.7 358.1,2078.1 358.3,2076 358.6,2081.4 358.8,2076.4 359.1,2070.9 359.3,2082.5 359.6,2077.2 359.8,2074.9 360,2071.3 360.3,2070.2 360.5,2078.2 360.8,2079.6 361,2074.8 361.2,2078.4 361.5,2078.4 361.7,2072.6 362,2070.1 362.2,2076.2 362.4,2078.2 362.7,2075 362.9,2085.5 363.2,2077.6 363.4,2082.1 363.6,2067.6 363.9,2074.8 364.1,2077.4 364.4,2079.1 364.6,2089.1 364.9,2075.8 365.1,2072.2 365.3,2082.4 365.6,2076.7 365.8,2076.7 366.1,2086.4 366.3,2076 366.5,2074.2 366.8,2078.9 367,2080 367.3,2076.3 367.5,2085.9 367.7,2078.8 368,2074.6 368.2,2084 368.5,2074.5 368.7,2080.2 368.9,2087 369.2,2078.7 369.4,2082.2 369.7,2076.8 369.9,2083 370.1,2073.8 370.4,2081.3 370.6,2076.8 370.9,2080.9 371.1,2079.8 371.4,2073.6 371.6,2077.8 371.8,2080.4 372.1,2084.1 372.3,2074.2 372.6,2076 372.8,2080.5 373,2078.1 373.3,2083.4 373.5,2083.3 373.8,2082.5 374,2077.5 374.2,2077.7 374.5,2081.9 374.7,2075.5 375,2075.2 375.2,2077.5 375.4,2073.7 375.7,2078.9 375.9,2077.9 376.2,2075.2 376.4,2077 376.7,2073.3 376.9,2081.5 377.1,2070.2 377.4,2079.2 377.6,2076.6 377.9,2081.6 378.1,2073.4 378.3,2070.8 378.6,2071.8 378.8,2073.1 379.1,2083.3 379.3,2080.4 379.5,2079.4 379.8,2081.7 380,2073.5 380.3,2077.7 380.5,2078.9 380.7,2077 381,2083.2 381.2,2083.2 381.5,2083.2 381.7,2077.6 382,2078.2 382.2,2077.2 382.4,2074.9 382.7,2084.8 382.9,2081.2 383.2,2077.9 383.4,2083.7 383.6,2079.9 383.9,2073 384.1,2072.3 384.4,2072 384.6,2076 384.8,2076.9 385.1,2071.5 385.3,2077.5 385.6,2074.7 385.8,2070.8 386,2078 386.3,2079.2 386.5,2076.9 386.8,2074.6 387,2075.2 387.3,2076.5 387.5,2074.8 387.7,2083.6 388,2080.4 388.2,2075.9 388.5,2080.2 388.7,2081.6 388.9,2080.9 389.2,2079.5 389.4,2076.3 389.7,2079.6 389.9,2074.4 390.1,2068.4 390.4,2076 390.6,2070.2 390.9,2074.3 391.1,2080.2 391.3,2076.7 391.6,2079.8 391.8,2072.6 392.1,2080.5 392.3,2070.3 392.6,2073.3 392.8,2084 393,2072.3 393.3,2069.1 393.5,2078.7 393.8,2071.3 394,2082.8 394.2,2074.3 394.5,2082.2 394.7,2073.3 395,2082.7 395.2,2086.2 395.4,2073.7 395.7,2065.8 395.9,2077.7 396.2,2071.8 396.4,2074.8 396.6,2076.6 396.9,2072.8 397.1,2068.6 397.4,2080.6 397.6,2073.4 397.9,2074.6 398.1,2082.2 398.3,2070 398.6,2069 398.8,2081.4 399.1,2070.7 399.3,2078 399.5,2079.3 399.8,2072.8 400,2078.4 400.3,2078.3 400.5,2073.6 400.7,2074.7 401,2076.4 401.2,2085.9 401.5,2086.6 401.7,2075.4 401.9,2083.8 402.2,2079.2 402.4,2084 402.7,2080.2 402.9,2084.5 403.1,2072.4 403.4,2083.2 403.6,2079.4 403.9,2079.6 404.1,2073.8 404.4,2084.6 404.6,2078.9 404.8,2079.6 405.1,2076.5 405.3,2076.7 405.6,2080.6 405.8,2077.6 406,2080 406.3,2076.4 406.5,2078.6 406.8,2080.7 407,2077.9 407.2,2076.1 407.5,2068.1 407.7,2079.2 408,2075.8 408.2,2070.8 408.4,2085.4 408.7,2083.9 408.9,2081.6 409.2,2077.3 409.4,2066.8 409.7,2075.4 409.9,2072.2 410.1,2078.3 410.4,2087.8 410.6,2087.3 410.9,2073.8 411.1,2077.3 411.3,2083.6 411.6,2073.7 411.8,2084.7 412.1,2073.7 412.3,2072.3 412.5,2081.4 412.8,2082.7 413,2074.6 413.3,2082.5 413.5,2074.3 413.7,2082.6 414,2074.3 414.2,2077.1 414.5,2079.3 414.7,2081.2 415,2076.5 415.2,2085.4 415.4,2078.9 415.7,2079.6 415.9,2075.4 416.2,2083.7 416.4,2071.8 416.6,2080.5 416.9,2084.3 417.1,2074.2 417.4,2073.4 417.6,2081.3 417.8,2084.5 418.1,2080.9 418.3,2083.9 418.6,2082.5 418.8,2074.8 419,2079.6 419.3,2080.5 419.5,2079.6 419.8,2081.1 420,2077.2 420.3,2076.9 420.5,2081.8 420.7,2079.6 421,2069.7 421.2,2077.6 421.5,2079.7 421.7,2070.1 421.9,2078.2 422.2,2082.4 422.4,2074.8 422.7,2081.1 422.9,2079.3 423.1,2075.8 423.4,2077.7 423.6,2080.5 423.9,2079.8 424.1,2080.3 424.3,2073.4 424.6,2081.6 424.8,2081.5 425.1,2071.2 425.3,2082.4 425.6,2074.4 425.8,2075.5 426,2081.9 426.3,2087.4 426.5,2079.9 426.8,2079.1 427,2078 427.2,2081.8 427.5,2077.1 427.7,2076.3 428,2086.4 428.2,2076 428.4,2081.1 428.7,2084 428.9,2082.8 429.2,2073.5 429.4,2077 429.6,2088.2 429.9,2080.3 430.1,2081 430.4,2081 430.6,2082.2 430.9,2086 431.1,2076.3 431.3,2083.7 431.6,2081.4 431.8,2082.4 432.1,2083 432.3,2077 432.5,2078.6 432.8,2083.1 433,2084.4 433.3,2082.6 433.5,2076.7 433.7,2080.3 434,2079.9 434.2,2082.3 434.5,2082.1 434.7,2080.1 434.9,2088.6 435.2,2074.2 435.4,2084.1 435.7,2083 435.9,2074.9 436.2,2079.3 436.4,2079.8 436.6,2082.1 436.9,2085.8 437.1,2078.3 437.4,2073.8 437.6,2082.2 437.8,2072.7 438.1,2082.8 438.3,2081.1 438.6,2075.8 438.8,2077.9 439,2075 439.3,2081 439.5,2082.1 439.8,2085.6 440,2082.9 440.2,2082.4 440.5,2083.8 440.7,2076.7 441,2080.8 441.2,2086.4 441.4,2067.9 441.7,2081.9 441.9,2083.8 442.2,2073.7 442.4,2074.2 442.7,2084 442.9,2085.5 443.1,2083.7 443.4,2074.9 443.6,2081 443.9,2083.2 444.1,2079.9 444.3,2074.8 444.6,2085.5 444.8,2081.3 445.1,2085.3 445.3,2070.4 445.5,2071.7 445.8,2075.1 446,2079.4 446.3,2075.9 446.5,2087.2 446.7,2077.1 447,2083.7 447.2,2083.5 447.5,2080.9 447.7,2079.4 448,2075.6 448.2,2075.2 448.4,2077.2 448.7,2082.4 448.9,2075.8 449.2,2079.3 449.4,2074.1 449.6,2083 449.9,2090.8 450.1,2081.5 450.4,2070.7 450.6,2077.8 450.8,2080.8 451.1,2076.4 451.3,2078.2 451.6,2078.5 451.8,2082.7 452,2080.4 452.3,2080.1 452.5,2083.8 452.8,2085.9 453,2080.8 453.3,2077.5 453.5,2079 453.7,2079.7 454,2079.8 454.2,2071.2 454.5,2081 454.7,2077.8 454.9,2074 455.2,2082 455.4,2081 455.7,2077.7 455.9,2074.9 456.1,2080.5 456.4,2080.2 456.6,2081.1 456.9,2086.4 457.1,2076.4 457.3,2081.9 457.6,2087.9 457.8,2081.1 458.1,2087.5 458.3,2084.3 458.6,2079.9 458.8,2083.7 459,2075.2 459.3,2085.8 459.5,2078.5 459.8,2077.2 460,2073.4 460.2,2075.6 460.5,2078.5 460.7,2079.1 461,2079.7 461.2,2074.7 461.4,2082.2 461.7,2077.3 461.9,2079.9 462.2,2078.5 462.4,2080.6 462.6,2070.5 462.9,2082.3 463.1,2078.4 463.4,2078.3 463.6,2076.8 463.9,2077.4 464.1,2077.4 464.3,2074.9 464.6,2085.3 464.8,2078.8 465.1,2084 465.3,2077.9 465.5,2083.9 465.8,2083.1 466,2079.6 466.3,2073.7 466.5,2077.5 466.7,2079.1 467,2074.8 467.2,2085.1 467.5,2090.3 467.7,2083.5 467.9,2083.1 468.2,2076.9 468.4,2073.2 468.7,2087.9 468.9,2071.7 469.2,2075.5 469.4,2078.5 469.6,2080.3 469.9,2071.3 470.1,2081 470.4,2083 470.6,2080.1 470.8,2086.2 471.1,2078 471.3,2080.1 471.6,2077.8 471.8,2077.4 472,2083.1 472.3,2072.8 472.5,2082.5 472.8,2074.3 473,2084.8 473.2,2076.4 473.5,2081.5 473.7,2077.9 474,2080.9 474.2,2087.6 474.5,2083.1 474.7,2078 474.9,2075.7 475.2,2084.7 475.4,2087.6 475.7,2082.2 475.9,2079.4 476.1,2081.2 476.4,2082.1 476.6,2074.9 476.9,2074.5 477.1,2075.5 477.3,2082.9 477.6,2078.6 477.8,2079.8 478.1,2085.1 478.3,2075 478.5,2078.3 478.8,2080.6 479,2072.1 479.3,2074.7 479.5,2074 479.7,2072.2 480,2074.1 480.2,2082.6 480.5,2078.7 480.7,2072.6 481,2080.4 481.2,2077.1 481.4,2075.7 481.7,2071.3 481.9,2072.2 482.2,2074.2 482.4,2079.2 482.6,2074.5 482.9,2076.4 483.1,2079.6 483.4,2072.9 483.6,2076.8 483.8,2082.4 484.1,2073.4 484.3,2080.2 484.6,2076.3 484.8,2085.9 485,2079.1 485.3,2083.2 485.5,2083.4 485.8,2087.6 486,2069.1 486.3,2079.6 486.5,2077.8 486.7,2073.7 487,2079.3 487.2,2076.3 487.5,2084.9 487.7,2077.5 487.9,2080.2 488.2,2075.8 488.4,2077.1 488.7,2084.4 488.9,2086.5 489.1,2082.4 489.4,2073.8 489.6,2075.2 489.9,2075.2 490.1,2086.8 490.3,2090.1 490.6,2080 490.8,2078.5 491.1,2079.9 491.3,2075.2 491.6,2077.9 491.8,2083.1 492,2081.8 492.3,2076.8 492.5,2077.3 492.8,2078.2 493,2066.4 493.2,2079.4 493.5,2077.6 493.7,2083.4 494,2080.2 494.2,2075.7 494.4,2075.7 494.7,2079.6 494.9,2077 495.2,2079.1 495.4,2089.5 495.6,2097 495.9,2068.8 496.1,2076.9 496.4,2082 496.6,2091 496.9,2089.1 497.1,2076.3 497.3,2097.6 497.6,2085.7 497.8,2080.2 498.1,2084.2 498.3,2081.6 498.5,2086.4 498.8,2074.4 499,2091.5 499.3,2093.4 499.5,2085.7 499.7,2080.3 500,2087.5 500.2,2082.3 500.5,2089.7 500.7,2092.7 500.9,2080.3 501.2,2079.3 501.4,2079.3 501.7,2088.3 501.9,2091.4 502.2,2091.2 502.4,2086.6 502.6,2082.7 502.9,2083 503.1,2091.9 503.4,2084.3 503.6,2085.1 503.8,2084.8 504.1,2085.3 504.3,2086.1 504.6,2082.5 504.8,2084.6 505,2084.2 505.3,2088.4 505.5,2083.6 505.8,2085.9 506,2094.9 506.2,2083.4 506.5,2086.8 506.7,2081.6 507,2086.5 507.2,2086.3 507.5,2085 507.7,2086 507.9,2088 508.2,2093.9 508.4,2077.8 508.7,2092.7 508.9,2087.1 509.1,2082.5 509.4,2083.5 509.6,2082.3 509.9,2081.1 510.1,2078.6 510.3,2082.6 510.6,2070.8 510.8,2087.7 511.1,2082.1 511.3,2084.5 511.5,2085.2 511.8,2081.5 512,2076.4 512.3,2085.9 512.5,2086 512.8,2079.7 513,2080.6 513.2,2074.4 513.5,2078.4 513.7,2081.7 514,2084 514.2,2081.4 514.4,2082.8 514.7,2087.6 514.9,2081.3 515.2,2081.7 515.4,2081.5 515.6,2082 515.9,2072.4 516.1,2076.4 516.4,2075.1 516.6,2081.7 516.8,2083.4 517.1,2080.1 517.3,2077.9 517.6,2080.5 517.8,2080 518,2075.2 518.3,2078.2 518.5,2083.9 518.8,2081.6 519,2082.7 519.3,2079.1 519.5,2084.8 519.7,2080.4 520,2076.5 520.2,2079.2 520.5,2083 520.7,2081.5 520.9,2078.1 521.2,2076.4 521.4,2074.7 521.7,2078.8 521.9,2083.7 522.1,2071.8 522.4,2076.6 522.6,2076.1 522.9,2076.5 523.1,2082.2 523.3,2079.1 523.6,2076.6 523.8,2073.1 524.1,2077.3 524.3,2091 524.6,2078.5 524.8,2076 525,2071.9 525.3,2074.5 525.5,2066.9 525.8,2071.6 526,2072.2 526.2,2074.2 526.5,2084.5 526.7,2075.2 527,2076.5 527.2,2081.7 527.4,2077.1 527.7,2078.1 527.9,2082.1 528.2,2080.7 528.4,2081.3 528.6,2079.2 528.9,2082.1 529.1,2077.9 529.4,2088.6 529.6,2081.5 529.9,2087.7 530.1,2082.5 530.3,2078.1 530.6,2080.3 530.8,2080.9 531.1,2080.1 531.3,2073.4 531.5,2085 531.8,2076.1 532,2086.5 532.3,2081.7 532.5,2078.7 532.7,2082.9 533,2078.1 533.2,2075.6 533.5,2083.9 533.7,2078.8 533.9,2080.1 534.2,2086.9 534.4,2079.2 534.7,2081.9 534.9,2072.5 535.2,2082.3 535.4,2071 535.6,2080.8 535.9,2069.9 536.1,2076 536.4,2076.3 536.6,2074.6 536.8,2074 537.1,2071.6 537.3,2070 537.6,2079.1 537.8,2083 538,2089.2 538.3,2079 538.5,2073.9 538.8,2075.6 539,2076.8 539.2,2079 539.5,2080.4 539.7,2079 540,2076.2 540.2,2086.2 540.5,2075.3 540.7,2085.4 540.9,2079.8 541.2,2082.3 541.4,2081.4 541.7,2084.7 541.9,2085.4 542.1,2081.5 542.4,2085.5 542.6,2069.5 542.9,2082.6 543.1,2083.8 543.3,2083.3 543.6,2085.6 543.8,2091.9 544.1,2081.8 544.3,2079.2 544.5,2087.4 544.8,2080.3 545,2085.8 545.3,2080.3 545.5,2078.3 545.8,2077.6 546,2077.8 546.2,2083 546.5,2075.6 546.7,2081.7 547,2078.1 547.2,2076.5 547.4,2081.3 547.7,2086 547.9,2077.2 548.2,2085.5 548.4,2084.6 548.6,2085.7 548.9,2076.5 549.1,2081.3 549.4,2091.2 549.6,2076.9 549.8,2070.3 550.1,2071.5 550.3,2082.8 550.6,2079.4 550.8,2077.1 551.1,2075 551.3,2079 551.5,2084.5 551.8,2075.2 552,2075.7 552.3,2085.4 552.5,2080.6 552.7,2077.4 553,2078.8 553.2,2076.2 553.5,2074.9 553.7,2076.3 553.9,2079.7 554.2,2086.3 554.4,2076 554.7,2071.9 554.9,2068.7 555.1,2079.4 555.4,2079.3 555.6,2071.1 555.9,2070.9 556.1,2076.6 556.3,2074.2 556.6,2082.1 556.8,2074.1 557.1,2081.6 557.3,2077.3 557.6,2076.7 557.8,2078.2 558,2087.3 558.3,2079.2 558.5,2071.9 558.8,2073.6 559,2075 559.2,2069.5 559.5,2067.3 559.7,2065.7 560,2075.1 560.2,2069.6 560.4,2071.4 560.7,2074.5 560.9,2078.2 561.2,2069.9 561.4,2074.9 561.6,2057.1 561.9,2071.3 562.1,2072.8 562.4,2074.6 562.6,2061.9 562.9,2079.5 563.1,2075.7 563.3,2080.2 563.6,2077.3 563.8,2077.6 564.1,2071.9 564.3,2086.9 564.5,2079.6 564.8,2070.9 565,2083.1 565.3,2081.5 565.5,2085.4 565.7,2094.8 566,2081 566.2,2073.9 566.5,2082.5 566.7,2089.5 566.9,2078 567.2,2078.7 567.4,2073.7 567.7,2073.9 567.9,2079.8 568.2,2076.1 568.4,2087.1 568.6,2072.1 568.9,2076.7 569.1,2072.1 569.4,2072.1 569.6,2078.8 569.8,2078 570.1,2081.6 570.3,2087.4 570.6,2077.9 570.8,2076.4 571,2082.5 571.3,2073.7 571.5,2076.6 571.8,2074.8 572,2080.7 572.2,2085.4 572.5,2073.1 572.7,2073.8 573,2077.2 573.2,2078.6 573.5,2077.8 573.7,2077.1 573.9,2078.7 574.2,2085.8 574.4,2072.3 574.7,2083 574.9,2077.3 575.1,2077.1 575.4,2074.2 575.6,2083 575.9,2069.5 576.1,2072 576.3,2071.4 576.6,2068.9 576.8,2078.7 577.1,2089.8 577.3,2073.3 577.5,2068.7 577.8,2069.5 578,2077.5 578.3,2075.5 578.5,2073.8 578.8,2083.8 579,2078.6 579.2,2078.6 579.5,2068.2 579.7,2079 580,2068.6 580.2,2076.1 580.4,2084.1 580.7,2065.8 580.9,2080.8 581.2,2073.3 581.4,2068.2 581.6,2078.6 581.9,2081.8 582.1,2071.1 582.4,2075.6 582.6,2081.6 582.8,2081 583.1,2077.8 583.3,2071.7 583.6,2077.6 583.8,2073.3 584.1,2068.8 584.3,2070.6 584.5,2069.9 584.8,2070.9 585,2083.8 585.3,2070.8 585.5,2074.9 585.7,2076.9 586,2081.3 586.2,2083.7 586.5,2081.6 586.7,2076.9 586.9,2082.3 587.2,2081 587.4,2080.4 587.7,2075 587.9,2079.6 588.1,2079.2 588.4,2072.8 588.6,2080.3 588.9,2076.3 589.1,2083.7 589.4,2077.5 589.6,2078.4 589.8,2078.1 590.1,2080.8 590.3,2083.1 590.6,2079.7 590.8,2080.3 591,2073.5 591.3,2073.8 591.5,2082.9 591.8,2074.6 592,2079.2 592.2,2074.9 592.5,2078.8 592.7,2082.9 593,2071.8 593.2,2074.2 593.4,2081.4 593.7,2084.3 593.9,2078.5 594.2,2081.4 594.4,2078 594.6,2073.9 594.9,2070.4 595.1,2078.6 595.4,2071.4 595.6,2072.6 595.9,2079.8 596.1,2085.4 596.3,2074.7 596.6,2075.9 596.8,2068.5 597.1,2072.6 597.3,2075.5 597.5,2071.6 597.8,2083.4 598,2077.9 598.3,2079.9 598.5,2071.1 598.7,2076.1 599,2091.7 599.2,2072.5 599.5,2082.3 599.7,2075.1 599.9,2080.6 600.2,2077.6 600.4,2076 600.7,2078.1 600.9,2083.1 601.2,2073.1 601.4,2077.5 601.6,2079.4 601.9,2076.3 602.1,2081.6 602.4,2071.1 602.6,2078.2 602.8,2077.4 603.1,2077.4 603.3,2082.7 603.6,2083.6 603.8,2077.5 604,2076.9 604.3,2072.5 604.5,2076.3 604.8,2082.9 605,2076 605.2,2074.7 605.5,2073.9 605.7,2076.8 606,2083.4 606.2,2073.2 606.5,2081.3 606.7,2075.7 606.9,2084.9 607.2,2074.9 607.4,2081.6 607.7,2073.8 607.9,2071 608.1,2073.8 608.4,2084.1 608.6,2083.5 608.9,2083.6 609.1,2077.5 609.3,2079.3 609.6,2080.5 609.8,2080.1 610.1,2079.2 610.3,2079.1 610.5,2074.7 610.8,2082.1 611,2080.8 611.3,2089.3 611.5,2086.6 611.8,2083.5 612,2085.1 612.2,2078.5 612.5,2074.4 612.7,2080.1 613,2079.8 613.2,2079.3 613.4,2076.1 613.7,2078.5 613.9,2074 614.2,2074.2 614.4,2073.8 614.6,2071.9 614.9,2074.8 615.1,2074.3 615.4,2067.4 615.6,2075 615.8,2071.5 616.1,2074.7 616.3,2077 616.6,2077.1 616.8,2078.8 617.1,2075.4 617.3,2078.2 617.5,2077.6 617.8,2070.8 618,2076.7 618.3,2071.4 618.5,2075.2 618.7,2072.7 619,2079 619.2,2075.8 619.5,2065.3 619.7,2073 619.9,2072.2 620.2,2075.5 620.4,2072.9 620.7,2081.5 620.9,2080.3 621.1,2074.9 621.4,2073.3 621.6,2078.5 621.9,2077.6 622.1,2078.3 622.4,2077.4 622.6,2081.6 622.8,2082.4 623.1,2076.5 623.3,2083.3 623.6,2079.9 623.8,2078.3 624,2079.8 624.3,2074.2 624.5,2077 624.8,2075.5 625,2079.5 625.2,2078.4 625.5,2073.3 625.7,2074.1 626,2077.8 626.2,2074.5 626.4,2075.5 626.7,2075.9 626.9,2070 627.2,2078.7 627.4,2075.4 627.7,2075.6 627.9,2078.5 628.1,2082.7 628.4,2074.9 628.6,2076.9 628.9,2078 629.1,2078.3 629.3,2078.5 629.6,2082.7 629.8,2077.8 630.1,2087 630.3,2079.7 630.5,2086.2 630.8,2081.6 631,2077.2 631.3,2081.6 631.5,2082.7 631.7,2078.7 632,2082.2 632.2,2082.9 632.5,2082.9 632.7,2074.8 632.9,2078.4 633.2,2079.2 633.4,2086.5 633.7,2078.7 633.9,2087 634.2,2079.5 634.4,2086.5 634.6,2073.4 634.9,2089.3 635.1,2076.9 635.4,2078.9 635.6,2090.1 635.8,2083.6 636.1,2076.4 636.3,2077.7 636.6,2089.7 636.8,2084.6 637,2087.2 637.3,2086.3 637.5,2084.3 637.8,2073.2 638,2080.2 638.2,2081.5 638.5,2081.6 638.7,2077 639,2076.7 639.2,2083.7 639.5,2073.4 639.7,2084.7 639.9,2081.4 640.2,2078.5 640.4,2073.3 640.7,2082.6 640.9,2080.2 641.1,2076 641.4,2079.2 641.6,2077.1 641.9,2077.5 642.1,2081 642.3,2079.2 642.6,2077.8 642.8,2081.8 643.1,2074.3 643.3,2090.1 643.5,2085.1 643.8,2074.3 644,2078.6 644.3,2083.3 644.5,2078.5 644.8,2075.1 645,2082.5 645.2,2076.5 645.5,2080.5 645.7,2080.5 646,2080.4 646.2,2075 646.4,2085.4 646.7,2082 646.9,2077.3 647.2,2086.1 647.4,2087.9 647.6,2077.7 647.9,2080.3 648.1,2080.9 648.4,2079.3 648.6,2084.4 648.8,2065.5 649.1,2083.9 649.3,2080.9 649.6,2085.4 649.8,2080.2 650.1,2070.4 650.3,2077.5 650.5,2074.4 650.8,2079.5 651,2068 651.3,2076 651.5,2082.9 651.7,2072.9 652,2078.6 652.2,2073.8 652.5,2076.3 652.7,2075.8 652.9,2076.7 653.2,2082.1 653.4,2085.3 653.7,2073.3 653.9,2079.1 654.1,2077.3 654.4,2081.1 654.6,2089 654.9,2085.5 655.1,2072.6 655.4,2083.3 655.6,2081.5 655.8,2086.9 656.1,2082.5 656.3,2081.9 656.6,2081.4 656.8,2080.9 657,2083.7 657.3,2083.6 657.5,2081.1 657.8,2079.6 658,2081.9 658.2,2073.1 658.5,2080.2 658.7,2080.4 659,2084 659.2,2076.1 659.4,2085.2 659.7,2087.6 659.9,2084.3 660.2,2076.7 660.4,2084.4 660.7,2073 660.9,2078.6 661.1,2085 661.4,2078.9 661.6,2069.6 661.9,2081.3 662.1,2083.1 662.3,2074.9 662.6,2071.4 662.8,2072.6 663.1,2078.6 663.3,2076.3 663.5,2075.7 663.8,2071.9 664,2067.6 664.3,2077.4 664.5,2071.1 664.7,2078.2 665,2073.9 665.2,2080.3 665.5,2079.4 665.7,2074 666,2079.5 666.2,2071.6 666.4,2077.7 666.7,2074.9 666.9,2075.6 667.2,2076.7 667.4,2074.7 667.6,2070.7 667.9,2062.1 668.1,2080.8 668.4,2074.5 668.6,2076.6 668.8,2079.9 669.1,2074.9 669.3,2080 669.6,2076.6 669.8,2071 670,2085.1 670.3,2075.5 670.5,2074.8 670.8,2081.1 671,2075.1 671.2,2076.1 671.5,2079.5 671.7,2073.2 672,2084.4 672.2,2076.4 672.5,2080.5 672.7,2084.3 672.9,2080.7 673.2,2081.6 673.4,2076.6 673.7,2086.4 673.9,2080.8 674.1,2081.8 674.4,2073 674.6,2084.3 674.9,2074.8 675.1,2086.6 675.3,2077.4 675.6,2079.2 675.8,2076.8 676.1,2081.2 676.3,2086.2 676.5,2084.2 676.8,2071.9 677,2076.3 677.3,2080.6 677.5,2072.9 677.8,2079.6 678,2079.4 678.2,2081.3 678.5,2071 678.7,2067.6 679,2079.8 679.2,2074.5 679.4,2071.6 679.7,2066.8 679.9,2085.9 680.2,2075.3 680.4,2073.3 680.6,2082.4 680.9,2074.6 681.1,2075.6 681.4,2073.6 681.6,2079.2 681.8,2075.2 682.1,2079.6 682.3,2074.6 682.6,2076.6 682.8,2079 683.1,2083.5 683.3,2070.8 683.5,2073.2 683.8,2074.3 684,2081 684.3,2079.8 684.5,2071.5 684.7,2075.5 685,2082.4 685.2,2078.8 685.5,2078.5 685.7,2080.1 685.9,2083.3 686.2,2074.2 686.4,2077.1 686.7,2080.5 686.9,2086.3 687.1,2082.2 687.4,2079.8 687.6,2076.2 687.9,2081.4 688.1,2075.2 688.4,2079.3 688.6,2082.9 688.8,2091.5 689.1,2084.7 689.3,2086 689.6,2080.3 689.8,2078.2 690,2073.7 690.3,2079.6 690.5,2084.3 690.8,2069.6 691,2078.1 691.2,2080.5 691.5,2080.5 691.7,2085.1 692,2076.8 692.2,2077.9 692.4,2072.9 692.7,2075 692.9,2076.1 693.2,2074.6 693.4,2081.2 693.7,2082 693.9,2080.5 694.1,2085.6 694.4,2081 694.6,2081.8 694.9,2077.7 695.1,2080.5 695.3,2088.5 695.6,2080.3 695.8,2074.4 696.1,2088.1 696.3,2083.5 696.5,2080.1 696.8,2085.7 697,2082.4 697.3,2079.8 697.5,2085.5 697.7,2078.7 698,2078.1 698.2,2085 698.5,2079.5 698.7,2074.9 699,2080 699.2,2077.2 699.4,2076.2 699.7,2079.6 699.9,2074.3 700.2,2076.5 700.4,2082.1 700.6,2075.5 700.9,2073.8 701.1,2073.9 701.4,2079.8 701.6,2075 701.8,2071.1 702.1,2075.8 702.3,2071.8 702.6,2071.3 702.8,2076.9 703,2074 703.3,2078.1 703.5,2072.5 703.8,2077.6 704,2079.7 704.2,2077.8 704.5,2078.2 704.7,2076.6 705,2076.6 705.2,2083.8 705.5,2081.9 705.7,2078 705.9,2077.7 706.2,2079.5 706.4,2069 706.7,2075.3 706.9,2080.3 707.1,2076.8 707.4,2074.1 707.6,2077.9 707.9,2086.4 708.1,2078.2 708.3,2078 708.6,2068.8 708.8,2084.9 709.1,2070.3 709.3,2077 709.5,2072 709.8,2076.8 710,2074.6 710.3,2070.3 710.5,2074.6 710.8,2070.4 711,2075.1 711.2,2076.5 711.5,2075.8 711.7,2077.1 712,2075.7 712.2,2069.7 712.4,2080.5 712.7,2082.8 712.9,2076.2 713.2,2069.3 713.4,2072.3 713.6,2071.4 713.9,2072 714.1,2080.5 714.4,2077.2 714.6,2089.1 714.8,2080.8 715.1,2075.9 715.3,2085.1 715.6,2087.4 715.8,2084.4 716.1,2078.3 716.3,2074.4 716.5,2068.6 716.8,2073.5 717,2085.8 717.3,2089.2 717.5,2078.9 717.7,2075 718,2086.1 718.2,2081.5 718.5,2081.1 718.7,2079.1 718.9,2079.9 719.2,2077 719.4,2074.8 719.7,2079 719.9,2076.3 720.1,2071.2 720.4,2083.9 720.6,2084.1 720.9,2077.8 721.1,2072.3 721.4,2079.4 721.6,2075.7 721.8,2081.6 722.1,2076.6 722.3,2083 722.6,2077.6 722.8,2078.7 723,2078.6 723.3,2074.5 723.5,2075.7 723.8,2082.5 724,2076.2 724.2,2086.9 724.5,2075.6 724.7,2068.2 725,2077.4 725.2,2077.5 725.4,2079.3 725.7,2076 725.9,2081.3 726.2,2076.6 726.4,2080.4 726.7,2080.9 726.9,2078.4 727.1,2079 727.4,2085.8 727.6,2069.8 727.9,2077.7 728.1,2085.2 728.3,2073.6 728.6,2078.2 728.8,2077.3 729.1,2075.3 729.3,2082.1 729.5,2090.8 729.8,2079.1 730,2077.8 730.3,2074.7 730.5,2082.1 730.7,2080.2 731,2077.4 731.2,2080.4 731.5,2080.1 731.7,2078 732,2083.2 732.2,2072.5 732.4,2082.9 732.7,2079 732.9,2080.6 733.2,2082.3 733.4,2077.2 733.6,2075.3 733.9,2073.4 734.1,2077.1 734.4,2081.3 734.6,2075.7 734.8,2085.2 735.1,2078.8 735.3,2076.6 735.6,2076.3 735.8,2083.3 736,2084.7 736.3,2071.5 736.5,2080.6 736.8,2085.5 737,2084 737.3,2079 737.5,2074.4 737.7,2079.7 738,2075 738.2,2079.3 738.5,2078.6 738.7,2076.7 738.9,2082.6 739.2,2080 739.4,2082.9 739.7,2084 739.9,2078.5 740.1,2084.6 740.4,2080.7 740.6,2084.1 740.9,2081 741.1,2082.7 741.3,2075.9 741.6,2080.1 741.8,2080.2 742.1,2073.8 742.3,2092.9 742.5,2085.8 742.8,2092.9 743,2081.8 743.3,2080.3 743.5,2079.7 743.8,2081.6 744,2086.6 744.2,2075.8 744.5,2082.1 744.7,2084.7 745,2088.4 745.2,2082.1 745.4,2086.1 745.7,2086.1 745.9,2083.5 746.2,2083.6 746.4,2088.1 746.6,2079.5 746.9,2089.1 747.1,2089.8 747.4,2084 747.6,2084.9 747.8,2085.2 748.1,2087.3 748.3,2085.5 748.6,2088.1 748.8,2092.6 749.1,2082.5 749.3,2089.7 749.5,2086.2 749.8,2082 750,2084.6 750.3,2072.8 750.5,2089.8 750.7,2086.6 751,2082.7 751.2,2076.9 751.5,2083.2 751.7,2087.9 751.9,2076.8 752.2,2085.3 752.4,2082.1 752.7,2077.5 752.9,2084 753.1,2083.2 753.4,2079.4 753.6,2082.4 753.9,2080.6 754.1,2085.9 754.4,2082.6 754.6,2086.9 754.8,2089 755.1,2075.2 755.3,2080.8 755.6,2079 755.8,2087 756,2083.1 756.3,2083.8 756.5,2088.9 756.8,2080.6 757,2085.9 757.2,2083.7 757.5,2089.2 757.7,2078.5 758,2079.4 758.2,2080.9 758.4,2086.4 758.7,2084.8 758.9,2077.3 759.2,2083.6 759.4,2081.2 759.7,2081.7 759.9,2086.9 760.1,2075.5 760.4,2090.3 760.6,2080.7 760.9,2081.9 761.1,2088.2 761.3,2079.8 761.6,2078.8 761.8,2080.7 762.1,2084.3 762.3,2078.7 762.5,2075.8 762.8,2079.5 763,2073 763.3,2076.6 763.5,2076.8 763.7,2074.1 764,2082.8 764.2,2082.1 764.5,2077.6 764.7,2077.5 765,2073.2 765.2,2074.7 765.4,2078.9 765.7,2078.6 765.9,2080.6 766.2,2080.9 766.4,2081.1 766.6,2075.1 766.9,2080.9 767.1,2080.2 767.4,2077.8 767.6,2080.6 767.8,2079.2 768.1,2087.6 768.3,2076.4 768.6,2079.3 768.8,2077.1 769,2076.4 769.3,2086.3 769.5,2067.6 769.8,2077.6 770,2077.6 770.3,2086.5 770.5,2075.9 770.7,2077 771,2080.6 771.2,2078 771.5,2073.5 771.7,2080.8 771.9,2083.5 772.2,2073.4 772.4,2078.2 772.7,2080.2 772.9,2068.8 773.1,2078.5 773.4,2079.9 773.6,2077.9 773.9,2080.9 774.1,2078.1 774.3,2078.5 774.6,2082.3 774.8,2080.5 775.1,2078 775.3,2077.8 775.6,2077 775.8,2076.1 776,2078.7 776.3,2077.5 776.5,2081.6 776.8,2080.9 777,2074.7 777.2,2088.7 777.5,2077.5 777.7,2064.2 778,2087.6 778.2,2071.7 778.4,2086.8 778.7,2076.7 778.9,2070.7 779.2,2071.2 779.4,2082.3 779.6,2084.1 779.9,2084.7 780.1,2074.6 780.4,2079.7 780.6,2077.9 780.8,2076.7 781.1,2076.1 781.3,2075.5 781.6,2077.5 781.8,2085.5 782.1,2071.5 782.3,2090.7 782.5,2072.5 782.8,2080.9 783,2079 783.3,2080.4 783.5,2079.6 783.7,2078 784,2079.1 784.2,2082.6 784.5,2073.8 784.7,2080.2 784.9,2071.6 785.2,2078.3 785.4,2080.8 785.7,2075.8 785.9,2073.9 786.1,2082 786.4,2079.3 786.6,2071.9 786.9,2082.6 787.1,2082 787.4,2077.6 787.6,2083.7 787.8,2089.2 788.1,2085.7 788.3,2076.6 788.6,2075.3 788.8,2075.4 789,2076.2 789.3,2083.1 789.5,2074.5 789.8,2072.2 790,2080.1 790.2,2072.7 790.5,2078.2 790.7,2075.6 791,2074.7 791.2,2082.7 791.4,2069.8 791.7,2079.8 791.9,2076.5 792.2,2078.2 792.4,2074.1 792.7,2074.2 792.9,2076 793.1,2070 793.4,2074.9 793.6,2077.9 793.9,2088.7 794.1,2077.5 794.3,2077.6 794.6,2080.2 794.8,2080.3 795.1,2074.2 795.3,2072.4 795.5,2068.8 795.8,2072.3 796,2080.4 796.3,2076.4 796.5,2083.5 796.7,2074.5 797,2076.2 797.2,2080.4 797.5,2078.2 797.7,2078.7 798,2080.3 798.2,2071.8 798.4,2064 798.7,2073.8 798.9,2072.7 799.2,2076.6 799.4,2078.9 799.6,2067.9 799.9,2079.1 800.1,2076 800.4,2078.4 800.6,2075.5 800.8,2078.6 801.1,2076 801.3,2084.4 801.6,2079.6 801.8,2073.4 802,2084.1 802.3,2082.6 802.5,2073.9 802.8,2078.2 803,2075.3 803.3,2089.9 803.5,2079.4 803.7,2085.7 804,2086.1 804.2,2078.2 804.5,2074.8 804.7,2086.6 804.9,2084.9 805.2,2082.6 805.4,2080.7 805.7,2086.1 805.9,2070.3 806.1,2077.8 806.4,2082.1 806.6,2082.9 806.9,2070.3 807.1,2070.8 807.3,2083.1 807.6,2079.4 807.8,2075.3 808.1,2086.2 808.3,2083.5 808.6,2074.6 808.8,2083.7 809,2082.4 809.3,2086.3 809.5,2083.5 809.8,2076.6 810,2083.3 810.2,2085.3 810.5,2082 810.7,2070.8 811,2078 811.2,2081.3 811.4,2078 811.7,2076.6 811.9,2078 812.2,2087 812.4,2077.2 812.6,2079.6 812.9,2074.6 813.1,2084.9 813.4,2073.5 813.6,2080.8 813.9,2086.6 814.1,2072 814.3,2080.9 814.6,2076.6 814.8,2079.2 815.1,2073 815.3,2072.9 815.5,2072.8 815.8,2074.7 816,2086.1 816.3,2086.2 816.5,2076.6 816.7,2082 817,2074.4 817.2,2075.3 817.5,2082.7 817.7,2080.2 817.9,2080 818.2,2078 818.4,2073.9 818.7,2068.7 818.9,2064.7 819.1,2076.1 819.4,2073.5 819.6,2062.3 819.9,2065.4 820.1,2068.7 820.4,2081.8 820.6,2074.9 820.8,2069 821.1,2073 821.3,2060 821.6,2069.9 821.8,2069.2 822,2076.5 822.3,2076.5 822.5,2074.9 822.8,2074.9 823,2073.2 823.2,2070.4 823.5,2071.3 823.7,2067.8 824,2079.6 824.2,2072 824.4,2072.1 824.7,2065.6 824.9,2074.6 825.2,2072.2 825.4,2077.9 825.7,2072.2 825.9,2072.6 826.1,2077.8 826.4,2077.1 826.6,2075.3 826.9,2072.6 827.1,2080.9 827.3,2071.4 827.6,2077.2 827.8,2066.6 828.1,2068.6 828.3,2077.3 828.5,2078.2 828.8,2063.7 829,2072.1 829.3,2072.4 829.5,2076.9 829.7,2075.6 830,2071.4 830.2,2072.4 830.5,2079.1 830.7,2069.8 831,2074.2 831.2,2080.1 831.4,2071.3 831.7,2076.7 831.9,2072.4 832.2,2078.3 832.4,2074.1 832.6,2082.9 832.9,2073.7 833.1,2082 833.4,2074.2 833.6,2086.1 833.8,2074.8 834.1,2071.2 834.3,2072.2 834.6,2069 834.8,2079.1 835,2067.4 835.3,2067.4 835.5,2080 835.8,2078.3 836,2077.4 836.3,2075.1 836.5,2074.2 836.7,2086 837,2072.6 837.2,2076.4 837.5,2079.8 837.7,2071.3 837.9,2077.1 838.2,2070.7 838.4,2073.5 838.7,2077.4 838.9,2071 839.1,2072.8 839.4,2078.7 839.6,2083.7 839.9,2079.2 840.1,2074.2 840.3,2078 840.6,2069.4 840.8,2076.1 841.1,2076.5 841.3,2075.7 841.6,2081.4 841.8,2078.2 842,2080.6 842.3,2088 842.5,2085.6 842.8,2074.7 843,2079.8 843.2,2078.4 843.5,2084.2 843.7,2080.3 844,2074.3 844.2,2077.2 844.4,2079.9 844.7,2071 844.9,2077.9 845.2,2079.2 845.4,2072.7 845.6,2085.3 845.9,2075.5 846.1,2082.9 846.4,2081.6 846.6,2081.3 846.9,2077.9 847.1,2078.1 847.3,2077.4 847.6,2077.9 847.8,2072.8 848.1,2071.6 848.3,2075.9 848.5,2075.7 848.8,2080.7 849,2084 849.3,2076.8 849.5,2079.4 849.7,2076.1 850,2087.9 850.2,2068.7 850.5,2086.1 850.7,2080.6 850.9,2076.7 851.2,2087.1 851.4,2083.5 851.7,2089.9 851.9,2087.3 852.2,2089.4 852.4,2080.4 852.6,2079.5 852.9,2081.9 853.1,2074.9 853.4,2074.2 853.6,2080.1 853.8,2080.9 854.1,2081.1 854.3,2081.8 854.6,2074.1 854.8,2078.6 855,2081 855.3,2080.5 855.5,2077 855.8,2081 856,2077.8 856.2,2079.2 856.5,2073 856.7,2073.8 857,2084.8 857.2,2079.3 857.4,2075.5 857.7,2080.4 857.9,2075 858.2,2077.1 858.4,2076.1 858.7,2079 858.9,2077.5 859.1,2076.7 859.4,2085.4 859.6,2083.1 859.9,2083.7 860.1,2072 860.3,2078 860.6,2077.8 860.8,2078.6 861.1,2081.6 861.3,2082.6 861.5,2075.6 861.8,2080.9 862,2072.3 862.3,2078.3 862.5,2078.7 862.7,2080 863,2079.3 863.2,2078.8 863.5,2072.3 863.7,2068.7 864,2083.9 864.2,2077.8 864.4,2075.9 864.7,2083 864.9,2081.9 865.2,2081.3 865.4,2089.9 865.6,2076.6 865.9,2079.8 866.1,2080.1 866.4,2079.4 866.6,2078.7 866.8,2069.6 867.1,2078.9 867.3,2076 867.6,2081.8 867.8,2077.9 868,2080.6 868.3,2079.7 868.5,2082.8 868.8,2082.2 869,2076.3 869.3,2074.8 869.5,2075.8 869.7,2080.5 870,2075.9 870.2,2088.3 870.5,2072.7 870.7,2076.8 870.9,2075.3 871.2,2071.2 871.4,2078.1 871.7,2071.9 871.9,2078.1 872.1,2073.8 872.4,2078.1 872.6,2075 872.9,2070 873.1,2079.5 873.3,2079.5 873.6,2078.5 873.8,2075.9 874.1,2065.1 874.3,2080.3 874.6,2087.2 874.8,2081.3 875,2085.8 875.3,2081.5 875.5,2079.2 875.8,2083.9 876,2083 876.2,2088.7 876.5,2079.6 876.7,2084.1 877,2075.9 877.2,2076.2 877.4,2085.3 877.7,2083.1 877.9,2081.2 878.2,2077.9 878.4,2089.2 878.6,2081.7 878.9,2072.5 879.1,2081.7 879.4,2080.1 879.6,2081.2 879.9,2086.9 880.1,2076.6 880.3,2080 880.6,2080.5 880.8,2077.9 881.1,2077.6 881.3,2090.7 881.5,2079.1 881.8,2084.2 882,2080.5 882.3,2084.6 882.5,2085 882.7,2075.7 883,2080.1 883.2,2081.1 883.5,2080.7 883.7,2078.4 883.9,2078.4 884.2,2089.9 884.4,2081.9 884.7,2078.2 884.9,2072.7 885.2,2069 885.4,2080.2 885.6,2064.7 885.9,2073.5 886.1,2070.7 886.4,2075.2 886.6,2074.8 886.8,2063.2 887.1,2071.1 887.3,2069.7 887.6,2062.4 887.8,2058.9 888,2075.4 888.3,2068.2 888.5,2067.1 888.8,2057.5 889,2054.2 889.2,2067.6 889.5,2065.6 889.7,2063.4 890,2062.3 890.2,2070.4 890.5,2064.7 890.7,2073.2 890.9,2083.8 891.2,2077.6 891.4,2070 891.7,2067.5 891.9,2083.4 892.1,2081.5 892.4,2073 892.6,2090.2 892.9,2070.9 893.1,2068.9 893.3,2089.2 893.6,2071 893.8,2076.1 894.1,2068.6 894.3,2074.5 894.5,2077.4 894.8,2076 895,2072.4 895.3,2076.4 895.5,2077.5 895.7,2084.9 896,2076 896.2,2078.4 896.5,2070.1 896.7,2079.2 897,2079.8 897.2,2082.5 897.4,2076.5 897.7,2081.1 897.9,2083.6 898.2,2073.2 898.4,2072.6 898.6,2083.2 898.9,2086 899.1,2076.3 899.4,2085.5 899.6,2068.9 899.8,2082.5 900.1,2077.6 900.3,2087.9 900.6,2082.2 900.8,2077 901,2079.9 901.3,2084.2 901.5,2070.6 901.8,2078.2 902,2082.4 902.3,2083.9 902.5,2082.3 902.7,2074.9 903,2084.3 903.2,2080.6 903.5,2084.3 903.7,2074.9 903.9,2081.1 904.2,2076.4 904.4,2077.6 904.7,2082.5 904.9,2076.5 905.1,2075.2 905.4,2084.1 905.6,2075.6 905.9,2062.6 906.1,2079.4 906.3,2075 906.6,2083.5 906.8,2075.4 907.1,2080 907.3,2074.1 907.6,2077.8 907.8,2083 908,2073.3 908.3,2079.4 908.5,2083.3 908.8,2079 909,2083.9 909.2,2078.2 909.5,2080.6 909.7,2082.1 910,2077.7 910.2,2086.2 910.4,2076.2 910.7,2089.1 910.9,2073 911.2,2078.8 911.4,2080.3 911.6,2081.8 911.9,2075.7 912.1,2078.2 912.4,2077.7 912.6,2072 912.9,2077.9 913.1,2076.6 913.3,2073.4 913.6,2070.3 913.8,2075.6 914.1,2074.2 914.3,2074.8 914.5,2072 914.8,2069 915,2079.9 915.3,2076.8 915.5,2076.8 915.7,2074.5 916,2070.9 916.2,2077.8 916.5,2077.1 916.7,2073.4 916.9,2083.9 917.2,2082.1 917.4,2080.8 917.7,2079 917.9,2078.1 918.2,2081.3 918.4,2071.5 918.6,2082.1 918.9,2079.9 919.1,2074.2 919.4,2075.4 919.6,2078.6 919.8,2076.7 920.1,2074.6 920.3,2077.9 920.6,2074.8 920.8,2081.5 921,2077 921.3,2084.4 921.5,2081 921.8,2082.1 922,2071.7 922.2,2079.2 922.5,2075.9 922.7,2081.3 923,2078.2 923.2,2078.5 923.5,2081 923.7,2073.4 923.9,2084.3 924.2,2074.1 924.4,2065 924.7,2080 924.9,2076.1 925.1,2082.8 925.4,2075.9 925.6,2083.2 925.9,2072.7 926.1,2077.5 926.3,2083.3 926.6,2080.8 926.8,2082 927.1,2076.3 927.3,2071.4 927.5,2076.9 927.8,2080.4 928,2079 928.3,2075 928.5,2086.3 928.8,2073.3 929,2074.2 929.2,2086.7 929.5,2070.9 929.7,2083.2 930,2076.9 930.2,2070.8 930.4,2082.9 930.7,2083.6 930.9,2080.3 931.2,2080.1 931.4,2075.9 931.6,2077.5 931.9,2077.4 932.1,2077.4 932.4,2076.2 932.6,2079.2 932.8,2074.3 933.1,2075.8 933.3,2080.3 933.6,2068.2 933.8,2081.6 934,2073 934.3,2079.4 934.5,2074.6 934.8,2073.8 935,2072.3 935.3,2069.9 935.5,2079.5 935.7,2063.6 936,2074.1 936.2,2079.3 936.5,2081.6 936.7,2065.6 936.9,2068.6 937.2,2075.6 937.4,2072.2 937.7,2069.7 937.9,2074.9 938.1,2077 938.4,2075.3 938.6,2071.5 938.9,2075 939.1,2080.4 939.3,2071.9 939.6,2082.7 939.8,2078.6 940.1,2070.3 940.3,2074.7 940.6,2074.9 940.8,2075.7 941,2071.9 941.3,2076.6 941.5,2084.9 941.8,2075.6 942,2089.8 942.2,2085.6 942.5,2070.1 942.7,2072.6 943,2079.2 943.2,2077.7 943.4,2077.3 943.7,2073.6 943.9,2081.5 944.2,2082.3 944.4,2081.5 944.6,2078.4 944.9,2078.1 945.1,2081.1 945.4,2076.3 945.6,2084 945.9,2080 946.1,2082.7 946.3,2084 946.6,2074.4 946.8,2081 947.1,2083.9 947.3,2079.3 947.5,2083.7 947.8,2076.8 948,2075.7 948.3,2074.8 948.5,2083.7 948.7,2079.7 949,2071.2 949.2,2080 949.5,2073.7 949.7,2072.7 949.9,2085.2 950.2,2074.3 950.4,2076.5 950.7,2076.2 950.9,2073 951.2,2078.5 951.4,2080.4 951.6,2078.3 951.9,2082.7 952.1,2079.3 952.4,2090.1 952.6,2074.2 952.8,2083.9 953.1,2079.3 953.3,2080.3 953.6,2081 953.8,2080.9 954,2081 954.3,2088.1 954.5,2083.2 954.8,2075.7 955,2085 955.2,2085 955.5,2071.2 955.7,2074.9 956,2073.1 956.2,2079.6 956.5,2078 956.7,2075.5 956.9,2076 957.2,2078.3 957.4,2083.8 957.7,2080.3 957.9,2083.2 958.1,2069.8 958.4,2078 958.6,2076.9 958.9,2074.9 959.1,2076.1 959.3,2074 959.6,2079.1 959.8,2083.2 960.1,2069.5 960.3,2080.3 960.5,2079.6 960.8,2081.3 961,2080.5 961.3,2078.4 961.5,2075.5 961.8,2083.4 962,2077.9 962.2,2082.2 962.5,2074.5 962.7,2085 963,2079.6 963.2,2077.2 963.4,2086.2 963.7,2080.1 963.9,2080.1 964.2,2084.2 964.4,2081.8 964.6,2076.7 964.9,2079.7 965.1,2082.4 965.4,2081.4 965.6,2078.4 965.8,2074.8 966.1,2076.6 966.3,2076.8 966.6,2073.1 966.8,2086.2 967.1,2085.8 967.3,2089.3 967.5,2076.2 967.8,2089.4 968,2079.9 968.3,2076.5 968.5,2085.5 968.7,2082.2 969,2080.4 969.2,2076 969.5,2085.3 969.7,2077.3 969.9,2075.5 970.2,2077.7 970.4,2077.5 970.7,2072.8 970.9,2077.1 971.1,2078 971.4,2079.3 971.6,2075.1 971.9,2079 972.1,2074.9 972.3,2077.2 972.6,2072.7 972.8,2080.8 973.1,2077 973.3,2075.8 973.6,2075.5 973.8,2072.4 974,2075.6 974.3,2073.4 974.5,2069 974.8,2073.8 975,2081.9 975.2,2083.5 975.5,2074.7 975.7,2079.2 976,2076.5 976.2,2078.6 976.4,2072.4 976.7,2073 976.9,2083.1 977.2,2077.3 977.4,2079.9 977.6,2084.4 977.9,2076.2 978.1,2079.7 978.4,2077.3 978.6,2068.8 978.9,2073.7 979.1,2074.6 979.3,2081 979.6,2084.2 979.8,2073.7 980.1,2080.2 980.3,2078.6 980.5,2080.2 980.8,2078 981,2068 981.3,2079.5 981.5,2079.2 981.7,2077 982,2076.6 982.2,2082.9 982.5,2085.3 982.7,2080.1 982.9,2078.5 983.2,2081 983.4,2081.8 983.7,2081.5 983.9,2079.1 984.2,2077.8 984.4,2084.2 984.6,2079.3 984.9,2075.2 985.1,2077 985.4,2082.1 985.6,2077.5 985.8,2075.8 986.1,2072.1 986.3,2082.4 986.6,2072.1 986.8,2077 987,2074 987.3,2071.8 987.5,2078.7 987.8,2078.5 988,2075.6 988.2,2072 988.5,2077.8 988.7,2081.8 989,2078.8 989.2,2074.2 989.5,2070.9 989.7,2078.2 989.9,2077.4 990.2,2076.7 990.4,2076.5 990.7,2079.9 990.9,2077.6 991.1,2074.6 991.4,2075.1 991.6,2075.4 991.9,2079.9 992.1,2077.9 992.3,2078.6 992.6,2071.1 992.8,2069.4 993.1,2074.4 993.3,2069 993.5,2077.4 993.8,2077.5 994,2082 994.3,2075.5 994.5,2078.6 994.8,2076.4 995,2074.8 995.2,2078.1 995.5,2082 995.7,2077.4 996,2077.5 996.2,2077.1 996.4,2074.4 996.7,2078.1 996.9,2078.3 997.2,2069.8 997.4,2072.6 997.6,2077.6 997.9,2081.2 998.1,2079.2 998.4,2075.8 998.6,2073.9 998.8,2067.4 999.1,2078.7 999.3,2077.1 999.6,2079.3 999.8,2077.5 1000.1,2079.4 1000.3,2082.3 1000.5,2073.4 1000.8,2077.1 1001,2072.1 1001.3,2079.6 1001.5,2076.2 1001.7,2074.5 1002,2085 1002.2,2082.6 1002.5,2073.8 1002.7,2076.5 1002.9,2084.6 1003.2,2080 1003.4,2081.4 1003.7,2079.1 1003.9,2070.7 1004.1,2079.9 1004.4,2069.2 1004.6,2079.1 1004.9,2081.4 1005.1,2072.1 1005.3,2075 1005.6,2073.4 1005.8,2071.2 1006.1,2075.1 1006.3,2074.4 1006.6,2086.7 1006.8,2082.8 1007,2077.3 1007.3,2078 1007.5,2075.5 1007.8,2080.3 1008,2073.3 1008.2,2069.2 1008.5,2075.1 1008.7,2073.9 1009,2075.3 1009.2,2073.5 1009.4,2076.6 1009.7,2079.7 1009.9,2076.9 1010.2,2077.4 1010.4,2084.5 1010.6,2077.1 1010.9,2077.9 1011.1,2077.1 1011.4,2080.2 1011.6,2075.6 1011.9,2074.7 1012.1,2080 1012.3,2075.3 1012.6,2072.9 1012.8,2072.6 1013.1,2079.3 1013.3,2079.3 1013.5,2074.5 1013.8,2078.8 1014,2063.4 1014.3,2077.4 1014.5,2077.3 1014.7,2071.2 1015,2076.1 1015.2,2084.3 1015.5,2075.1 1015.7,2079 1015.9,2077.3 1016.2,2082.3 1016.4,2079.5 1016.7,2076.5 1016.9,2076.4 1017.2,2081 1017.4,2079.4 1017.6,2080.1 1017.9,2075.9 1018.1,2077.2 1018.4,2082 1018.6,2073.8 1018.8,2079.7 1019.1,2075 1019.3,2080.7 1019.6,2075.4 1019.8,2077.2 1020,2076.4 1020.3,2074.4 1020.5,2074.6 1020.8,2075.6 1021,2075.5 1021.2,2081.6 1021.5,2076.1 1021.7,2085.2 1022,2085.2 1022.2,2076.4 1022.5,2075.8 1022.7,2067.9 1022.9,2071.4 1023.2,2069.2 1023.4,2075.4 1023.7,2072 1023.9,2068.6 1024.1,2071.4 1024.4,2072.2 1024.6,2073.3 1024.9,2078 1025.1,2077.9 1025.3,2080.4 1025.6,2072.2 1025.8,2075.4 1026.1,2077.4 1026.3,2073 1026.5,2077.4 1026.8,2070.3 1027,2066.7 1027.3,2073.5 1027.5,2079 1027.8,2083 1028,2067.5 1028.2,2074.9 1028.5,2082.7 1028.7,2073 1029,2085.7 1029.2,2080.6 1029.4,2080.1 1029.7,2081 1029.9,2084.9 1030.2,2069.3 1030.4,2082 1030.6,2078.6 1030.9,2080.3 1031.1,2087.6 1031.4,2082.9 1031.6,2079.5 1031.8,2076.3 1032.1,2081.9 1032.3,2078.8 1032.6,2081.9 1032.8,2077.9 1033.1,2091.5 1033.3,2078 1033.5,2083.5 1033.8,2083.4 1034,2093.4 1034.3,2085.6 1034.5,2078.2 1034.7,2070.7 1035,2083.9 1035.2,2083.5 1035.5,2078.3 1035.7,2079 1035.9,2082.5 1036.2,2080.4 1036.4,2081.1 1036.7,2076.4 1036.9,2075.4 1037.1,2070.9 1037.4,2074.4 1037.6,2075.3 1037.9,2077.3 1038.1,2073.8 1038.4,2082 1038.6,2068.2 1038.8,2076.3 1039.1,2071.4 1039.3,2081 1039.6,2073.1 1039.8,2076 1040,2078.8 1040.3,2081.2 1040.5,2082.4 1040.8,2071.2 1041,2074.1 1041.2,2079.2 1041.5,2079.3 1041.7,2083.6 1042,2088.7 1042.2,2088.7 1042.4,2083.7 1042.7,2081.8 1042.9,2086.3 1043.2,2077.8 1043.4,2078.9 1043.6,2080.4 1043.9,2088.5 1044.1,2081.7 1044.4,2080.7 1044.6,2085.8 1044.9,2089.6 1045.1,2071.8 1045.3,2077.1 1045.6,2081.3 1045.8,2072.6 1046.1,2074.6 1046.3,2077.4 1046.5,2078.4 1046.8,2076.1 1047,2073.3 1047.3,2079.4 1047.5,2080.9 1047.7,2077.7 1048,2092.5 1048.2,2080.3 1048.5,2082.7 1048.7,2081.2 1048.9,2082.1 1049.2,2079.9 1049.4,2080.9 1049.7,2081 1049.9,2081.8 1050.2,2079.1 1050.4,2082.9 1050.6,2076.4 1050.9,2087.4 1051.1,2079.2 1051.4,2077.9 1051.6,2085 1051.8,2081.3 1052.1,2073.9 1052.3,2080 1052.6,2083.3 1052.8,2092.4 1053,2078.6 1053.3,2079.8 1053.5,2078 1053.8,2072.2 1054,2081.1 1054.2,2080.7 1054.5,2084.4 1054.7,2081.9 1055,2081.8 1055.2,2078.6 1055.5,2079.5 1055.7,2085 1055.9,2083.7 1056.2,2075.9 1056.4,2085.6 1056.7,2078.4 1056.9,2074.6 1057.1,2078.6 1057.4,2080.2 1057.6,2075.4 1057.9,2079.6 1058.1,2081.1 1058.3,2081.9 1058.6,2076.3 1058.8,2078.2 1059.1,2074.8 1059.3,2082.8 1059.5,2082.8 1059.8,2083.5 1060,2080.7 1060.3,2084.9 1060.5,2078.3 1060.8,2080.9 1061,2086.5 1061.2,2094.9 1061.5,2090.1 1061.7,2076.4 1062,2082.7 1062.2,2081.7 1062.4,2084 1062.7,2080.5 1062.9,2090.2 1063.2,2090.4 1063.4,2088.9 1063.6,2081.8 1063.9,2079.2 1064.1,2080.2 1064.4,2082.7 1064.6,2087.6 1064.8,2078.9 1065.1,2083.4 1065.3,2082.2 1065.6,2082.2 1065.8,2083.7 1066.1,2084.5 1066.3,2083.7 1066.5,2086.4 1066.8,2079.7 1067,2081.3 1067.3,2076.2 1067.5,2087.9 1067.7,2075.3 1068,2080.5 1068.2,2080.8 1068.5,2083.5 1068.7,2083.5 1068.9,2086.3 1069.2,2076.2 1069.4,2080.8 1069.7,2076.8 1069.9,2076.2 1070.1,2081.6 1070.4,2080.4 1070.6,2080.8 1070.9,2074.9 1071.1,2078.6 1071.4,2078.4 1071.6,2076 1071.8,2079.3 1072.1,2070.3 1072.3,2082.8 1072.6,2073.7 1072.8,2073 1073,2083.8 1073.3,2075.4 1073.5,2077.9 1073.8,2075.5 1074,2084.4 1074.2,2078.4 1074.5,2083.7 1074.7,2081.1 1075,2073.9 1075.2,2080.7 1075.4,2089.8 1075.7,2086.4 1075.9,2085.4 1076.2,2076.4 1076.4,2083.7 1076.7,2087.4 1076.9,2076 1077.1,2079.6 1077.4,2079.1 1077.6,2083.8 1077.9,2074.1 1078.1,2080.4 1078.3,2088.1 1078.6,2084.3 1078.8,2082.8 1079.1,2079.7 1079.3,2075.5 1079.5,2081.8 1079.8,2081.2 1080,2069.1 1080.3,2078.2 1080.5,2080.9 1080.7,2078.5 1081,2084.1 1081.2,2076.5 1081.5,2074.7 1081.7,2081.4 1081.9,2074.5 1082.2,2080.1 1082.4,2077.5 1082.7,2081.9 1082.9,2082 1083.2,2084.9 1083.4,2077.3 1083.6,2079.3 1083.9,2079 1084.1,2082.7 1084.4,2082.7 1084.6,2080.3 1084.8,2075.4 1085.1,2076.1 1085.3,2080.4 1085.6,2076.2 1085.8,2069.9 1086,2077.1 1086.3,2068.9 1086.5,2075.9 1086.8,2072.1 1087,2080.3 1087.2,2073 1087.5,2083.3 1087.7,2077.1 1088,2079.6 1088.2,2086.7 1088.5,2083.8 1088.7,2072.9 1088.9,2075.5 1089.2,2071.8 1089.4,2076.3 1089.7,2089.5 1089.9,2075.6 1090.1,2078.9 1090.4,2078.4 1090.6,2078 1090.9,2079.3 1091.1,2080 1091.3,2070.5 1091.6,2074 1091.8,2078.8 1092.1,2078 1092.3,2072.2 1092.5,2075 1092.8,2076 1093,2082.4 1093.3,2079.3 1093.5,2082.5 1093.8,2086.1 1094,2074.3 1094.2,2079.6 1094.5,2080 1094.7,2082.4 1095,2075 1095.2,2069.3 1095.4,2075.6 1095.7,2074 1095.9,2083 1096.2,2076.9 1096.4,2076.6 1096.6,2071.1 1096.9,2077.3 1097.1,2081.2 1097.4,2077.5 1097.6,2079 1097.8,2071 1098.1,2074.3 1098.3,2075.6 1098.6,2076.3 1098.8,2073.5 1099.1,2079.1 1099.3,2080.8 1099.5,2084.8 1099.8,2071.9 1100,2074.7 1100.3,2074.1 1100.5,2076.5 1100.7,2069.7 1101,2080.6 1101.2,2071.4 1101.5,2079.8 1101.7,2078.1 1101.9,2081.2 1102.2,2075.7 1102.4,2077.3 1102.7,2074.3 1102.9,2078.6 1103.1,2082.1 1103.4,2074.1 1103.6,2071.3 1103.9,2073.7 1104.1,2077.2 1104.4,2075.4 1104.6,2084.2 1104.8,2078.5 1105.1,2072.3 1105.3,2075.1 1105.6,2080.5 1105.8,2073.3 1106,2077.3 1106.3,2073.7 1106.5,2082.5 1106.8,2078.8 1107,2075.2 1107.2,2075.3 1107.5,2074.2 1107.7,2076.6 1108,2077.4 1108.2,2074.6 1108.4,2073 1108.7,2082.9 1108.9,2078 1109.2,2077.6 1109.4,2076.2 1109.7,2072.8 1109.9,2082.7 1110.1,2075.2 1110.4,2084.9 1110.6,2081.2 1110.9,2080.6 1111.1,2080 1111.3,2081.9 1111.6,2081.9 1111.8,2081.7 1112.1,2081.8 1112.3,2088.8 1112.5,2087.4 1112.8,2083.8 1113,2080.1 1113.3,2078.4 1113.5,2070.9 1113.7,2082.4 1114,2086.2 1114.2,2082.2 1114.5,2080 1114.7,2082.2 1115,2087 1115.2,2082.9 1115.4,2082.5 1115.7,2087.9 1115.9,2086.9 1116.2,2076.9 1116.4,2090.9 1116.6,2081 1116.9,2082.7 1117.1,2075.8 1117.4,2078.9 1117.6,2084.9 1117.8,2076.1 1118.1,2083.4 1118.3,2072.7 1118.6,2073.9 1118.8,2080.8 1119,2077.1 1119.3,2079.3 1119.5,2083.5 1119.8,2075.2 1120,2077.6 1120.2,2075.7 1120.5,2074.7 1120.7,2073.1 1121,2074.5 1121.2,2079 1121.5,2078.2 1121.7,2076.7 1121.9,2078.7 1122.2,2079.1 1122.4,2070.4 1122.7,2075.9 1122.9,2070.1 1123.1,2081 1123.4,2078.1 1123.6,2079.8 1123.9,2079.8 1124.1,2079.6 1124.3,2079.2 1124.6,2080.8 1124.8,2072 1125.1,2077 1125.3,2083.1 1125.5,2082.5 1125.8,2077.5 1126,2078.4 1126.3,2083.1 1126.5,2076.7 1126.8,2086.2 1127,2082 1127.2,2072.6 1127.5,2090 1127.7,2079.7 1128,2074.5 1128.2,2078.8 1128.4,2081.1 1128.7,2081.3 1128.9,2086 1129.2,2082.8 1129.4,2077.2 1129.6,2079.8 1129.9,2077.7 1130.1,2078.4 1130.4,2076.9 1130.6,2085.1 1130.8,2079.9 1131.1,2080.3 1131.3,2080.4 1131.6,2083 1131.8,2088.6 1132.1,2077.2 1132.3,2076.6 1132.5,2070.3 1132.8,2077 1133,2073.2 1133.3,2077.4 1133.5,2081.2 1133.7,2077.5 1134,2084.1 1134.2,2078.1 1134.5,2079.4 1134.7,2083.1 1134.9,2073.6 1135.2,2073.9 1135.4,2076.5 1135.7,2074.9 1135.9,2071.4 1136.1,2078.6 1136.4,2083.5 1136.6,2081.7 1136.9,2074.8 1137.1,2076.5 1137.4,2083.4 1137.6,2071.7 1137.8,2076 1138.1,2070.1 1138.3,2071.9 1138.6,2078.2 1138.8,2076 1139,2079.4 1139.3,2079.9 1139.5,2077.7 1139.8,2074.6 1140,2071.1 1140.2,2080.5 1140.5,2074.1 1140.7,2076.9 1141,2077.9 1141.2,2072.3 1141.4,2078.3 1141.7,2071 1141.9,2077.8 1142.2,2079.9 1142.4,2072.8 1142.7,2081.6 1142.9,2080.3 1143.1,2076.1 1143.4,2075.1 1143.6,2076.2 1143.9,2083.1 1144.1,2080.5 1144.3,2072.9 1144.6,2072.8 1144.8,2079.2 1145.1,2074 1145.3,2074.3 1145.5,2071 1145.8,2078.2 1146,2069.2 1146.3,2076.5 1146.5,2069.4 1146.7,2071.6 1147,2079.7 1147.2,2077 1147.5,2074.8 1147.7,2072 1148,2082.1 1148.2,2078.8 1148.4,2074.4 1148.7,2075.3 1148.9,2081.9 1149.2,2081.5 1149.4,2076.3 1149.6,2082.4 1149.9,2077.4 1150.1,2074.7 1150.4,2078.5 1150.6,2089.7 1150.8,2073.9 1151.1,2074 1151.3,2073 1151.6,2075.5 1151.8,2086.1 1152,2073.5 1152.3,2078.1 1152.5,2075.8 1152.8,2080.5 1153,2081 1153.3,2081.1 1153.5,2073.7 1153.7,2079.2 1154,2081.3 1154.2,2085.7 1154.5,2078.5 1154.7,2080.4 1154.9,2079.7 1155.2,2076.2 1155.4,2077.2 1155.7,2080.1 1155.9,2079.1 1156.1,2079.6 1156.4,2076.9 1156.6,2077 1156.9,2079.4 1157.1,2083.6 1157.3,2076.7 1157.6,2076.7 1157.8,2085.1 1158.1,2079.3 1158.3,2082.9 1158.5,2090.7 1158.8,2082 1159,2078.1 1159.3,2085.3 1159.5,2085.3 1159.8,2078.1 1160,2086.9 1160.2,2086 1160.5,2083.2 1160.7,2079 1161,2078.7 1161.2,2083.2 1161.4,2082 1161.7,2080 1161.9,2081.8 1162.2,2083.6 1162.4,2084.5 1162.6,2076.9 1162.9,2080.8 1163.1,2067.9 1163.4,2077.3 1163.6,2083.1 1163.8,2080 1164.1,2078.6 1164.3,2078.3 1164.6,2078 1164.8,2077.9 1165.1,2080.2 1165.3,2076.7 1165.5,2070.1 1165.8,2080.8 1166,2080.3 1166.3,2075.5 1166.5,2072.9 1166.7,2074.5 1167,2072.5 1167.2,2077.7 1167.5,2078.3 1167.7,2074.4 1167.9,2074.2 1168.2,2070 1168.4,2070.5 1168.7,2084.8 1168.9,2073.9 1169.1,2080.2 1169.4,2086.4 1169.6,2075.9 1169.9,2078.4 1170.1,2079.3 1170.4,2083.4 1170.6,2082.4 1170.8,2079 1171.1,2084.5 1171.3,2078.6 1171.6,2077.7 1171.8,2078.8 1172,2076.8 1172.3,2078.3 1172.5,2082.9 1172.8,2082.2 1173,2077.2 1173.2,2073.5 1173.5,2077 1173.7,2079.7 1174,2076.9 1174.2,2085.4 1174.4,2081.9 1174.7,2079.3 1174.9,2078 1175.2,2079.2 1175.4,2079 1175.7,2082.9 1175.9,2080.3 1176.1,2076.7 1176.4,2085.8 1176.6,2083 1176.9,2079.2 1177.1,2071.2 1177.3,2074.7 1177.6,2070.8 1177.8,2071.7 1178.1,2079.5 1178.3,2077.9 1178.5,2082.7 1178.8,2072.5 1179,2074.5 1179.3,2075.1 1179.5,2074.7 1179.7,2075.6 1180,2076.7 1180.2,2076.3 1180.5,2072.1 1180.7,2080.7 1181,2081.7 1181.2,2076.9 1181.4,2071.8 1181.7,2075.7 1181.9,2077.5 1182.2,2073 1182.4,2076.1 1182.6,2085 1182.9,2081.2 1183.1,2086.1 1183.4,2078.2 1183.6,2079.4 1183.8,2075.8 1184.1,2068.7 1184.3,2080.7 1184.6,2078.4 1184.8,2080.3 1185,2091.1 1185.3,2082.5 1185.5,2082.5 1185.8,2078.5 1186,2083.6 1186.3,2085.9 1186.5,2078.1 1186.7,2081.2 1187,2085 1187.2,2084.7 1187.5,2083 1187.7,2078.5 1187.9,2076.1 1188.2,2088.1 1188.4,2077.7 1188.7,2082.6 1188.9,2081.5 1189.1,2079 1189.4,2087.4 1189.6,2079.7 1189.9,2088.9 1190.1,2085.3 1190.3,2086.9 1190.6,2075.9 1190.8,2075.9 1191.1,2079.4 1191.3,2080.2 1191.6,2084.4 1191.8,2074.4 1192,2075.5 1192.3,2077.4 1192.5,2081.4 1192.8,2082.2 1193,2080.8 1193.2,2074.6 1193.5,2084.2 1193.7,2079.6 1194,2073.1 1194.2,2076.3 1194.4,2072.7 1194.7,2078.4 1194.9,2078.5 1195.2,2074.6 1195.4,2077.9 1195.6,2079.4 1195.9,2083.3 1196.1,2087.7 1196.4,2075.2 1196.6,2083.6 1196.8,2085.2 1197.1,2078.5 1197.3,2086.1 1197.6,2088.1 1197.8,2084.9 1198.1,2082.7 1198.3,2081.3 1198.5,2080.2 1198.8,2078.1 1199,2082.6 1199.3,2080.4 1199.5,2082.3 1199.7,2084.4 1200,2079.8 1200.2,2079.8 1200.5,2073.2 1200.7,2078.3 1200.9,2083.7 1201.2,2077.9 1201.4,2081.3 1201.7,2073.2 1201.9,2087.1 1202.1,2082.4 1202.4,2082.2 1202.6,2078.6 1202.9,2079.5 1203.1,2085.7 1203.4,2086.8 1203.6,2077.8 1203.8,2072.2 1204.1,2072.2 1204.3,2080.3 1204.6,2076.6 1204.8,2082.5 1205,2085.2 1205.3,2073.8 1205.5,2076.4 1205.8,2081.1 1206,2081.5 1206.2,2076.1 1206.5,2079 1206.7,2082.2 1207,2079.7 1207.2,2081.2 1207.4,2083.2 1207.7,2084.7 1207.9,2077.7 1208.2,2084 1208.4,2087.3 1208.7,2074.3 1208.9,2077 1209.1,2080.4 1209.4,2083.2 1209.6,2082.2 1209.9,2089.7 1210.1,2083.4 1210.3,2082.2 1210.6,2084.5 1210.8,2081.7 1211.1,2087.1 1211.3,2082.9 1211.5,2090.9 1211.8,2084 1212,2086.7 1212.3,2090 1212.5,2085.9 1212.7,2084.2 1213,2087.1 1213.2,2080.4 1213.5,2087.9 1213.7,2080.7 1214,2081.9 1214.2,2088.1 1214.4,2079.1 1214.7,2092.1 1214.9,2083.8 1215.2,2086.2 1215.4,2083.3 1215.6,2094.2 1215.9,2092.7 1216.1,2091.4 1216.4,2087.9 1216.6,2087.9 1216.8,2088.5 1217.1,2090 1217.3,2092.3 1217.6,2095.5 1217.8,2091.5 1218,2087.3 1218.3,2085.2 1218.5,2092.1 1218.8,2085 1219,2095.8 1219.3,2086 1219.5,2094 1219.7,2087.7 1220,2092.7 1220.2,2092.3 1220.5,2089.9 1220.7,2080.7 1220.9,2089.4 1221.2,2083.2 1221.4,2084.9 1221.7,2083.8 1221.9,2083.4 1222.1,2081.7 1222.4,2089.4 1222.6,2083.7 1222.9,2082.1 1223.1,2086 1223.3,2081.7 1223.6,2087.6 1223.8,2079.8 1224.1,2085.9 1224.3,2083.8 1224.6,2079 1224.8,2077.6 1225,2084.6 1225.3,2084.7 1225.5,2077.6 1225.8,2094.2 1226,2075.9 1226.2,2076.1 1226.5,2086.2 1226.7,2076.6 1227,2080.2 1227.2,2079.9 1227.4,2091.8 1227.7,2084.1 1227.9,2082.8 1228.2,2083.8 1228.4,2083.6 1228.6,2083.1 1228.9,2093.9 1229.1,2082.4 1229.4,2084.3 1229.6,2081.5 1229.9,2082.9 1230.1,2080.6 1230.3,2079.1 1230.6,2072.6 1230.8,2083.4 1231.1,2072.6 1231.3,2080.7 1231.5,2083.3 1231.8,2085.6 1232,2075.8 1232.3,2085.7 1232.5,2075.3 1232.7,2077.5 1233,2081.2 1233.2,2081.4 1233.5,2076.3 1233.7,2077.5 1233.9,2074.8 1234.2,2077.6 1234.4,2079.6 1234.7,2075 1234.9,2082.1 1235.1,2073.5 1235.4,2076.9 1235.6,2081.8 1235.9,2081.5 1236.1,2078.9 1236.4,2085.4 1236.6,2072.3 1236.8,2074.5 1237.1,2083.4 1237.3,2079.6 1237.6,2072.4 1237.8,2078 1238,2084 1238.3,2088.8 1238.5,2086.6 1238.8,2074.7 1239,2078.1 1239.2,2084.7 1239.5,2076.1 1239.7,2080.3 1240,2081.4 1240.2,2080.6 1240.4,2080.3 1240.7,2071.4 1240.9,2082.2 1241.2,2080 1241.4,2072.7 1241.7,2072 1241.9,2082.4 1242.1,2069.6 1242.4,2073.6 1242.6,2084.4 1242.9,2070.6 1243.1,2084.3 1243.3,2075.3 1243.6,2083 1243.8,2085.7 1244.1,2074.8 1244.3,2076.7 1244.5,2079 1244.8,2078.1 1245,2079.5 1245.3,2080.4 1245.5,2084 1245.7,2077.3 1246,2079.8 1246.2,2081 1246.5,2082.5 1246.7,2081.3 1247,2086.5 1247.2,2081.4 1247.4,2084.1 1247.7,2074.5 1247.9,2083.7 1248.2,2081.5 1248.4,2079.3 1248.6,2075.9 1248.9,2077.2 1249.1,2078.9 1249.4,2069.8 1249.6,2078.8 1249.8,2077.4 1250.1,2067.3 1250.3,2082.5 1250.6,2074.9 1250.8,2077.1 1251,2084.6 1251.3,2081.8 1251.5,2075.8 1251.8,2085.5 1252,2080.3 1252.3,2075.8 1252.5,2080.7 1252.7,2078.7 1253,2082.7 1253.2,2082.6 1253.5,2082.6 1253.7,2081.6 1253.9,2077.6 1254.2,2080.1 1254.4,2072.3 1254.7,2078.3 1254.9,2079.6 1255.1,2071.5 1255.4,2081.5 1255.6,2084.5 1255.9,2080.6 1256.1,2085.8 1256.3,2079.1 1256.6,2075.6 1256.8,2078.6 1257.1,2082.9 1257.3,2081.7 1257.6,2078.9 1257.8,2075.8 1258,2082.3 1258.3,2082.2 1258.5,2075.7 1258.8,2079.2 1259,2078.5 1259.2,2077.9 1259.5,2083.1 1259.7,2080.4 1260,2075.3 1260.2,2080.4 1260.4,2080.5 1260.7,2078.3 1260.9,2077.8 1261.2,2068.5 1261.4,2082.5 1261.6,2078.4 1261.9,2070.2 1262.1,2078.5 1262.4,2076.9 1262.6,2084.6 1262.9,2074.2 1263.1,2074.7 1263.3,2075 1263.6,2079.3 1263.8,2077.1 1264.1,2079.1 1264.3,2075.3 1264.5,2079.1 1264.8,2075.8 1265,2084.9 1265.3,2080.6 1265.5,2091.3 1265.7,2079.6 1266,2075.5 1266.2,2079.8 1266.5,2068.4 1266.7,2082.6 1266.9,2079.6 1267.2,2082 1267.4,2080.1 1267.7,2079.9 1267.9,2084.3 1268.2,2082.2 1268.4,2069.2 1268.6,2079.2 1268.9,2074.1 1269.1,2083.6 1269.4,2078.6 1269.6,2075.8 1269.8,2078.8 1270.1,2080.3 1270.3,2078.8 1270.6,2077.8 1270.8,2074.3 1271,2072.8 1271.3,2083.8 1271.5,2087.1 1271.8,2079.1 1272,2078.4 1272.2,2075.5 1272.5,2074.1 1272.7,2081.9 1273,2070.1 1273.2,2078.2 1273.4,2087.2 1273.7,2075.4 1273.9,2078.5 1274.2,2078.5 1274.4,2086.7 1274.7,2081 1274.9,2079 1275.1,2080.2 1275.4,2076.5 1275.6,2073.9 1275.9,2072.6 1276.1,2073.7 1276.3,2079.8 1276.6,2071.6 1276.8,2077.9 1277.1,2075.3 1277.3,2080 1277.5,2085 1277.8,2088.7 1278,2078 1278.3,2081.7 1278.5,2078.7 1278.7,2074.8 1279,2085.2 1279.2,2086.2 1279.5,2077.5 1279.7,2077.1 1280,2079.9 1280.2,2081 1280.4,2085.7 1280.7,2079.3 1280.9,2082.2 1281.2,2077.2 1281.4,2075 1281.6,2081.5 1281.9,2077.2 1282.1,2078.2 1282.4,2075.9 1282.6,2072.2 1282.8,2075.9 1283.1,2075.5 1283.3,2075.1 1283.6,2080.2 1283.8,2078.3 1284,2076.8 1284.3,2073 1284.5,2072.7 1284.8,2068.6 1285,2082.9 1285.3,2078.5 1285.5,2085.7 1285.7,2080.8 1286,2085.5 1286.2,2073.7 1286.5,2075.5 1286.7,2083.3 1286.9,2077.4 1287.2,2075.6 1287.4,2071.4 1287.7,2075.2 1287.9,2078 1288.1,2078.8 1288.4,2075.6 1288.6,2076.8 1288.9,2079.9 1289.1,2082.8 1289.3,2073 1289.6,2080.3 1289.8,2078.2 1290.1,2073.5 1290.3,2076.9 1290.6,2071.8 1290.8,2081.2 1291,2073.3 1291.3,2082.1 1291.5,2082.9 1291.8,2081.1 1292,2076.4 1292.2,2079.8 1292.5,2082.9 1292.7,2072.3 1293,2081.5 1293.2,2078 1293.4,2076.5 1293.7,2079.6 1293.9,2076.1 1294.2,2075 1294.4,2078 1294.6,2073.2 1294.9,2079.9 1295.1,2081.9 1295.4,2076.6 1295.6,2081.5 1295.9,2076 1296.1,2078.1 1296.3,2079.8 1296.6,2075.5 1296.8,2075.9 1297.1,2090.5 1297.3,2079.7 1297.5,2077.9 1297.8,2076.6 1298,2080.9 1298.3,2083.4 1298.5,2078.1 1298.7,2075.7 1299,2086.9 1299.2,2084.4 1299.5,2080.4 1299.7,2088.4 1299.9,2079.9 1300.2,2073.8 1300.4,2081.3 1300.7,2076.1 1300.9,2080.2 1301.2,2074.7 1301.4,2073.7 1301.6,2071 1301.9,2076.1 1302.1,2072.2 1302.4,2075 1302.6,2078.8 1302.8,2071 1303.1,2079.7 1303.3,2076.8 1303.6,2067.6 1303.8,2074.3 1304,2081.5 1304.3,2077 1304.5,2080.7 1304.8,2079.1 1305,2084.9 1305.2,2077.8 1305.5,2085.2 1305.7,2077.3 1306,2077.3 1306.2,2075.4 1306.4,2069.7 1306.7,2085.7 1306.9,2083.8 1307.2,2083 1307.4,2081.3 1307.7,2075.4 1307.9,2080.5 1308.1,2081.6 1308.4,2084 1308.6,2082.1 1308.9,2081.4 1309.1,2080.1 1309.3,2085.7 1309.6,2080.2 1309.8,2077.5 1310.1,2078.4 1310.3,2085 1310.5,2076.4 1310.8,2076.4 1311,2078.4 1311.3,2084.5 1311.5,2085.4 1311.7,2079.1 1312,2083.5 1312.2,2084.7 1312.5,2075.5 1312.7,2075.4 1313,2076.6 1313.2,2073.9 1313.4,2075.7 1313.7,2084.3 1313.9,2074.9 1314.2,2079.2 1314.4,2077.9 1314.6,2073.4 1314.9,2078.1 1315.1,2073.4 1315.4,2079.7 1315.6,2081.5 1315.8,2082.9 1316.1,2080.5 1316.3,2086.9 1316.6,2080.2 1316.8,2080.5 1317,2082.1 1317.3,2089.1 1317.5,2088.7 1317.8,2076.9 1318,2083.8 1318.3,2074.1 1318.5,2082.7 1318.7,2078.3 1319,2085.7 1319.2,2082.4 1319.5,2080.7 1319.7,2077.4 1319.9,2072.8 1320.2,2075.8 1320.4,2085.7 1320.7,2079.6 1320.9,2080.2 1321.1,2081.9 1321.4,2076.7 1321.6,2072.4 1321.9,2080.6 1322.1,2073.9 1322.3,2072.5 1322.6,2082.5 1322.8,2070.7 1323.1,2070.9 1323.3,2076.6 1323.6,2070.7 1323.8,2076.7 1324,2073 1324.3,2075.1 1324.5,2081.3 1324.8,2076.6 1325,2078.2 1325.2,2079.4 1325.5,2082 1325.7,2080.2 1326,2081.9 1326.2,2071.9 1326.4,2084.5 1326.7,2075.9 1326.9,2078.6 1327.2,2081.1 1327.4,2073 1327.6,2079.3 1327.9,2071.1 1328.1,2076.9 1328.4,2074.9 1328.6,2076.9 1328.9,2073.8 1329.1,2072.8 1329.3,2078.6 1329.6,2077 1329.8,2069.8 1330.1,2079.5 1330.3,2069.8 1330.5,2079 1330.8,2079.8 1331,2084.5 1331.3,2081.1 1331.5,2084.9 1331.7,2080 1332,2074.8 1332.2,2077.8 1332.5,2079.9 1332.7,2081.6 1332.9,2080.1 1333.2,2083.2 1333.4,2082.4 1333.7,2069.1 1333.9,2076.2 1334.2,2081 1334.4,2074.6 1334.6,2071.2 1334.9,2080.1 1335.1,2078.1 1335.4,2082.9 1335.6,2084.4 1335.8,2072.2 1336.1,2063.8 1336.3,2081 1336.6,2084.7 1336.8,2072.3 1337,2073.8 1337.3,2076.4 1337.5,2072.4 1337.8,2080.1 1338,2077.9 1338.2,2076.1 1338.5,2081 1338.7,2078 1339,2081.3 1339.2,2078.7 1339.5,2080.1 1339.7,2089.1 1339.9,2080.6 1340.2,2086.8 1340.4,2084.2 1340.7,2087.3 1340.9,2076.7 1341.1,2081 1341.4,2080.8 1341.6,2073.6 1341.9,2075.4 1342.1,2078.8 1342.3,2086.2 1342.6,2074.6 1342.8,2078.3 1343.1,2078.7 1343.3,2074.1 1343.5,2079.8 1343.8,2077.7 1344,2073.9 1344.3,2075.5 1344.5,2080.7 1344.7,2072.4 1345,2074 1345.2,2071.3 1345.5,2079.6 1345.7,2078.7 1346,2075.5 1346.2,2078.2 1346.4,2079.6 1346.7,2080.8 1346.9,2081.7 1347.2,2083.2 1347.4,2083.3 1347.6,2079 1347.9,2082 1348.1,2086.7 1348.4,2080.7 1348.6,2074 1348.8,2075.3 1349.1,2089.3 1349.3,2084.5 1349.6,2077.7 1349.8,2080.5 1350,2080.4 1350.3,2081.2 1350.5,2080.3 1350.8,2084.6 1351,2075.3 1351.3,2084.4 1351.5,2080.6 1351.7,2073.6 1352,2075.4 1352.2,2079.9 1352.5,2080 1352.7,2082.5 1352.9,2082.1 1353.2,2081.1 1353.4,2074.5 1353.7,2081.9 1353.9,2077.8 1354.1,2078.3 1354.4,2078.3 1354.6,2081.1 1354.9,2076.8 1355.1,2079 1355.3,2079.1 1355.6,2081.4 1355.8,2088.2 1356.1,2076 1356.3,2075.8 1356.6,2080.9 1356.8,2079.4 1357,2077.3 1357.3,2082.5 1357.5,2075.4 1357.8,2075.3 1358,2074.7 1358.2,2074.4 1358.5,2086.2 1358.7,2076.1 1359,2080.2 1359.2,2073.8 1359.4,2074.2 1359.7,2075.3 1359.9,2079.3 1360.2,2067.4 1360.4,2079.5 1360.6,2083.9 1360.9,2075.6 1361.1,2085.9 1361.4,2071.9 1361.6,2075.9 1361.9,2074.7 1362.1,2075.9 1362.3,2078.6 1362.6,2085.8 1362.8,2082.8 1363.1,2077.9 1363.3,2080.9 1363.5,2078.4 1363.8,2082.7 1364,2082.9 1364.3,2078.2 1364.5,2076.2 1364.7,2079.2 1365,2083.1 1365.2,2085.9 1365.5,2070.5 1365.7,2083.6 1365.9,2082.5 1366.2,2081.9 1366.4,2075.1 1366.7,2082 1366.9,2076.5 1367.2,2077.5 1367.4,2083.5 1367.6,2078 1367.9,2083.6 1368.1,2079.1 1368.4,2075.2 1368.6,2079.1 1368.8,2081.8 1369.1,2079.6 1369.3,2078.6 1369.6,2076.3 1369.8,2087.2 1370,2085.4 1370.3,2075.7 1370.5,2078.3 1370.8,2077.9 1371,2077.2 1371.2,2078.9 1371.5,2080.2 1371.7,2078 1372,2075.8 1372.2,2077.2 1372.5,2078.6 1372.7,2083 1372.9,2077.6 1373.2,2083.3 1373.4,2081.2 1373.7,2077.7 1373.9,2077.7 1374.1,2073.6 1374.4,2074.4 1374.6,2075.9 1374.9,2079.2 1375.1,2077.9 1375.3,2078.8 1375.6,2070.7 1375.8,2076.1 1376.1,2080.8 1376.3,2081.8 1376.5,2073.4 1376.8,2082.3 1377,2077.4 1377.3,2078.4 1377.5,2074.9 1377.8,2083.1 1378,2077.8 1378.2,2079 1378.5,2076.7 1378.7,2074.5 1379,2079.9 1379.2,2081.3 1379.4,2076.9 1379.7,2086.5 1379.9,2080.1 1380.2,2085 1380.4,2086.1 1380.6,2087.7 1380.9,2088.1 1381.1,2077.9 1381.4,2077.8 1381.6,2081 1381.8,2077 1382.1,2081.1 1382.3,2083.1 1382.6,2085.3 1382.8,2077.4 1383,2076.8 1383.3,2074.6 1383.5,2082.8 1383.8,2080.2 1384,2084.3 1384.3,2073.6 1384.5,2075.2 1384.7,2075.8 1385,2077.9 1385.2,2078.4 1385.5,2079.3 1385.7,2073.3 1385.9,2080.6 1386.2,2074.4 1386.4,2077 1386.7,2082.4 1386.9,2084.3 1387.1,2081.5 1387.4,2078.3 1387.6,2083.4 1387.9,2075.3 1388.1,2073 1388.3,2075.3 1388.6,2084.5 1388.8,2087.1 1389.1,2073.5 1389.3,2070.8 1389.6,2078.6 1389.8,2074.7 1390,2078 1390.3,2079.5 1390.5,2072.7 1390.8,2079.2 1391,2073.3 1391.2,2069.7 1391.5,2077.4 1391.7,2069 1392,2082.4 1392.2,2073 1392.4,2076.8 1392.7,2066.1 1392.9,2076.7 1393.2,2080.3 1393.4,2070.1 1393.6,2083.5 1393.9,2075.2 1394.1,2080.4 1394.4,2071.4 1394.6,2077.8 1394.9,2073.8 1395.1,2077.8 1395.3,2082.4 1395.6,2086.9 1395.8,2070.2 1396.1,2076.8 1396.3,2082.7 1396.5,2079.1 1396.8,2073.4 1397,2083.9 1397.3,2067.6 1397.5,2078.2 1397.7,2078.6 1398,2071.3 1398.2,2075.7 1398.5,2080.8 1398.7,2072.4 1398.9,2074.3 1399.2,2071.3 1399.4,2080.2 1399.7,2081 1399.9,2073.4 1400.2,2078.1 1400.4,2085.6 1400.6,2078.9 1400.9,2073.6 1401.1,2079.6 1401.4,2071 1401.6,2078.9 1401.8,2077.3 1402.1,2084.2 1402.3,2080.8 1402.6,2078.3 1402.8,2075.2 1403,2077.2 1403.3,2073.6 1403.5,2088.1 1403.8,2078.6 1404,2079.6 1404.2,2083.7 1404.5,2079.4 1404.7,2082.6 1405,2077.5 1405.2,2080.9 1405.5,2077.1 1405.7,2083.4 1405.9,2073.8 1406.2,2077.6 1406.4,2071.5 1406.7,2080 1406.9,2081.6 1407.1,2078.9 1407.4,2081.6 1407.6,2084.2 1407.9,2079.6 1408.1,2080 1408.3,2082.6 1408.6,2081.5 1408.8,2084.2 1409.1,2079.2 1409.3,2085.8 1409.5,2072.4 1409.8,2079.7 1410,2075.6 1410.3,2085 1410.5,2078.1 1410.8,2080 1411,2074.9 1411.2,2075.3 1411.5,2086.1 1411.7,2073.7 1412,2085.2 1412.2,2072.7 1412.4,2078.7 1412.7,2083.7 1412.9,2075.4 1413.2,2078.4 1413.4,2082.9 1413.6,2081.9 1413.9,2076.8 1414.1,2084.9 1414.4,2082.8 1414.6,2071.1 1414.8,2082.5 1415.1,2077.6 1415.3,2077.3 1415.6,2075 1415.8,2075.3 1416.1,2089.9 1416.3,2080.9 1416.5,2073.6 1416.8,2082 1417,2070.6 1417.3,2077.3 1417.5,2083.6 1417.7,2075.9 1418,2070 1418.2,2081.3 1418.5,2076.1 1418.7,2082.4 1418.9,2081.2 1419.2,2078.4 1419.4,2076.9 1419.7,2077.8 1419.9,2078.7 1420.1,2069.5 1420.4,2084.6 1420.6,2088.1 1420.9,2077.8 1421.1,2079.5 1421.3,2086.5 1421.6,2073 1421.8,2083.4 1422.1,2086.4 1422.3,2078.5 1422.6,2077.6 1422.8,2070.3 1423,2086.8 1423.3,2085.7 1423.5,2081.4 1423.8,2082.1 1424,2080.5 1424.2,2083.1 1424.5,2086.6 1424.7,2081.7 1425,2076.6 1425.2,2076.1 1425.4,2082 1425.7,2076.7 1425.9,2077.1 1426.2,2080.7 1426.4,2080 1426.6,2078.2 1426.9,2066.5 1427.1,2077.6 1427.4,2082 1427.6,2078.9 1427.9,2080.6 1428.1,2073.4 1428.3,2087.3 1428.6,2082.8 1428.8,2074.6 1429.1,2076.4 1429.3,2078 1429.5,2075.2 1429.8,2083.9 1430,2076.9 1430.3,2083.4 1430.5,2084.2 1430.7,2076.9 1431,2082.6 1431.2,2080.9 1431.5,2076.9 1431.7,2084.1 1431.9,2077.2 1432.2,2070.4 1432.4,2080.7 1432.7,2075.8 1432.9,2076.7 1433.2,2085.2 1433.4,2085.7 1433.6,2080 1433.9,2089.1 1434.1,2080 1434.4,2079.2 1434.6,2078.4 1434.8,2078.6 1435.1,2075 1435.3,2082 1435.6,2075 1435.8,2078.5 1436,2078.4 1436.3,2081.2 1436.5,2076.5 1436.8,2083.5 1437,2077.2 1437.2,2075.4 1437.5,2082.7 1437.7,2083.7 1438,2082.7 1438.2,2079.6 1438.5,2077.7 1438.7,2075.4 1438.9,2071.1 1439.2,2072.2 1439.4,2077.8 1439.7,2080.6 1439.9,2084.1 1440.1,2075.8 1440.4,2077.2 1440.6,2080.8 1440.9,2080.6 1441.1,2080.7 1441.3,2091.3 1441.6,2081.1 1441.8,2079.8 1442.1,2082 1442.3,2086.3 1442.5,2082 1442.8,2080.4 1443,2075.2 1443.3,2078.5 1443.5,2080.6 1443.8,2083.4 1444,2088.8 1444.2,2085.2 1444.5,2088.9 1444.7,2083.6 1445,2078.6 1445.2,2078.5 1445.4,2078.9 1445.7,2082.3 1445.9,2078 1446.2,2083 1446.4,2089.7 1446.6,2080.6 1446.9,2080.6 1447.1,2087.7 1447.4,2082.4 1447.6,2090.1 1447.8,2081.6 1448.1,2074.4 1448.3,2082 1448.6,2073.8 1448.8,2078.4 1449.1,2082.5 1449.3,2086.9 1449.5,2076.5 1449.8,2076.9 1450,2086 1450.3,2081.6 1450.5,2075.2 1450.7,2082.8 1451,2077.8 1451.2,2087.3 1451.5,2082.6 1451.7,2075.3 1451.9,2082.8 1452.2,2083.4 1452.4,2082.7 1452.7,2078 1452.9,2082.5 1453.1,2076 1453.4,2072.9 1453.6,2068.6 1453.9,2076.4 1454.1,2067.8 1454.4,2072.1 1454.6,2075.3 1454.8,2072.3 1455.1,2068.2 1455.3,2068.4 1455.6,2071.6 1455.8,2075.3 1456,2071.6 1456.3,2074.3 1456.5,2074.8 1456.8,2074.6 1457,2068.5"/>
<g stroke="#161616" stroke-width="4.6" fill="none" stroke-linecap="butt">
<rect x="252.6" y="1192.5" width="1204.4" height="970"/>
<path stroke-width="3.4" d="M252.6 2074.3H240.8M252.6 1986.1H231.3M252.6 1898H240.8M252.6 1809.8H231.3M252.6 1721.6H240.8M252.6 1633.4H231.3M252.6 1545.2H240.8M252.6 1457H231.3M252.6 1368.9H240.8M252.6 1280.7H231.3M252.6 1192.5H240.8M252.6 2162.5V2174.3M373 2162.5V2183.8M493.5 2162.5V2174.3M613.9 2162.5V2183.8M734.4 2162.5V2174.3M854.8 2162.5V2183.8M975.2 2162.5V2174.3M1095.7 2162.5V2183.8M1216.1 2162.5V2174.3M1336.6 2162.5V2183.8M1457 2162.5V2174.3"/>
</g>
<g class="tk">
<text transform="translate(219.6 1998.7) scale(1 1.11)" text-anchor="end">0</text>
<text transform="translate(219.6 1822.4) scale(1 1.11)" text-anchor="end">2000</text>
<text transform="translate(219.6 1646) scale(1 1.11)" text-anchor="end">4000</text>
<text transform="translate(219.6 1469.6) scale(1 1.11)" text-anchor="end">6000</text>
<text transform="translate(219.6 1293.3) scale(1 1.11)" text-anchor="end">8000</text>
<text transform="translate(373 2226.5) scale(1 1.11)" text-anchor="middle">20</text>
<text transform="translate(613.9 2226.5) scale(1 1.11)" text-anchor="middle">40</text>
<text transform="translate(854.8 2226.5) scale(1 1.11)" text-anchor="middle">60</text>
<text transform="translate(1095.7 2226.5) scale(1 1.11)" text-anchor="middle">80</text>
<text transform="translate(1336.6 2226.5) scale(1 1.11)" text-anchor="middle">100</text>
</g>
<text class="ti" y="2319"><tspan x="707">2</tspan><tspan class="th" x="742.5">θ </tspan><tspan x="788.5">/degree</tspan></text>
<text class="ti" transform="translate(87.3 1658) rotate(-90)" text-anchor="middle">Intensity /a.u.</text>
<text class="pl" x="290.5" y="1293">(b)</text>
<g class="pk">
<text transform="translate(367.5 1870.3) rotate(-90) scale(1.012 1)" text-anchor="middle">(111)</text>
<text transform="translate(506.7 1692.8) rotate(-90) scale(1.012 1)" text-anchor="middle">(220)</text>
<text transform="translate(531.1 1282.2) rotate(-90) scale(1.012 1)" text-anchor="middle">(311)</text>
<text transform="translate(613.7 1824.5) rotate(-90) scale(1.012 1)" text-anchor="middle">(222)</text>
<text transform="translate(668.5 1753.5) rotate(-90) scale(1.012 1)" text-anchor="middle">(400)</text>
<text transform="translate(719.1 1886.5) rotate(-90) scale(1.012 1)" text-anchor="middle">(331)</text>
<text transform="translate(787 1834.5) rotate(-90) scale(1.012 1)" text-anchor="middle">(422)</text>
<text transform="translate(831.6 1703) rotate(-90) scale(1.012 1)" text-anchor="middle">(511)</text>
<text transform="translate(903.2 1624.3) rotate(-90) scale(1.012 1)" text-anchor="middle">(440)</text>
<text transform="translate(948.2 1885) rotate(-90) scale(1.012 1)" text-anchor="middle">(531)</text>
<text transform="translate(996.4 1875.8) rotate(-90) scale(1.012 1)" text-anchor="middle">(620)</text>
<text transform="translate(1042.5 1850.6) rotate(-90) scale(1.012 1)" text-anchor="middle">(533)</text>
<text transform="translate(1101.2 1886) rotate(-90) scale(1.012 1)" text-anchor="middle">(444)</text>
<text transform="translate(1189 1874.7) rotate(-90) scale(1.012 1)" text-anchor="middle">(642)</text>
<text transform="translate(1233 1793.9) rotate(-90) scale(1.012 1)" text-anchor="middle">(731)(553)</text>
<text transform="translate(1292.7 1871.4) rotate(-90) scale(1.012 1)" text-anchor="middle">(800)</text>
</g>
<circle cx="1145.5" cy="1257.8" r="3.2" fill="#fff" stroke="#777" stroke-width="1.3"/>
<path d="M1087.4 1319.3H1203" stroke="#a83c3c" stroke-width="2.9"/>
<path d="M1087.4 1383.5H1203" stroke="#22228c" stroke-width="2.9"/>
<g class="lg">
<text x="1214.5" y="1274">Y<tspan class="sb">obs</tspan></text>
<text x="1214.5" y="1337.2">Y<tspan class="sb">calc</tspan></text>
<text x="1214.5" y="1401.4">Y<tspan class="sb">obs</tspan>-Y<tspan class="sb">calc</tspan></text>
</g>
</g>
</g>
</svg>
</body></html>
